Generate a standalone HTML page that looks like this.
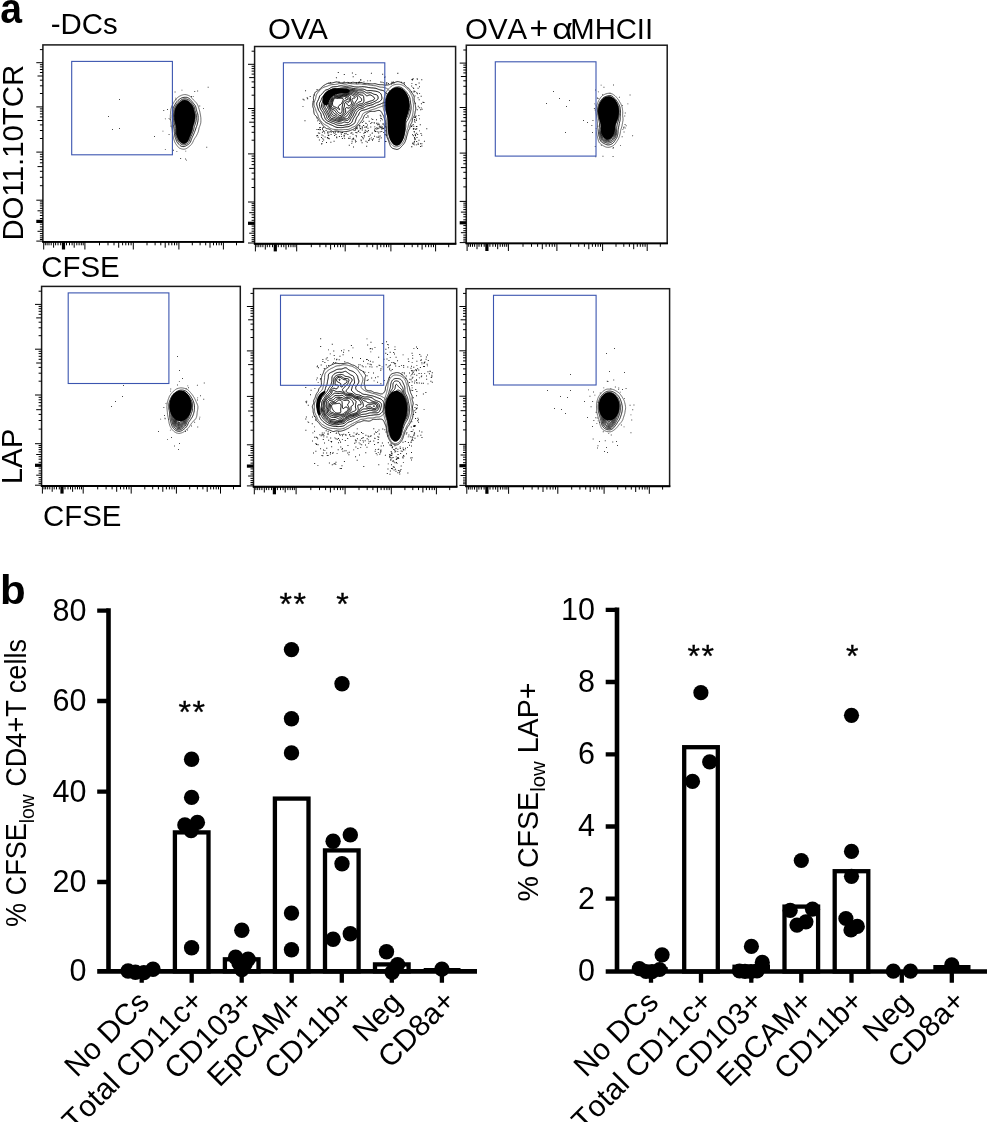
<!DOCTYPE html>
<html><head><meta charset="utf-8"><title>figure</title><style>html,body{margin:0;padding:0;background:#fff}svg{display:block}</style></head><body>
<svg width="987" height="1122" viewBox="0 0 987 1122" font-family="'Liberation Sans', sans-serif" fill="#000">
<rect width="987" height="1122" fill="#fff"/>
<rect x="42.9" y="44.9" width="200.5" height="197.0" fill="#fff" stroke="#1a1a1a" stroke-width="1.5"/>
<line x1="42.199999999999996" y1="241.9" x2="244.1" y2="241.9" stroke="#000" stroke-width="1.9"/>
<rect x="61.9" y="241.9" width="3.2" height="7.6" fill="#000"/>
<rect x="36.3" y="219.8" width="6.6" height="3.2" fill="#000"/>
<path d="M43.7,241.9v7.6M84.9,241.9v7.6M133.3,241.9v7.6M178.9,241.9v7.6M223.4,241.9v7.6M60.7,241.9v3.4000000000000004M58.0,241.9v3.4000000000000004M55.6,241.9v3.4000000000000004M53.6,241.9v5.8M51.2,241.9v3.4000000000000004M49.0,241.9v3.4000000000000004M47.1,241.9v3.4000000000000004M45.3,241.9v3.4000000000000004M66.5,241.9v3.4000000000000004M69.5,241.9v3.4000000000000004M72.1,241.9v3.4000000000000004M74.2,241.9v5.8M76.8,241.9v3.4000000000000004M79.1,241.9v3.4000000000000004M81.3,241.9v3.4000000000000004M83.2,241.9v3.4000000000000004M99.5,241.9v3.4000000000000004M108.0,241.9v3.4000000000000004M114.0,241.9v3.4000000000000004M118.7,241.9v5.8M122.6,241.9v3.4000000000000004M125.8,241.9v3.4000000000000004M128.6,241.9v3.4000000000000004M131.1,241.9v3.4000000000000004M147.0,241.9v3.4000000000000004M155.1,241.9v3.4000000000000004M160.8,241.9v3.4000000000000004M165.2,241.9v5.8M168.8,241.9v3.4000000000000004M171.8,241.9v3.4000000000000004M174.5,241.9v3.4000000000000004M176.8,241.9v3.4000000000000004M192.3,241.9v3.4000000000000004M200.1,241.9v3.4000000000000004M205.7,241.9v3.4000000000000004M210.0,241.9v5.8M213.5,241.9v3.4000000000000004M216.5,241.9v3.4000000000000004M219.1,241.9v3.4000000000000004M221.4,241.9v3.4000000000000004M236.5,241.9v3.4000000000000004M42.9,241.1h-6.6M42.9,200.2h-6.6M42.9,152.1h-6.6M42.9,106.9h-6.6M42.9,62.7h-6.6M42.9,224.2h-3.0M42.9,226.9h-3.0M42.9,229.3h-3.0M42.9,231.3h-5.4M42.9,233.6h-3.0M42.9,235.8h-3.0M42.9,237.8h-3.0M42.9,239.5h-3.0M42.9,218.5h-3.0M42.9,215.5h-3.0M42.9,212.9h-3.0M42.9,210.8h-5.4M42.9,208.3h-3.0M42.9,205.9h-3.0M42.9,203.8h-3.0M42.9,201.9h-3.0M42.9,185.7h-3.0M42.9,177.3h-3.0M42.9,171.3h-3.0M42.9,166.6h-5.4M42.9,162.8h-3.0M42.9,159.6h-3.0M42.9,156.8h-3.0M42.9,154.3h-3.0M42.9,138.5h-3.0M42.9,130.5h-3.0M42.9,124.9h-3.0M42.9,120.5h-5.4M42.9,116.9h-3.0M42.9,113.9h-3.0M42.9,111.2h-3.0M42.9,108.9h-3.0M42.9,93.5h-3.0M42.9,85.8h-3.0M42.9,80.2h-3.0M42.9,76.0h-5.4M42.9,72.5h-3.0M42.9,69.5h-3.0M42.9,66.9h-3.0M42.9,64.7h-3.0M42.9,49.6h-3.0" stroke="#000" stroke-width="1" fill="none"/>
<rect x="254.6" y="46.5" width="201.0" height="197.3" fill="#fff" stroke="#1a1a1a" stroke-width="1.5"/>
<line x1="253.9" y1="243.8" x2="456.3" y2="243.8" stroke="#000" stroke-width="1.9"/>
<rect x="273.7" y="243.8" width="3.2" height="7.6" fill="#000"/>
<rect x="248.0" y="221.7" width="6.6" height="3.2" fill="#000"/>
<path d="M255.4,243.8v7.6M296.7,243.8v7.6M345.2,243.8v7.6M390.9,243.8v7.6M435.6,243.8v7.6M272.5,243.8v3.4000000000000004M269.7,243.8v3.4000000000000004M267.3,243.8v3.4000000000000004M265.3,243.8v5.8M262.9,243.8v3.4000000000000004M260.8,243.8v3.4000000000000004M258.8,243.8v3.4000000000000004M257.0,243.8v3.4000000000000004M278.3,243.8v3.4000000000000004M281.3,243.8v3.4000000000000004M283.8,243.8v3.4000000000000004M286.0,243.8v5.8M288.6,243.8v3.4000000000000004M290.9,243.8v3.4000000000000004M293.1,243.8v3.4000000000000004M295.0,243.8v3.4000000000000004M311.3,243.8v3.4000000000000004M319.9,243.8v3.4000000000000004M325.9,243.8v3.4000000000000004M330.6,243.8v5.8M334.5,243.8v3.4000000000000004M337.7,243.8v3.4000000000000004M340.5,243.8v3.4000000000000004M343.0,243.8v3.4000000000000004M359.0,243.8v3.4000000000000004M367.0,243.8v3.4000000000000004M372.7,243.8v3.4000000000000004M377.2,243.8v5.8M380.8,243.8v3.4000000000000004M383.9,243.8v3.4000000000000004M386.5,243.8v3.4000000000000004M388.8,243.8v3.4000000000000004M404.4,243.8v3.4000000000000004M412.2,243.8v3.4000000000000004M417.8,243.8v3.4000000000000004M422.1,243.8v5.8M425.7,243.8v3.4000000000000004M428.6,243.8v3.4000000000000004M431.2,243.8v3.4000000000000004M433.5,243.8v3.4000000000000004M448.7,243.8v3.4000000000000004M254.6,243.0h-6.6M254.6,202.0h-6.6M254.6,153.9h-6.6M254.6,108.5h-6.6M254.6,64.3h-6.6M254.6,226.1h-3.0M254.6,228.8h-3.0M254.6,231.2h-3.0M254.6,233.2h-5.4M254.6,235.5h-3.0M254.6,237.7h-3.0M254.6,239.7h-3.0M254.6,241.4h-3.0M254.6,220.3h-3.0M254.6,217.4h-3.0M254.6,214.8h-3.0M254.6,212.7h-5.4M254.6,210.1h-3.0M254.6,207.8h-3.0M254.6,205.6h-3.0M254.6,203.7h-3.0M254.6,187.5h-3.0M254.6,179.1h-3.0M254.6,173.1h-3.0M254.6,168.4h-5.4M254.6,164.6h-3.0M254.6,161.4h-3.0M254.6,158.6h-3.0M254.6,156.1h-3.0M254.6,140.2h-3.0M254.6,132.3h-3.0M254.6,126.6h-3.0M254.6,122.2h-5.4M254.6,118.6h-3.0M254.6,115.6h-3.0M254.6,112.9h-3.0M254.6,110.6h-3.0M254.6,95.2h-3.0M254.6,87.4h-3.0M254.6,81.9h-3.0M254.6,77.6h-5.4M254.6,74.1h-3.0M254.6,71.1h-3.0M254.6,68.6h-3.0M254.6,66.3h-3.0M254.6,51.2h-3.0" stroke="#000" stroke-width="1" fill="none"/>
<rect x="466.3" y="45.2" width="200.9" height="198.2" fill="#fff" stroke="#1a1a1a" stroke-width="1.5"/>
<line x1="465.6" y1="243.4" x2="667.9000000000001" y2="243.4" stroke="#000" stroke-width="1.9"/>
<rect x="485.3" y="243.4" width="3.2" height="7.6" fill="#000"/>
<rect x="459.7" y="221.2" width="6.6" height="3.2" fill="#000"/>
<path d="M467.1,243.4v7.6M508.4,243.4v7.6M556.9,243.4v7.6M602.6,243.4v7.6M647.2,243.4v7.6M484.2,243.4v3.4000000000000004M481.4,243.4v3.4000000000000004M479.0,243.4v3.4000000000000004M477.0,243.4v5.8M474.6,243.4v3.4000000000000004M472.5,243.4v3.4000000000000004M470.5,243.4v3.4000000000000004M468.7,243.4v3.4000000000000004M489.9,243.4v3.4000000000000004M492.9,243.4v3.4000000000000004M495.5,243.4v3.4000000000000004M497.7,243.4v5.8M500.2,243.4v3.4000000000000004M502.6,243.4v3.4000000000000004M504.7,243.4v3.4000000000000004M506.7,243.4v3.4000000000000004M523.0,243.4v3.4000000000000004M531.5,243.4v3.4000000000000004M537.6,243.4v3.4000000000000004M542.3,243.4v5.8M546.1,243.4v3.4000000000000004M549.4,243.4v3.4000000000000004M552.2,243.4v3.4000000000000004M554.7,243.4v3.4000000000000004M570.6,243.4v3.4000000000000004M578.7,243.4v3.4000000000000004M584.4,243.4v3.4000000000000004M588.8,243.4v5.8M592.4,243.4v3.4000000000000004M595.5,243.4v3.4000000000000004M598.1,243.4v3.4000000000000004M600.5,243.4v3.4000000000000004M616.0,243.4v3.4000000000000004M623.8,243.4v3.4000000000000004M629.4,243.4v3.4000000000000004M633.7,243.4v5.8M637.3,243.4v3.4000000000000004M640.3,243.4v3.4000000000000004M642.8,243.4v3.4000000000000004M645.1,243.4v3.4000000000000004M660.3,243.4v3.4000000000000004M466.3,242.6h-6.6M466.3,201.4h-6.6M466.3,153.1h-6.6M466.3,107.5h-6.6M466.3,63.1h-6.6M466.3,225.6h-3.0M466.3,228.4h-3.0M466.3,230.7h-3.0M466.3,232.7h-5.4M466.3,235.1h-3.0M466.3,237.3h-3.0M466.3,239.2h-3.0M466.3,241.0h-3.0M466.3,219.8h-3.0M466.3,216.8h-3.0M466.3,214.3h-3.0M466.3,212.1h-5.4M466.3,209.6h-3.0M466.3,207.2h-3.0M466.3,205.1h-3.0M466.3,203.2h-3.0M466.3,186.9h-3.0M466.3,178.4h-3.0M466.3,172.3h-3.0M466.3,167.6h-5.4M466.3,163.8h-3.0M466.3,160.6h-3.0M466.3,157.8h-3.0M466.3,155.3h-3.0M466.3,139.4h-3.0M466.3,131.3h-3.0M466.3,125.7h-3.0M466.3,121.2h-5.4M466.3,117.6h-3.0M466.3,114.6h-3.0M466.3,111.9h-3.0M466.3,109.6h-3.0M466.3,94.1h-3.0M466.3,86.3h-3.0M466.3,80.8h-3.0M466.3,76.5h-5.4M466.3,72.9h-3.0M466.3,70.0h-3.0M466.3,67.4h-3.0M466.3,65.1h-3.0M466.3,50.0h-3.0" stroke="#000" stroke-width="1" fill="none"/>
<rect x="41.6" y="286.4" width="198.7" height="199.6" fill="#fff" stroke="#1a1a1a" stroke-width="1.5"/>
<line x1="40.9" y1="486.0" x2="241.0" y2="486.0" stroke="#000" stroke-width="1.9"/>
<rect x="60.4" y="486.0" width="3.2" height="7.6" fill="#000"/>
<rect x="35.0" y="463.7" width="6.6" height="3.2" fill="#000"/>
<path d="M42.4,486.0v7.6M83.2,486.0v7.6M131.2,486.0v7.6M176.4,486.0v7.6M220.5,486.0v7.6M59.3,486.0v3.4000000000000004M56.5,486.0v3.4000000000000004M54.2,486.0v3.4000000000000004M52.2,486.0v5.8M49.8,486.0v3.4000000000000004M47.7,486.0v3.4000000000000004M45.7,486.0v3.4000000000000004M44.0,486.0v3.4000000000000004M65.0,486.0v3.4000000000000004M68.0,486.0v3.4000000000000004M70.5,486.0v3.4000000000000004M72.6,486.0v5.8M75.2,486.0v3.4000000000000004M77.5,486.0v3.4000000000000004M79.6,486.0v3.4000000000000004M81.5,486.0v3.4000000000000004M97.7,486.0v3.4000000000000004M106.1,486.0v3.4000000000000004M112.1,486.0v3.4000000000000004M116.7,486.0v5.8M120.5,486.0v3.4000000000000004M123.8,486.0v3.4000000000000004M126.5,486.0v3.4000000000000004M129.0,486.0v3.4000000000000004M144.8,486.0v3.4000000000000004M152.7,486.0v3.4000000000000004M158.4,486.0v3.4000000000000004M162.8,486.0v5.8M166.4,486.0v3.4000000000000004M169.4,486.0v3.4000000000000004M172.0,486.0v3.4000000000000004M174.3,486.0v3.4000000000000004M189.7,486.0v3.4000000000000004M197.4,486.0v3.4000000000000004M202.9,486.0v3.4000000000000004M207.2,486.0v5.8M210.7,486.0v3.4000000000000004M213.6,486.0v3.4000000000000004M216.2,486.0v3.4000000000000004M218.5,486.0v3.4000000000000004M233.5,486.0v3.4000000000000004M41.6,485.2h-6.6M41.6,443.7h-6.6M41.6,395.0h-6.6M41.6,349.2h-6.6M41.6,304.4h-6.6M41.6,468.1h-3.0M41.6,470.9h-3.0M41.6,473.2h-3.0M41.6,475.2h-5.4M41.6,477.6h-3.0M41.6,479.8h-3.0M41.6,481.8h-3.0M41.6,483.6h-3.0M41.6,462.3h-3.0M41.6,459.2h-3.0M41.6,456.7h-3.0M41.6,454.5h-5.4M41.6,451.9h-3.0M41.6,449.6h-3.0M41.6,447.4h-3.0M41.6,445.5h-3.0M41.6,429.1h-3.0M41.6,420.5h-3.0M41.6,414.4h-3.0M41.6,409.7h-5.4M41.6,405.9h-3.0M41.6,402.6h-3.0M41.6,399.8h-3.0M41.6,397.3h-3.0M41.6,381.2h-3.0M41.6,373.2h-3.0M41.6,367.4h-3.0M41.6,363.0h-5.4M41.6,359.3h-3.0M41.6,356.3h-3.0M41.6,353.6h-3.0M41.6,351.3h-3.0M41.6,335.7h-3.0M41.6,327.8h-3.0M41.6,322.2h-3.0M41.6,317.9h-5.4M41.6,314.3h-3.0M41.6,311.3h-3.0M41.6,308.7h-3.0M41.6,306.4h-3.0M41.6,291.2h-3.0" stroke="#000" stroke-width="1" fill="none"/>
<rect x="253.5" y="288.6" width="203.2" height="198.1" fill="#fff" stroke="#1a1a1a" stroke-width="1.5"/>
<line x1="252.8" y1="486.7" x2="457.4" y2="486.7" stroke="#000" stroke-width="1.9"/>
<rect x="272.8" y="486.7" width="3.2" height="7.6" fill="#000"/>
<rect x="246.9" y="464.5" width="6.6" height="3.2" fill="#000"/>
<path d="M254.3,486.7v7.6M296.1,486.7v7.6M345.1,486.7v7.6M391.3,486.7v7.6M436.4,486.7v7.6M271.6,486.7v3.4000000000000004M268.8,486.7v3.4000000000000004M266.4,486.7v3.4000000000000004M264.3,486.7v5.8M261.9,486.7v3.4000000000000004M259.7,486.7v3.4000000000000004M257.7,486.7v3.4000000000000004M255.9,486.7v3.4000000000000004M277.4,486.7v3.4000000000000004M280.5,486.7v3.4000000000000004M283.1,486.7v3.4000000000000004M285.2,486.7v5.8M287.8,486.7v3.4000000000000004M290.2,486.7v3.4000000000000004M292.4,486.7v3.4000000000000004M294.3,486.7v3.4000000000000004M310.8,486.7v3.4000000000000004M319.5,486.7v3.4000000000000004M325.6,486.7v3.4000000000000004M330.4,486.7v5.8M334.2,486.7v3.4000000000000004M337.5,486.7v3.4000000000000004M340.4,486.7v3.4000000000000004M342.9,486.7v3.4000000000000004M359.0,486.7v3.4000000000000004M367.2,486.7v3.4000000000000004M372.9,486.7v3.4000000000000004M377.4,486.7v5.8M381.1,486.7v3.4000000000000004M384.2,486.7v3.4000000000000004M386.9,486.7v3.4000000000000004M389.2,486.7v3.4000000000000004M404.9,486.7v3.4000000000000004M412.8,486.7v3.4000000000000004M418.5,486.7v3.4000000000000004M422.9,486.7v5.8M426.4,486.7v3.4000000000000004M429.4,486.7v3.4000000000000004M432.1,486.7v3.4000000000000004M434.4,486.7v3.4000000000000004M449.7,486.7v3.4000000000000004M253.5,485.9h-6.6M253.5,444.8h-6.6M253.5,396.4h-6.6M253.5,350.9h-6.6M253.5,306.5h-6.6M253.5,468.9h-3.0M253.5,471.7h-3.0M253.5,474.0h-3.0M253.5,476.0h-5.4M253.5,478.4h-3.0M253.5,480.6h-3.0M253.5,482.5h-3.0M253.5,484.3h-3.0M253.5,463.1h-3.0M253.5,460.1h-3.0M253.5,457.6h-3.0M253.5,455.4h-5.4M253.5,452.9h-3.0M253.5,450.5h-3.0M253.5,448.4h-3.0M253.5,446.5h-3.0M253.5,430.2h-3.0M253.5,421.7h-3.0M253.5,415.7h-3.0M253.5,411.0h-5.4M253.5,407.2h-3.0M253.5,403.9h-3.0M253.5,401.1h-3.0M253.5,398.6h-3.0M253.5,382.7h-3.0M253.5,374.7h-3.0M253.5,369.0h-3.0M253.5,364.6h-5.4M253.5,361.0h-3.0M253.5,358.0h-3.0M253.5,355.3h-3.0M253.5,353.0h-3.0M253.5,337.5h-3.0M253.5,329.7h-3.0M253.5,324.1h-3.0M253.5,319.8h-5.4M253.5,316.3h-3.0M253.5,313.3h-3.0M253.5,310.8h-3.0M253.5,308.5h-3.0M253.5,293.4h-3.0" stroke="#000" stroke-width="1" fill="none"/>
<rect x="466.0" y="288.7" width="203.6" height="197.5" fill="#fff" stroke="#1a1a1a" stroke-width="1.5"/>
<line x1="465.3" y1="486.2" x2="670.3000000000001" y2="486.2" stroke="#000" stroke-width="1.9"/>
<rect x="485.3" y="486.2" width="3.2" height="7.6" fill="#000"/>
<rect x="459.4" y="464.1" width="6.6" height="3.2" fill="#000"/>
<path d="M466.8,486.2v7.6M508.6,486.2v7.6M557.8,486.2v7.6M604.1,486.2v7.6M649.3,486.2v7.6M484.1,486.2v3.4000000000000004M481.3,486.2v3.4000000000000004M478.9,486.2v3.4000000000000004M476.9,486.2v5.8M474.5,486.2v3.4000000000000004M472.2,486.2v3.4000000000000004M470.2,486.2v3.4000000000000004M468.4,486.2v3.4000000000000004M490.0,486.2v3.4000000000000004M493.0,486.2v3.4000000000000004M495.6,486.2v3.4000000000000004M497.8,486.2v5.8M500.4,486.2v3.4000000000000004M502.8,486.2v3.4000000000000004M505.0,486.2v3.4000000000000004M506.9,486.2v3.4000000000000004M523.4,486.2v3.4000000000000004M532.1,486.2v3.4000000000000004M538.2,486.2v3.4000000000000004M543.0,486.2v5.8M546.9,486.2v3.4000000000000004M550.2,486.2v3.4000000000000004M553.0,486.2v3.4000000000000004M555.5,486.2v3.4000000000000004M571.7,486.2v3.4000000000000004M579.9,486.2v3.4000000000000004M585.7,486.2v3.4000000000000004M590.2,486.2v5.8M593.8,486.2v3.4000000000000004M596.9,486.2v3.4000000000000004M599.6,486.2v3.4000000000000004M602.0,486.2v3.4000000000000004M617.7,486.2v3.4000000000000004M625.7,486.2v3.4000000000000004M631.3,486.2v3.4000000000000004M635.7,486.2v5.8M639.3,486.2v3.4000000000000004M642.3,486.2v3.4000000000000004M644.9,486.2v3.4000000000000004M647.2,486.2v3.4000000000000004M662.6,486.2v3.4000000000000004M466.0,485.4h-6.6M466.0,444.4h-6.6M466.0,396.2h-6.6M466.0,350.8h-6.6M466.0,306.5h-6.6M466.0,468.5h-3.0M466.0,471.2h-3.0M466.0,473.6h-3.0M466.0,475.5h-5.4M466.0,477.9h-3.0M466.0,480.1h-3.0M466.0,482.1h-3.0M466.0,483.8h-3.0M466.0,462.7h-3.0M466.0,459.7h-3.0M466.0,457.2h-3.0M466.0,455.0h-5.4M466.0,452.5h-3.0M466.0,450.1h-3.0M466.0,448.0h-3.0M466.0,446.1h-3.0M466.0,429.9h-3.0M466.0,421.4h-3.0M466.0,415.4h-3.0M466.0,410.7h-5.4M466.0,406.9h-3.0M466.0,403.7h-3.0M466.0,400.9h-3.0M466.0,398.4h-3.0M466.0,382.5h-3.0M466.0,374.5h-3.0M466.0,368.9h-3.0M466.0,364.5h-5.4M466.0,360.9h-3.0M466.0,357.8h-3.0M466.0,355.2h-3.0M466.0,352.9h-3.0M466.0,337.5h-3.0M466.0,329.7h-3.0M466.0,324.1h-3.0M466.0,319.8h-5.4M466.0,316.3h-3.0M466.0,313.4h-3.0M466.0,310.8h-3.0M466.0,308.5h-3.0M466.0,293.4h-3.0" stroke="#000" stroke-width="1" fill="none"/>
<path d="M183.0,100.4 L183.6,100.2 L184.4,100.1 L185.2,100.2 L186.0,100.3 L186.5,100.4 L187.2,100.7 L187.6,100.8 L188.2,101.2 L188.8,101.6 L189.2,101.9 L189.6,102.3 L190.0,102.7 L190.4,103.1 L190.8,103.5 L191.2,104.0 L191.5,104.4 L191.8,104.8 L192.1,105.2 L192.4,105.6 L192.8,106.3 L193.0,106.8 L193.2,107.3 L193.4,108.0 L193.6,108.8 L193.7,109.2 L193.9,110.0 L194.0,110.6 L194.2,111.2 L194.4,112.0 L194.5,112.4 L194.7,113.2 L194.9,113.6 L195.1,114.4 L195.2,115.2 L195.2,115.6 L195.2,116.4 L195.2,116.8 L195.1,117.6 L195.0,118.4 L194.9,119.2 L194.8,119.6 L194.7,120.4 L194.5,121.2 L194.4,121.8 L194.2,122.4 L194.0,123.2 L193.9,123.6 L193.6,124.4 L193.5,124.8 L193.2,125.6 L193.1,126.0 L192.9,126.8 L192.8,127.2 L192.6,128.0 L192.5,128.8 L192.4,129.3 L192.2,130.0 L192.0,130.8 L191.9,131.2 L191.6,132.0 L191.5,132.4 L191.2,133.2 L191.0,133.6 L190.8,134.2 L190.5,134.8 L190.4,135.2 L190.0,136.0 L189.8,136.4 L189.6,136.9 L189.3,137.6 L189.2,138.0 L188.9,138.8 L188.7,139.2 L188.4,139.9 L188.2,140.4 L188.0,140.8 L187.6,141.4 L187.2,141.9 L186.8,142.3 L186.4,142.6 L186.0,142.9 L185.4,143.2 L184.8,143.4 L184.0,143.5 L183.2,143.5 L182.4,143.3 L182.0,143.2 L181.3,142.8 L180.8,142.5 L180.4,142.1 L180.0,141.7 L179.6,141.3 L179.2,140.8 L178.9,140.4 L178.7,140.0 L178.4,139.5 L178.1,138.8 L177.9,138.4 L177.6,137.7 L177.4,137.2 L177.2,136.7 L176.9,136.0 L176.8,135.5 L176.6,134.8 L176.5,134.0 L176.4,133.6 L176.3,132.8 L176.3,132.0 L176.3,131.2 L176.3,130.4 L176.3,129.6 L176.3,128.8 L176.2,128.0 L176.1,127.2 L176.0,126.4 L175.9,126.0 L175.8,125.2 L175.6,124.5 L175.4,124.0 L175.2,123.2 L175.1,122.8 L174.9,122.0 L174.8,121.6 L174.7,120.8 L174.6,120.0 L174.5,119.2 L174.5,118.4 L174.5,117.6 L174.5,116.8 L174.5,116.0 L174.5,115.2 L174.5,114.4 L174.6,113.6 L174.6,112.8 L174.7,112.0 L174.7,111.2 L174.8,110.7 L174.9,110.0 L175.2,109.2 L175.3,108.8 L175.6,108.1 L175.8,107.6 L176.0,107.2 L176.4,106.4 L176.6,106.0 L176.9,105.6 L177.2,105.1 L177.6,104.6 L178.0,104.1 L178.4,103.7 L178.8,103.3 L179.2,103.0 L179.6,102.6 L180.0,102.3 L180.4,102.0 L180.8,101.6 L181.4,101.2 L182.0,100.8 L182.4,100.6 L183.0,100.4Z" fill="#000" stroke="none"/>
<path d="M181.8,114.8 L182.4,114.6 L183.0,114.8 L183.6,115.0 L184.2,115.2 L184.8,115.3 L185.6,115.5 L186.0,116.0 L186.1,116.4 L186.2,117.2 L186.2,118.0 L186.0,118.8 L185.9,119.2 L185.6,120.0 L185.3,120.4 L184.8,120.7 L184.0,120.6 L183.6,120.4 L183.1,120.0 L182.6,119.6 L182.2,119.2 L181.9,118.8 L181.6,118.4 L181.3,117.6 L181.2,117.2 L181.2,116.4 L181.2,116.0 L181.5,115.2 L181.8,114.8Z" fill="none" stroke="#000" stroke-width="0.9"/>
<path d="M182.4,110.4 L183.2,110.2 L184.0,110.3 L184.4,110.8 L184.1,111.6 L183.9,112.0 L183.6,112.5 L183.5,113.2 L183.6,113.6 L184.4,114.0 L185.2,113.9 L185.6,114.0 L186.2,114.4 L186.5,114.8 L186.7,115.6 L186.8,116.4 L186.7,117.2 L186.7,118.0 L186.5,118.8 L186.4,119.5 L186.2,120.0 L186.0,120.7 L185.8,121.2 L185.5,121.6 L184.8,121.9 L184.1,121.6 L183.6,121.2 L183.2,120.8 L182.8,120.5 L182.4,120.1 L182.0,119.6 L181.6,119.2 L181.4,118.8 L181.2,118.4 L180.9,117.6 L180.8,117.0 L180.8,116.4 L180.8,115.9 L180.9,115.2 L181.0,114.4 L181.1,113.6 L181.2,112.8 L181.2,112.3 L181.4,111.6 L181.6,111.2 L182.0,110.7 L182.4,110.4Z" fill="none" stroke="#000" stroke-width="0.9"/>
<path d="M182.6,109.6 L183.2,109.4 L184.0,109.3 L184.8,109.5 L185.2,109.7 L185.6,110.3 L185.7,110.8 L185.9,111.6 L186.0,112.1 L186.3,112.8 L186.5,113.2 L186.8,113.7 L187.1,114.4 L187.3,114.8 L187.4,115.6 L187.4,116.4 L187.3,117.2 L187.2,117.7 L187.1,118.4 L187.0,119.2 L186.8,120.0 L186.7,120.4 L186.6,121.2 L186.4,121.7 L186.1,122.4 L185.8,122.8 L185.2,123.1 L184.4,123.0 L184.0,122.7 L183.6,122.3 L183.2,121.8 L182.8,121.3 L182.4,120.8 L182.0,120.4 L181.7,120.0 L181.4,119.6 L181.1,119.2 L180.8,118.5 L180.6,118.0 L180.4,117.2 L180.4,116.8 L180.4,116.0 L180.4,115.6 L180.5,114.8 L180.5,114.0 L180.6,113.2 L180.6,112.4 L180.8,111.7 L181.0,111.2 L181.2,110.8 L181.6,110.3 L182.0,110.0 L182.6,109.6Z" fill="none" stroke="#000" stroke-width="0.9"/>
<path d="M182.8,108.8 L183.2,108.6 L184.0,108.5 L184.8,108.6 L185.4,108.8 L185.9,109.2 L186.2,109.6 L186.4,110.0 L186.6,110.8 L186.8,111.6 L186.9,112.0 L187.2,112.8 L187.4,113.2 L187.6,113.7 L187.9,114.4 L188.0,114.8 L188.1,115.6 L188.0,116.4 L188.0,116.8 L187.8,117.6 L187.7,118.4 L187.6,119.1 L187.5,119.6 L187.4,120.4 L187.3,121.2 L187.2,121.8 L187.1,122.4 L186.8,123.1 L186.4,123.6 L186.0,124.0 L185.6,124.2 L184.8,124.4 L184.0,124.2 L183.6,123.8 L183.2,123.3 L182.9,122.8 L182.7,122.4 L182.4,122.0 L182.0,121.4 L181.6,120.9 L181.2,120.4 L181.0,120.0 L180.7,119.6 L180.4,118.9 L180.2,118.4 L180.0,117.6 L180.0,117.2 L179.9,116.4 L179.9,115.6 L180.0,114.8 L180.0,114.0 L180.0,113.5 L180.1,112.8 L180.2,112.0 L180.4,111.3 L180.6,110.8 L180.9,110.4 L181.2,110.0 L181.6,109.6 L182.1,109.2 L182.8,108.8Z" fill="none" stroke="#000" stroke-width="0.9"/>
<path d="M183.1,108.0 L183.6,107.8 L184.4,107.8 L185.2,107.9 L185.6,108.1 L186.1,108.4 L186.5,108.8 L186.8,109.2 L187.1,110.0 L187.2,110.4 L187.4,111.2 L187.6,112.0 L187.7,112.4 L188.0,113.0 L188.2,113.6 L188.4,114.0 L188.6,114.8 L188.7,115.6 L188.7,116.4 L188.5,117.2 L188.4,117.9 L188.3,118.4 L188.2,119.2 L188.1,120.0 L188.0,120.8 L188.0,121.2 L187.8,122.0 L187.7,122.8 L187.5,123.2 L187.2,123.8 L186.8,124.4 L186.4,124.7 L186.0,125.0 L185.6,125.2 L184.9,125.6 L184.4,125.8 L183.7,125.6 L183.3,125.2 L183.0,124.8 L182.8,124.4 L182.4,123.6 L182.2,123.2 L182.0,122.8 L181.6,122.1 L181.3,121.6 L181.0,121.2 L180.8,120.8 L180.4,120.1 L180.2,119.6 L180.0,119.2 L179.7,118.4 L179.6,117.7 L179.5,117.2 L179.5,116.4 L179.5,115.6 L179.5,114.8 L179.5,114.0 L179.5,113.2 L179.6,112.7 L179.7,112.0 L180.0,111.2 L180.1,110.8 L180.4,110.3 L180.8,109.8 L181.2,109.3 L181.6,109.0 L182.0,108.6 L182.4,108.4 L183.1,108.0Z" fill="none" stroke="#000" stroke-width="0.9"/>
<path d="M183.7,107.2 L184.4,107.2 L184.8,107.2 L185.6,107.5 L186.0,107.7 L186.5,108.0 L187.0,108.4 L187.3,108.8 L187.6,109.6 L187.7,110.0 L187.9,110.8 L188.0,111.4 L188.2,112.0 L188.4,112.6 L188.6,113.2 L188.8,113.6 L189.1,114.4 L189.2,114.8 L189.3,115.6 L189.3,116.4 L189.2,116.8 L189.0,117.6 L188.9,118.4 L188.8,118.8 L188.7,119.6 L188.6,120.4 L188.5,121.2 L188.4,121.9 L188.3,122.4 L188.1,123.2 L188.0,123.6 L187.6,124.3 L187.2,124.8 L186.9,125.2 L186.4,125.6 L186.0,126.0 L185.6,126.3 L185.2,126.7 L184.9,127.2 L184.6,127.6 L184.4,128.0 L184.0,128.8 L183.6,129.2 L183.3,129.2 L183.1,128.8 L183.0,128.0 L182.8,127.2 L182.7,126.8 L182.5,126.0 L182.4,125.6 L182.1,124.8 L182.0,124.4 L181.6,123.6 L181.5,123.2 L181.2,122.7 L180.8,122.0 L180.6,121.6 L180.4,121.2 L180.0,120.5 L179.8,120.0 L179.6,119.5 L179.4,118.8 L179.2,118.0 L179.2,117.6 L179.1,116.8 L179.1,116.0 L179.1,115.2 L179.1,114.4 L179.1,113.6 L179.2,112.8 L179.2,112.4 L179.4,111.6 L179.6,111.1 L179.9,110.4 L180.2,110.0 L180.4,109.6 L180.8,109.2 L181.2,108.7 L181.6,108.4 L182.1,108.0 L182.7,107.6 L183.2,107.4 L183.7,107.2Z" fill="none" stroke="#000" stroke-width="0.9"/>
<path d="M183.3,106.8 L184.0,106.7 L184.8,106.7 L185.2,106.8 L186.0,107.2 L186.4,107.4 L186.8,107.6 L187.2,108.0 L187.6,108.4 L188.0,109.2 L188.1,109.6 L188.3,110.4 L188.4,111.2 L188.5,111.6 L188.8,112.4 L188.9,112.8 L189.2,113.5 L189.4,114.0 L189.6,114.6 L189.7,115.2 L189.8,116.0 L189.7,116.8 L189.6,117.2 L189.4,118.0 L189.2,118.8 L189.2,119.2 L189.1,120.0 L189.0,120.8 L188.9,121.6 L188.8,122.0 L188.6,122.8 L188.4,123.6 L188.2,124.0 L188.0,124.5 L187.6,125.1 L187.2,125.6 L186.8,126.0 L186.4,126.4 L186.1,126.8 L185.8,127.2 L185.6,127.6 L185.2,128.4 L185.1,128.8 L184.8,129.6 L184.7,130.0 L184.4,130.8 L184.2,131.2 L184.0,131.7 L183.6,132.2 L183.2,132.5 L182.6,132.4 L182.2,132.0 L182.0,131.2 L182.0,130.4 L182.1,129.6 L182.1,128.8 L182.1,128.0 L182.1,127.2 L182.0,126.7 L181.9,126.0 L181.7,125.2 L181.5,124.8 L181.2,124.0 L181.1,123.6 L180.8,123.1 L180.5,122.4 L180.3,122.0 L180.0,121.5 L179.7,120.8 L179.5,120.4 L179.2,119.6 L179.1,119.2 L179.0,118.4 L178.8,117.6 L178.8,117.2 L178.8,116.4 L178.7,115.6 L178.7,114.8 L178.8,114.0 L178.8,113.4 L178.9,112.8 L179.0,112.0 L179.2,111.3 L179.4,110.8 L179.6,110.3 L180.0,109.7 L180.3,109.2 L180.7,108.8 L181.1,108.4 L181.5,108.0 L182.0,107.6 L182.4,107.3 L182.8,107.0 L183.3,106.8Z" fill="none" stroke="#000" stroke-width="0.9"/>
<path d="M182.9,106.4 L183.6,106.1 L184.4,106.1 L185.2,106.3 L185.6,106.4 L186.4,106.8 L186.8,107.0 L187.2,107.3 L187.6,107.6 L188.0,108.1 L188.4,108.8 L188.5,109.2 L188.7,110.0 L188.8,110.6 L188.9,111.2 L189.1,112.0 L189.3,112.4 L189.6,113.2 L189.8,113.6 L190.0,114.2 L190.2,114.8 L190.3,115.6 L190.2,116.4 L190.1,117.2 L190.0,117.6 L189.8,118.4 L189.7,119.2 L189.6,119.6 L189.5,120.4 L189.4,121.2 L189.3,122.0 L189.2,122.4 L189.0,123.2 L188.8,123.8 L188.6,124.4 L188.4,124.8 L188.0,125.4 L187.6,126.0 L187.3,126.4 L186.9,126.8 L186.7,127.2 L186.4,127.6 L186.0,128.4 L185.9,128.8 L185.6,129.6 L185.5,130.0 L185.3,130.8 L185.1,131.2 L184.9,132.0 L184.7,132.4 L184.4,132.9 L184.0,133.4 L183.6,133.7 L182.8,133.9 L182.2,133.6 L181.7,133.2 L181.5,132.8 L181.3,132.0 L181.2,131.2 L181.3,130.4 L181.4,129.6 L181.5,128.8 L181.5,128.0 L181.4,127.2 L181.3,126.4 L181.2,125.8 L181.0,125.2 L180.8,124.5 L180.6,124.0 L180.4,123.6 L180.1,122.8 L179.9,122.4 L179.6,121.8 L179.3,121.2 L179.2,120.8 L178.9,120.0 L178.8,119.6 L178.6,118.8 L178.5,118.0 L178.4,117.2 L178.4,116.8 L178.4,116.0 L178.4,115.2 L178.4,114.4 L178.4,114.0 L178.5,113.2 L178.6,112.4 L178.7,111.6 L178.9,111.2 L179.2,110.4 L179.4,110.0 L179.6,109.6 L180.0,109.0 L180.4,108.5 L180.8,108.1 L181.2,107.7 L181.6,107.4 L182.0,107.0 L182.4,106.7 L182.9,106.4Z" fill="none" stroke="#000" stroke-width="0.9"/>
<path d="M183.4,105.6 L184.0,105.5 L184.7,105.6 L185.2,105.7 L185.9,106.0 L186.4,106.2 L186.8,106.4 L187.4,106.8 L188.0,107.2 L188.3,107.6 L188.6,108.0 L188.8,108.4 L189.1,109.2 L189.2,109.8 L189.3,110.4 L189.5,111.2 L189.6,111.7 L189.8,112.4 L190.0,112.8 L190.3,113.6 L190.5,114.0 L190.7,114.8 L190.8,115.5 L190.8,116.0 L190.8,116.4 L190.6,117.2 L190.4,118.0 L190.3,118.4 L190.2,119.2 L190.0,120.0 L190.0,120.4 L189.8,121.2 L189.7,122.0 L189.6,122.6 L189.5,123.2 L189.2,124.0 L189.1,124.4 L188.8,125.0 L188.5,125.6 L188.2,126.0 L188.0,126.4 L187.6,126.9 L187.2,127.6 L186.9,128.0 L186.8,128.4 L186.4,129.2 L186.3,129.6 L186.1,130.4 L186.0,130.8 L185.8,131.6 L185.6,132.2 L185.4,132.8 L185.2,133.2 L184.8,133.9 L184.4,134.4 L184.0,134.7 L183.6,134.9 L182.8,135.0 L182.3,134.8 L181.8,134.4 L181.4,134.0 L181.1,133.6 L180.8,133.0 L180.7,132.4 L180.6,131.6 L180.7,130.8 L180.8,130.0 L180.8,129.6 L180.9,128.8 L180.9,128.0 L180.9,127.2 L180.8,126.5 L180.7,126.0 L180.4,125.2 L180.3,124.8 L180.0,124.0 L179.8,123.6 L179.6,123.1 L179.3,122.4 L179.1,122.0 L178.8,121.2 L178.7,120.8 L178.5,120.0 L178.4,119.6 L178.2,118.8 L178.1,118.0 L178.0,117.2 L178.0,116.4 L178.0,116.0 L178.0,115.2 L178.0,114.8 L178.0,114.0 L178.1,113.2 L178.2,112.4 L178.4,111.6 L178.5,111.2 L178.8,110.4 L179.0,110.0 L179.2,109.5 L179.6,108.9 L180.0,108.4 L180.3,108.0 L180.7,107.6 L181.1,107.2 L181.6,106.8 L182.0,106.4 L182.4,106.1 L182.8,105.9 L183.4,105.6Z" fill="none" stroke="#000" stroke-width="0.9"/>
<path d="M182.9,105.2 L183.6,104.9 L184.4,104.9 L185.2,105.1 L185.6,105.3 L186.3,105.6 L186.8,105.9 L187.2,106.1 L187.8,106.4 L188.3,106.8 L188.8,107.2 L189.1,107.6 L189.3,108.0 L189.5,108.8 L189.6,109.2 L189.8,110.0 L189.9,110.8 L190.0,111.2 L190.3,112.0 L190.4,112.4 L190.7,113.2 L190.9,113.6 L191.1,114.4 L191.2,114.8 L191.3,115.6 L191.3,116.4 L191.2,116.9 L191.0,117.6 L190.8,118.4 L190.7,118.8 L190.6,119.6 L190.4,120.4 L190.4,120.8 L190.2,121.6 L190.1,122.4 L190.0,122.8 L189.8,123.6 L189.6,124.3 L189.4,124.8 L189.2,125.3 L188.8,126.0 L188.6,126.4 L188.4,126.8 L188.0,127.4 L187.7,128.0 L187.5,128.4 L187.2,129.0 L187.0,129.6 L186.8,130.3 L186.7,130.8 L186.5,131.6 L186.4,132.0 L186.1,132.8 L186.0,133.2 L185.7,134.0 L185.5,134.4 L185.2,134.8 L184.8,135.4 L184.4,135.8 L184.0,136.1 L183.2,136.3 L182.4,136.1 L182.0,135.8 L181.6,135.4 L181.2,134.9 L180.8,134.4 L180.6,134.0 L180.4,133.6 L180.1,132.8 L180.0,132.0 L180.1,131.2 L180.2,130.4 L180.3,129.6 L180.4,128.8 L180.4,128.0 L180.4,127.2 L180.2,126.4 L180.0,125.6 L179.9,125.2 L179.6,124.5 L179.4,124.0 L179.2,123.5 L178.9,122.8 L178.8,122.4 L178.5,121.6 L178.3,121.2 L178.1,120.4 L178.0,120.0 L177.8,119.2 L177.7,118.4 L177.7,117.6 L177.6,116.8 L177.6,116.0 L177.6,115.2 L177.6,114.4 L177.7,113.6 L177.8,112.8 L177.9,112.0 L178.0,111.6 L178.2,110.8 L178.4,110.3 L178.7,109.6 L178.9,109.2 L179.2,108.8 L179.6,108.2 L180.0,107.7 L180.4,107.3 L180.8,106.9 L181.2,106.5 L181.6,106.1 L182.0,105.8 L182.4,105.5 L182.9,105.2Z" fill="none" stroke="#000" stroke-width="0.9"/>
<path d="M183.2,104.4 L184.0,104.3 L184.8,104.4 L185.2,104.5 L185.9,104.8 L186.4,105.0 L186.8,105.2 L187.6,105.6 L188.0,105.8 L188.4,106.1 L188.8,106.4 L189.2,106.8 L189.6,107.4 L189.9,108.0 L190.0,108.4 L190.2,109.2 L190.4,110.0 L190.4,110.4 L190.6,111.2 L190.8,111.8 L191.0,112.4 L191.2,112.9 L191.5,113.6 L191.6,114.1 L191.8,114.8 L191.9,115.6 L191.8,116.4 L191.7,117.2 L191.6,117.6 L191.4,118.4 L191.2,119.1 L191.1,119.6 L190.9,120.4 L190.8,121.2 L190.7,121.6 L190.6,122.4 L190.4,123.2 L190.3,123.6 L190.1,124.4 L189.9,124.8 L189.6,125.6 L189.4,126.0 L189.2,126.5 L188.8,127.2 L188.6,127.6 L188.4,128.0 L188.0,128.8 L187.9,129.2 L187.6,130.0 L187.5,130.4 L187.3,131.2 L187.2,131.6 L187.0,132.4 L186.8,133.1 L186.7,133.6 L186.4,134.3 L186.2,134.8 L186.0,135.2 L185.6,135.9 L185.3,136.4 L185.0,136.8 L184.6,137.2 L184.1,137.6 L183.6,137.8 L182.8,137.8 L182.4,137.6 L181.9,137.2 L181.6,136.8 L181.2,136.3 L180.8,135.6 L180.5,135.2 L180.3,134.8 L180.0,134.3 L179.7,133.6 L179.6,133.2 L179.5,132.4 L179.5,131.6 L179.6,130.8 L179.6,130.4 L179.7,129.6 L179.8,128.8 L179.8,128.0 L179.8,127.2 L179.6,126.4 L179.5,126.0 L179.3,125.2 L179.1,124.8 L178.8,124.0 L178.7,123.6 L178.4,122.9 L178.2,122.4 L178.0,121.8 L177.8,121.2 L177.6,120.4 L177.5,120.0 L177.4,119.2 L177.3,118.4 L177.2,117.6 L177.2,116.8 L177.2,116.0 L177.2,115.2 L177.2,114.4 L177.3,113.6 L177.4,112.8 L177.5,112.0 L177.6,111.5 L177.8,110.8 L178.0,110.2 L178.3,109.6 L178.5,109.2 L178.8,108.6 L179.2,108.0 L179.5,107.6 L179.8,107.2 L180.2,106.8 L180.6,106.4 L181.0,106.0 L181.4,105.6 L181.9,105.2 L182.4,104.8 L182.8,104.6 L183.2,104.4Z" fill="none" stroke="#000" stroke-width="0.9"/>
<path d="M182.6,104.0 L183.2,103.8 L184.0,103.6 L184.8,103.7 L185.6,104.0 L186.0,104.2 L186.5,104.4 L187.2,104.7 L187.6,104.9 L188.1,105.2 L188.7,105.6 L189.2,106.0 L189.6,106.4 L189.9,106.8 L190.2,107.2 L190.4,107.7 L190.6,108.4 L190.8,109.2 L190.9,109.6 L191.0,110.4 L191.2,111.1 L191.4,111.6 L191.6,112.4 L191.7,112.8 L192.0,113.6 L192.1,114.0 L192.3,114.8 L192.4,115.6 L192.3,116.4 L192.2,117.2 L192.0,118.0 L191.9,118.4 L191.7,119.2 L191.6,119.7 L191.5,120.4 L191.3,121.2 L191.2,121.8 L191.1,122.4 L190.9,123.2 L190.8,123.6 L190.6,124.4 L190.4,124.9 L190.2,125.6 L190.0,126.0 L189.6,126.8 L189.5,127.2 L189.2,127.8 L188.9,128.4 L188.7,128.8 L188.4,129.6 L188.3,130.0 L188.1,130.8 L188.0,131.2 L187.8,132.0 L187.6,132.8 L187.5,133.2 L187.3,134.0 L187.1,134.4 L186.8,135.2 L186.6,135.6 L186.4,136.1 L186.1,136.8 L185.9,137.2 L185.6,137.6 L185.2,138.2 L184.8,138.6 L184.4,138.9 L183.6,139.2 L183.2,139.2 L182.8,139.1 L182.2,138.8 L181.7,138.4 L181.4,138.0 L181.1,137.6 L180.8,137.1 L180.4,136.4 L180.2,136.0 L180.0,135.6 L179.6,134.9 L179.4,134.4 L179.2,133.9 L179.0,133.2 L178.9,132.4 L179.0,131.6 L179.0,130.8 L179.1,130.0 L179.2,129.6 L179.3,128.8 L179.3,128.0 L179.2,127.2 L179.1,126.8 L179.0,126.0 L178.8,125.5 L178.6,124.8 L178.4,124.4 L178.1,123.6 L178.0,123.2 L177.7,122.4 L177.6,122.0 L177.3,121.2 L177.2,120.7 L177.0,120.0 L176.9,119.2 L176.8,118.4 L176.8,117.6 L176.8,117.2 L176.8,116.4 L176.8,115.8 L176.8,115.2 L176.8,114.4 L176.9,113.6 L177.0,112.8 L177.1,112.0 L177.2,111.4 L177.4,110.8 L177.6,110.1 L177.8,109.6 L178.0,109.1 L178.4,108.4 L178.6,108.0 L178.9,107.6 L179.2,107.2 L179.6,106.7 L180.0,106.2 L180.4,105.8 L180.8,105.4 L181.2,105.1 L181.6,104.7 L182.0,104.4 L182.6,104.0Z" fill="none" stroke="#000" stroke-width="0.9"/>
<path d="M182.8,103.2 L183.6,103.0 L184.4,102.9 L185.2,103.1 L185.6,103.2 L186.4,103.6 L186.8,103.8 L187.2,104.0 L188.0,104.4 L188.4,104.6 L188.8,104.9 L189.2,105.2 L189.7,105.6 L190.1,106.0 L190.4,106.4 L190.8,107.2 L191.0,107.6 L191.2,108.4 L191.3,108.8 L191.5,109.6 L191.6,110.2 L191.8,110.8 L192.0,111.6 L192.1,112.0 L192.4,112.8 L192.5,113.2 L192.7,114.0 L192.8,114.5 L192.9,115.2 L192.9,116.0 L192.8,116.8 L192.8,117.2 L192.6,118.0 L192.4,118.8 L192.3,119.2 L192.1,120.0 L192.0,120.7 L191.9,121.2 L191.7,122.0 L191.6,122.7 L191.5,123.2 L191.3,124.0 L191.1,124.4 L190.9,125.2 L190.7,125.6 L190.5,126.4 L190.3,126.8 L190.0,127.5 L189.8,128.0 L189.6,128.6 L189.4,129.2 L189.2,129.7 L189.0,130.4 L188.8,131.1 L188.7,131.6 L188.5,132.4 L188.4,132.8 L188.2,133.6 L188.0,134.2 L187.8,134.8 L187.6,135.3 L187.3,136.0 L187.1,136.4 L186.8,137.2 L186.6,137.6 L186.4,138.0 L186.0,138.7 L185.7,139.2 L185.3,139.6 L184.8,140.0 L184.4,140.2 L183.6,140.4 L182.8,140.3 L182.2,140.0 L181.6,139.6 L181.2,139.2 L180.9,138.8 L180.6,138.4 L180.4,138.0 L180.0,137.2 L179.8,136.8 L179.6,136.4 L179.2,135.6 L179.0,135.2 L178.8,134.6 L178.6,134.0 L178.4,133.2 L178.4,132.8 L178.4,132.0 L178.4,131.5 L178.5,130.8 L178.5,130.0 L178.6,129.2 L178.7,128.4 L178.6,127.6 L178.5,126.8 L178.4,126.3 L178.2,125.6 L178.0,124.9 L177.8,124.4 L177.6,123.7 L177.4,123.2 L177.2,122.6 L177.0,122.0 L176.8,121.2 L176.7,120.8 L176.5,120.0 L176.4,119.2 L176.4,118.8 L176.4,118.0 L176.3,117.2 L176.3,116.4 L176.4,115.6 L176.4,114.8 L176.4,114.3 L176.4,113.6 L176.5,112.8 L176.6,112.0 L176.8,111.2 L176.9,110.8 L177.1,110.0 L177.3,109.6 L177.6,108.8 L177.8,108.4 L178.0,108.0 L178.4,107.3 L178.8,106.8 L179.1,106.4 L179.4,106.0 L179.8,105.6 L180.2,105.2 L180.6,104.8 L181.1,104.4 L181.6,104.0 L182.0,103.7 L182.4,103.4 L182.8,103.2Z" fill="none" stroke="#000" stroke-width="0.9"/>
<path d="M182.8,102.4 L183.6,102.2 L184.4,102.1 L185.2,102.2 L185.7,102.4 L186.4,102.7 L186.8,102.8 L187.5,103.2 L188.0,103.5 L188.4,103.7 L188.8,104.0 L189.4,104.4 L189.8,104.8 L190.2,105.2 L190.6,105.6 L190.9,106.0 L191.2,106.5 L191.5,107.2 L191.7,107.6 L191.9,108.4 L192.0,109.0 L192.1,109.6 L192.3,110.4 L192.4,110.8 L192.7,111.6 L192.8,112.1 L193.0,112.8 L193.2,113.5 L193.3,114.0 L193.5,114.8 L193.5,115.6 L193.5,116.4 L193.4,117.2 L193.2,118.0 L193.2,118.4 L193.0,119.2 L192.8,120.0 L192.8,120.4 L192.6,121.2 L192.4,122.0 L192.3,122.4 L192.1,123.2 L192.0,123.7 L191.8,124.4 L191.6,125.1 L191.4,125.6 L191.2,126.3 L191.0,126.8 L190.8,127.5 L190.6,128.0 L190.4,128.8 L190.3,129.2 L190.0,130.0 L189.9,130.4 L189.7,131.2 L189.6,131.6 L189.4,132.4 L189.2,133.1 L189.0,133.6 L188.8,134.3 L188.6,134.8 L188.4,135.4 L188.1,136.0 L188.0,136.4 L187.7,137.2 L187.5,137.6 L187.2,138.2 L186.9,138.8 L186.7,139.2 L186.4,139.7 L186.0,140.3 L185.6,140.7 L185.2,141.0 L184.8,141.2 L184.0,141.4 L183.2,141.4 L182.4,141.2 L182.0,141.0 L181.6,140.7 L181.2,140.4 L180.8,140.0 L180.4,139.5 L180.0,138.9 L179.7,138.4 L179.5,138.0 L179.2,137.3 L179.0,136.8 L178.8,136.4 L178.5,135.6 L178.3,135.2 L178.0,134.4 L177.9,134.0 L177.8,133.2 L177.7,132.4 L177.7,131.6 L177.8,130.8 L177.9,130.0 L177.9,129.2 L177.9,128.4 L177.9,127.6 L177.8,126.8 L177.6,126.0 L177.5,125.6 L177.3,124.8 L177.2,124.4 L176.9,123.6 L176.8,123.2 L176.5,122.4 L176.4,122.0 L176.2,121.2 L176.0,120.4 L176.0,120.0 L175.9,119.2 L175.8,118.4 L175.8,117.6 L175.8,116.8 L175.8,116.0 L175.8,115.2 L175.9,114.4 L175.9,113.6 L176.0,112.8 L176.0,112.4 L176.1,111.6 L176.3,110.8 L176.4,110.4 L176.6,109.6 L176.8,109.2 L177.1,108.4 L177.3,108.0 L177.6,107.4 L178.0,106.8 L178.2,106.4 L178.5,106.0 L178.8,105.6 L179.2,105.2 L179.6,104.8 L180.1,104.4 L180.5,104.0 L181.0,103.6 L181.5,103.2 L182.0,102.8 L182.4,102.6 L182.8,102.4Z" fill="none" stroke="#000" stroke-width="0.9"/>
<path d="M184.1,101.2 L184.8,101.2 L185.2,101.2 L186.0,101.4 L186.4,101.6 L187.2,101.9 L187.6,102.1 L188.1,102.4 L188.7,102.8 L189.2,103.2 L189.6,103.5 L190.0,103.9 L190.4,104.3 L190.8,104.8 L191.1,105.2 L191.4,105.6 L191.7,106.0 L192.0,106.6 L192.3,107.2 L192.4,107.6 L192.6,108.4 L192.8,109.2 L192.9,109.6 L193.1,110.4 L193.2,110.8 L193.4,111.6 L193.6,112.3 L193.7,112.8 L194.0,113.6 L194.1,114.0 L194.2,114.8 L194.3,115.6 L194.3,116.4 L194.2,117.2 L194.0,118.0 L193.9,118.4 L193.8,119.2 L193.7,120.0 L193.6,120.4 L193.5,121.2 L193.3,122.0 L193.2,122.4 L193.0,123.2 L192.8,123.7 L192.6,124.4 L192.4,125.0 L192.2,125.6 L192.0,126.4 L191.9,126.8 L191.7,127.6 L191.6,128.0 L191.4,128.8 L191.2,129.5 L191.1,130.0 L190.9,130.8 L190.7,131.2 L190.5,132.0 L190.4,132.4 L190.1,133.2 L190.0,133.6 L189.7,134.4 L189.5,134.8 L189.2,135.5 L189.0,136.0 L188.8,136.5 L188.5,137.2 L188.4,137.6 L188.0,138.4 L187.9,138.8 L187.6,139.4 L187.3,140.0 L187.0,140.4 L186.8,140.8 L186.4,141.2 L186.0,141.6 L185.4,142.0 L184.8,142.3 L184.3,142.4 L183.6,142.5 L183.1,142.4 L182.4,142.2 L181.9,142.0 L181.3,141.6 L180.8,141.2 L180.4,140.8 L180.0,140.4 L179.7,140.0 L179.5,139.6 L179.2,139.1 L178.8,138.4 L178.7,138.0 L178.4,137.4 L178.1,136.8 L178.0,136.4 L177.7,135.6 L177.5,135.2 L177.3,134.4 L177.2,133.9 L177.1,133.2 L177.1,132.4 L177.1,131.6 L177.1,130.8 L177.1,130.0 L177.1,129.2 L177.1,128.4 L177.1,127.6 L177.0,126.8 L176.8,126.0 L176.7,125.6 L176.5,124.8 L176.4,124.3 L176.2,123.6 L176.0,123.0 L175.8,122.4 L175.6,121.6 L175.5,121.2 L175.4,120.4 L175.3,119.6 L175.2,118.8 L175.2,118.0 L175.2,117.2 L175.2,116.4 L175.2,115.6 L175.3,114.8 L175.3,114.0 L175.3,113.2 L175.4,112.4 L175.5,111.6 L175.6,110.9 L175.7,110.4 L175.9,109.6 L176.0,109.2 L176.4,108.4 L176.5,108.0 L176.8,107.4 L177.1,106.8 L177.4,106.4 L177.6,106.0 L178.0,105.4 L178.4,104.9 L178.8,104.5 L179.2,104.1 L179.6,103.8 L180.0,103.4 L180.4,103.1 L180.8,102.8 L181.3,102.4 L181.9,102.0 L182.4,101.7 L182.8,101.5 L183.6,101.3 L184.1,101.2Z" fill="none" stroke="#000" stroke-width="0.9"/>
<path d="M183.0,100.4 L183.6,100.2 L184.4,100.1 L185.2,100.2 L186.0,100.3 L186.5,100.4 L187.2,100.7 L187.6,100.8 L188.2,101.2 L188.8,101.6 L189.2,101.9 L189.6,102.3 L190.0,102.7 L190.4,103.1 L190.8,103.5 L191.2,104.0 L191.5,104.4 L191.8,104.8 L192.1,105.2 L192.4,105.6 L192.8,106.3 L193.0,106.8 L193.2,107.3 L193.4,108.0 L193.6,108.8 L193.7,109.2 L193.9,110.0 L194.0,110.6 L194.2,111.2 L194.4,112.0 L194.5,112.4 L194.7,113.2 L194.9,113.6 L195.1,114.4 L195.2,115.2 L195.2,115.6 L195.2,116.4 L195.2,116.8 L195.1,117.6 L195.0,118.4 L194.9,119.2 L194.8,119.6 L194.7,120.4 L194.5,121.2 L194.4,121.8 L194.2,122.4 L194.0,123.2 L193.9,123.6 L193.6,124.4 L193.5,124.8 L193.2,125.6 L193.1,126.0 L192.9,126.8 L192.8,127.2 L192.6,128.0 L192.5,128.8 L192.4,129.3 L192.2,130.0 L192.0,130.8 L191.9,131.2 L191.6,132.0 L191.5,132.4 L191.2,133.2 L191.0,133.6 L190.8,134.2 L190.5,134.8 L190.4,135.2 L190.0,136.0 L189.8,136.4 L189.6,136.9 L189.3,137.6 L189.2,138.0 L188.9,138.8 L188.7,139.2 L188.4,139.9 L188.2,140.4 L188.0,140.8 L187.6,141.4 L187.2,141.9 L186.8,142.3 L186.4,142.6 L186.0,142.9 L185.4,143.2 L184.8,143.4 L184.0,143.5 L183.2,143.5 L182.4,143.3 L182.0,143.2 L181.3,142.8 L180.8,142.5 L180.4,142.1 L180.0,141.7 L179.6,141.3 L179.2,140.8 L178.9,140.4 L178.7,140.0 L178.4,139.5 L178.1,138.8 L177.9,138.4 L177.6,137.7 L177.4,137.2 L177.2,136.7 L176.9,136.0 L176.8,135.5 L176.6,134.8 L176.5,134.0 L176.4,133.6 L176.3,132.8 L176.3,132.0 L176.3,131.2 L176.3,130.4 L176.3,129.6 L176.3,128.8 L176.2,128.0 L176.1,127.2 L176.0,126.4 L175.9,126.0 L175.8,125.2 L175.6,124.5 L175.4,124.0 L175.2,123.2 L175.1,122.8 L174.9,122.0 L174.8,121.6 L174.7,120.8 L174.6,120.0 L174.5,119.2 L174.5,118.4 L174.5,117.6 L174.5,116.8 L174.5,116.0 L174.5,115.2 L174.5,114.4 L174.6,113.6 L174.6,112.8 L174.7,112.0 L174.7,111.2 L174.8,110.7 L174.9,110.0 L175.2,109.2 L175.3,108.8 L175.6,108.1 L175.8,107.6 L176.0,107.2 L176.4,106.4 L176.6,106.0 L176.9,105.6 L177.2,105.1 L177.6,104.6 L178.0,104.1 L178.4,103.7 L178.8,103.3 L179.2,103.0 L179.6,102.6 L180.0,102.3 L180.4,102.0 L180.8,101.6 L181.4,101.2 L182.0,100.8 L182.4,100.6 L183.0,100.4Z" fill="none" stroke="#000" stroke-width="0.9"/>
<path d="M182.8,99.2 L183.6,99.0 L184.4,98.9 L185.2,98.9 L186.0,99.0 L186.8,99.1 L187.2,99.2 L188.0,99.6 L188.4,99.8 L188.8,100.1 L189.2,100.4 L189.6,100.8 L190.0,101.2 L190.4,101.6 L190.8,102.1 L191.2,102.5 L191.6,103.0 L192.0,103.5 L192.4,104.0 L192.7,104.4 L193.0,104.8 L193.3,105.2 L193.6,105.7 L194.0,106.4 L194.2,106.8 L194.4,107.5 L194.5,108.0 L194.7,108.8 L194.8,109.3 L194.9,110.0 L195.1,110.8 L195.2,111.2 L195.5,112.0 L195.6,112.4 L195.9,113.2 L196.0,113.6 L196.2,114.4 L196.4,115.2 L196.4,115.6 L196.5,116.4 L196.4,117.2 L196.4,117.7 L196.3,118.4 L196.3,119.2 L196.2,120.0 L196.0,120.8 L196.0,121.2 L195.8,122.0 L195.6,122.7 L195.4,123.2 L195.2,124.0 L195.1,124.4 L194.8,125.2 L194.7,125.6 L194.4,126.4 L194.3,126.8 L194.1,127.6 L194.0,128.0 L193.8,128.8 L193.7,129.6 L193.5,130.0 L193.3,130.8 L193.2,131.2 L192.9,132.0 L192.7,132.4 L192.4,133.2 L192.3,133.6 L192.0,134.3 L191.8,134.8 L191.6,135.2 L191.2,136.0 L191.0,136.4 L190.8,136.9 L190.5,137.6 L190.3,138.0 L190.0,138.8 L189.9,139.2 L189.6,140.0 L189.5,140.4 L189.2,141.0 L188.9,141.6 L188.7,142.0 L188.4,142.4 L188.0,142.8 L187.6,143.2 L187.0,143.6 L186.4,144.0 L186.0,144.2 L185.5,144.4 L184.8,144.7 L184.1,144.8 L183.6,144.8 L182.9,144.8 L182.4,144.7 L181.6,144.4 L181.2,144.2 L180.8,143.9 L180.4,143.6 L179.9,143.2 L179.5,142.8 L179.1,142.4 L178.8,142.0 L178.4,141.5 L178.0,140.9 L177.7,140.4 L177.5,140.0 L177.2,139.3 L177.0,138.8 L176.8,138.3 L176.5,137.6 L176.4,137.2 L176.1,136.4 L176.0,136.0 L175.8,135.2 L175.7,134.4 L175.6,134.0 L175.5,133.2 L175.4,132.4 L175.4,131.6 L175.3,130.8 L175.3,130.0 L175.3,129.2 L175.2,128.4 L175.2,128.0 L175.1,127.2 L175.0,126.4 L174.8,125.6 L174.7,125.2 L174.5,124.4 L174.4,124.0 L174.2,123.2 L174.0,122.4 L173.9,122.0 L173.8,121.2 L173.7,120.4 L173.6,119.6 L173.6,119.0 L173.6,118.4 L173.6,117.6 L173.6,116.8 L173.6,116.0 L173.6,115.2 L173.6,114.8 L173.6,114.0 L173.7,113.2 L173.7,112.4 L173.7,111.6 L173.8,110.8 L173.9,110.0 L174.0,109.6 L174.2,108.8 L174.4,108.4 L174.8,107.6 L174.9,107.2 L175.2,106.7 L175.5,106.0 L175.8,105.6 L176.0,105.2 L176.4,104.5 L176.7,104.0 L177.0,103.6 L177.4,103.2 L177.8,102.8 L178.2,102.4 L178.6,102.0 L179.1,101.6 L179.5,101.2 L180.0,100.8 L180.4,100.5 L180.8,100.2 L181.2,99.9 L181.8,99.6 L182.4,99.3 L182.8,99.2Z" fill="none" stroke="#000" stroke-width="0.9"/>
<path d="M182.6,97.6 L183.2,97.5 L184.0,97.3 L184.8,97.3 L185.6,97.3 L186.4,97.3 L187.2,97.5 L187.6,97.6 L188.4,98.0 L188.8,98.2 L189.2,98.5 L189.6,98.8 L190.0,99.2 L190.4,99.7 L190.8,100.1 L191.2,100.6 L191.6,101.1 L192.0,101.5 L192.4,102.0 L192.7,102.4 L193.1,102.8 L193.4,103.2 L193.7,103.6 L194.0,104.0 L194.4,104.5 L194.8,105.0 L195.2,105.6 L195.4,106.0 L195.6,106.5 L195.8,107.2 L196.0,107.8 L196.1,108.4 L196.3,109.2 L196.4,109.7 L196.6,110.4 L196.8,111.2 L196.9,111.6 L197.2,112.4 L197.4,112.8 L197.6,113.6 L197.7,114.0 L197.9,114.8 L198.0,115.6 L198.1,116.0 L198.1,116.8 L198.1,117.6 L198.1,118.4 L198.1,119.2 L198.1,120.0 L198.0,120.5 L197.9,121.2 L197.8,122.0 L197.6,122.8 L197.5,123.2 L197.3,124.0 L197.2,124.4 L197.0,125.2 L196.8,125.7 L196.6,126.4 L196.4,126.8 L196.1,127.6 L196.0,128.0 L195.7,128.8 L195.6,129.2 L195.3,130.0 L195.2,130.4 L194.9,131.2 L194.7,131.6 L194.4,132.4 L194.3,132.8 L194.0,133.5 L193.8,134.0 L193.6,134.4 L193.3,135.2 L193.1,135.6 L192.8,136.1 L192.5,136.8 L192.3,137.2 L192.0,137.8 L191.8,138.4 L191.6,138.8 L191.3,139.6 L191.2,140.0 L190.9,140.8 L190.8,141.2 L190.4,142.0 L190.2,142.4 L190.0,142.8 L189.6,143.3 L189.2,143.7 L188.8,144.0 L188.3,144.4 L187.7,144.8 L187.2,145.1 L186.8,145.4 L186.4,145.6 L185.6,146.0 L185.2,146.2 L184.5,146.4 L184.0,146.5 L183.2,146.6 L182.4,146.5 L181.9,146.4 L181.2,146.2 L180.8,146.0 L180.2,145.6 L179.7,145.2 L179.3,144.8 L179.0,144.4 L178.6,144.0 L178.2,143.6 L177.9,143.2 L177.6,142.8 L177.2,142.3 L176.8,141.6 L176.6,141.2 L176.4,140.7 L176.1,140.0 L176.0,139.6 L175.7,138.8 L175.5,138.4 L175.3,137.6 L175.1,137.2 L174.9,136.4 L174.8,135.8 L174.7,135.2 L174.5,134.4 L174.4,133.6 L174.4,133.2 L174.3,132.4 L174.2,131.6 L174.2,130.8 L174.1,130.0 L174.1,129.2 L174.0,128.7 L173.9,128.0 L173.8,127.2 L173.6,126.4 L173.5,126.0 L173.3,125.2 L173.2,124.6 L173.1,124.0 L172.9,123.2 L172.8,122.5 L172.7,122.0 L172.6,121.2 L172.5,120.4 L172.5,119.6 L172.4,118.9 L172.4,118.4 L172.3,117.6 L172.3,116.8 L172.3,116.0 L172.3,115.2 L172.4,114.4 L172.4,113.6 L172.4,113.2 L172.5,112.4 L172.5,111.6 L172.6,110.8 L172.7,110.0 L172.8,109.3 L172.9,108.8 L173.2,108.0 L173.4,107.6 L173.6,107.1 L173.9,106.4 L174.1,106.0 L174.4,105.5 L174.8,104.8 L175.0,104.4 L175.2,104.0 L175.6,103.3 L176.0,102.8 L176.3,102.4 L176.6,102.0 L176.9,101.6 L177.3,101.2 L177.7,100.8 L178.1,100.4 L178.5,100.0 L179.0,99.6 L179.5,99.2 L180.0,98.8 L180.4,98.6 L180.8,98.3 L181.5,98.0 L182.0,97.8 L182.6,97.6Z" fill="none" stroke="#000" stroke-width="0.9"/>
<path d="M183.1,94.8 L183.6,94.7 L184.4,94.6 L185.2,94.6 L186.0,94.7 L186.6,94.8 L187.2,95.0 L187.9,95.2 L188.4,95.4 L188.9,95.6 L189.6,96.0 L190.0,96.2 L190.4,96.5 L190.8,96.9 L191.2,97.3 L191.6,97.8 L192.0,98.2 L192.4,98.7 L192.8,99.2 L193.2,99.6 L193.6,100.0 L194.0,100.4 L194.4,100.8 L194.8,101.2 L195.2,101.6 L195.6,102.0 L195.9,102.4 L196.3,102.8 L196.6,103.2 L196.8,103.6 L197.2,104.2 L197.6,104.8 L197.8,105.2 L198.0,105.7 L198.3,106.4 L198.4,106.8 L198.7,107.6 L198.8,108.0 L199.0,108.8 L199.2,109.5 L199.3,110.0 L199.6,110.8 L199.7,111.2 L199.9,112.0 L200.0,112.7 L200.1,113.2 L200.3,114.0 L200.4,114.8 L200.5,115.2 L200.6,116.0 L200.7,116.8 L200.8,117.6 L200.8,118.0 L200.9,118.8 L200.9,119.6 L200.9,120.4 L200.9,121.2 L200.8,122.0 L200.8,122.4 L200.7,123.2 L200.5,124.0 L200.4,124.4 L200.1,125.2 L200.0,125.6 L199.7,126.4 L199.5,126.8 L199.2,127.6 L199.1,128.0 L198.9,128.8 L198.8,129.5 L198.7,130.0 L198.5,130.8 L198.4,131.3 L198.2,132.0 L198.0,132.4 L197.7,133.2 L197.5,133.6 L197.2,134.2 L196.9,134.8 L196.7,135.2 L196.4,135.8 L196.0,136.4 L195.8,136.8 L195.5,137.2 L195.2,137.6 L194.8,138.2 L194.4,138.8 L194.2,139.2 L194.0,139.6 L193.6,140.4 L193.4,140.8 L193.2,141.3 L192.9,142.0 L192.7,142.4 L192.4,142.9 L192.0,143.5 L191.7,144.0 L191.4,144.4 L191.1,144.8 L190.7,145.2 L190.3,145.6 L189.8,146.0 L189.3,146.4 L188.8,146.8 L188.4,147.1 L188.0,147.4 L187.6,147.7 L187.2,148.0 L186.6,148.4 L186.0,148.7 L185.6,148.9 L184.8,149.1 L184.0,149.2 L183.2,149.2 L182.4,149.1 L181.6,148.9 L181.2,148.8 L180.4,148.5 L180.0,148.4 L179.3,148.0 L178.8,147.6 L178.4,147.3 L178.0,146.8 L177.6,146.4 L177.3,146.0 L177.0,145.6 L176.8,145.2 L176.4,144.7 L176.0,144.1 L175.6,143.6 L175.4,143.2 L175.2,142.8 L174.8,142.0 L174.6,141.6 L174.4,140.9 L174.2,140.4 L174.0,139.7 L173.8,139.2 L173.6,138.5 L173.5,138.0 L173.2,137.2 L173.2,136.8 L173.0,136.0 L172.9,135.2 L172.8,134.8 L172.7,134.0 L172.5,133.2 L172.4,132.4 L172.4,132.0 L172.3,131.2 L172.2,130.4 L172.1,129.6 L172.0,129.1 L171.9,128.4 L171.7,127.6 L171.6,127.1 L171.5,126.4 L171.3,125.6 L171.2,124.8 L171.1,124.4 L171.0,123.6 L171.0,122.8 L170.9,122.0 L170.8,121.6 L170.7,120.8 L170.6,120.0 L170.5,119.2 L170.4,118.4 L170.4,118.0 L170.3,117.2 L170.3,116.4 L170.3,115.6 L170.4,114.8 L170.4,114.4 L170.5,113.6 L170.6,112.8 L170.6,112.0 L170.7,111.2 L170.8,110.4 L170.8,110.0 L170.9,109.2 L171.1,108.4 L171.2,108.0 L171.5,107.2 L171.6,106.8 L172.0,106.0 L172.1,105.6 L172.4,105.1 L172.7,104.4 L172.9,104.0 L173.2,103.5 L173.6,102.8 L173.8,102.4 L174.0,102.0 L174.4,101.4 L174.8,100.8 L175.1,100.4 L175.4,100.0 L175.7,99.6 L176.0,99.2 L176.4,98.8 L176.8,98.3 L177.2,97.9 L177.6,97.5 L178.0,97.2 L178.6,96.8 L179.2,96.4 L179.6,96.2 L180.0,96.0 L180.8,95.6 L181.2,95.4 L181.8,95.2 L182.4,95.0 L183.1,94.8Z" fill="none" stroke="#555" stroke-width="0.9"/>
<path d="M192.8,96.2h0.9v0.9h-0.9zM169.5,119.2h0.9v0.9h-0.9zM185.3,150.7h0.9v0.9h-0.9zM168.6,134.0h0.9v0.9h-0.9zM164.9,118.4h0.9v0.9h-0.9zM163.3,110.1h0.9v0.9h-0.9zM164.9,148.9h0.9v0.9h-0.9zM194.3,91.1h0.9v0.9h-0.9zM174.6,91.6h0.9v0.9h-0.9zM175.3,97.7h0.9v0.9h-0.9zM197.2,90.6h0.9v0.9h-0.9zM180.2,158.1h0.9v0.9h-0.9zM199.3,105.6h0.9v0.9h-0.9zM162.5,130.7h0.9v0.9h-0.9zM173.1,149.8h0.9v0.9h-0.9zM176.4,151.2h0.9v0.9h-0.9zM206.3,146.8h0.9v0.9h-0.9zM203.0,107.9h0.9v0.9h-0.9zM172.1,133.8h0.9v0.9h-0.9zM185.1,158.6h0.9v0.9h-0.9zM167.0,109.0h0.9v0.9h-0.9zM186.1,159.7h0.9v0.9h-0.9zM168.6,118.2h0.9v0.9h-0.9zM207.7,86.8h0.9v0.9h-0.9zM175.5,99.3h0.9v0.9h-0.9zM181.5,89.7h0.9v0.9h-0.9zM191.1,96.0h0.9v0.9h-0.9zM170.3,125.7h0.9v0.9h-0.9zM119.0,99.0h0.9v0.9h-0.9zM108.0,116.0h0.9v0.9h-0.9zM112.0,129.0h0.9v0.9h-0.9zM119.0,128.0h0.9v0.9h-0.9zM154.0,136.0h0.9v0.9h-0.9z" fill="#333"/>
<path d="M608.2,96.2 L608.7,96.2 L609.4,96.3 L610.2,96.4 L610.9,96.6 L611.4,96.8 L611.8,97.0 L612.5,97.4 L613.0,97.7 L613.4,98.0 L613.8,98.3 L614.2,98.7 L614.6,99.1 L615.0,99.5 L615.4,100.0 L615.8,100.6 L616.1,101.0 L616.3,101.4 L616.6,101.9 L617.0,102.6 L617.2,103.0 L617.4,103.6 L617.6,104.2 L617.8,104.6 L618.0,105.4 L618.2,106.0 L618.4,106.6 L618.5,107.4 L618.6,107.9 L618.7,108.6 L618.8,109.4 L618.9,110.2 L618.9,111.0 L618.9,111.8 L618.9,112.6 L618.8,113.4 L618.7,114.2 L618.6,115.0 L618.6,115.4 L618.4,116.2 L618.2,117.0 L618.1,117.4 L617.9,118.2 L617.8,118.6 L617.5,119.4 L617.3,119.8 L617.0,120.6 L616.9,121.0 L616.6,121.7 L616.4,122.2 L616.2,122.8 L616.0,123.4 L615.8,124.0 L615.6,124.6 L615.4,125.4 L615.4,125.8 L615.2,126.6 L615.1,127.4 L615.0,128.2 L615.0,128.6 L614.9,129.4 L614.8,130.2 L614.6,131.0 L614.6,131.4 L614.4,132.2 L614.2,132.9 L614.1,133.4 L613.8,134.1 L613.6,134.6 L613.4,135.1 L613.0,135.8 L612.8,136.2 L612.5,136.6 L612.2,137.1 L611.8,137.5 L611.4,137.9 L611.0,138.3 L610.5,138.6 L609.8,139.0 L609.4,139.2 L608.6,139.4 L608.2,139.4 L607.4,139.4 L607.0,139.4 L606.2,139.2 L605.8,139.0 L605.1,138.6 L604.6,138.3 L604.2,137.9 L603.8,137.5 L603.4,137.0 L603.1,136.6 L602.8,136.2 L602.6,135.8 L602.2,135.0 L602.0,134.6 L601.8,134.0 L601.6,133.4 L601.4,132.7 L601.3,132.2 L601.1,131.4 L601.0,130.6 L601.0,130.2 L600.9,129.4 L600.8,128.6 L600.8,127.8 L600.8,127.0 L600.7,126.2 L600.7,125.4 L600.6,124.6 L600.6,124.2 L600.4,123.4 L600.3,122.6 L600.2,122.2 L600.0,121.4 L599.8,120.7 L599.6,120.2 L599.4,119.4 L599.3,119.0 L599.1,118.2 L598.9,117.8 L598.7,117.0 L598.6,116.3 L598.5,115.8 L598.4,115.0 L598.3,114.2 L598.2,113.7 L598.1,113.0 L598.1,112.2 L598.1,111.4 L598.1,110.6 L598.2,109.8 L598.2,109.4 L598.3,108.6 L598.4,107.8 L598.6,107.0 L598.6,106.6 L598.8,105.8 L599.0,105.3 L599.2,104.6 L599.4,104.1 L599.7,103.4 L599.8,103.0 L600.2,102.3 L600.5,101.8 L600.7,101.4 L601.0,100.9 L601.4,100.3 L601.8,99.8 L602.1,99.4 L602.5,99.0 L602.9,98.6 L603.4,98.2 L603.8,97.8 L604.2,97.6 L604.6,97.3 L605.2,97.0 L605.8,96.7 L606.2,96.6 L607.0,96.4 L607.8,96.2 L608.2,96.2Z" fill="#000" stroke="none"/>
<path d="M607.4,108.6 L607.8,108.3 L608.6,108.3 L609.0,108.6 L609.4,109.0 L609.8,109.6 L610.1,110.2 L610.2,110.6 L610.3,111.4 L610.2,112.2 L610.1,112.6 L609.8,113.0 L609.4,113.4 L608.6,113.7 L607.8,113.6 L607.4,113.3 L607.0,112.9 L606.6,112.3 L606.4,111.8 L606.3,111.0 L606.4,110.2 L606.6,109.7 L607.0,109.1 L607.4,108.6Z" fill="none" stroke="#000" stroke-width="0.9"/>
<path d="M607.7,106.6 L608.2,106.5 L609.0,106.6 L609.4,106.9 L609.8,107.4 L610.0,107.8 L610.2,108.2 L610.6,109.0 L610.7,109.4 L611.0,110.2 L611.0,110.6 L611.1,111.4 L611.0,112.2 L610.9,112.6 L610.6,113.3 L610.3,113.8 L609.8,114.2 L609.4,114.4 L608.7,114.6 L608.2,114.6 L607.8,114.5 L607.2,114.2 L606.7,113.8 L606.3,113.4 L606.1,113.0 L605.8,112.5 L605.5,111.8 L605.4,111.2 L605.4,110.6 L605.4,110.2 L605.6,109.4 L605.8,108.9 L606.2,108.2 L606.4,107.8 L606.7,107.4 L607.1,107.0 L607.7,106.6Z" fill="none" stroke="#000" stroke-width="0.9"/>
<path d="M608.1,105.4 L608.6,105.4 L609.0,105.4 L609.8,105.7 L610.2,106.1 L610.6,106.6 L610.8,107.0 L611.0,107.6 L611.2,108.2 L611.4,108.7 L611.6,109.4 L611.8,110.2 L611.8,110.6 L611.8,111.4 L611.8,111.8 L611.6,112.6 L611.4,113.4 L611.2,113.8 L611.0,114.2 L610.6,114.7 L610.2,115.0 L609.4,115.4 L609.0,115.5 L608.2,115.5 L607.7,115.4 L607.0,115.1 L606.6,114.8 L606.2,114.4 L605.8,113.9 L605.4,113.4 L605.2,113.0 L605.0,112.5 L604.8,111.8 L604.6,111.0 L604.6,110.6 L604.6,110.2 L604.7,109.4 L605.0,108.6 L605.2,108.2 L605.4,107.8 L605.8,107.1 L606.1,106.6 L606.5,106.2 L607.0,105.8 L607.4,105.6 L608.1,105.4Z" fill="none" stroke="#000" stroke-width="0.9"/>
<path d="M608.2,104.6 L608.6,104.6 L609.3,104.6 L609.8,104.7 L610.3,105.0 L610.8,105.4 L611.1,105.8 L611.4,106.4 L611.7,107.0 L611.8,107.4 L612.1,108.2 L612.2,108.7 L612.4,109.4 L612.5,110.2 L612.5,111.0 L612.5,111.8 L612.3,112.6 L612.2,113.1 L612.0,113.8 L611.8,114.2 L611.4,115.0 L611.1,115.4 L610.7,115.8 L610.2,116.1 L609.8,116.3 L609.0,116.5 L608.2,116.5 L607.4,116.3 L607.0,116.1 L606.5,115.8 L606.0,115.4 L605.7,115.0 L605.4,114.6 L605.0,114.0 L604.7,113.4 L604.5,113.0 L604.2,112.2 L604.1,111.8 L604.0,111.0 L604.0,110.2 L604.1,109.4 L604.2,108.8 L604.4,108.2 L604.6,107.8 L605.0,107.0 L605.2,106.6 L605.5,106.2 L605.8,105.8 L606.2,105.4 L606.8,105.0 L607.4,104.8 L608.2,104.6Z" fill="none" stroke="#000" stroke-width="0.9"/>
<path d="M606.9,104.2 L607.4,104.1 L608.2,103.9 L609.0,103.8 L609.8,103.9 L610.4,104.2 L611.0,104.6 L611.4,105.0 L611.7,105.4 L611.9,105.8 L612.2,106.4 L612.4,107.0 L612.6,107.5 L612.8,108.2 L613.0,108.9 L613.1,109.4 L613.2,110.2 L613.2,111.0 L613.1,111.8 L613.0,112.5 L612.9,113.0 L612.7,113.8 L612.6,114.2 L612.3,115.0 L612.1,115.4 L611.8,116.0 L611.4,116.5 L611.0,116.9 L610.6,117.2 L610.2,117.4 L609.4,117.7 L608.6,117.8 L607.8,117.7 L607.1,117.4 L606.6,117.1 L606.2,116.8 L605.8,116.4 L605.4,115.9 L605.0,115.4 L604.8,115.0 L604.5,114.6 L604.2,114.0 L604.0,113.4 L603.8,113.0 L603.6,112.2 L603.4,111.4 L603.4,111.0 L603.4,110.2 L603.4,109.8 L603.5,109.0 L603.8,108.2 L603.9,107.8 L604.2,107.2 L604.5,106.6 L604.7,106.2 L605.0,105.7 L605.4,105.2 L605.8,104.8 L606.2,104.5 L606.9,104.2Z" fill="none" stroke="#000" stroke-width="0.9"/>
<path d="M607.5,103.4 L608.2,103.3 L609.0,103.2 L609.8,103.3 L610.2,103.4 L611.0,103.8 L611.4,104.1 L611.8,104.6 L612.1,105.0 L612.3,105.4 L612.6,105.9 L612.9,106.6 L613.1,107.0 L613.3,107.8 L613.5,108.2 L613.7,109.0 L613.8,109.8 L613.8,110.2 L613.8,111.0 L613.8,111.4 L613.7,112.2 L613.5,113.0 L613.4,113.5 L613.2,114.2 L613.0,114.9 L612.8,115.4 L612.6,116.1 L612.4,116.6 L612.1,117.0 L611.8,117.5 L611.4,117.9 L611.0,118.2 L610.4,118.6 L609.8,118.9 L609.4,119.0 L608.6,119.1 L607.8,119.1 L607.4,119.0 L606.7,118.6 L606.2,118.2 L605.8,117.8 L605.4,117.4 L605.1,117.0 L604.9,116.6 L604.6,116.2 L604.2,115.4 L604.0,115.0 L603.8,114.6 L603.5,113.8 L603.3,113.4 L603.1,112.6 L603.0,111.9 L602.9,111.4 L602.9,110.6 L602.9,109.8 L603.0,109.0 L603.1,108.6 L603.3,107.8 L603.5,107.4 L603.8,106.6 L604.0,106.2 L604.2,105.8 L604.6,105.1 L605.0,104.6 L605.4,104.3 L605.8,104.0 L606.2,103.8 L607.0,103.5 L607.5,103.4ZM608.2,132.6 L608.2,132.6 L608.2,132.6 L608.4,133.0 L608.2,133.3 L607.8,133.0 L608.2,132.6Z" fill="none" stroke="#000" stroke-width="0.9"/>
<path d="M607.5,103.0 L608.2,102.9 L609.0,102.8 L609.8,102.9 L610.2,103.0 L611.0,103.4 L611.4,103.7 L611.8,104.0 L612.2,104.5 L612.5,105.0 L612.7,105.4 L613.0,106.0 L613.3,106.6 L613.4,107.0 L613.7,107.8 L613.9,108.2 L614.1,109.0 L614.2,109.8 L614.2,110.2 L614.2,111.0 L614.2,111.4 L614.1,112.2 L614.0,113.0 L613.8,113.6 L613.7,114.2 L613.4,115.0 L613.3,115.4 L613.0,116.2 L612.9,116.6 L612.6,117.3 L612.3,117.8 L612.0,118.2 L611.6,118.6 L611.1,119.0 L610.6,119.4 L610.2,119.6 L609.8,119.8 L609.0,120.1 L608.2,120.2 L607.4,120.0 L607.0,119.8 L606.4,119.4 L606.0,119.0 L605.6,118.6 L605.2,118.2 L605.0,117.8 L604.6,117.2 L604.2,116.6 L604.0,116.2 L603.8,115.7 L603.5,115.0 L603.3,114.6 L603.1,113.8 L603.0,113.4 L602.8,112.6 L602.7,111.8 L602.6,111.2 L602.6,110.6 L602.6,109.8 L602.6,109.4 L602.7,108.6 L602.9,107.8 L603.1,107.4 L603.4,106.6 L603.6,106.2 L603.8,105.7 L604.2,105.0 L604.5,104.6 L604.8,104.2 L605.4,103.8 L605.8,103.5 L606.2,103.4 L607.0,103.1 L607.5,103.0ZM606.9,131.0 L607.0,130.9 L607.4,130.7 L607.8,130.6 L608.2,130.7 L608.6,130.9 L608.8,131.0 L609.0,131.2 L609.2,131.4 L609.4,131.6 L609.5,131.8 L609.7,132.2 L609.8,132.6 L609.8,133.0 L609.7,133.4 L609.6,133.8 L609.4,134.1 L609.4,134.2 L609.0,134.5 L608.9,134.6 L608.6,134.8 L608.2,134.9 L607.8,134.8 L607.4,134.7 L607.3,134.6 L607.0,134.3 L606.9,134.2 L606.6,133.8 L606.6,133.7 L606.4,133.4 L606.3,133.0 L606.3,132.6 L606.3,132.2 L606.4,131.8 L606.6,131.4 L606.6,131.4 L606.9,131.0Z" fill="none" stroke="#000" stroke-width="0.9"/>
<path d="M607.6,102.6 L608.2,102.5 L609.0,102.5 L609.8,102.5 L610.2,102.6 L611.0,103.0 L611.4,103.2 L611.8,103.6 L612.2,104.0 L612.6,104.6 L612.9,105.0 L613.1,105.4 L613.4,106.1 L613.6,106.6 L613.8,107.0 L614.1,107.8 L614.2,108.2 L614.5,109.0 L614.6,109.8 L614.6,110.2 L614.6,111.0 L614.6,111.4 L614.5,112.2 L614.4,113.0 L614.2,113.7 L614.1,114.2 L613.9,115.0 L613.7,115.4 L613.5,116.2 L613.4,116.6 L613.1,117.4 L612.9,117.8 L612.6,118.2 L612.2,118.8 L611.8,119.2 L611.4,119.6 L611.0,120.0 L610.6,120.3 L610.1,120.6 L609.4,121.0 L609.0,121.2 L608.2,121.2 L607.4,121.0 L607.0,120.8 L606.6,120.5 L606.2,120.2 L605.8,119.8 L605.4,119.4 L605.0,118.9 L604.6,118.3 L604.3,117.8 L604.1,117.4 L603.8,116.8 L603.5,116.2 L603.4,115.8 L603.1,115.0 L602.9,114.6 L602.7,113.8 L602.6,113.4 L602.4,112.6 L602.3,111.8 L602.3,111.0 L602.3,110.2 L602.3,109.4 L602.4,108.6 L602.6,107.8 L602.7,107.4 L603.0,106.7 L603.2,106.2 L603.4,105.7 L603.8,105.0 L604.0,104.6 L604.3,104.2 L604.7,103.8 L605.2,103.4 L605.8,103.1 L606.2,103.0 L607.0,102.7 L607.6,102.6ZM607.1,129.4 L607.8,129.2 L608.3,129.4 L608.9,129.8 L609.3,130.2 L609.6,130.6 L609.9,131.0 L610.2,131.5 L610.5,132.2 L610.5,133.0 L610.3,133.8 L610.2,134.2 L609.8,134.7 L609.4,135.1 L608.9,135.4 L608.2,135.6 L607.4,135.5 L607.0,135.3 L606.6,135.0 L606.2,134.5 L605.8,133.9 L605.6,133.4 L605.4,133.0 L605.3,132.2 L605.4,131.5 L605.6,131.0 L605.9,130.6 L606.2,130.2 L606.6,129.8 L607.1,129.4Z" fill="none" stroke="#000" stroke-width="0.9"/>
<path d="M607.7,102.2 L608.2,102.1 L609.0,102.1 L609.8,102.1 L610.2,102.2 L611.0,102.6 L611.4,102.8 L611.8,103.1 L612.2,103.5 L612.6,104.0 L613.0,104.6 L613.2,105.0 L613.4,105.4 L613.8,106.2 L614.0,106.6 L614.2,107.1 L614.5,107.8 L614.6,108.2 L614.8,109.0 L614.9,109.8 L615.0,110.6 L614.9,111.4 L614.9,112.2 L614.8,113.0 L614.6,113.8 L614.5,114.2 L614.3,115.0 L614.2,115.4 L613.9,116.2 L613.8,116.6 L613.5,117.4 L613.4,117.8 L613.0,118.5 L612.7,119.0 L612.4,119.4 L612.0,119.8 L611.7,120.2 L611.3,120.6 L610.9,121.0 L610.4,121.4 L610.0,121.8 L609.4,122.2 L609.0,122.4 L608.2,122.4 L607.8,122.2 L607.1,121.8 L606.6,121.4 L606.2,121.1 L605.8,120.7 L605.4,120.3 L605.0,119.8 L604.7,119.4 L604.4,119.0 L604.1,118.6 L603.8,117.9 L603.6,117.4 L603.4,117.0 L603.1,116.2 L602.9,115.8 L602.7,115.0 L602.6,114.6 L602.3,113.8 L602.2,113.1 L602.1,112.6 L602.0,111.8 L602.0,111.0 L602.0,110.2 L602.0,109.4 L602.1,108.6 L602.2,108.1 L602.4,107.4 L602.6,106.8 L602.8,106.2 L603.0,105.8 L603.4,105.0 L603.6,104.6 L603.8,104.2 L604.2,103.8 L604.6,103.4 L605.2,103.0 L605.8,102.7 L606.2,102.6 L607.0,102.3 L607.7,102.2ZM607.7,127.8 L607.9,127.8 L608.6,128.2 L608.9,128.6 L609.3,129.0 L609.6,129.4 L609.9,129.8 L610.2,130.2 L610.6,130.9 L610.9,131.4 L611.0,131.8 L611.1,132.6 L611.1,133.4 L610.9,133.8 L610.6,134.5 L610.3,135.0 L609.9,135.4 L609.4,135.7 L609.0,135.9 L608.2,136.2 L607.8,136.2 L607.4,136.2 L606.6,135.9 L606.2,135.5 L605.8,135.1 L605.5,134.6 L605.2,134.2 L605.0,133.8 L604.6,133.0 L604.5,132.6 L604.5,131.8 L604.6,131.4 L605.0,130.6 L605.3,130.2 L605.6,129.8 L605.8,129.4 L606.2,128.9 L606.6,128.5 L607.0,128.1 L607.7,127.8Z" fill="none" stroke="#000" stroke-width="0.9"/>
<path d="M608.0,101.8 L608.6,101.7 L609.4,101.7 L609.9,101.8 L610.6,102.0 L611.0,102.2 L611.6,102.6 L612.1,103.0 L612.5,103.4 L612.8,103.8 L613.0,104.2 L613.4,104.8 L613.7,105.4 L613.9,105.8 L614.2,106.4 L614.5,107.0 L614.6,107.4 L614.9,108.2 L615.0,108.6 L615.2,109.4 L615.3,110.2 L615.3,111.0 L615.3,111.8 L615.2,112.6 L615.1,113.4 L615.0,113.8 L614.8,114.6 L614.6,115.3 L614.5,115.8 L614.2,116.6 L614.1,117.0 L613.8,117.8 L613.7,118.2 L613.4,118.7 L613.0,119.4 L612.7,119.8 L612.4,120.2 L612.1,120.6 L611.7,121.0 L611.4,121.4 L611.0,121.8 L610.6,122.3 L610.2,122.7 L609.8,123.1 L609.4,123.5 L608.8,123.8 L608.2,123.8 L607.8,123.6 L607.4,123.2 L607.0,122.7 L606.6,122.3 L606.2,121.9 L605.8,121.5 L605.4,121.1 L605.0,120.6 L604.6,120.2 L604.3,119.8 L604.1,119.4 L603.8,118.9 L603.4,118.2 L603.3,117.8 L603.0,117.1 L602.8,116.6 L602.6,115.9 L602.4,115.4 L602.2,114.6 L602.1,114.2 L602.0,113.4 L601.8,112.6 L601.8,112.2 L601.7,111.4 L601.7,110.6 L601.7,109.8 L601.8,109.0 L601.8,108.6 L602.0,107.8 L602.2,107.0 L602.3,106.6 L602.6,105.9 L602.8,105.4 L603.0,105.0 L603.4,104.3 L603.7,103.8 L604.1,103.4 L604.5,103.0 L605.0,102.7 L605.4,102.5 L606.1,102.2 L606.6,102.1 L607.4,101.9 L608.0,101.8ZM607.2,126.6 L607.8,126.2 L608.6,126.6 L608.9,127.0 L609.1,127.4 L609.4,127.9 L609.8,128.6 L610.1,129.0 L610.3,129.4 L610.6,129.8 L611.0,130.4 L611.3,131.0 L611.5,131.4 L611.6,132.2 L611.7,133.0 L611.5,133.8 L611.3,134.2 L611.0,134.8 L610.6,135.3 L610.2,135.7 L609.8,136.0 L609.4,136.3 L608.7,136.6 L608.2,136.7 L607.4,136.8 L606.7,136.6 L606.2,136.3 L605.8,136.0 L605.4,135.6 L605.0,135.0 L604.8,134.6 L604.5,134.2 L604.2,133.6 L604.0,133.0 L603.9,132.2 L604.0,131.4 L604.2,130.9 L604.6,130.2 L604.8,129.8 L605.1,129.4 L605.4,129.0 L605.8,128.3 L606.2,127.8 L606.5,127.4 L606.8,127.0 L607.2,126.6Z" fill="none" stroke="#000" stroke-width="0.9"/>
<path d="M608.2,101.4 L608.6,101.4 L609.4,101.4 L609.8,101.4 L610.6,101.6 L611.0,101.8 L611.6,102.2 L612.1,102.6 L612.5,103.0 L612.8,103.4 L613.1,103.8 L613.4,104.2 L613.8,105.0 L614.0,105.4 L614.2,105.8 L614.6,106.6 L614.8,107.0 L615.0,107.5 L615.2,108.2 L615.4,108.8 L615.5,109.4 L615.6,110.2 L615.6,111.0 L615.6,111.8 L615.6,112.6 L615.5,113.4 L615.4,113.8 L615.2,114.6 L615.0,115.4 L614.9,115.8 L614.6,116.6 L614.5,117.0 L614.3,117.8 L614.1,118.2 L613.8,118.9 L613.6,119.4 L613.3,119.8 L613.0,120.3 L612.6,120.8 L612.2,121.3 L611.8,121.8 L611.5,122.2 L611.2,122.6 L610.9,123.0 L610.6,123.4 L610.2,123.9 L609.8,124.6 L609.6,125.0 L609.5,125.8 L609.6,126.6 L609.8,127.1 L610.1,127.8 L610.3,128.2 L610.6,128.7 L611.0,129.3 L611.3,129.8 L611.5,130.2 L611.8,130.7 L612.0,131.4 L612.2,132.2 L612.2,132.6 L612.2,133.0 L612.0,133.8 L611.8,134.4 L611.5,135.0 L611.2,135.4 L610.8,135.8 L610.4,136.2 L609.8,136.6 L609.4,136.8 L609.0,137.0 L608.2,137.2 L607.4,137.3 L606.6,137.2 L606.1,137.0 L605.5,136.6 L605.1,136.2 L604.8,135.8 L604.5,135.4 L604.2,134.8 L603.9,134.2 L603.7,133.8 L603.4,133.0 L603.3,132.6 L603.4,131.8 L603.5,131.4 L603.8,130.6 L604.0,130.2 L604.2,129.8 L604.6,129.2 L605.0,128.6 L605.2,128.2 L605.5,127.8 L605.8,127.2 L606.2,126.6 L606.4,126.2 L606.6,125.8 L606.9,125.0 L606.9,124.2 L606.6,123.5 L606.3,123.0 L606.0,122.6 L605.7,122.2 L605.4,121.8 L605.0,121.4 L604.6,120.9 L604.2,120.4 L603.8,119.8 L603.6,119.4 L603.3,119.0 L603.0,118.2 L602.8,117.8 L602.6,117.1 L602.4,116.6 L602.2,115.9 L602.1,115.4 L601.9,114.6 L601.8,114.2 L601.6,113.4 L601.5,112.6 L601.5,111.8 L601.4,111.0 L601.4,110.2 L601.5,109.4 L601.5,108.6 L601.7,107.8 L601.8,107.2 L602.0,106.6 L602.2,106.1 L602.5,105.4 L602.7,105.0 L603.0,104.3 L603.3,103.8 L603.6,103.4 L604.0,103.0 L604.5,102.6 L605.0,102.3 L605.4,102.1 L606.2,101.8 L606.6,101.7 L607.4,101.5 L608.2,101.4Z" fill="none" stroke="#000" stroke-width="0.9"/>
<path d="M607.8,101.0 L608.2,100.9 L609.0,100.9 L609.8,100.9 L610.2,101.0 L611.0,101.3 L611.4,101.6 L611.8,101.8 L612.2,102.2 L612.6,102.6 L613.0,103.0 L613.4,103.6 L613.8,104.2 L614.0,104.6 L614.2,105.0 L614.6,105.8 L614.8,106.2 L615.0,106.6 L615.4,107.4 L615.5,107.8 L615.8,108.6 L615.8,109.0 L616.0,109.8 L616.0,110.6 L616.0,111.4 L616.0,112.2 L616.0,113.0 L615.9,113.8 L615.8,114.2 L615.6,115.0 L615.4,115.7 L615.3,116.2 L615.0,117.0 L614.9,117.4 L614.7,118.2 L614.5,118.6 L614.2,119.4 L614.0,119.8 L613.8,120.2 L613.4,120.8 L613.0,121.3 L612.7,121.8 L612.4,122.2 L612.1,122.6 L611.8,123.0 L611.4,123.5 L611.0,124.1 L610.7,124.6 L610.6,125.0 L610.4,125.8 L610.5,126.6 L610.6,127.0 L610.9,127.8 L611.1,128.2 L611.4,128.7 L611.8,129.3 L612.1,129.8 L612.3,130.2 L612.6,131.0 L612.7,131.4 L612.8,132.2 L612.8,133.0 L612.7,133.8 L612.5,134.2 L612.2,134.9 L611.9,135.4 L611.6,135.8 L611.2,136.2 L610.8,136.6 L610.2,137.0 L609.8,137.3 L609.4,137.5 L608.6,137.8 L608.2,137.9 L607.4,138.0 L606.6,137.9 L606.1,137.8 L605.4,137.5 L605.0,137.2 L604.6,136.8 L604.2,136.2 L604.0,135.8 L603.7,135.4 L603.4,134.7 L603.2,134.2 L603.0,133.8 L602.8,133.0 L602.8,132.2 L602.9,131.4 L603.1,131.0 L603.4,130.2 L603.6,129.8 L603.9,129.4 L604.2,128.8 L604.5,128.2 L604.8,127.8 L605.0,127.3 L605.3,126.6 L605.5,126.2 L605.8,125.4 L605.9,125.0 L605.9,124.2 L605.8,123.8 L605.5,123.0 L605.2,122.6 L604.9,122.2 L604.6,121.8 L604.2,121.3 L603.8,120.7 L603.4,120.2 L603.2,119.8 L603.0,119.4 L602.6,118.6 L602.5,118.2 L602.2,117.4 L602.1,117.0 L601.9,116.2 L601.8,115.8 L601.6,115.0 L601.4,114.2 L601.3,113.8 L601.2,113.0 L601.1,112.2 L601.1,111.4 L601.1,110.6 L601.1,109.8 L601.2,109.0 L601.2,108.2 L601.4,107.4 L601.5,107.0 L601.8,106.2 L601.9,105.8 L602.2,105.1 L602.4,104.6 L602.6,104.2 L603.0,103.6 L603.4,103.1 L603.8,102.6 L604.2,102.3 L604.6,102.0 L605.0,101.8 L605.8,101.5 L606.2,101.3 L607.0,101.1 L607.8,101.0Z" fill="none" stroke="#000" stroke-width="0.9"/>
<path d="M607.2,100.6 L607.8,100.5 L608.6,100.4 L609.4,100.4 L610.2,100.5 L610.6,100.6 L611.4,101.0 L611.8,101.3 L612.2,101.6 L612.6,102.0 L613.0,102.4 L613.4,102.9 L613.7,103.4 L614.0,103.8 L614.2,104.2 L614.6,104.9 L614.9,105.4 L615.1,105.8 L615.4,106.5 L615.6,107.0 L615.8,107.4 L616.1,108.2 L616.2,108.6 L616.4,109.4 L616.4,110.2 L616.5,111.0 L616.5,111.8 L616.5,112.6 L616.4,113.4 L616.3,114.2 L616.2,114.9 L616.1,115.4 L615.8,116.2 L615.7,116.6 L615.5,117.4 L615.4,117.8 L615.2,118.6 L615.0,119.1 L614.7,119.8 L614.5,120.2 L614.2,120.7 L613.8,121.4 L613.5,121.8 L613.2,122.2 L613.0,122.6 L612.6,123.1 L612.2,123.7 L611.9,124.2 L611.7,124.6 L611.4,125.3 L611.3,125.8 L611.4,126.6 L611.5,127.0 L611.8,127.8 L612.0,128.2 L612.2,128.6 L612.6,129.2 L612.9,129.8 L613.0,130.2 L613.3,131.0 L613.4,131.5 L613.5,132.2 L613.5,133.0 L613.4,133.6 L613.2,134.2 L613.0,134.8 L612.7,135.4 L612.4,135.8 L612.1,136.2 L611.7,136.6 L611.3,137.0 L610.8,137.4 L610.2,137.8 L609.8,138.0 L609.4,138.2 L608.6,138.5 L608.1,138.6 L607.4,138.7 L606.6,138.7 L606.1,138.6 L605.4,138.4 L605.0,138.2 L604.4,137.8 L604.1,137.4 L603.8,137.0 L603.4,136.3 L603.2,135.8 L603.0,135.4 L602.6,134.6 L602.5,134.2 L602.3,133.4 L602.2,132.6 L602.3,131.8 L602.5,131.0 L602.7,130.6 L603.0,129.9 L603.2,129.4 L603.5,129.0 L603.8,128.3 L604.1,127.8 L604.3,127.4 L604.6,126.6 L604.7,126.2 L605.0,125.4 L605.0,125.0 L605.0,124.2 L604.9,123.8 L604.6,123.0 L604.4,122.6 L604.1,122.2 L603.8,121.7 L603.4,121.1 L603.1,120.6 L602.8,120.2 L602.6,119.7 L602.3,119.0 L602.1,118.6 L601.9,117.8 L601.7,117.4 L601.5,116.6 L601.4,116.2 L601.2,115.4 L601.1,114.6 L601.0,114.2 L600.9,113.4 L600.8,112.6 L600.7,111.8 L600.7,111.0 L600.7,110.2 L600.8,109.4 L600.8,108.6 L600.9,107.8 L601.0,107.4 L601.2,106.6 L601.4,106.0 L601.6,105.4 L601.8,105.0 L602.2,104.2 L602.4,103.8 L602.7,103.4 L603.0,102.9 L603.4,102.5 L603.8,102.1 L604.2,101.8 L604.8,101.4 L605.4,101.1 L605.8,101.0 L606.6,100.7 L607.2,100.6Z" fill="none" stroke="#000" stroke-width="0.9"/>
<path d="M608.5,99.8 L609.0,99.8 L609.8,99.8 L610.2,99.9 L611.0,100.2 L611.4,100.4 L611.8,100.6 L612.3,101.0 L612.7,101.4 L613.1,101.8 L613.5,102.2 L613.8,102.6 L614.2,103.3 L614.5,103.8 L614.7,104.2 L615.0,104.7 L615.4,105.4 L615.6,105.8 L615.8,106.2 L616.2,107.0 L616.3,107.4 L616.6,108.2 L616.7,108.6 L616.9,109.4 L616.9,110.2 L617.0,111.0 L617.0,111.5 L617.0,112.2 L617.0,113.0 L617.0,113.4 L616.9,114.2 L616.8,115.0 L616.6,115.8 L616.5,116.2 L616.3,117.0 L616.2,117.4 L616.0,118.2 L615.8,118.9 L615.6,119.4 L615.4,120.0 L615.1,120.6 L614.9,121.0 L614.6,121.6 L614.2,122.2 L613.9,122.6 L613.7,123.0 L613.4,123.4 L613.0,124.0 L612.7,124.6 L612.5,125.0 L612.3,125.8 L612.4,126.6 L612.6,127.3 L612.8,127.8 L613.0,128.2 L613.4,129.0 L613.6,129.4 L613.8,130.0 L614.0,130.6 L614.1,131.4 L614.2,132.2 L614.2,132.6 L614.2,133.0 L614.1,133.8 L613.9,134.6 L613.7,135.0 L613.4,135.6 L613.0,136.2 L612.7,136.6 L612.4,137.0 L612.0,137.4 L611.5,137.8 L611.0,138.2 L610.6,138.5 L610.2,138.7 L609.7,139.0 L609.0,139.2 L608.4,139.4 L607.8,139.5 L607.0,139.5 L606.2,139.5 L605.7,139.4 L605.0,139.2 L604.6,139.0 L604.0,138.6 L603.6,138.2 L603.3,137.8 L603.0,137.2 L602.7,136.6 L602.6,136.2 L602.2,135.4 L602.1,135.0 L601.9,134.2 L601.8,133.8 L601.7,133.0 L601.7,132.2 L601.8,131.7 L602.0,131.0 L602.2,130.3 L602.4,129.8 L602.6,129.4 L603.0,128.6 L603.2,128.2 L603.4,127.7 L603.7,127.0 L603.8,126.6 L604.1,125.8 L604.2,125.0 L604.2,124.2 L603.9,123.4 L603.8,123.0 L603.4,122.3 L603.1,121.8 L602.9,121.4 L602.6,120.9 L602.2,120.2 L602.0,119.8 L601.8,119.2 L601.6,118.6 L601.4,118.0 L601.2,117.4 L601.0,116.6 L600.9,116.2 L600.7,115.4 L600.6,114.6 L600.5,114.2 L600.4,113.4 L600.3,112.6 L600.3,111.8 L600.3,111.0 L600.3,110.2 L600.3,109.4 L600.4,108.6 L600.5,107.8 L600.6,107.2 L600.7,106.6 L601.0,105.8 L601.2,105.4 L601.4,104.9 L601.7,104.2 L601.9,103.8 L602.2,103.3 L602.6,102.7 L603.0,102.2 L603.4,101.8 L603.8,101.5 L604.2,101.2 L604.6,100.9 L605.3,100.6 L605.8,100.4 L606.4,100.2 L607.0,100.1 L607.8,99.9 L608.5,99.8Z" fill="none" stroke="#000" stroke-width="0.9"/>
<path d="M606.9,99.4 L607.4,99.3 L608.2,99.1 L609.0,99.0 L609.8,99.1 L610.6,99.2 L611.0,99.4 L611.7,99.8 L612.2,100.1 L612.6,100.4 L613.0,100.8 L613.4,101.2 L613.8,101.7 L614.2,102.2 L614.5,102.6 L614.7,103.0 L615.0,103.5 L615.4,104.2 L615.6,104.6 L615.8,105.0 L616.2,105.7 L616.4,106.2 L616.6,106.6 L617.0,107.4 L617.1,107.8 L617.3,108.6 L617.4,109.1 L617.5,109.8 L617.6,110.6 L617.6,111.4 L617.6,112.2 L617.6,113.0 L617.6,113.8 L617.5,114.6 L617.4,115.4 L617.3,115.8 L617.1,116.6 L617.0,117.1 L616.8,117.8 L616.7,118.6 L616.6,119.0 L616.4,119.8 L616.2,120.4 L615.9,121.0 L615.7,121.4 L615.4,122.0 L615.0,122.6 L614.8,123.0 L614.6,123.4 L614.2,124.1 L614.0,124.6 L613.8,125.0 L613.6,125.8 L613.7,126.6 L613.8,127.0 L614.1,127.8 L614.2,128.2 L614.4,129.0 L614.6,129.7 L614.7,130.2 L614.8,131.0 L614.9,131.8 L615.0,132.6 L614.9,133.4 L614.8,134.2 L614.6,134.9 L614.4,135.4 L614.2,135.8 L613.8,136.5 L613.4,137.0 L613.1,137.4 L612.8,137.8 L612.4,138.2 L612.0,138.6 L611.6,139.0 L611.1,139.4 L610.6,139.7 L610.2,139.9 L609.4,140.2 L609.0,140.3 L608.2,140.5 L607.4,140.5 L606.6,140.5 L605.8,140.4 L605.0,140.2 L604.6,140.1 L604.1,139.8 L603.5,139.4 L603.2,139.0 L602.9,138.6 L602.6,138.1 L602.3,137.4 L602.1,137.0 L601.8,136.2 L601.7,135.8 L601.4,135.0 L601.3,134.6 L601.2,133.8 L601.1,133.0 L601.1,132.2 L601.3,131.4 L601.4,130.8 L601.6,130.2 L601.8,129.7 L602.1,129.0 L602.3,128.6 L602.6,127.8 L602.7,127.4 L603.0,126.6 L603.1,126.2 L603.2,125.4 L603.2,124.6 L603.1,123.8 L603.0,123.4 L602.7,122.6 L602.5,122.2 L602.2,121.6 L601.9,121.0 L601.7,120.6 L601.4,119.8 L601.3,119.4 L601.0,118.6 L600.9,118.2 L600.6,117.4 L600.5,117.0 L600.4,116.2 L600.2,115.4 L600.1,115.0 L600.0,114.2 L599.9,113.4 L599.8,112.6 L599.8,112.2 L599.8,111.4 L599.8,110.6 L599.8,110.2 L599.8,109.4 L599.9,108.6 L600.0,107.8 L600.1,107.0 L600.2,106.6 L600.5,105.8 L600.6,105.4 L601.0,104.6 L601.2,104.2 L601.4,103.8 L601.8,103.0 L602.1,102.6 L602.4,102.2 L602.7,101.8 L603.1,101.4 L603.5,101.0 L604.1,100.6 L604.6,100.3 L605.0,100.1 L605.6,99.8 L606.2,99.6 L606.9,99.4Z" fill="none" stroke="#000" stroke-width="0.9"/>
<path d="M609.2,98.2 L609.8,98.2 L610.2,98.2 L611.0,98.5 L611.4,98.7 L611.9,99.0 L612.5,99.4 L613.0,99.8 L613.4,100.2 L613.8,100.6 L614.1,101.0 L614.4,101.4 L614.7,101.8 L615.0,102.2 L615.4,102.9 L615.7,103.4 L615.9,103.8 L616.2,104.3 L616.6,105.0 L616.8,105.4 L617.0,105.8 L617.4,106.6 L617.6,107.0 L617.8,107.7 L617.9,108.2 L618.1,109.0 L618.2,109.8 L618.2,110.2 L618.3,111.0 L618.3,111.8 L618.3,112.6 L618.3,113.4 L618.3,114.2 L618.2,115.0 L618.1,115.4 L618.0,116.2 L617.8,117.0 L617.8,117.4 L617.6,118.2 L617.5,119.0 L617.4,119.6 L617.3,120.2 L617.0,121.0 L616.8,121.4 L616.6,121.9 L616.3,122.6 L616.1,123.0 L615.8,123.7 L615.6,124.2 L615.4,124.8 L615.3,125.4 L615.2,126.2 L615.2,127.0 L615.3,127.8 L615.4,128.3 L615.5,129.0 L615.6,129.8 L615.6,130.6 L615.7,131.4 L615.7,132.2 L615.7,133.0 L615.7,133.8 L615.5,134.6 L615.4,135.0 L615.1,135.8 L614.9,136.2 L614.6,136.8 L614.2,137.4 L613.9,137.8 L613.6,138.2 L613.3,138.6 L613.0,139.0 L612.6,139.4 L612.2,139.8 L611.8,140.2 L611.3,140.6 L610.6,141.0 L610.2,141.2 L609.5,141.4 L609.0,141.5 L608.2,141.7 L607.4,141.7 L606.6,141.6 L605.8,141.4 L605.4,141.3 L604.6,141.1 L604.2,140.9 L603.6,140.6 L603.1,140.2 L602.7,139.8 L602.4,139.4 L602.1,139.0 L601.8,138.3 L601.6,137.8 L601.4,137.2 L601.2,136.6 L601.0,136.0 L600.8,135.4 L600.6,134.6 L600.5,134.2 L600.5,133.4 L600.4,132.6 L600.5,131.8 L600.6,131.4 L600.8,130.6 L601.0,129.9 L601.2,129.4 L601.4,128.8 L601.6,128.2 L601.8,127.6 L602.0,127.0 L602.1,126.2 L602.2,125.8 L602.2,125.0 L602.2,124.3 L602.1,123.8 L601.9,123.0 L601.8,122.6 L601.5,121.8 L601.3,121.4 L601.0,120.6 L600.9,120.2 L600.6,119.4 L600.5,119.0 L600.2,118.2 L600.1,117.8 L599.9,117.0 L599.8,116.3 L599.7,115.8 L599.6,115.0 L599.4,114.2 L599.4,113.8 L599.3,113.0 L599.2,112.2 L599.2,111.4 L599.2,110.6 L599.2,109.8 L599.3,109.0 L599.4,108.2 L599.4,107.8 L599.6,107.0 L599.8,106.2 L599.9,105.8 L600.2,105.1 L600.4,104.6 L600.6,104.2 L601.0,103.4 L601.2,103.0 L601.4,102.6 L601.8,102.0 L602.2,101.5 L602.6,101.1 L603.0,100.7 L603.4,100.3 L603.8,100.0 L604.2,99.7 L604.8,99.4 L605.4,99.1 L605.8,98.9 L606.6,98.7 L607.0,98.6 L607.8,98.4 L608.6,98.3 L609.2,98.2Z" fill="none" stroke="#000" stroke-width="0.9"/>
<path d="M607.6,97.4 L608.2,97.3 L609.0,97.1 L609.8,97.1 L610.6,97.2 L611.2,97.4 L611.8,97.7 L612.2,98.0 L612.6,98.3 L613.0,98.6 L613.4,99.0 L613.9,99.4 L614.3,99.8 L614.6,100.2 L615.0,100.7 L615.4,101.2 L615.8,101.8 L616.1,102.2 L616.3,102.6 L616.6,103.1 L617.0,103.8 L617.2,104.2 L617.4,104.6 L617.8,105.3 L618.1,105.8 L618.2,106.2 L618.5,107.0 L618.7,107.4 L618.8,108.2 L619.0,109.0 L619.0,109.4 L619.1,110.2 L619.1,111.0 L619.2,111.8 L619.2,112.6 L619.2,113.4 L619.2,114.2 L619.1,115.0 L619.0,115.6 L618.9,116.2 L618.8,117.0 L618.7,117.8 L618.6,118.6 L618.6,119.1 L618.5,119.8 L618.4,120.6 L618.2,121.2 L618.0,121.8 L617.8,122.4 L617.6,123.0 L617.4,123.6 L617.2,124.2 L617.1,125.0 L617.0,125.5 L616.9,126.2 L616.8,127.0 L616.7,127.8 L616.7,128.6 L616.6,129.4 L616.6,130.2 L616.6,131.0 L616.7,131.8 L616.7,132.6 L616.6,133.4 L616.6,133.8 L616.4,134.6 L616.2,135.4 L616.1,135.8 L615.8,136.6 L615.6,137.0 L615.4,137.4 L615.0,138.0 L614.6,138.6 L614.3,139.0 L614.0,139.4 L613.7,139.8 L613.4,140.3 L613.0,140.8 L612.6,141.2 L612.2,141.6 L611.8,141.9 L611.3,142.2 L610.6,142.5 L610.2,142.7 L609.4,142.9 L609.0,143.0 L608.2,143.1 L607.4,143.1 L607.0,143.0 L606.2,142.8 L605.6,142.6 L605.0,142.4 L604.5,142.2 L603.8,141.9 L603.4,141.7 L603.0,141.4 L602.4,141.0 L602.0,140.6 L601.7,140.2 L601.4,139.6 L601.1,139.0 L601.0,138.6 L600.7,137.8 L600.6,137.4 L600.3,136.6 L600.2,136.1 L600.0,135.4 L599.8,134.6 L599.7,134.2 L599.6,133.4 L599.6,132.6 L599.7,131.8 L599.8,131.3 L599.9,130.6 L600.1,129.8 L600.2,129.4 L600.5,128.6 L600.6,128.2 L600.8,127.4 L601.0,126.6 L601.0,126.2 L601.0,125.4 L601.0,124.6 L601.0,124.2 L600.9,123.4 L600.7,122.6 L600.6,122.1 L600.4,121.4 L600.2,120.7 L600.0,120.2 L599.8,119.4 L599.7,119.0 L599.5,118.2 L599.4,117.8 L599.2,117.0 L599.1,116.2 L599.0,115.8 L598.9,115.0 L598.7,114.2 L598.6,113.4 L598.6,113.0 L598.5,112.2 L598.5,111.4 L598.5,110.6 L598.5,109.8 L598.6,109.0 L598.6,108.6 L598.7,107.8 L598.9,107.0 L599.0,106.5 L599.2,105.8 L599.4,105.3 L599.7,104.6 L599.9,104.2 L600.2,103.5 L600.4,103.0 L600.7,102.6 L601.0,102.0 L601.4,101.4 L601.7,101.0 L602.0,100.6 L602.4,100.2 L602.8,99.8 L603.2,99.4 L603.7,99.0 L604.2,98.7 L604.6,98.5 L605.2,98.2 L605.8,97.9 L606.2,97.8 L607.0,97.6 L607.6,97.4Z" fill="none" stroke="#000" stroke-width="0.9"/>
<path d="M607.8,95.8 L608.6,95.6 L609.4,95.5 L610.2,95.5 L611.0,95.7 L611.4,95.9 L612.1,96.2 L612.6,96.5 L613.0,96.8 L613.4,97.2 L613.8,97.5 L614.2,97.9 L614.6,98.3 L615.0,98.7 L615.4,99.2 L615.8,99.6 L616.2,100.1 L616.5,100.6 L616.8,101.0 L617.1,101.4 L617.4,101.9 L617.8,102.6 L618.0,103.0 L618.2,103.4 L618.6,104.0 L618.9,104.6 L619.1,105.0 L619.4,105.6 L619.6,106.2 L619.8,106.7 L620.0,107.4 L620.1,108.2 L620.2,108.6 L620.3,109.4 L620.4,110.2 L620.4,111.0 L620.5,111.8 L620.5,112.6 L620.4,113.4 L620.4,114.2 L620.3,115.0 L620.3,115.8 L620.2,116.6 L620.2,117.4 L620.2,118.2 L620.2,119.0 L620.2,119.4 L620.1,120.2 L619.9,121.0 L619.8,121.6 L619.6,122.2 L619.4,123.0 L619.3,123.4 L619.2,124.2 L619.1,125.0 L619.0,125.4 L618.8,126.2 L618.7,127.0 L618.6,127.4 L618.4,128.2 L618.3,129.0 L618.2,129.4 L618.1,130.2 L618.0,131.0 L618.0,131.8 L618.0,132.6 L617.9,133.4 L617.8,134.0 L617.7,134.6 L617.5,135.4 L617.4,135.9 L617.2,136.6 L617.0,137.1 L616.7,137.8 L616.5,138.2 L616.2,138.6 L615.8,139.2 L615.4,139.8 L615.1,140.2 L614.9,140.6 L614.6,141.1 L614.2,141.7 L613.8,142.2 L613.5,142.6 L613.1,143.0 L612.6,143.4 L612.2,143.7 L611.8,143.9 L611.2,144.2 L610.6,144.4 L610.1,144.6 L609.4,144.8 L608.6,144.9 L607.8,144.9 L607.0,144.8 L606.4,144.6 L605.8,144.4 L605.4,144.2 L604.6,143.8 L604.2,143.6 L603.8,143.4 L603.1,143.0 L602.6,142.7 L602.2,142.5 L601.8,142.2 L601.3,141.8 L600.9,141.4 L600.6,140.9 L600.3,140.2 L600.1,139.8 L599.9,139.0 L599.8,138.6 L599.6,137.8 L599.4,137.3 L599.2,136.6 L599.0,135.9 L598.8,135.4 L598.7,134.6 L598.6,134.2 L598.5,133.4 L598.5,132.6 L598.6,131.8 L598.7,131.4 L598.8,130.6 L598.9,129.8 L599.0,129.4 L599.2,128.6 L599.3,127.8 L599.4,127.4 L599.5,126.6 L599.5,125.8 L599.5,125.0 L599.5,124.2 L599.5,123.4 L599.4,122.7 L599.3,122.2 L599.2,121.4 L599.0,120.6 L598.9,120.2 L598.7,119.4 L598.6,118.8 L598.5,118.2 L598.3,117.4 L598.2,116.8 L598.1,116.2 L598.0,115.4 L597.8,114.6 L597.8,114.2 L597.7,113.4 L597.6,112.6 L597.5,111.8 L597.5,111.0 L597.5,110.2 L597.5,109.4 L597.6,108.6 L597.8,107.8 L597.8,107.4 L598.0,106.6 L598.2,105.9 L598.4,105.4 L598.6,104.8 L598.8,104.2 L599.0,103.8 L599.4,103.0 L599.6,102.6 L599.8,102.1 L600.2,101.4 L600.4,101.0 L600.7,100.6 L601.0,100.2 L601.4,99.7 L601.8,99.2 L602.2,98.7 L602.6,98.3 L603.0,97.9 L603.4,97.6 L603.8,97.4 L604.5,97.0 L605.0,96.8 L605.5,96.6 L606.2,96.3 L606.6,96.2 L607.4,95.9 L607.8,95.8Z" fill="none" stroke="#000" stroke-width="0.9"/>
<path d="M607.6,93.4 L608.2,93.3 L609.0,93.3 L609.8,93.3 L610.5,93.4 L611.0,93.5 L611.8,93.8 L612.2,93.9 L612.7,94.2 L613.4,94.6 L613.8,94.9 L614.2,95.2 L614.6,95.5 L615.0,95.8 L615.4,96.2 L615.8,96.6 L616.2,97.0 L616.6,97.4 L617.0,97.9 L617.4,98.4 L617.8,98.9 L618.2,99.4 L618.4,99.8 L618.7,100.2 L619.0,100.7 L619.4,101.4 L619.6,101.8 L619.9,102.2 L620.2,102.8 L620.6,103.4 L620.8,103.8 L621.0,104.3 L621.3,105.0 L621.5,105.4 L621.8,106.2 L621.9,106.6 L622.2,107.4 L622.2,107.8 L622.4,108.6 L622.5,109.4 L622.6,110.2 L622.6,110.6 L622.7,111.4 L622.7,112.2 L622.7,113.0 L622.7,113.8 L622.6,114.6 L622.6,115.4 L622.7,116.2 L622.8,117.0 L622.9,117.8 L623.0,118.6 L623.0,119.0 L623.0,119.8 L623.0,120.3 L622.9,121.0 L622.7,121.8 L622.6,122.5 L622.5,123.0 L622.4,123.8 L622.2,124.6 L622.2,125.0 L622.0,125.8 L621.8,126.6 L621.7,127.0 L621.4,127.8 L621.3,128.2 L621.1,129.0 L620.9,129.4 L620.7,130.2 L620.6,130.7 L620.5,131.4 L620.4,132.2 L620.2,133.0 L620.2,133.4 L620.0,134.2 L619.8,134.9 L619.7,135.4 L619.4,136.2 L619.3,136.6 L619.0,137.4 L618.9,137.8 L618.6,138.4 L618.3,139.0 L618.1,139.4 L617.8,139.8 L617.4,140.5 L617.0,141.0 L616.8,141.4 L616.5,141.8 L616.2,142.3 L615.8,142.9 L615.5,143.4 L615.2,143.8 L614.8,144.2 L614.5,144.6 L614.1,145.0 L613.6,145.4 L613.0,145.8 L612.6,146.0 L612.2,146.2 L611.4,146.6 L611.0,146.7 L610.2,147.0 L609.8,147.1 L609.0,147.3 L608.2,147.3 L607.4,147.3 L606.6,147.2 L605.9,147.0 L605.4,146.8 L604.9,146.6 L604.2,146.2 L603.8,146.0 L603.4,145.8 L602.8,145.4 L602.2,145.0 L601.8,144.7 L601.4,144.5 L601.0,144.2 L600.5,143.8 L600.0,143.4 L599.6,143.0 L599.3,142.6 L599.0,142.1 L598.7,141.4 L598.5,141.0 L598.3,140.2 L598.2,139.8 L598.0,139.0 L597.8,138.2 L597.7,137.8 L597.5,137.0 L597.4,136.6 L597.1,135.8 L597.0,135.2 L596.9,134.6 L596.8,133.8 L596.8,133.0 L596.8,132.2 L596.9,131.4 L597.0,130.9 L597.1,130.2 L597.2,129.4 L597.3,128.6 L597.4,128.2 L597.5,127.4 L597.6,126.6 L597.6,125.8 L597.6,125.0 L597.5,124.2 L597.5,123.4 L597.5,122.6 L597.4,121.8 L597.3,121.4 L597.2,120.6 L597.1,119.8 L597.0,119.2 L596.9,118.6 L596.8,117.8 L596.7,117.0 L596.6,116.5 L596.5,115.8 L596.4,115.0 L596.3,114.2 L596.2,113.8 L596.1,113.0 L596.0,112.2 L595.9,111.4 L595.9,110.6 L596.0,109.8 L596.0,109.0 L596.2,108.2 L596.2,107.8 L596.4,107.0 L596.6,106.2 L596.7,105.8 L596.9,105.0 L597.1,104.6 L597.3,103.8 L597.5,103.4 L597.8,102.6 L598.0,102.2 L598.2,101.7 L598.5,101.0 L598.7,100.6 L599.0,100.1 L599.4,99.4 L599.7,99.0 L599.9,98.6 L600.2,98.2 L600.6,97.6 L601.0,97.1 L601.4,96.6 L601.8,96.2 L602.2,95.8 L602.6,95.5 L603.0,95.3 L603.5,95.0 L604.2,94.6 L604.6,94.4 L605.1,94.2 L605.8,93.9 L606.2,93.8 L607.0,93.5 L607.6,93.4Z" fill="none" stroke="#555" stroke-width="0.9"/>
<path d="M623.0,127.6h0.9v0.9h-0.9zM621.7,136.3h0.9v0.9h-0.9zM602.5,155.8h0.9v0.9h-0.9zM618.9,96.8h0.9v0.9h-0.9zM603.5,86.8h0.9v0.9h-0.9zM627.4,103.4h0.9v0.9h-0.9zM593.9,108.1h0.9v0.9h-0.9zM632.2,135.3h0.9v0.9h-0.9zM620.0,145.2h0.9v0.9h-0.9zM597.5,125.8h0.9v0.9h-0.9zM622.1,104.9h0.9v0.9h-0.9zM623.6,126.6h0.9v0.9h-0.9zM613.1,84.5h0.9v0.9h-0.9zM622.4,129.2h0.9v0.9h-0.9zM612.6,156.0h0.9v0.9h-0.9zM591.4,125.1h0.9v0.9h-0.9zM595.7,128.2h0.9v0.9h-0.9zM595.5,104.7h0.9v0.9h-0.9zM596.9,97.6h0.9v0.9h-0.9zM594.3,103.4h0.9v0.9h-0.9zM595.1,89.5h0.9v0.9h-0.9zM623.6,131.6h0.9v0.9h-0.9zM624.6,124.0h0.9v0.9h-0.9zM612.9,147.1h0.9v0.9h-0.9zM624.8,112.5h0.9v0.9h-0.9zM597.9,91.4h0.9v0.9h-0.9zM629.6,94.5h0.9v0.9h-0.9zM595.3,156.3h0.9v0.9h-0.9zM600.9,145.2h0.9v0.9h-0.9zM594.7,109.6h0.9v0.9h-0.9zM594.8,146.0h0.9v0.9h-0.9zM592.5,120.1h0.9v0.9h-0.9zM597.6,98.1h0.9v0.9h-0.9zM600.7,84.7h0.9v0.9h-0.9zM625.7,125.3h0.9v0.9h-0.9zM612.6,147.8h0.9v0.9h-0.9zM602.2,94.3h0.9v0.9h-0.9zM609.6,92.7h0.9v0.9h-0.9zM624.3,115.6h0.9v0.9h-0.9zM624.7,127.6h0.9v0.9h-0.9zM553.0,91.0h0.9v0.9h-0.9zM546.0,103.0h0.9v0.9h-0.9zM559.0,98.0h0.9v0.9h-0.9zM566.0,106.0h0.9v0.9h-0.9zM569.0,100.0h0.9v0.9h-0.9zM565.0,132.0h0.9v0.9h-0.9zM583.0,120.0h0.9v0.9h-0.9zM587.0,122.0h0.9v0.9h-0.9zM592.0,132.0h0.9v0.9h-0.9z" fill="#333"/>
<path d="M178.4,390.8 L179.2,390.6 L180.0,390.5 L180.8,390.5 L181.6,390.6 L182.4,390.7 L182.8,390.9 L183.6,391.1 L184.0,391.3 L184.6,391.6 L185.2,392.0 L185.6,392.2 L186.0,392.5 L186.4,392.9 L186.8,393.2 L187.2,393.6 L187.6,394.1 L188.0,394.5 L188.4,395.1 L188.8,395.6 L189.0,396.0 L189.3,396.4 L189.6,397.0 L189.9,397.6 L190.1,398.0 L190.4,398.8 L190.5,399.2 L190.8,400.0 L190.9,400.4 L191.1,401.2 L191.2,401.7 L191.3,402.4 L191.5,403.2 L191.5,404.0 L191.6,404.8 L191.6,405.2 L191.6,406.0 L191.6,406.4 L191.6,407.2 L191.5,408.0 L191.4,408.8 L191.3,409.6 L191.2,410.0 L191.0,410.8 L190.8,411.5 L190.7,412.0 L190.4,412.7 L190.2,413.2 L190.0,413.7 L189.7,414.4 L189.5,414.8 L189.2,415.3 L188.8,416.0 L188.5,416.4 L188.2,416.8 L187.9,417.2 L187.6,417.6 L187.2,418.0 L186.8,418.4 L186.3,418.8 L185.8,419.2 L185.3,419.6 L184.8,419.9 L184.4,420.1 L183.8,420.4 L183.2,420.6 L182.6,420.8 L182.0,420.9 L181.2,421.0 L180.4,421.1 L179.6,421.0 L178.8,420.9 L178.4,420.8 L177.6,420.5 L177.2,420.4 L176.4,420.0 L176.0,419.8 L175.6,419.5 L175.2,419.2 L174.7,418.8 L174.2,418.4 L173.8,418.0 L173.4,417.6 L173.1,417.2 L172.8,416.8 L172.4,416.3 L172.0,415.6 L171.7,415.2 L171.5,414.8 L171.2,414.2 L170.9,413.6 L170.8,413.2 L170.5,412.4 L170.3,412.0 L170.1,411.2 L170.0,410.8 L169.8,410.0 L169.7,409.2 L169.6,408.7 L169.5,408.0 L169.4,407.2 L169.4,406.4 L169.4,405.6 L169.4,404.8 L169.5,404.0 L169.6,403.2 L169.6,402.8 L169.7,402.0 L169.9,401.2 L170.0,400.8 L170.2,400.0 L170.4,399.4 L170.6,398.8 L170.8,398.4 L171.1,397.6 L171.3,397.2 L171.6,396.7 L172.0,396.0 L172.2,395.6 L172.5,395.2 L172.8,394.8 L173.2,394.3 L173.6,393.8 L174.0,393.4 L174.4,393.0 L174.8,392.7 L175.2,392.4 L175.7,392.0 L176.4,391.6 L176.8,391.4 L177.2,391.2 L178.0,390.9 L178.4,390.8Z" fill="#000" stroke="none"/>
<path d="M180.3,404.0 L180.8,403.7 L181.6,403.8 L182.0,404.0 L182.4,404.4 L182.8,405.1 L182.9,405.6 L182.9,406.4 L182.8,406.8 L182.4,407.4 L182.0,407.9 L181.6,408.3 L181.2,408.7 L180.8,408.9 L180.0,409.1 L179.4,408.8 L179.2,408.4 L179.0,407.6 L179.0,406.8 L179.1,406.0 L179.2,405.6 L179.6,404.8 L179.9,404.4 L180.3,404.0Z" fill="none" stroke="#000" stroke-width="0.9"/>
<path d="M180.3,402.8 L180.8,402.6 L181.6,402.7 L182.0,402.9 L182.4,403.3 L182.8,403.7 L183.2,404.3 L183.5,404.8 L183.6,405.2 L183.7,406.0 L183.6,406.7 L183.4,407.2 L183.2,407.7 L182.8,408.2 L182.4,408.8 L182.0,409.2 L181.6,409.6 L181.2,410.0 L180.8,410.2 L180.4,410.5 L179.6,410.6 L179.0,410.4 L178.7,410.0 L178.4,409.4 L178.2,408.8 L178.1,408.0 L178.1,407.2 L178.2,406.4 L178.4,405.6 L178.5,405.2 L178.8,404.5 L179.1,404.0 L179.4,403.6 L179.8,403.2 L180.3,402.8Z" fill="none" stroke="#000" stroke-width="0.9"/>
<path d="M179.9,402.0 L180.4,401.8 L181.2,401.7 L182.0,402.0 L182.4,402.3 L182.8,402.7 L183.2,403.2 L183.5,403.6 L183.7,404.0 L184.0,404.5 L184.2,405.2 L184.3,406.0 L184.3,406.8 L184.0,407.6 L183.8,408.0 L183.6,408.4 L183.2,408.9 L182.8,409.5 L182.4,409.9 L182.0,410.4 L181.6,410.8 L181.2,411.1 L180.8,411.4 L180.4,411.7 L179.6,412.0 L178.8,411.7 L178.4,411.3 L178.1,410.8 L177.9,410.4 L177.6,409.6 L177.5,409.2 L177.4,408.4 L177.4,407.6 L177.4,406.8 L177.6,406.0 L177.6,405.6 L177.9,404.8 L178.1,404.4 L178.4,403.8 L178.8,403.2 L179.1,402.8 L179.4,402.4 L179.9,402.0Z" fill="none" stroke="#000" stroke-width="0.9"/>
<path d="M179.8,401.2 L180.4,400.9 L181.2,400.9 L182.0,401.2 L182.4,401.4 L182.8,401.8 L183.2,402.2 L183.6,402.8 L183.9,403.2 L184.1,403.6 L184.4,404.2 L184.7,404.8 L184.8,405.3 L184.9,406.0 L184.8,406.8 L184.8,407.2 L184.5,408.0 L184.3,408.4 L184.0,408.9 L183.6,409.5 L183.2,410.0 L182.9,410.4 L182.6,410.8 L182.2,411.2 L181.8,411.6 L181.4,412.0 L180.9,412.4 L180.4,412.8 L180.0,413.0 L179.2,413.1 L178.6,412.8 L178.2,412.4 L177.9,412.0 L177.6,411.4 L177.4,410.8 L177.2,410.4 L177.0,409.6 L176.9,408.8 L176.8,408.0 L176.8,407.6 L176.8,407.2 L176.9,406.4 L177.0,405.6 L177.2,405.0 L177.4,404.4 L177.6,404.0 L178.0,403.2 L178.3,402.8 L178.5,402.4 L178.8,402.0 L179.2,401.6 L179.8,401.2Z" fill="none" stroke="#000" stroke-width="0.9"/>
<path d="M179.8,400.4 L180.4,400.2 L181.2,400.2 L181.9,400.4 L182.4,400.6 L182.8,401.0 L183.2,401.4 L183.6,401.9 L184.0,402.4 L184.2,402.8 L184.5,403.2 L184.8,403.8 L185.0,404.4 L185.2,404.9 L185.4,405.6 L185.4,406.4 L185.3,407.2 L185.2,407.6 L184.9,408.4 L184.7,408.8 L184.4,409.4 L184.0,410.0 L183.7,410.4 L183.4,410.8 L183.1,411.2 L182.8,411.6 L182.4,412.0 L182.0,412.5 L181.6,412.9 L181.2,413.2 L180.7,413.6 L180.0,414.0 L179.6,414.1 L178.8,414.0 L178.4,413.8 L178.0,413.4 L177.6,412.8 L177.4,412.4 L177.2,411.9 L176.9,411.2 L176.8,410.8 L176.6,410.0 L176.4,409.3 L176.3,408.8 L176.3,408.0 L176.3,407.2 L176.3,406.4 L176.4,406.0 L176.6,405.2 L176.8,404.4 L177.0,404.0 L177.2,403.5 L177.6,402.8 L177.8,402.4 L178.0,402.0 L178.4,401.5 L178.8,401.1 L179.2,400.7 L179.8,400.4Z" fill="none" stroke="#000" stroke-width="0.9"/>
<path d="M179.8,399.6 L180.4,399.5 L181.2,399.5 L181.8,399.6 L182.4,399.9 L182.8,400.1 L183.2,400.4 L183.6,400.9 L184.0,401.4 L184.4,402.0 L184.6,402.4 L184.9,402.8 L185.2,403.4 L185.5,404.0 L185.6,404.4 L185.8,405.2 L185.9,406.0 L185.9,406.8 L185.8,407.6 L185.6,408.1 L185.4,408.8 L185.2,409.2 L184.8,409.9 L184.5,410.4 L184.2,410.8 L183.9,411.2 L183.6,411.7 L183.2,412.2 L182.8,412.7 L182.4,413.2 L182.0,413.6 L181.6,414.0 L181.2,414.3 L180.8,414.6 L180.4,414.8 L179.6,415.1 L178.8,415.0 L178.4,414.8 L177.9,414.4 L177.6,414.0 L177.2,413.3 L177.0,412.8 L176.8,412.4 L176.5,411.6 L176.4,411.2 L176.1,410.4 L176.0,409.9 L175.8,409.2 L175.7,408.4 L175.7,407.6 L175.7,406.8 L175.8,406.0 L176.0,405.2 L176.1,404.8 L176.3,404.0 L176.5,403.6 L176.8,402.9 L177.0,402.4 L177.3,402.0 L177.6,401.5 L178.0,400.9 L178.4,400.4 L178.8,400.1 L179.2,399.8 L179.8,399.6Z" fill="none" stroke="#000" stroke-width="0.9"/>
<path d="M180.3,398.8 L180.8,398.8 L181.2,398.8 L182.0,399.0 L182.5,399.2 L183.2,399.6 L183.6,400.0 L184.0,400.4 L184.3,400.8 L184.6,401.2 L184.8,401.6 L185.2,402.3 L185.5,402.8 L185.7,403.2 L186.0,404.0 L186.1,404.4 L186.3,405.2 L186.4,405.9 L186.4,406.4 L186.4,406.8 L186.3,407.6 L186.1,408.4 L185.9,408.8 L185.6,409.6 L185.4,410.0 L185.2,410.4 L184.8,411.0 L184.4,411.6 L184.1,412.0 L183.9,412.4 L183.6,412.8 L183.2,413.3 L182.8,413.8 L182.4,414.3 L182.0,414.7 L181.6,415.0 L181.2,415.3 L180.8,415.6 L180.0,416.0 L179.6,416.0 L178.9,416.0 L178.4,415.8 L178.0,415.5 L177.6,415.1 L177.2,414.6 L176.9,414.0 L176.7,413.6 L176.4,412.8 L176.3,412.4 L176.0,411.6 L175.9,411.2 L175.7,410.4 L175.5,410.0 L175.3,409.2 L175.2,408.4 L175.2,408.0 L175.2,407.2 L175.2,406.6 L175.3,406.0 L175.4,405.2 L175.6,404.5 L175.8,404.0 L176.0,403.3 L176.2,402.8 L176.4,402.4 L176.8,401.6 L177.0,401.2 L177.3,400.8 L177.6,400.3 L178.0,399.9 L178.4,399.5 L178.9,399.2 L179.6,398.9 L180.3,398.8Z" fill="none" stroke="#000" stroke-width="0.9"/>
<path d="M179.1,398.4 L179.6,398.3 L180.4,398.2 L181.2,398.2 L182.0,398.3 L182.4,398.5 L183.0,398.8 L183.6,399.2 L184.0,399.6 L184.4,400.0 L184.7,400.4 L184.9,400.8 L185.2,401.2 L185.6,401.9 L185.8,402.4 L186.0,402.8 L186.4,403.6 L186.5,404.0 L186.7,404.8 L186.8,405.2 L186.9,406.0 L186.9,406.8 L186.8,407.3 L186.7,408.0 L186.4,408.8 L186.3,409.2 L186.0,409.9 L185.8,410.4 L185.5,410.8 L185.2,411.4 L184.8,412.0 L184.6,412.4 L184.3,412.8 L184.0,413.3 L183.6,413.9 L183.2,414.4 L182.9,414.8 L182.6,415.2 L182.2,415.6 L181.7,416.0 L181.2,416.4 L180.8,416.7 L180.4,416.9 L179.6,417.2 L179.2,417.3 L178.8,417.2 L178.2,416.8 L177.8,416.4 L177.4,416.0 L177.1,415.6 L176.8,415.1 L176.5,414.4 L176.3,414.0 L176.1,413.2 L175.9,412.8 L175.7,412.0 L175.6,411.6 L175.3,410.8 L175.2,410.4 L175.0,409.6 L174.8,408.8 L174.7,408.4 L174.7,407.6 L174.7,406.8 L174.8,406.0 L174.8,405.6 L175.0,404.8 L175.2,404.1 L175.4,403.6 L175.6,402.9 L175.8,402.4 L176.0,402.0 L176.4,401.2 L176.6,400.8 L176.9,400.4 L177.2,399.9 L177.6,399.4 L178.0,399.0 L178.4,398.7 L179.1,398.4Z" fill="none" stroke="#000" stroke-width="0.9"/>
<path d="M178.8,398.0 L179.2,397.9 L180.0,397.7 L180.8,397.6 L181.6,397.7 L182.4,397.9 L182.8,398.1 L183.3,398.4 L183.8,398.8 L184.2,399.2 L184.6,399.6 L184.9,400.0 L185.2,400.4 L185.6,401.1 L185.9,401.6 L186.1,402.0 L186.4,402.6 L186.7,403.2 L186.8,403.6 L187.0,404.4 L187.2,405.2 L187.2,405.6 L187.3,406.4 L187.2,407.2 L187.2,407.6 L187.0,408.4 L186.8,409.0 L186.6,409.6 L186.4,410.0 L186.0,410.8 L185.8,411.2 L185.6,411.6 L185.2,412.2 L184.8,412.8 L184.6,413.2 L184.4,413.6 L184.0,414.2 L183.6,414.8 L183.4,415.2 L183.1,415.6 L182.8,416.0 L182.4,416.4 L182.0,416.8 L181.6,417.2 L181.2,417.6 L180.8,418.0 L180.4,418.5 L180.0,419.2 L179.9,419.6 L179.7,420.4 L179.5,420.8 L179.1,421.2 L178.5,421.2 L178.1,420.8 L178.0,420.4 L178.0,419.6 L178.0,418.8 L177.8,418.0 L177.6,417.6 L177.2,416.8 L177.0,416.4 L176.7,416.0 L176.4,415.3 L176.2,414.8 L176.0,414.4 L175.8,413.6 L175.6,413.0 L175.4,412.4 L175.2,411.6 L175.1,411.2 L174.8,410.4 L174.7,410.0 L174.5,409.2 L174.4,408.7 L174.3,408.0 L174.3,407.2 L174.3,406.4 L174.4,405.6 L174.5,405.2 L174.7,404.4 L174.8,404.0 L175.1,403.2 L175.2,402.8 L175.5,402.0 L175.7,401.6 L176.0,401.0 L176.3,400.4 L176.6,400.0 L176.8,399.6 L177.2,399.1 L177.6,398.7 L178.0,398.4 L178.8,398.0Z" fill="none" stroke="#000" stroke-width="0.9"/>
<path d="M180.3,397.2 L180.8,397.2 L181.4,397.2 L182.0,397.3 L182.8,397.6 L183.2,397.8 L183.6,398.1 L184.0,398.4 L184.4,398.8 L184.8,399.2 L185.2,399.7 L185.6,400.3 L185.9,400.8 L186.2,401.2 L186.4,401.6 L186.8,402.4 L187.0,402.8 L187.2,403.5 L187.4,404.0 L187.5,404.8 L187.6,405.6 L187.6,406.0 L187.6,406.8 L187.6,407.2 L187.5,408.0 L187.3,408.8 L187.1,409.2 L186.8,410.0 L186.6,410.4 L186.4,410.9 L186.0,411.6 L185.8,412.0 L185.6,412.4 L185.2,413.1 L184.9,413.6 L184.7,414.0 L184.4,414.5 L184.0,415.2 L183.8,415.6 L183.6,416.0 L183.2,416.6 L182.8,417.2 L182.5,417.6 L182.2,418.0 L181.9,418.4 L181.6,419.1 L181.4,419.6 L181.2,420.2 L181.0,420.8 L180.8,421.2 L180.4,421.8 L180.0,422.2 L179.6,422.4 L178.8,422.6 L178.0,422.5 L177.6,422.1 L177.3,421.6 L177.1,421.2 L177.0,420.4 L177.0,419.6 L177.0,418.8 L176.9,418.0 L176.8,417.5 L176.5,416.8 L176.4,416.4 L176.0,415.6 L175.8,415.2 L175.6,414.5 L175.5,414.0 L175.3,413.2 L175.2,412.8 L175.0,412.0 L174.8,411.4 L174.6,410.8 L174.4,410.1 L174.3,409.6 L174.1,408.8 L174.0,408.4 L173.9,407.6 L173.9,406.8 L174.0,406.0 L174.0,405.6 L174.2,404.8 L174.4,404.0 L174.5,403.6 L174.8,402.8 L174.9,402.4 L175.2,401.7 L175.5,401.2 L175.7,400.8 L176.0,400.2 L176.3,399.6 L176.6,399.2 L176.9,398.8 L177.3,398.4 L177.8,398.0 L178.4,397.7 L178.8,397.5 L179.6,397.3 L180.3,397.2Z" fill="none" stroke="#000" stroke-width="0.9"/>
<path d="M179.6,396.8 L180.4,396.7 L181.2,396.6 L182.0,396.7 L182.4,396.8 L183.2,397.2 L183.6,397.4 L184.0,397.7 L184.4,398.1 L184.8,398.5 L185.2,399.0 L185.6,399.5 L186.0,400.0 L186.2,400.4 L186.5,400.8 L186.8,401.4 L187.1,402.0 L187.3,402.4 L187.6,403.2 L187.7,403.6 L187.9,404.4 L188.0,405.2 L188.0,405.6 L188.0,406.4 L188.0,407.2 L188.0,407.6 L187.8,408.4 L187.6,409.2 L187.5,409.6 L187.2,410.2 L186.9,410.8 L186.7,411.2 L186.4,411.9 L186.1,412.4 L185.9,412.8 L185.6,413.3 L185.3,414.0 L185.1,414.4 L184.8,415.0 L184.5,415.6 L184.3,416.0 L184.0,416.7 L183.8,417.2 L183.6,417.6 L183.2,418.3 L182.9,418.8 L182.8,419.2 L182.4,420.0 L182.3,420.4 L182.0,421.1 L181.7,421.6 L181.5,422.0 L181.1,422.4 L180.7,422.8 L180.1,423.2 L179.6,423.4 L178.8,423.6 L178.7,423.6 L178.0,423.5 L177.5,423.2 L177.1,422.8 L176.8,422.4 L176.5,421.6 L176.4,421.2 L176.3,420.4 L176.3,419.6 L176.3,418.8 L176.2,418.0 L176.0,417.2 L175.9,416.8 L175.6,416.0 L175.4,415.6 L175.2,414.8 L175.1,414.4 L174.9,413.6 L174.8,413.1 L174.7,412.4 L174.4,411.6 L174.3,411.2 L174.1,410.4 L174.0,410.0 L173.8,409.2 L173.6,408.4 L173.5,408.0 L173.5,407.2 L173.5,406.4 L173.6,405.6 L173.7,405.2 L173.8,404.4 L174.0,403.8 L174.2,403.2 L174.4,402.6 L174.6,402.0 L174.8,401.6 L175.2,400.8 L175.4,400.4 L175.6,400.0 L176.0,399.3 L176.3,398.8 L176.6,398.4 L177.0,398.0 L177.5,397.6 L178.0,397.3 L178.4,397.2 L179.2,396.9 L179.6,396.8Z" fill="none" stroke="#000" stroke-width="0.9"/>
<path d="M179.0,396.4 L179.6,396.2 L180.4,396.1 L181.2,396.0 L182.0,396.1 L182.8,396.3 L183.2,396.5 L183.7,396.8 L184.2,397.2 L184.7,397.6 L185.1,398.0 L185.4,398.4 L185.7,398.8 L186.0,399.2 L186.4,399.7 L186.8,400.3 L187.1,400.8 L187.3,401.2 L187.6,401.7 L187.9,402.4 L188.1,402.8 L188.3,403.6 L188.4,404.3 L188.5,404.8 L188.5,405.6 L188.5,406.4 L188.5,407.2 L188.4,408.0 L188.4,408.4 L188.2,409.2 L188.0,409.7 L187.7,410.4 L187.5,410.8 L187.2,411.5 L186.9,412.0 L186.7,412.4 L186.4,413.0 L186.1,413.6 L185.9,414.0 L185.6,414.8 L185.4,415.2 L185.2,415.8 L185.0,416.4 L184.8,416.9 L184.5,417.6 L184.3,418.0 L184.0,418.7 L183.8,419.2 L183.6,419.6 L183.3,420.4 L183.1,420.8 L182.8,421.5 L182.5,422.0 L182.3,422.4 L182.0,422.8 L181.6,423.2 L181.1,423.6 L180.5,424.0 L180.0,424.2 L179.6,424.4 L178.8,424.5 L178.0,424.4 L177.6,424.2 L177.2,424.0 L176.8,423.6 L176.4,423.1 L176.1,422.4 L175.9,422.0 L175.7,421.2 L175.6,420.4 L175.6,419.9 L175.6,419.2 L175.5,418.4 L175.4,417.6 L175.2,416.9 L175.0,416.4 L174.8,415.6 L174.7,415.2 L174.5,414.4 L174.4,413.7 L174.3,413.2 L174.2,412.4 L174.0,411.7 L173.9,411.2 L173.6,410.4 L173.5,410.0 L173.3,409.2 L173.2,408.6 L173.1,408.0 L173.0,407.2 L173.0,406.4 L173.1,405.6 L173.2,405.0 L173.3,404.4 L173.6,403.6 L173.7,403.2 L174.0,402.4 L174.1,402.0 L174.4,401.3 L174.6,400.8 L174.8,400.4 L175.2,399.7 L175.5,399.2 L175.7,398.8 L176.0,398.4 L176.4,397.9 L176.8,397.5 L177.2,397.2 L177.9,396.8 L178.4,396.6 L179.0,396.4Z" fill="none" stroke="#000" stroke-width="0.9"/>
<path d="M179.7,395.6 L180.4,395.4 L181.2,395.3 L182.0,395.4 L182.8,395.6 L183.2,395.7 L183.7,396.0 L184.3,396.4 L184.7,396.8 L185.1,397.2 L185.5,397.6 L185.8,398.0 L186.2,398.4 L186.5,398.8 L186.8,399.3 L187.2,399.8 L187.6,400.4 L187.8,400.8 L188.0,401.2 L188.4,402.0 L188.6,402.4 L188.8,403.2 L188.9,403.6 L189.0,404.4 L189.1,405.2 L189.1,406.0 L189.1,406.8 L189.1,407.6 L189.0,408.4 L188.8,409.1 L188.7,409.6 L188.4,410.3 L188.2,410.8 L188.0,411.2 L187.6,412.0 L187.4,412.4 L187.2,412.8 L186.8,413.6 L186.7,414.0 L186.4,414.7 L186.2,415.2 L186.0,415.8 L185.8,416.4 L185.6,417.0 L185.4,417.6 L185.2,418.0 L184.8,418.8 L184.6,419.2 L184.4,419.7 L184.1,420.4 L183.9,420.8 L183.6,421.6 L183.4,422.0 L183.2,422.5 L182.8,423.1 L182.4,423.6 L182.0,424.0 L181.6,424.3 L181.2,424.6 L180.8,424.8 L180.0,425.2 L179.6,425.3 L178.8,425.5 L178.0,425.3 L177.6,425.1 L177.0,424.8 L176.6,424.4 L176.2,424.0 L175.9,423.6 L175.6,423.0 L175.4,422.4 L175.2,421.7 L175.1,421.2 L175.0,420.4 L174.9,419.6 L174.8,418.8 L174.8,418.4 L174.6,417.6 L174.4,416.8 L174.3,416.4 L174.1,415.6 L174.0,415.0 L173.9,414.4 L173.8,413.6 L173.7,412.8 L173.6,412.2 L173.5,411.6 L173.3,410.8 L173.2,410.4 L172.9,409.6 L172.8,409.0 L172.7,408.4 L172.5,407.6 L172.5,406.8 L172.5,406.0 L172.6,405.2 L172.8,404.4 L172.9,404.0 L173.1,403.2 L173.3,402.8 L173.6,402.0 L173.7,401.6 L174.0,400.9 L174.2,400.4 L174.4,400.0 L174.8,399.3 L175.1,398.8 L175.4,398.4 L175.6,398.0 L176.0,397.5 L176.4,397.1 L176.8,396.8 L177.5,396.4 L178.0,396.2 L178.4,396.0 L179.2,395.7 L179.7,395.6Z" fill="none" stroke="#000" stroke-width="0.9"/>
<path d="M180.0,394.8 L180.4,394.7 L181.2,394.6 L182.0,394.6 L182.8,394.7 L183.2,394.9 L183.8,395.2 L184.4,395.6 L184.8,395.9 L185.2,396.3 L185.6,396.7 L186.0,397.2 L186.3,397.6 L186.7,398.0 L187.0,398.4 L187.3,398.8 L187.6,399.3 L188.0,399.8 L188.4,400.4 L188.6,400.8 L188.8,401.2 L189.2,402.0 L189.3,402.4 L189.5,403.2 L189.6,403.8 L189.7,404.4 L189.7,405.2 L189.7,406.0 L189.7,406.8 L189.7,407.6 L189.6,408.4 L189.6,408.8 L189.4,409.6 L189.2,410.1 L188.9,410.8 L188.7,411.2 L188.4,411.9 L188.2,412.4 L188.0,412.8 L187.7,413.6 L187.5,414.0 L187.2,414.8 L187.1,415.2 L186.8,416.0 L186.7,416.4 L186.4,417.2 L186.3,417.6 L186.0,418.2 L185.7,418.8 L185.5,419.2 L185.2,419.7 L184.9,420.4 L184.7,420.8 L184.4,421.6 L184.2,422.0 L184.0,422.6 L183.7,423.2 L183.4,423.6 L183.1,424.0 L182.8,424.4 L182.3,424.8 L181.8,425.2 L181.2,425.6 L180.8,425.8 L180.4,426.0 L179.6,426.3 L179.2,426.4 L178.4,426.4 L178.0,426.3 L177.4,426.0 L176.8,425.6 L176.4,425.3 L176.0,424.9 L175.6,424.4 L175.4,424.0 L175.2,423.6 L174.8,422.8 L174.7,422.4 L174.5,421.6 L174.4,421.0 L174.3,420.4 L174.2,419.6 L174.1,418.8 L174.0,418.4 L173.8,417.6 L173.6,416.8 L173.5,416.4 L173.4,415.6 L173.3,414.8 L173.2,414.0 L173.2,413.6 L173.1,412.8 L173.0,412.0 L172.8,411.2 L172.7,410.8 L172.5,410.0 L172.4,409.5 L172.2,408.8 L172.1,408.0 L172.0,407.5 L172.0,406.8 L172.0,406.0 L172.0,405.6 L172.2,404.8 L172.3,404.0 L172.4,403.6 L172.7,402.8 L172.8,402.4 L173.1,401.6 L173.3,401.2 L173.6,400.5 L173.8,400.0 L174.0,399.6 L174.4,398.9 L174.7,398.4 L174.9,398.0 L175.2,397.6 L175.6,397.1 L176.0,396.7 L176.4,396.4 L177.0,396.0 L177.6,395.7 L178.0,395.5 L178.8,395.2 L179.2,395.0 L180.0,394.8Z" fill="none" stroke="#000" stroke-width="0.9"/>
<path d="M179.8,394.0 L180.4,393.8 L181.2,393.7 L182.0,393.7 L182.8,393.8 L183.4,394.0 L184.0,394.3 L184.4,394.5 L184.8,394.8 L185.2,395.2 L185.6,395.6 L186.0,396.0 L186.4,396.5 L186.8,397.0 L187.2,397.4 L187.6,397.9 L187.9,398.4 L188.2,398.8 L188.5,399.2 L188.8,399.6 L189.2,400.3 L189.5,400.8 L189.7,401.2 L190.0,402.0 L190.1,402.4 L190.3,403.2 L190.4,403.9 L190.5,404.4 L190.5,405.2 L190.5,406.0 L190.5,406.8 L190.5,407.6 L190.4,408.4 L190.4,408.8 L190.2,409.6 L190.0,410.3 L189.8,410.8 L189.6,411.3 L189.3,412.0 L189.1,412.4 L188.8,413.1 L188.6,413.6 L188.4,414.2 L188.2,414.8 L188.0,415.4 L187.8,416.0 L187.6,416.7 L187.4,417.2 L187.2,417.7 L186.8,418.4 L186.6,418.8 L186.4,419.2 L186.0,419.9 L185.7,420.4 L185.5,420.8 L185.2,421.6 L185.0,422.0 L184.8,422.6 L184.6,423.2 L184.4,423.6 L184.0,424.3 L183.6,424.8 L183.2,425.2 L182.8,425.6 L182.4,425.9 L182.0,426.2 L181.6,426.4 L181.0,426.8 L180.4,427.1 L180.0,427.3 L179.2,427.5 L178.4,427.5 L177.6,427.3 L177.2,427.1 L176.8,426.8 L176.3,426.4 L175.9,426.0 L175.6,425.6 L175.2,425.1 L174.8,424.5 L174.5,424.0 L174.4,423.6 L174.1,422.8 L174.0,422.4 L173.8,421.6 L173.6,420.8 L173.5,420.4 L173.4,419.6 L173.2,418.8 L173.1,418.4 L172.9,417.6 L172.8,416.9 L172.7,416.4 L172.6,415.6 L172.6,414.8 L172.5,414.0 L172.5,413.2 L172.4,412.4 L172.4,412.0 L172.2,411.2 L172.0,410.4 L171.9,410.0 L171.7,409.2 L171.6,408.7 L171.5,408.0 L171.4,407.2 L171.4,406.4 L171.4,405.6 L171.5,404.8 L171.6,404.4 L171.8,403.6 L172.0,402.9 L172.1,402.4 L172.4,401.7 L172.6,401.2 L172.8,400.7 L173.1,400.0 L173.3,399.6 L173.6,399.1 L174.0,398.4 L174.2,398.0 L174.5,397.6 L174.8,397.1 L175.2,396.6 L175.6,396.2 L176.0,395.9 L176.4,395.6 L177.1,395.2 L177.6,395.0 L178.0,394.8 L178.8,394.4 L179.2,394.2 L179.8,394.0Z" fill="none" stroke="#000" stroke-width="0.9"/>
<path d="M180.4,392.8 L180.8,392.7 L181.6,392.6 L182.4,392.7 L182.9,392.8 L183.6,393.0 L184.1,393.2 L184.8,393.6 L185.2,393.9 L185.6,394.2 L186.0,394.6 L186.4,395.0 L186.8,395.5 L187.2,396.0 L187.5,396.4 L187.9,396.8 L188.2,397.2 L188.5,397.6 L188.8,398.0 L189.2,398.6 L189.6,399.2 L189.8,399.6 L190.1,400.0 L190.4,400.6 L190.7,401.2 L190.8,401.6 L191.0,402.4 L191.2,403.1 L191.3,403.6 L191.4,404.4 L191.4,405.2 L191.4,406.0 L191.4,406.8 L191.4,407.6 L191.4,408.4 L191.3,409.2 L191.2,409.7 L191.0,410.4 L190.8,411.0 L190.6,411.6 L190.4,412.0 L190.1,412.8 L189.9,413.2 L189.6,414.0 L189.5,414.4 L189.3,415.2 L189.1,415.6 L188.8,416.4 L188.7,416.8 L188.4,417.5 L188.2,418.0 L187.9,418.4 L187.6,419.0 L187.2,419.6 L186.9,420.0 L186.7,420.4 L186.4,420.9 L186.1,421.6 L185.9,422.0 L185.6,422.8 L185.5,423.2 L185.2,423.9 L185.0,424.4 L184.7,424.8 L184.4,425.3 L184.0,425.7 L183.6,426.1 L183.2,426.5 L182.8,426.8 L182.2,427.2 L181.6,427.6 L181.2,427.9 L180.8,428.1 L180.1,428.4 L179.6,428.5 L178.8,428.6 L178.0,428.6 L177.5,428.4 L176.8,428.1 L176.4,427.8 L176.0,427.4 L175.6,427.0 L175.2,426.6 L174.8,426.1 L174.5,425.6 L174.2,425.2 L174.0,424.8 L173.7,424.0 L173.5,423.6 L173.3,422.8 L173.2,422.4 L173.0,421.6 L172.8,420.8 L172.7,420.4 L172.5,419.6 L172.4,419.1 L172.2,418.4 L172.1,417.6 L172.0,417.2 L171.9,416.4 L171.8,415.6 L171.8,414.8 L171.8,414.0 L171.7,413.2 L171.7,412.4 L171.6,411.8 L171.5,411.2 L171.3,410.4 L171.2,409.9 L171.0,409.2 L170.9,408.4 L170.8,408.0 L170.7,407.2 L170.7,406.4 L170.7,405.6 L170.8,405.1 L170.9,404.4 L171.0,403.6 L171.2,403.0 L171.4,402.4 L171.6,401.8 L171.8,401.2 L172.0,400.7 L172.3,400.0 L172.5,399.6 L172.8,399.1 L173.1,398.4 L173.4,398.0 L173.6,397.6 L174.0,397.0 L174.4,396.4 L174.8,396.0 L175.2,395.6 L175.6,395.3 L176.0,395.0 L176.4,394.7 L177.0,394.4 L177.6,394.1 L178.0,393.8 L178.5,393.6 L179.2,393.2 L179.6,393.1 L180.4,392.8Z" fill="none" stroke="#000" stroke-width="0.9"/>
<path d="M180.4,391.6 L180.8,391.5 L181.6,391.5 L182.4,391.5 L182.9,391.6 L183.6,391.8 L184.3,392.0 L184.8,392.2 L185.2,392.5 L185.7,392.8 L186.2,393.2 L186.7,393.6 L187.1,394.0 L187.4,394.4 L187.8,394.8 L188.1,395.2 L188.4,395.6 L188.8,396.1 L189.2,396.6 L189.6,397.2 L189.9,397.6 L190.1,398.0 L190.4,398.5 L190.8,399.2 L191.1,399.6 L191.3,400.0 L191.6,400.7 L191.8,401.2 L192.0,401.8 L192.2,402.4 L192.4,403.2 L192.4,403.6 L192.5,404.4 L192.6,405.2 L192.6,406.0 L192.6,406.8 L192.6,407.6 L192.6,408.4 L192.6,409.2 L192.5,410.0 L192.4,410.4 L192.2,411.2 L192.0,411.7 L191.7,412.4 L191.6,412.8 L191.3,413.6 L191.2,414.0 L190.9,414.8 L190.8,415.2 L190.5,416.0 L190.3,416.4 L190.0,417.1 L189.8,417.6 L189.6,418.0 L189.2,418.6 L188.8,419.2 L188.6,419.6 L188.3,420.0 L188.0,420.4 L187.6,421.0 L187.2,421.6 L187.0,422.0 L186.8,422.6 L186.6,423.2 L186.4,423.7 L186.1,424.4 L186.0,424.8 L185.6,425.5 L185.3,426.0 L184.9,426.4 L184.6,426.8 L184.1,427.2 L183.6,427.6 L183.2,427.9 L182.8,428.2 L182.4,428.5 L182.0,428.8 L181.3,429.2 L180.8,429.4 L180.4,429.6 L179.6,429.8 L178.8,429.9 L178.0,429.8 L177.3,429.6 L176.8,429.4 L176.4,429.2 L175.9,428.8 L175.4,428.4 L175.0,428.0 L174.6,427.6 L174.3,427.2 L174.0,426.8 L173.6,426.2 L173.3,425.6 L173.1,425.2 L172.8,424.5 L172.6,424.0 L172.4,423.3 L172.3,422.8 L172.1,422.0 L172.0,421.6 L171.8,420.8 L171.6,420.0 L171.5,419.6 L171.3,418.8 L171.2,418.1 L171.1,417.6 L171.0,416.8 L170.9,416.0 L170.9,415.2 L170.9,414.4 L170.8,413.6 L170.8,412.9 L170.8,412.4 L170.6,411.6 L170.5,410.8 L170.4,410.3 L170.2,409.6 L170.1,408.8 L170.0,408.3 L169.9,407.6 L169.9,406.8 L169.9,406.0 L169.9,405.2 L170.0,404.5 L170.1,404.0 L170.2,403.2 L170.4,402.5 L170.5,402.0 L170.8,401.3 L171.0,400.8 L171.2,400.3 L171.5,399.6 L171.7,399.2 L172.0,398.6 L172.3,398.0 L172.5,397.6 L172.8,397.1 L173.2,396.5 L173.5,396.0 L173.9,395.6 L174.3,395.2 L174.7,394.8 L175.2,394.4 L175.6,394.1 L176.0,393.9 L176.4,393.6 L177.0,393.2 L177.6,392.8 L178.0,392.6 L178.4,392.4 L179.1,392.0 L179.6,391.8 L180.4,391.6Z" fill="none" stroke="#000" stroke-width="0.9"/>
<path d="M179.3,390.4 L180.0,390.2 L180.8,390.1 L181.6,390.1 L182.4,390.1 L183.2,390.2 L184.0,390.4 L184.4,390.5 L185.2,390.8 L185.6,391.0 L186.0,391.2 L186.7,391.6 L187.2,392.0 L187.6,392.4 L188.0,392.8 L188.4,393.2 L188.7,393.6 L189.1,394.0 L189.4,394.4 L189.7,394.8 L190.0,395.2 L190.4,395.8 L190.8,396.4 L191.0,396.8 L191.3,397.2 L191.6,397.8 L192.0,398.4 L192.2,398.8 L192.4,399.2 L192.8,400.0 L193.0,400.4 L193.2,400.8 L193.5,401.6 L193.6,402.0 L193.9,402.8 L194.0,403.4 L194.1,404.0 L194.3,404.8 L194.4,405.6 L194.4,406.0 L194.5,406.8 L194.5,407.6 L194.5,408.4 L194.4,409.2 L194.4,409.6 L194.3,410.4 L194.2,411.2 L194.0,412.0 L193.9,412.4 L193.7,413.2 L193.6,413.6 L193.3,414.4 L193.2,414.8 L192.9,415.6 L192.7,416.0 L192.4,416.7 L192.1,417.2 L191.9,417.6 L191.6,418.0 L191.2,418.6 L190.8,419.2 L190.6,419.6 L190.3,420.0 L190.0,420.4 L189.6,420.9 L189.2,421.5 L188.9,422.0 L188.6,422.4 L188.4,422.8 L188.1,423.6 L187.9,424.0 L187.6,424.8 L187.4,425.2 L187.2,425.6 L186.8,426.3 L186.4,426.8 L186.1,427.2 L185.7,427.6 L185.3,428.0 L184.9,428.4 L184.4,428.8 L184.0,429.1 L183.6,429.4 L183.2,429.7 L182.8,430.0 L182.2,430.4 L181.6,430.7 L181.2,430.9 L180.4,431.1 L180.0,431.2 L179.2,431.3 L178.4,431.3 L177.9,431.2 L177.2,431.0 L176.6,430.8 L176.0,430.5 L175.6,430.3 L175.2,430.0 L174.7,429.6 L174.3,429.2 L173.9,428.8 L173.5,428.4 L173.2,428.0 L172.8,427.4 L172.4,426.8 L172.2,426.4 L172.0,426.0 L171.7,425.2 L171.5,424.8 L171.3,424.0 L171.2,423.6 L171.0,422.8 L170.8,422.1 L170.7,421.6 L170.5,420.8 L170.4,420.2 L170.3,419.6 L170.1,418.8 L170.0,418.0 L169.9,417.6 L169.8,416.8 L169.7,416.0 L169.7,415.2 L169.6,414.4 L169.6,413.9 L169.6,413.2 L169.5,412.4 L169.4,411.6 L169.3,410.8 L169.2,410.4 L169.0,409.6 L168.9,408.8 L168.8,408.0 L168.8,407.6 L168.8,406.8 L168.8,406.0 L168.8,405.2 L168.8,404.8 L168.9,404.0 L169.0,403.2 L169.2,402.4 L169.3,402.0 L169.5,401.2 L169.7,400.8 L170.0,400.0 L170.2,399.6 L170.4,399.1 L170.7,398.4 L170.9,398.0 L171.2,397.4 L171.5,396.8 L171.7,396.4 L172.0,395.9 L172.4,395.3 L172.8,394.8 L173.2,394.4 L173.6,394.0 L174.0,393.7 L174.4,393.3 L174.8,393.0 L175.2,392.7 L175.6,392.4 L176.2,392.0 L176.8,391.6 L177.2,391.3 L177.6,391.1 L178.2,390.8 L178.8,390.5 L179.3,390.4Z" fill="none" stroke="#000" stroke-width="0.9"/>
<path d="M179.8,388.0 L180.4,387.9 L181.2,387.9 L182.0,387.9 L182.7,388.0 L183.2,388.1 L184.0,388.2 L184.6,388.4 L185.2,388.6 L185.9,388.8 L186.4,389.0 L186.8,389.2 L187.5,389.6 L188.0,390.0 L188.4,390.3 L188.8,390.7 L189.2,391.1 L189.6,391.5 L190.0,392.0 L190.4,392.4 L190.7,392.8 L191.0,393.2 L191.4,393.6 L191.7,394.0 L192.0,394.4 L192.4,394.9 L192.8,395.5 L193.1,396.0 L193.4,396.4 L193.7,396.8 L194.0,397.3 L194.4,398.0 L194.6,398.4 L194.8,398.8 L195.2,399.5 L195.4,400.0 L195.6,400.4 L195.9,401.2 L196.1,401.6 L196.4,402.3 L196.6,402.8 L196.8,403.2 L197.2,404.0 L197.3,404.4 L197.6,405.2 L197.7,405.6 L197.9,406.4 L197.9,407.2 L197.9,408.0 L197.8,408.8 L197.7,409.6 L197.6,410.2 L197.5,410.8 L197.3,411.6 L197.2,412.4 L197.2,412.8 L197.1,413.6 L197.0,414.4 L196.9,415.2 L196.8,415.8 L196.7,416.4 L196.4,417.2 L196.3,417.6 L196.0,418.2 L195.7,418.8 L195.4,419.2 L195.0,419.6 L194.7,420.0 L194.2,420.4 L193.8,420.8 L193.4,421.2 L192.9,421.6 L192.6,422.0 L192.2,422.4 L191.9,422.8 L191.6,423.2 L191.2,423.8 L190.8,424.4 L190.6,424.8 L190.3,425.2 L190.0,425.7 L189.6,426.3 L189.2,426.8 L188.9,427.2 L188.6,427.6 L188.2,428.0 L187.8,428.4 L187.4,428.8 L187.0,429.2 L186.5,429.6 L186.1,430.0 L185.6,430.4 L185.2,430.7 L184.8,431.0 L184.4,431.4 L184.0,431.7 L183.5,432.0 L182.8,432.4 L182.4,432.6 L181.8,432.8 L181.2,433.0 L180.4,433.2 L180.0,433.3 L179.2,433.4 L178.4,433.4 L177.6,433.2 L177.2,433.1 L176.4,432.9 L176.0,432.7 L175.5,432.4 L174.8,432.0 L174.4,431.7 L174.0,431.4 L173.6,431.1 L173.2,430.7 L172.8,430.3 L172.4,429.9 L172.0,429.4 L171.6,428.9 L171.3,428.4 L171.0,428.0 L170.8,427.6 L170.4,426.8 L170.2,426.4 L170.0,425.9 L169.7,425.2 L169.6,424.8 L169.3,424.0 L169.2,423.4 L169.1,422.8 L168.9,422.0 L168.8,421.3 L168.7,420.8 L168.6,420.0 L168.5,419.2 L168.4,418.8 L168.2,418.0 L168.1,417.2 L168.0,416.8 L167.8,416.0 L167.7,415.2 L167.6,414.7 L167.5,414.0 L167.4,413.2 L167.4,412.4 L167.3,411.6 L167.2,410.8 L167.2,410.4 L167.1,409.6 L167.0,408.8 L167.0,408.0 L166.9,407.2 L166.9,406.4 L167.0,405.6 L167.0,404.8 L167.1,404.0 L167.2,403.2 L167.2,402.8 L167.4,402.0 L167.6,401.5 L167.8,400.8 L168.0,400.3 L168.2,399.6 L168.4,399.1 L168.6,398.4 L168.8,398.0 L169.1,397.2 L169.2,396.8 L169.6,396.0 L169.8,395.6 L170.0,395.2 L170.4,394.7 L170.8,394.1 L171.2,393.6 L171.6,393.2 L171.9,392.8 L172.3,392.4 L172.7,392.0 L173.1,391.6 L173.5,391.2 L174.0,390.8 L174.4,390.4 L174.8,390.1 L175.2,389.8 L175.6,389.5 L176.1,389.2 L176.8,388.8 L177.2,388.7 L178.0,388.4 L178.4,388.3 L179.2,388.1 L179.8,388.0Z" fill="none" stroke="#555" stroke-width="0.9"/>
<path d="M203.8,382.5h0.9v0.9h-0.9zM174.1,445.5h0.9v0.9h-0.9zM194.2,421.8h0.9v0.9h-0.9zM167.1,439.2h0.9v0.9h-0.9zM164.5,417.7h0.9v0.9h-0.9zM185.0,431.0h0.9v0.9h-0.9zM164.7,418.3h0.9v0.9h-0.9zM199.0,418.5h0.9v0.9h-0.9zM169.9,429.7h0.9v0.9h-0.9zM170.3,388.6h0.9v0.9h-0.9zM199.4,416.7h0.9v0.9h-0.9zM164.0,415.0h0.9v0.9h-0.9zM163.4,407.1h0.9v0.9h-0.9zM197.3,426.5h0.9v0.9h-0.9zM168.3,418.8h0.9v0.9h-0.9zM178.9,381.2h0.9v0.9h-0.9zM197.0,399.5h0.9v0.9h-0.9zM170.0,390.7h0.9v0.9h-0.9zM188.0,387.3h0.9v0.9h-0.9zM187.0,429.5h0.9v0.9h-0.9zM185.7,388.3h0.9v0.9h-0.9zM203.3,398.8h0.9v0.9h-0.9zM187.3,385.4h0.9v0.9h-0.9zM165.5,403.2h0.9v0.9h-0.9zM177.1,384.5h0.9v0.9h-0.9zM191.1,425.6h0.9v0.9h-0.9zM196.9,384.8h0.9v0.9h-0.9zM160.2,418.7h0.9v0.9h-0.9zM197.2,397.4h0.9v0.9h-0.9zM200.0,395.3h0.9v0.9h-0.9zM177.0,356.0h0.9v0.9h-0.9zM179.0,370.0h0.9v0.9h-0.9zM182.0,378.0h0.9v0.9h-0.9zM123.0,385.0h0.9v0.9h-0.9zM122.0,396.0h0.9v0.9h-0.9zM115.0,401.0h0.9v0.9h-0.9zM111.0,406.0h0.9v0.9h-0.9zM158.0,431.0h0.9v0.9h-0.9zM171.0,437.0h0.9v0.9h-0.9zM179.0,443.0h0.9v0.9h-0.9zM178.0,449.0h0.9v0.9h-0.9z" fill="#333"/>
<path d="M607.1,392.6 L607.6,392.5 L608.4,392.4 L609.2,392.3 L610.0,392.4 L610.8,392.5 L611.2,392.6 L612.0,392.9 L612.4,393.1 L613.0,393.4 L613.6,393.7 L614.0,394.0 L614.4,394.3 L614.8,394.7 L615.2,395.1 L615.6,395.5 L616.0,395.9 L616.4,396.5 L616.8,397.0 L617.0,397.4 L617.3,397.8 L617.6,398.4 L617.9,399.0 L618.0,399.4 L618.4,400.2 L618.5,400.6 L618.7,401.4 L618.8,401.8 L619.0,402.6 L619.2,403.4 L619.2,403.8 L619.3,404.6 L619.4,405.4 L619.4,406.2 L619.4,407.0 L619.4,407.8 L619.3,408.6 L619.2,409.2 L619.1,409.8 L618.9,410.6 L618.8,411.2 L618.6,411.8 L618.4,412.5 L618.2,413.0 L618.0,413.5 L617.7,414.2 L617.5,414.6 L617.2,415.1 L616.8,415.8 L616.5,416.2 L616.2,416.6 L615.9,417.0 L615.5,417.4 L615.1,417.8 L614.7,418.2 L614.2,418.6 L613.7,419.0 L613.2,419.3 L612.8,419.5 L612.2,419.8 L611.6,420.1 L611.1,420.2 L610.4,420.4 L609.6,420.5 L608.8,420.5 L608.0,420.4 L607.2,420.2 L606.8,420.1 L606.0,419.8 L605.6,419.6 L605.2,419.4 L604.5,419.0 L604.0,418.6 L603.6,418.3 L603.2,417.9 L602.8,417.5 L602.4,417.1 L602.0,416.6 L601.7,416.2 L601.4,415.8 L601.2,415.4 L600.8,414.7 L600.5,414.2 L600.3,413.8 L600.0,413.0 L599.8,412.6 L599.6,411.9 L599.5,411.4 L599.3,410.6 L599.2,410.2 L599.0,409.4 L598.9,408.6 L598.8,407.8 L598.8,407.0 L598.8,406.6 L598.8,406.0 L598.8,405.4 L598.9,404.6 L599.0,403.8 L599.1,403.0 L599.2,402.5 L599.4,401.8 L599.6,401.0 L599.7,400.6 L600.0,399.8 L600.2,399.4 L600.4,398.9 L600.7,398.2 L600.9,397.8 L601.2,397.4 L601.6,396.7 L602.0,396.2 L602.3,395.8 L602.7,395.4 L603.1,395.0 L603.5,394.6 L604.0,394.2 L604.4,393.9 L604.8,393.6 L605.2,393.4 L606.0,393.0 L606.4,392.8 L607.1,392.6Z" fill="#000" stroke="none"/>
<path d="M608.6,403.4 L609.1,403.4 L609.6,403.7 L610.0,404.2 L610.3,404.6 L610.5,405.0 L610.7,405.8 L610.8,406.2 L610.8,407.0 L610.7,407.4 L610.4,408.0 L610.0,408.3 L609.2,408.5 L608.4,408.2 L608.0,407.8 L607.8,407.4 L607.6,407.0 L607.5,406.2 L607.5,405.4 L607.6,404.8 L607.8,404.2 L608.1,403.8 L608.6,403.4Z" fill="none" stroke="#000" stroke-width="0.9"/>
<path d="M608.0,402.6 L608.4,402.3 L609.2,402.3 L609.7,402.6 L610.1,403.0 L610.4,403.4 L610.8,404.2 L611.0,404.6 L611.2,405.1 L611.4,405.8 L611.6,406.6 L611.6,407.0 L611.6,407.4 L611.4,408.2 L611.2,408.6 L610.8,409.0 L610.3,409.4 L609.6,409.6 L608.8,409.6 L608.3,409.4 L607.7,409.0 L607.3,408.6 L607.1,408.2 L606.8,407.5 L606.7,407.0 L606.6,406.2 L606.7,405.4 L606.8,404.9 L607.0,404.2 L607.2,403.7 L607.6,403.0 L608.0,402.6Z" fill="none" stroke="#000" stroke-width="0.9"/>
<path d="M607.9,401.8 L608.4,401.5 L609.2,401.4 L610.0,401.8 L610.4,402.2 L610.6,402.6 L610.9,403.0 L611.2,403.7 L611.4,404.2 L611.6,404.7 L611.9,405.4 L612.0,405.8 L612.2,406.6 L612.2,407.4 L612.2,408.2 L612.0,408.7 L611.6,409.4 L611.2,409.8 L610.8,410.1 L610.4,410.3 L609.6,410.5 L608.8,410.5 L608.0,410.2 L607.6,410.0 L607.2,409.6 L606.8,409.2 L606.4,408.6 L606.2,408.2 L606.0,407.4 L606.0,407.0 L606.0,406.2 L606.0,405.7 L606.1,405.0 L606.3,404.2 L606.5,403.8 L606.8,403.0 L607.1,402.6 L607.4,402.2 L607.9,401.8Z" fill="none" stroke="#000" stroke-width="0.9"/>
<path d="M608.1,401.0 L608.8,400.8 L609.6,400.8 L610.1,401.0 L610.6,401.4 L610.9,401.8 L611.2,402.4 L611.5,403.0 L611.7,403.4 L612.0,404.2 L612.1,404.6 L612.4,405.3 L612.6,405.8 L612.8,406.6 L612.8,407.0 L612.8,407.8 L612.8,408.3 L612.6,409.0 L612.4,409.5 L612.0,410.0 L611.6,410.4 L611.2,410.7 L610.6,411.0 L610.0,411.2 L609.2,411.3 L608.4,411.1 L608.0,411.0 L607.3,410.6 L606.8,410.2 L606.4,409.8 L606.1,409.4 L605.9,409.0 L605.6,408.4 L605.4,407.8 L605.3,407.0 L605.3,406.2 L605.4,405.4 L605.6,404.7 L605.7,404.2 L606.0,403.5 L606.2,403.0 L606.4,402.6 L606.8,402.0 L607.2,401.6 L607.6,401.3 L608.1,401.0Z" fill="none" stroke="#000" stroke-width="0.9"/>
<path d="M609.0,400.2 L609.5,400.2 L610.0,400.3 L610.6,400.6 L611.1,401.0 L611.4,401.4 L611.6,401.8 L611.9,402.6 L612.1,403.0 L612.4,403.8 L612.6,404.2 L612.8,404.8 L613.0,405.4 L613.2,406.1 L613.3,406.6 L613.4,407.4 L613.4,408.2 L613.3,409.0 L613.2,409.4 L612.8,410.1 L612.4,410.6 L612.0,410.9 L611.6,411.2 L611.2,411.5 L610.6,411.8 L610.0,412.0 L609.2,412.1 L608.4,411.9 L608.0,411.8 L607.3,411.4 L606.8,411.1 L606.4,410.8 L606.0,410.3 L605.6,409.8 L605.4,409.4 L605.2,409.0 L604.9,408.2 L604.8,407.5 L604.8,407.0 L604.8,406.2 L604.8,405.8 L604.9,405.0 L605.2,404.2 L605.3,403.8 L605.6,403.1 L605.8,402.6 L606.0,402.2 L606.4,401.7 L606.8,401.2 L607.2,400.9 L607.7,400.6 L608.4,400.3 L609.0,400.2Z" fill="none" stroke="#000" stroke-width="0.9"/>
<path d="M608.3,399.8 L608.8,399.7 L609.6,399.6 L610.4,399.8 L610.8,400.0 L611.2,400.3 L611.6,400.7 L612.0,401.3 L612.2,401.8 L612.4,402.2 L612.7,403.0 L612.9,403.4 L613.2,404.2 L613.3,404.6 L613.6,405.4 L613.7,405.8 L613.9,406.6 L613.9,407.4 L614.0,408.2 L613.9,409.0 L613.7,409.8 L613.5,410.2 L613.2,410.6 L612.8,411.1 L612.4,411.5 L612.0,411.8 L611.4,412.2 L610.8,412.6 L610.4,412.7 L609.6,412.9 L608.8,412.9 L608.0,412.6 L607.6,412.4 L607.2,412.2 L606.7,411.8 L606.2,411.4 L605.8,411.0 L605.4,410.6 L605.2,410.2 L604.8,409.5 L604.6,409.0 L604.4,408.3 L604.3,407.8 L604.2,407.0 L604.2,406.2 L604.3,405.4 L604.4,405.0 L604.6,404.2 L604.8,403.7 L605.1,403.0 L605.3,402.6 L605.6,402.0 L606.0,401.4 L606.3,401.0 L606.8,400.6 L607.2,400.3 L607.6,400.1 L608.3,399.8Z" fill="none" stroke="#000" stroke-width="0.9"/>
<path d="M608.0,399.4 L608.8,399.2 L609.6,399.1 L610.4,399.3 L610.8,399.4 L611.5,399.8 L611.9,400.2 L612.2,400.6 L612.5,401.0 L612.8,401.7 L613.0,402.2 L613.2,402.7 L613.5,403.4 L613.6,403.8 L613.9,404.6 L614.1,405.0 L614.2,405.8 L614.4,406.6 L614.4,407.0 L614.4,407.8 L614.4,408.6 L614.4,409.0 L614.3,409.8 L614.0,410.4 L613.7,411.0 L613.3,411.4 L612.9,411.8 L612.5,412.2 L612.0,412.6 L611.6,412.9 L611.2,413.2 L610.8,413.5 L610.3,413.8 L609.6,414.0 L608.8,414.0 L608.4,413.8 L607.8,413.4 L607.2,413.0 L606.8,412.7 L606.4,412.4 L606.0,412.1 L605.6,411.7 L605.2,411.2 L604.8,410.7 L604.6,410.2 L604.4,409.8 L604.1,409.0 L604.0,408.6 L603.8,407.8 L603.7,407.0 L603.7,406.2 L603.8,405.4 L604.0,404.6 L604.1,404.2 L604.4,403.4 L604.6,403.0 L604.8,402.5 L605.2,401.8 L605.4,401.4 L605.7,401.0 L606.1,400.6 L606.6,400.2 L607.2,399.8 L607.6,399.6 L608.0,399.4Z" fill="none" stroke="#000" stroke-width="0.9"/>
<path d="M607.8,399.0 L608.4,398.8 L609.2,398.7 L610.0,398.7 L610.8,398.9 L611.2,399.0 L611.8,399.4 L612.2,399.8 L612.5,400.2 L612.8,400.6 L613.2,401.3 L613.4,401.8 L613.6,402.2 L613.9,403.0 L614.1,403.4 L614.4,404.2 L614.5,404.6 L614.7,405.4 L614.8,406.2 L614.8,406.6 L614.9,407.4 L614.9,408.2 L614.9,409.0 L614.8,409.6 L614.7,410.2 L614.4,410.8 L614.0,411.4 L613.7,411.8 L613.3,412.2 L612.9,412.6 L612.5,413.0 L612.1,413.4 L611.7,413.8 L611.3,414.2 L611.0,414.6 L610.7,415.0 L610.3,415.4 L609.7,415.8 L609.2,415.9 L608.8,415.7 L608.4,415.4 L608.0,415.0 L607.6,414.5 L607.2,414.1 L606.8,413.7 L606.4,413.3 L606.0,412.9 L605.6,412.5 L605.2,412.1 L604.8,411.6 L604.4,411.0 L604.2,410.6 L604.0,410.1 L603.7,409.4 L603.6,408.9 L603.4,408.2 L603.3,407.4 L603.3,406.6 L603.3,405.8 L603.5,405.0 L603.6,404.4 L603.8,403.8 L604.0,403.3 L604.3,402.6 L604.5,402.2 L604.8,401.6 L605.2,401.0 L605.5,400.6 L605.9,400.2 L606.4,399.8 L606.8,399.5 L607.2,399.3 L607.8,399.0Z" fill="none" stroke="#000" stroke-width="0.9"/>
<path d="M607.8,398.6 L608.4,398.4 L609.2,398.3 L610.0,398.3 L610.8,398.4 L611.3,398.6 L611.9,399.0 L612.4,399.4 L612.8,399.8 L613.0,400.2 L613.3,400.6 L613.6,401.2 L613.9,401.8 L614.1,402.2 L614.4,403.0 L614.6,403.4 L614.8,404.0 L615.0,404.6 L615.1,405.4 L615.2,406.0 L615.2,406.6 L615.3,407.4 L615.3,408.2 L615.3,409.0 L615.2,409.5 L615.1,410.2 L614.8,411.0 L614.6,411.4 L614.3,411.8 L614.0,412.2 L613.6,412.6 L613.2,413.1 L612.8,413.5 L612.4,414.0 L612.0,414.6 L611.8,415.0 L611.6,415.4 L611.2,416.2 L611.0,416.6 L610.8,417.0 L610.4,417.5 L609.9,417.8 L609.2,417.9 L608.7,417.8 L608.2,417.4 L607.9,417.0 L607.6,416.4 L607.3,415.8 L607.1,415.4 L606.8,414.9 L606.4,414.3 L606.0,413.8 L605.7,413.4 L605.3,413.0 L605.0,412.6 L604.7,412.2 L604.4,411.8 L604.0,411.1 L603.8,410.6 L603.6,410.2 L603.4,409.4 L603.2,408.8 L603.1,408.2 L603.0,407.4 L602.9,406.6 L603.0,405.8 L603.1,405.0 L603.2,404.5 L603.4,403.8 L603.6,403.3 L603.9,402.6 L604.1,402.2 L604.4,401.6 L604.8,401.0 L605.1,400.6 L605.4,400.2 L605.8,399.8 L606.3,399.4 L606.8,399.1 L607.2,398.8 L607.8,398.6Z" fill="none" stroke="#000" stroke-width="0.9"/>
<path d="M607.7,398.2 L608.4,398.0 L609.2,397.8 L610.0,397.8 L610.8,398.0 L611.4,398.2 L612.0,398.5 L612.4,398.8 L612.8,399.2 L613.2,399.7 L613.5,400.2 L613.8,400.6 L614.0,401.0 L614.4,401.8 L614.6,402.2 L614.8,402.7 L615.1,403.4 L615.2,403.8 L615.4,404.6 L615.6,405.4 L615.6,405.8 L615.6,406.6 L615.6,407.4 L615.6,408.2 L615.6,409.0 L615.6,409.4 L615.5,410.2 L615.3,411.0 L615.1,411.4 L614.8,411.9 L614.4,412.5 L614.0,413.0 L613.6,413.4 L613.3,413.8 L613.0,414.2 L612.8,414.6 L612.4,415.4 L612.3,415.8 L612.0,416.6 L611.9,417.0 L611.6,417.7 L611.3,418.2 L611.0,418.6 L610.6,419.0 L610.1,419.4 L609.6,419.7 L609.2,419.8 L608.8,419.8 L608.1,419.4 L607.7,419.0 L607.4,418.6 L607.2,418.2 L606.9,417.4 L606.8,417.0 L606.5,416.2 L606.4,415.8 L606.0,415.0 L605.8,414.6 L605.5,414.2 L605.2,413.7 L604.8,413.2 L604.4,412.7 L604.1,412.2 L603.9,411.8 L603.6,411.2 L603.3,410.6 L603.2,410.2 L603.0,409.4 L602.8,408.7 L602.7,408.2 L602.6,407.4 L602.6,406.6 L602.6,405.8 L602.7,405.0 L602.8,404.6 L603.0,403.8 L603.2,403.3 L603.5,402.6 L603.7,402.2 L604.0,401.6 L604.4,401.0 L604.6,400.6 L604.9,400.2 L605.3,399.8 L605.7,399.4 L606.2,399.0 L606.8,398.6 L607.2,398.4 L607.7,398.2Z" fill="none" stroke="#000" stroke-width="0.9"/>
<path d="M609.1,397.4 L609.6,397.4 L610.1,397.4 L610.8,397.5 L611.6,397.8 L612.0,398.0 L612.4,398.3 L612.8,398.6 L613.2,399.0 L613.6,399.6 L614.0,400.2 L614.2,400.6 L614.5,401.0 L614.8,401.7 L615.0,402.2 L615.2,402.6 L615.5,403.4 L615.7,403.8 L615.9,404.6 L616.0,405.4 L616.0,405.8 L616.0,406.6 L616.0,407.4 L616.0,408.2 L616.0,408.6 L616.0,409.4 L615.9,410.2 L615.7,411.0 L615.6,411.4 L615.2,412.1 L614.9,412.6 L614.6,413.0 L614.3,413.4 L614.0,413.8 L613.6,414.5 L613.3,415.0 L613.2,415.4 L612.9,416.2 L612.8,416.6 L612.5,417.4 L612.4,417.8 L612.0,418.6 L611.8,419.0 L611.5,419.4 L611.2,419.9 L610.8,420.5 L610.4,421.0 L610.0,421.4 L609.6,421.7 L608.8,421.6 L608.4,421.4 L607.9,421.0 L607.5,420.6 L607.1,420.2 L606.8,419.7 L606.5,419.0 L606.3,418.6 L606.1,417.8 L606.0,417.4 L605.8,416.6 L605.6,415.9 L605.4,415.4 L605.2,414.9 L604.8,414.2 L604.6,413.8 L604.3,413.4 L604.0,412.9 L603.6,412.2 L603.4,411.8 L603.2,411.3 L603.0,410.6 L602.8,410.1 L602.6,409.4 L602.4,408.6 L602.4,408.2 L602.3,407.4 L602.2,406.6 L602.3,405.8 L602.4,405.0 L602.4,404.6 L602.7,403.8 L602.8,403.4 L603.1,402.6 L603.3,402.2 L603.6,401.6 L603.9,401.0 L604.2,400.6 L604.5,400.2 L604.8,399.8 L605.2,399.4 L605.6,399.0 L606.1,398.6 L606.7,398.2 L607.2,397.9 L607.6,397.8 L608.4,397.5 L609.1,397.4Z" fill="none" stroke="#000" stroke-width="0.9"/>
<path d="M608.4,397.0 L609.2,396.9 L610.0,396.9 L610.7,397.0 L611.2,397.1 L611.8,397.4 L612.4,397.7 L612.8,398.0 L613.2,398.4 L613.6,398.8 L614.0,399.3 L614.3,399.8 L614.5,400.2 L614.8,400.7 L615.2,401.4 L615.4,401.8 L615.6,402.3 L615.9,403.0 L616.1,403.4 L616.3,404.2 L616.4,404.9 L616.4,405.4 L616.5,406.2 L616.4,407.0 L616.4,407.8 L616.4,408.3 L616.4,409.0 L616.3,409.8 L616.3,410.6 L616.1,411.4 L615.9,411.8 L615.6,412.4 L615.3,413.0 L615.0,413.4 L614.7,413.8 L614.4,414.4 L614.1,415.0 L613.9,415.4 L613.7,416.2 L613.5,416.6 L613.3,417.4 L613.2,417.8 L612.8,418.6 L612.6,419.0 L612.4,419.4 L612.0,420.2 L611.8,420.6 L611.6,421.0 L611.2,421.7 L610.9,422.2 L610.6,422.6 L610.1,423.0 L609.6,423.2 L608.8,423.1 L608.4,422.9 L608.0,422.6 L607.6,422.2 L607.2,421.8 L606.8,421.3 L606.4,420.8 L606.1,420.2 L605.9,419.8 L605.6,419.1 L605.5,418.6 L605.3,417.8 L605.2,417.3 L605.1,416.6 L604.8,415.8 L604.7,415.4 L604.4,414.7 L604.1,414.2 L603.9,413.8 L603.6,413.2 L603.3,412.6 L603.1,412.2 L602.8,411.4 L602.7,411.0 L602.4,410.2 L602.3,409.8 L602.1,409.0 L602.0,408.3 L601.9,407.8 L601.9,407.0 L601.9,406.2 L601.9,405.4 L602.0,404.9 L602.2,404.2 L602.4,403.4 L602.6,403.0 L602.8,402.4 L603.1,401.8 L603.3,401.4 L603.6,400.8 L604.0,400.2 L604.3,399.8 L604.6,399.4 L605.0,399.0 L605.4,398.6 L605.9,398.2 L606.4,397.9 L606.8,397.6 L607.3,397.4 L608.0,397.1 L608.4,397.0Z" fill="none" stroke="#000" stroke-width="0.9"/>
<path d="M607.7,396.6 L608.4,396.4 L609.2,396.3 L610.0,396.3 L610.8,396.4 L611.4,396.6 L612.0,396.9 L612.4,397.1 L612.9,397.4 L613.4,397.8 L613.8,398.2 L614.1,398.6 L614.4,399.0 L614.8,399.6 L615.1,400.2 L615.3,400.6 L615.6,401.1 L615.9,401.8 L616.1,402.2 L616.4,402.8 L616.6,403.4 L616.8,404.1 L616.9,404.6 L617.0,405.4 L617.0,406.2 L616.9,407.0 L616.9,407.8 L616.9,408.6 L616.8,409.4 L616.8,410.1 L616.7,410.6 L616.6,411.4 L616.4,412.0 L616.1,412.6 L615.9,413.0 L615.6,413.6 L615.3,414.2 L615.1,414.6 L614.8,415.2 L614.6,415.8 L614.4,416.4 L614.2,417.0 L614.0,417.6 L613.8,418.2 L613.6,418.6 L613.2,419.4 L613.1,419.8 L612.8,420.3 L612.5,421.0 L612.3,421.4 L612.0,422.0 L611.7,422.6 L611.4,423.0 L611.1,423.4 L610.7,423.8 L610.1,424.2 L609.6,424.3 L608.8,424.3 L608.4,424.2 L607.8,423.8 L607.4,423.4 L607.0,423.0 L606.7,422.6 L606.4,422.2 L606.0,421.7 L605.6,421.0 L605.4,420.6 L605.2,420.2 L604.9,419.4 L604.8,419.0 L604.6,418.2 L604.5,417.4 L604.4,417.0 L604.2,416.2 L604.0,415.5 L603.8,415.0 L603.6,414.5 L603.3,413.8 L603.1,413.4 L602.8,412.7 L602.6,412.2 L602.4,411.6 L602.2,411.0 L602.0,410.3 L601.9,409.8 L601.7,409.0 L601.6,408.5 L601.5,407.8 L601.4,407.0 L601.4,406.2 L601.5,405.4 L601.6,404.8 L601.7,404.2 L602.0,403.4 L602.1,403.0 L602.4,402.3 L602.6,401.8 L602.8,401.4 L603.2,400.6 L603.4,400.2 L603.7,399.8 L604.0,399.4 L604.4,398.9 L604.8,398.5 L605.2,398.1 L605.6,397.8 L606.1,397.4 L606.8,397.0 L607.2,396.8 L607.7,396.6Z" fill="none" stroke="#000" stroke-width="0.9"/>
<path d="M607.8,395.8 L608.4,395.6 L609.2,395.5 L610.0,395.5 L610.8,395.7 L611.3,395.8 L612.0,396.1 L612.4,396.3 L612.9,396.6 L613.4,397.0 L613.9,397.4 L614.3,397.8 L614.6,398.2 L614.9,398.6 L615.2,399.1 L615.6,399.8 L615.8,400.2 L616.0,400.6 L616.4,401.4 L616.6,401.8 L616.8,402.2 L617.1,403.0 L617.3,403.4 L617.4,404.2 L617.5,405.0 L617.6,405.8 L617.5,406.6 L617.5,407.4 L617.4,408.2 L617.4,409.0 L617.4,409.8 L617.3,410.6 L617.2,411.4 L617.1,411.8 L616.8,412.6 L616.7,413.0 L616.4,413.6 L616.1,414.2 L615.9,414.6 L615.6,415.4 L615.5,415.8 L615.2,416.6 L615.1,417.0 L614.8,417.7 L614.6,418.2 L614.4,418.7 L614.1,419.4 L613.9,419.8 L613.6,420.5 L613.4,421.0 L613.2,421.4 L612.8,422.2 L612.6,422.6 L612.4,423.0 L612.0,423.6 L611.6,424.1 L611.2,424.5 L610.8,424.9 L610.4,425.1 L609.6,425.4 L609.2,425.5 L608.7,425.4 L608.0,425.2 L607.6,425.0 L607.1,424.6 L606.7,424.2 L606.3,423.8 L606.0,423.4 L605.6,422.7 L605.3,422.2 L605.1,421.8 L604.8,421.2 L604.5,420.6 L604.4,420.2 L604.1,419.4 L604.0,418.9 L603.8,418.2 L603.7,417.4 L603.6,416.9 L603.4,416.2 L603.2,415.4 L603.1,415.0 L602.8,414.3 L602.6,413.8 L602.4,413.2 L602.2,412.6 L602.0,412.1 L601.8,411.4 L601.6,410.8 L601.4,410.2 L601.3,409.4 L601.2,409.0 L601.1,408.2 L601.0,407.4 L601.0,406.6 L601.0,405.8 L601.1,405.0 L601.2,404.4 L601.3,403.8 L601.6,403.0 L601.7,402.6 L602.0,401.9 L602.2,401.4 L602.4,401.0 L602.8,400.2 L603.0,399.8 L603.3,399.4 L603.6,399.0 L604.0,398.5 L604.4,398.0 L604.8,397.6 L605.2,397.3 L605.6,397.0 L606.1,396.6 L606.8,396.2 L607.2,396.0 L607.8,395.8Z" fill="none" stroke="#000" stroke-width="0.9"/>
<path d="M607.5,395.0 L608.0,394.8 L608.8,394.7 L609.6,394.6 L610.4,394.7 L611.2,394.9 L611.6,395.0 L612.4,395.4 L612.8,395.6 L613.2,395.9 L613.6,396.2 L614.1,396.6 L614.5,397.0 L614.9,397.4 L615.2,397.8 L615.6,398.4 L616.0,399.0 L616.2,399.4 L616.4,399.8 L616.8,400.6 L617.0,401.0 L617.2,401.4 L617.6,402.2 L617.7,402.6 L618.0,403.4 L618.1,403.8 L618.2,404.6 L618.2,405.4 L618.2,406.2 L618.2,407.0 L618.1,407.8 L618.1,408.6 L618.1,409.4 L618.1,410.2 L618.0,410.9 L617.9,411.4 L617.8,412.2 L617.6,412.7 L617.3,413.4 L617.2,413.8 L616.9,414.6 L616.7,415.0 L616.4,415.8 L616.3,416.2 L616.0,417.0 L615.8,417.4 L615.6,417.9 L615.3,418.6 L615.1,419.0 L614.8,419.8 L614.6,420.2 L614.4,420.7 L614.1,421.4 L613.9,421.8 L613.6,422.4 L613.3,423.0 L613.0,423.4 L612.8,423.8 L612.4,424.3 L612.0,424.8 L611.6,425.3 L611.2,425.6 L610.8,425.9 L610.3,426.2 L609.6,426.4 L608.8,426.5 L608.0,426.3 L607.6,426.2 L606.9,425.8 L606.4,425.4 L606.0,425.0 L605.6,424.6 L605.3,424.2 L605.1,423.8 L604.8,423.3 L604.5,422.6 L604.3,422.2 L604.0,421.4 L603.9,421.0 L603.6,420.2 L603.5,419.8 L603.3,419.0 L603.2,418.6 L603.0,417.8 L602.9,417.0 L602.8,416.6 L602.6,415.8 L602.4,415.2 L602.2,414.6 L602.0,414.0 L601.8,413.4 L601.6,412.7 L601.4,412.2 L601.2,411.4 L601.1,411.0 L600.9,410.2 L600.8,409.8 L600.6,409.0 L600.5,408.2 L600.4,407.4 L600.4,406.6 L600.5,405.8 L600.6,405.0 L600.7,404.2 L600.8,403.7 L601.0,403.0 L601.2,402.4 L601.4,401.8 L601.6,401.4 L601.9,400.6 L602.1,400.2 L602.4,399.6 L602.8,399.0 L603.0,398.6 L603.3,398.2 L603.6,397.8 L604.0,397.4 L604.4,397.0 L604.8,396.6 L605.4,396.2 L606.0,395.8 L606.4,395.5 L606.8,395.3 L607.5,395.0Z" fill="none" stroke="#000" stroke-width="0.9"/>
<path d="M608.2,393.8 L608.8,393.7 L609.6,393.6 L610.4,393.7 L610.8,393.8 L611.6,394.0 L612.0,394.2 L612.8,394.6 L613.2,394.8 L613.6,395.0 L614.1,395.4 L614.6,395.8 L615.0,396.2 L615.4,396.6 L615.8,397.0 L616.1,397.4 L616.4,397.9 L616.8,398.6 L617.0,399.0 L617.2,399.4 L617.6,400.2 L617.8,400.6 L618.0,401.1 L618.3,401.8 L618.4,402.2 L618.7,403.0 L618.8,403.5 L619.0,404.2 L619.0,405.0 L619.1,405.8 L619.1,406.6 L619.0,407.4 L619.0,408.2 L619.0,409.0 L619.0,409.8 L618.9,410.6 L618.8,411.4 L618.8,411.8 L618.6,412.6 L618.4,413.2 L618.2,413.8 L618.0,414.4 L617.8,415.0 L617.6,415.6 L617.4,416.2 L617.2,416.7 L616.9,417.4 L616.8,417.8 L616.4,418.5 L616.2,419.0 L616.0,419.4 L615.6,420.2 L615.4,420.6 L615.2,421.1 L614.9,421.8 L614.7,422.2 L614.4,422.8 L614.0,423.4 L613.8,423.8 L613.5,424.2 L613.2,424.6 L612.8,425.2 L612.4,425.7 L612.0,426.1 L611.6,426.5 L611.2,426.8 L610.8,427.0 L610.0,427.4 L609.6,427.5 L608.8,427.5 L608.2,427.4 L607.6,427.2 L607.0,427.0 L606.4,426.7 L606.0,426.4 L605.6,426.1 L605.2,425.7 L604.8,425.3 L604.4,424.7 L604.1,424.2 L603.9,423.8 L603.7,423.0 L603.5,422.6 L603.3,421.8 L603.2,421.4 L602.9,420.6 L602.8,420.1 L602.6,419.4 L602.4,418.6 L602.3,418.2 L602.2,417.4 L602.0,416.6 L601.9,416.2 L601.7,415.4 L601.6,415.0 L601.3,414.2 L601.2,413.8 L600.9,413.0 L600.8,412.5 L600.6,411.8 L600.4,411.1 L600.3,410.6 L600.1,409.8 L600.0,409.3 L599.9,408.6 L599.8,407.8 L599.8,407.0 L599.8,406.2 L599.9,405.4 L600.0,404.6 L600.1,404.2 L600.2,403.4 L600.4,402.8 L600.6,402.2 L600.8,401.5 L601.0,401.0 L601.2,400.5 L601.5,399.8 L601.7,399.4 L602.0,398.7 L602.3,398.2 L602.6,397.8 L602.8,397.4 L603.2,397.0 L603.6,396.5 L604.0,396.1 L604.4,395.8 L604.9,395.4 L605.5,395.0 L606.0,394.7 L606.4,394.5 L607.1,394.2 L607.6,394.0 L608.2,393.8Z" fill="none" stroke="#000" stroke-width="0.9"/>
<path d="M608.3,392.6 L608.8,392.5 L609.6,392.5 L610.4,392.6 L610.8,392.6 L611.6,392.8 L612.1,393.0 L612.8,393.3 L613.2,393.5 L613.8,393.8 L614.4,394.2 L614.8,394.5 L615.2,394.8 L615.6,395.2 L616.0,395.5 L616.4,396.0 L616.8,396.4 L617.2,396.9 L617.5,397.4 L617.8,397.8 L618.0,398.2 L618.4,399.0 L618.6,399.4 L618.8,399.9 L619.0,400.6 L619.2,401.1 L619.4,401.8 L619.6,402.3 L619.8,403.0 L620.0,403.8 L620.1,404.2 L620.2,405.0 L620.3,405.8 L620.3,406.6 L620.3,407.4 L620.3,408.2 L620.3,409.0 L620.3,409.8 L620.2,410.6 L620.1,411.4 L620.0,412.2 L619.9,412.6 L619.7,413.4 L619.6,413.8 L619.3,414.6 L619.2,415.0 L618.9,415.8 L618.8,416.2 L618.5,417.0 L618.4,417.4 L618.0,418.2 L617.8,418.6 L617.6,419.0 L617.2,419.7 L617.0,420.2 L616.7,420.6 L616.4,421.3 L616.1,421.8 L615.9,422.2 L615.6,422.8 L615.3,423.4 L615.0,423.8 L614.8,424.2 L614.4,424.7 L614.0,425.2 L613.6,425.8 L613.3,426.2 L612.9,426.6 L612.6,427.0 L612.2,427.4 L611.7,427.8 L611.2,428.1 L610.8,428.3 L610.0,428.5 L609.3,428.6 L609.0,428.6 L608.4,428.6 L607.6,428.4 L607.0,428.2 L606.4,428.0 L606.0,427.8 L605.4,427.4 L604.9,427.0 L604.5,426.6 L604.1,426.2 L603.8,425.8 L603.5,425.4 L603.2,424.8 L602.9,424.2 L602.8,423.8 L602.6,423.0 L602.4,422.2 L602.3,421.8 L602.1,421.0 L602.0,420.5 L601.8,419.8 L601.6,419.0 L601.6,418.6 L601.4,417.8 L601.2,417.1 L601.1,416.6 L600.8,415.8 L600.7,415.4 L600.5,414.6 L600.4,414.2 L600.2,413.4 L600.0,412.8 L599.8,412.2 L599.6,411.4 L599.5,411.0 L599.3,410.2 L599.2,409.6 L599.1,409.0 L599.1,408.2 L599.1,407.4 L599.1,406.6 L599.1,405.8 L599.2,405.0 L599.2,404.6 L599.3,403.8 L599.5,403.0 L599.6,402.6 L599.8,401.8 L600.0,401.2 L600.2,400.6 L600.4,400.0 L600.6,399.4 L600.8,399.0 L601.2,398.2 L601.4,397.8 L601.6,397.4 L602.0,396.8 L602.4,396.3 L602.8,395.8 L603.2,395.4 L603.6,395.1 L604.0,394.8 L604.4,394.5 L604.8,394.2 L605.4,393.8 L606.0,393.5 L606.4,393.3 L607.0,393.0 L607.6,392.8 L608.3,392.6Z" fill="none" stroke="#000" stroke-width="0.9"/>
<path d="M607.1,391.4 L607.6,391.3 L608.4,391.2 L609.2,391.1 L610.0,391.2 L610.8,391.2 L611.6,391.4 L612.0,391.5 L612.8,391.7 L613.2,391.9 L613.8,392.2 L614.4,392.5 L614.8,392.7 L615.2,393.0 L615.8,393.4 L616.3,393.8 L616.7,394.2 L617.2,394.6 L617.6,395.0 L617.9,395.4 L618.3,395.8 L618.6,396.2 L618.9,396.6 L619.2,397.1 L619.6,397.8 L619.8,398.2 L620.0,398.6 L620.4,399.4 L620.5,399.8 L620.8,400.6 L620.9,401.0 L621.2,401.8 L621.3,402.2 L621.5,403.0 L621.7,403.4 L621.8,404.2 L622.0,405.0 L622.1,405.4 L622.2,406.2 L622.3,407.0 L622.3,407.8 L622.3,408.6 L622.3,409.4 L622.2,410.2 L622.1,411.0 L622.0,411.7 L621.9,412.2 L621.7,413.0 L621.6,413.5 L621.4,414.2 L621.2,414.8 L621.0,415.4 L620.8,416.0 L620.6,416.6 L620.4,417.2 L620.2,417.8 L620.0,418.3 L619.7,419.0 L619.5,419.4 L619.2,419.9 L618.8,420.5 L618.5,421.0 L618.2,421.4 L617.9,421.8 L617.6,422.3 L617.2,422.9 L616.9,423.4 L616.7,423.8 L616.4,424.2 L616.0,424.8 L615.6,425.3 L615.3,425.8 L615.0,426.2 L614.6,426.6 L614.3,427.0 L614.0,427.4 L613.6,427.8 L613.2,428.2 L612.8,428.6 L612.2,429.0 L611.6,429.4 L611.2,429.5 L610.4,429.8 L610.0,429.9 L609.2,429.9 L608.4,429.8 L608.0,429.8 L607.2,429.6 L606.6,429.4 L606.0,429.2 L605.6,429.0 L604.9,428.6 L604.4,428.3 L604.0,428.0 L603.6,427.6 L603.2,427.1 L602.8,426.6 L602.5,426.2 L602.3,425.8 L602.0,425.1 L601.8,424.6 L601.6,423.9 L601.5,423.4 L601.3,422.6 L601.2,422.0 L601.1,421.4 L600.9,420.6 L600.8,420.1 L600.6,419.4 L600.4,418.6 L600.3,418.2 L600.1,417.4 L600.0,417.0 L599.8,416.2 L599.6,415.6 L599.4,415.0 L599.2,414.2 L599.1,413.8 L598.9,413.0 L598.7,412.6 L598.5,411.8 L598.4,411.2 L598.3,410.6 L598.2,409.8 L598.1,409.0 L598.1,408.2 L598.1,407.4 L598.1,406.6 L598.1,405.8 L598.2,405.0 L598.2,404.2 L598.4,403.4 L598.4,403.0 L598.6,402.2 L598.8,401.4 L598.9,401.0 L599.1,400.2 L599.2,399.8 L599.5,399.0 L599.7,398.6 L600.0,397.9 L600.2,397.4 L600.5,397.0 L600.8,396.5 L601.2,395.9 L601.6,395.4 L601.9,395.0 L602.3,394.6 L602.7,394.2 L603.1,393.8 L603.6,393.4 L604.0,393.1 L604.4,392.8 L604.8,392.6 L605.4,392.2 L606.0,391.9 L606.4,391.7 L607.1,391.4Z" fill="none" stroke="#000" stroke-width="0.9"/>
<path d="M606.2,389.4 L606.8,389.2 L607.6,389.1 L608.4,389.1 L609.2,389.1 L610.0,389.2 L610.8,389.2 L611.6,389.3 L612.4,389.4 L612.8,389.4 L613.6,389.7 L614.0,389.8 L614.8,390.2 L615.2,390.4 L615.6,390.7 L616.2,391.0 L616.8,391.4 L617.2,391.7 L617.6,391.9 L618.0,392.2 L618.6,392.6 L619.1,393.0 L619.5,393.4 L619.9,393.8 L620.2,394.2 L620.5,394.6 L620.8,395.0 L621.2,395.6 L621.6,396.2 L621.9,396.6 L622.1,397.0 L622.4,397.4 L622.8,398.1 L623.1,398.6 L623.4,399.0 L623.6,399.5 L623.9,400.2 L624.1,400.6 L624.4,401.4 L624.5,401.8 L624.7,402.6 L624.8,403.0 L625.0,403.8 L625.2,404.6 L625.3,405.0 L625.4,405.8 L625.5,406.6 L625.6,407.3 L625.6,407.8 L625.6,408.2 L625.5,409.0 L625.4,409.8 L625.2,410.6 L625.2,411.0 L625.0,411.8 L624.9,412.6 L624.8,413.1 L624.7,413.8 L624.4,414.6 L624.3,415.0 L624.0,415.8 L623.9,416.2 L623.6,417.0 L623.5,417.4 L623.3,418.2 L623.1,418.6 L622.9,419.4 L622.7,419.8 L622.4,420.4 L622.1,421.0 L621.8,421.4 L621.5,421.8 L621.2,422.2 L620.8,422.7 L620.4,423.1 L620.0,423.5 L619.6,424.0 L619.2,424.5 L618.8,425.0 L618.5,425.4 L618.2,425.8 L617.9,426.2 L617.6,426.6 L617.2,427.1 L616.8,427.5 L616.4,428.0 L616.0,428.4 L615.6,428.8 L615.2,429.1 L614.8,429.5 L614.4,429.8 L613.8,430.2 L613.2,430.6 L612.8,430.9 L612.4,431.1 L611.7,431.4 L611.2,431.6 L610.4,431.8 L610.0,431.8 L609.2,431.8 L608.8,431.8 L608.0,431.7 L607.2,431.6 L606.6,431.4 L606.0,431.2 L605.4,431.0 L604.8,430.8 L604.4,430.6 L603.8,430.2 L603.2,429.8 L602.8,429.5 L602.4,429.1 L602.0,428.6 L601.7,428.2 L601.4,427.8 L601.2,427.4 L600.8,426.6 L600.6,426.2 L600.4,425.6 L600.2,425.0 L600.0,424.3 L599.9,423.8 L599.7,423.0 L599.6,422.6 L599.4,421.8 L599.3,421.0 L599.2,420.6 L599.0,419.8 L598.8,419.2 L598.6,418.6 L598.4,417.9 L598.2,417.4 L598.0,416.6 L597.9,416.2 L597.7,415.4 L597.5,415.0 L597.3,414.2 L597.2,413.7 L597.0,413.0 L596.9,412.2 L596.8,411.8 L596.7,411.0 L596.6,410.2 L596.5,409.4 L596.5,408.6 L596.5,407.8 L596.5,407.0 L596.5,406.2 L596.5,405.4 L596.5,404.6 L596.6,403.8 L596.7,403.0 L596.8,402.3 L596.9,401.8 L597.1,401.0 L597.2,400.6 L597.4,399.8 L597.6,399.2 L597.8,398.6 L598.0,398.1 L598.3,397.4 L598.5,397.0 L598.8,396.4 L599.2,395.8 L599.4,395.4 L599.7,395.0 L600.0,394.6 L600.4,394.1 L600.8,393.6 L601.2,393.1 L601.6,392.7 L602.0,392.3 L602.4,391.9 L602.8,391.5 L603.2,391.2 L603.6,390.9 L604.0,390.6 L604.6,390.2 L605.2,389.8 L605.6,389.6 L606.2,389.4Z" fill="none" stroke="#555" stroke-width="0.9"/>
<path d="M593.0,391.5h0.9v0.9h-0.9zM593.4,420.1h0.9v0.9h-0.9zM596.8,417.6h0.9v0.9h-0.9zM613.3,379.6h0.9v0.9h-0.9zM630.5,414.4h0.9v0.9h-0.9zM597.1,447.5h0.9v0.9h-0.9zM616.0,441.1h0.9v0.9h-0.9zM622.0,389.0h0.9v0.9h-0.9zM624.0,397.9h0.9v0.9h-0.9zM599.3,422.1h0.9v0.9h-0.9zM606.8,380.8h0.9v0.9h-0.9zM595.7,412.1h0.9v0.9h-0.9zM619.8,391.7h0.9v0.9h-0.9zM612.3,441.5h0.9v0.9h-0.9zM588.1,389.4h0.9v0.9h-0.9zM592.2,401.1h0.9v0.9h-0.9zM610.8,434.6h0.9v0.9h-0.9zM597.5,445.3h0.9v0.9h-0.9zM592.7,438.6h0.9v0.9h-0.9zM603.3,387.4h0.9v0.9h-0.9zM604.8,440.3h0.9v0.9h-0.9zM618.3,387.5h0.9v0.9h-0.9zM594.4,394.7h0.9v0.9h-0.9zM623.6,426.4h0.9v0.9h-0.9zM614.9,386.6h0.9v0.9h-0.9zM596.4,423.2h0.9v0.9h-0.9zM595.3,417.3h0.9v0.9h-0.9zM608.3,433.2h0.9v0.9h-0.9zM596.9,401.7h0.9v0.9h-0.9zM631.3,419.5h0.9v0.9h-0.9zM618.2,389.2h0.9v0.9h-0.9zM630.5,432.3h0.9v0.9h-0.9zM620.9,424.5h0.9v0.9h-0.9zM607.5,381.1h0.9v0.9h-0.9zM625.6,388.1h0.9v0.9h-0.9zM629.6,404.8h0.9v0.9h-0.9zM597.7,420.4h0.9v0.9h-0.9zM633.5,404.6h0.9v0.9h-0.9zM632.3,409.3h0.9v0.9h-0.9zM602.8,431.3h0.9v0.9h-0.9zM599.8,392.5h0.9v0.9h-0.9zM590.6,406.3h0.9v0.9h-0.9zM610.4,388.2h0.9v0.9h-0.9zM589.5,395.8h0.9v0.9h-0.9zM595.7,411.7h0.9v0.9h-0.9zM614.0,348.0h0.9v0.9h-0.9zM606.0,353.0h0.9v0.9h-0.9zM609.0,371.0h0.9v0.9h-0.9zM624.0,372.0h0.9v0.9h-0.9zM570.0,374.0h0.9v0.9h-0.9zM547.0,390.0h0.9v0.9h-0.9zM560.0,396.0h0.9v0.9h-0.9zM567.0,397.0h0.9v0.9h-0.9zM570.0,390.0h0.9v0.9h-0.9zM554.0,408.0h0.9v0.9h-0.9zM561.0,409.0h0.9v0.9h-0.9zM565.0,413.0h0.9v0.9h-0.9zM584.0,401.0h0.9v0.9h-0.9zM587.0,417.0h0.9v0.9h-0.9zM592.0,426.0h0.9v0.9h-0.9zM599.0,441.0h0.9v0.9h-0.9zM606.0,447.0h0.9v0.9h-0.9zM617.0,445.0h0.9v0.9h-0.9zM604.0,451.0h0.9v0.9h-0.9zM607.0,452.0h0.9v0.9h-0.9z" fill="#333"/>
<path d="M345.8,97.6 L345.8,97.6 L346.2,97.5 L346.6,97.4 L347.0,97.5 L347.3,97.6 L347.4,97.7 L347.6,98.0 L347.8,98.4 L347.8,98.8 L347.7,99.2 L347.4,99.6 L347.2,99.6 L347.0,99.6 L346.9,99.6 L346.6,99.5 L346.2,99.3 L346.0,99.2 L345.8,99.1 L345.4,98.8 L345.4,98.7 L345.1,98.4 L345.2,98.0 L345.4,97.8 L345.8,97.6ZM334.7,98.4 L335.4,98.2 L336.2,98.3 L336.8,98.4 L337.4,98.5 L338.2,98.4 L338.6,98.4 L339.4,98.3 L340.2,98.2 L341.0,98.2 L341.8,98.2 L342.6,98.4 L343.0,98.6 L343.3,99.2 L343.1,100.0 L343.0,100.4 L342.7,101.2 L342.5,101.6 L342.2,102.3 L341.9,102.8 L341.7,103.2 L341.4,103.7 L341.0,104.2 L340.6,104.5 L340.0,104.8 L339.4,105.2 L339.0,105.5 L338.6,106.0 L338.4,106.4 L338.3,107.2 L338.6,107.9 L339.0,108.3 L339.4,108.7 L339.6,109.2 L339.4,109.7 L339.0,109.6 L338.6,109.2 L338.2,108.7 L337.8,108.3 L337.3,108.0 L336.6,107.7 L336.2,107.5 L335.5,107.2 L335.0,107.0 L334.5,106.8 L333.8,106.5 L333.4,106.3 L333.0,105.9 L332.7,105.2 L332.6,104.6 L332.5,104.0 L332.5,103.2 L332.6,102.6 L332.7,102.0 L333.0,101.3 L333.2,100.8 L333.4,100.3 L333.7,99.6 L333.9,99.2 L334.2,98.8 L334.7,98.4Z" fill="none" stroke="#000" stroke-width="1.0"/>
<path d="M345.1,96.4 L345.8,96.3 L346.6,96.2 L347.4,96.2 L348.2,96.3 L348.6,96.6 L349.0,97.1 L349.1,97.6 L349.2,98.4 L349.2,99.2 L349.2,100.0 L349.2,100.8 L349.2,101.6 L349.0,102.1 L348.2,102.1 L347.8,101.9 L347.3,101.6 L346.6,101.2 L346.2,101.0 L345.6,100.8 L345.0,100.7 L344.6,100.8 L344.0,101.2 L343.7,101.6 L343.4,102.1 L343.1,102.8 L342.9,103.2 L342.7,104.0 L342.6,104.5 L342.5,105.2 L342.3,106.0 L342.2,106.8 L342.2,107.2 L342.1,108.0 L342.1,108.8 L342.1,109.6 L342.1,110.4 L342.0,111.2 L341.9,112.0 L341.8,112.4 L341.4,113.0 L341.0,113.2 L340.2,113.4 L339.6,113.2 L339.0,112.9 L338.6,112.6 L338.2,112.2 L337.8,111.8 L337.4,111.2 L337.1,110.8 L336.9,110.4 L336.6,109.9 L336.2,109.4 L335.8,109.0 L335.4,108.7 L334.6,108.4 L334.2,108.3 L333.4,108.2 L332.6,108.0 L332.2,107.8 L331.8,107.4 L331.5,106.8 L331.4,106.0 L331.4,105.6 L331.4,105.2 L331.5,104.4 L331.6,103.6 L331.8,102.8 L331.9,102.4 L332.2,101.6 L332.4,101.2 L332.6,100.7 L332.9,100.0 L333.0,99.6 L333.3,98.8 L333.5,98.4 L333.8,98.0 L334.3,97.6 L335.0,97.4 L335.8,97.3 L336.6,97.4 L337.4,97.5 L338.2,97.5 L339.0,97.5 L339.8,97.5 L340.6,97.4 L341.4,97.3 L341.8,97.2 L342.6,97.0 L343.4,96.8 L343.8,96.7 L344.6,96.5 L345.1,96.4Z" fill="none" stroke="#000" stroke-width="1.0"/>
<path d="M347.4,95.2 L348.2,95.1 L349.0,95.1 L349.4,95.2 L350.1,95.6 L350.5,96.0 L350.6,96.4 L350.7,97.2 L350.6,97.6 L350.5,98.4 L350.4,99.2 L350.5,100.0 L350.6,100.5 L350.9,101.2 L351.1,101.6 L351.4,102.4 L351.5,102.8 L351.5,103.6 L351.4,104.0 L351.0,104.6 L350.6,105.0 L350.2,105.3 L349.6,105.6 L349.0,105.8 L348.2,105.6 L347.8,105.3 L347.4,104.8 L347.3,104.4 L347.0,103.8 L346.6,103.2 L346.2,102.9 L345.8,102.7 L345.0,102.7 L344.6,103.1 L344.4,103.6 L344.4,104.4 L344.4,105.2 L344.4,106.0 L344.2,106.8 L344.1,107.2 L343.8,108.0 L343.7,108.4 L343.7,109.2 L343.7,110.0 L343.8,110.8 L343.8,111.2 L343.8,112.0 L343.7,112.4 L343.4,113.0 L343.0,113.6 L342.7,114.0 L342.2,114.4 L341.8,114.8 L341.4,115.1 L341.0,115.3 L340.2,115.6 L339.4,115.4 L339.0,115.2 L338.6,114.8 L338.1,114.4 L337.7,114.0 L337.3,113.6 L336.8,113.2 L336.4,112.8 L336.1,112.4 L335.8,112.0 L335.4,111.4 L335.0,110.8 L334.7,110.4 L334.2,110.1 L333.8,109.9 L333.0,109.6 L332.6,109.5 L332.1,109.2 L331.5,108.8 L331.2,108.4 L330.9,108.0 L330.6,107.4 L330.4,106.8 L330.3,106.0 L330.3,105.2 L330.4,104.4 L330.6,103.6 L330.7,103.2 L331.0,102.5 L331.2,102.0 L331.4,101.6 L331.8,100.8 L332.0,100.4 L332.2,99.8 L332.4,99.2 L332.6,98.5 L332.8,98.0 L333.0,97.6 L333.4,97.1 L333.8,96.8 L334.6,96.5 L335.0,96.4 L335.7,96.4 L336.2,96.4 L337.0,96.5 L337.8,96.6 L338.6,96.7 L339.4,96.7 L340.2,96.6 L341.0,96.5 L341.5,96.4 L342.2,96.2 L342.9,96.0 L343.4,95.9 L344.2,95.7 L344.6,95.6 L345.4,95.5 L346.2,95.4 L347.0,95.3 L347.4,95.2Z" fill="none" stroke="#000" stroke-width="1.0"/>
<path d="M347.6,94.4 L348.2,94.3 L349.0,94.2 L349.8,94.1 L350.6,94.3 L351.0,94.4 L351.6,94.8 L352.2,95.2 L352.6,95.5 L353.0,95.7 L353.7,96.0 L354.2,96.2 L354.7,96.4 L355.1,96.8 L355.2,97.6 L354.7,98.0 L354.2,98.1 L353.4,98.1 L352.6,98.4 L352.2,98.8 L352.0,99.2 L352.0,100.0 L352.2,100.5 L352.6,101.2 L352.8,101.6 L353.0,102.0 L353.2,102.8 L353.1,103.6 L353.0,104.0 L352.6,104.6 L352.2,105.1 L351.8,105.6 L351.4,106.0 L351.0,106.4 L350.6,106.8 L350.2,107.2 L349.8,107.6 L349.4,107.9 L349.0,108.1 L348.2,108.1 L347.8,108.0 L347.0,107.7 L346.6,107.6 L346.2,107.6 L345.7,108.0 L345.4,108.5 L345.3,109.2 L345.4,109.9 L345.6,110.4 L345.7,111.2 L345.6,112.0 L345.4,112.5 L345.0,113.1 L344.6,113.6 L344.2,114.0 L343.8,114.4 L343.4,114.8 L343.0,115.2 L342.6,115.5 L342.2,115.9 L341.8,116.3 L341.4,116.6 L341.0,116.8 L340.2,117.1 L339.4,117.2 L338.6,116.9 L338.2,116.6 L337.8,116.3 L337.4,115.9 L337.0,115.4 L336.6,115.0 L336.2,114.7 L335.8,114.4 L335.0,114.0 L334.6,113.7 L334.2,113.5 L333.8,113.1 L333.4,112.6 L333.1,112.0 L332.8,111.6 L332.5,111.2 L332.1,110.8 L331.7,110.4 L331.3,110.0 L331.0,109.6 L330.6,109.1 L330.2,108.4 L330.0,108.0 L329.8,107.5 L329.6,106.8 L329.5,106.0 L329.4,105.2 L329.4,104.4 L329.6,103.6 L329.8,103.0 L330.1,102.4 L330.4,102.0 L330.6,101.6 L331.0,101.0 L331.3,100.4 L331.5,100.0 L331.7,99.2 L331.8,98.7 L331.9,98.0 L332.2,97.2 L332.4,96.8 L332.7,96.4 L333.2,96.0 L333.8,95.6 L334.2,95.5 L335.0,95.4 L335.8,95.4 L336.6,95.6 L337.0,95.7 L337.8,95.8 L338.6,95.9 L339.4,95.9 L340.2,95.9 L341.0,95.8 L341.8,95.6 L342.2,95.5 L343.0,95.3 L343.4,95.2 L344.2,95.0 L345.0,94.8 L345.4,94.8 L346.2,94.7 L347.0,94.5 L347.6,94.4Z" fill="none" stroke="#000" stroke-width="1.0"/>
<path d="M349.5,93.2 L350.2,93.2 L350.6,93.2 L351.4,93.4 L352.0,93.6 L352.6,93.9 L353.0,94.1 L353.6,94.4 L354.2,94.6 L354.6,94.8 L355.4,95.1 L355.8,95.4 L356.2,95.6 L356.7,96.0 L357.0,96.4 L357.4,97.2 L357.5,97.6 L357.6,98.4 L357.4,99.2 L357.2,99.6 L357.0,100.0 L356.6,100.4 L356.2,100.9 L355.8,101.4 L355.5,102.0 L355.3,102.4 L355.0,103.0 L354.7,103.6 L354.4,104.0 L354.2,104.4 L353.8,104.9 L353.4,105.4 L353.0,105.8 L352.6,106.3 L352.2,106.7 L351.8,107.2 L351.6,107.6 L351.3,108.0 L351.0,108.5 L350.6,109.0 L350.2,109.5 L349.8,109.9 L349.4,110.3 L349.0,110.7 L348.6,111.1 L348.2,111.5 L347.8,111.9 L347.4,112.4 L347.1,112.8 L346.8,113.2 L346.4,113.6 L346.0,114.0 L345.6,114.4 L345.2,114.8 L344.6,115.2 L344.2,115.5 L343.8,115.9 L343.4,116.2 L343.0,116.5 L342.6,116.8 L342.1,117.2 L341.5,117.6 L341.0,117.9 L340.6,118.0 L339.8,118.2 L339.0,118.2 L338.3,118.0 L337.8,117.8 L337.4,117.6 L336.9,117.2 L336.3,116.8 L335.8,116.4 L335.4,116.1 L335.0,115.9 L334.2,115.6 L333.8,115.4 L333.3,115.2 L332.7,114.8 L332.4,114.4 L332.1,114.0 L331.8,113.4 L331.5,112.8 L331.4,112.4 L331.0,111.6 L330.8,111.2 L330.6,110.8 L330.2,110.2 L329.9,109.6 L329.7,109.2 L329.4,108.6 L329.1,108.0 L329.0,107.6 L328.7,106.8 L328.6,106.4 L328.4,105.6 L328.3,104.8 L328.4,104.0 L328.6,103.2 L328.8,102.8 L329.0,102.4 L329.4,101.9 L329.8,101.4 L330.2,100.8 L330.4,100.4 L330.6,100.0 L330.9,99.2 L330.9,98.4 L330.9,97.6 L331.0,96.8 L331.1,96.4 L331.4,95.9 L331.8,95.5 L332.2,95.2 L332.8,94.8 L333.4,94.4 L333.8,94.2 L334.2,94.0 L335.0,93.9 L335.5,94.0 L336.2,94.3 L336.6,94.5 L337.4,94.8 L337.8,94.9 L338.6,95.0 L339.4,95.1 L340.2,95.1 L341.0,95.1 L341.8,94.9 L342.2,94.8 L343.0,94.6 L343.7,94.4 L344.2,94.3 L345.0,94.2 L345.8,94.0 L346.2,94.0 L347.0,93.8 L347.8,93.6 L348.2,93.5 L349.0,93.3 L349.5,93.2Z" fill="none" stroke="#000" stroke-width="1.0"/>
<path d="M334.2,92.4 L334.6,92.3 L335.4,92.4 L335.8,92.5 L336.5,92.8 L337.0,93.1 L337.4,93.3 L337.9,93.6 L338.6,93.9 L339.1,94.0 L339.8,94.1 L340.6,94.1 L341.4,94.0 L341.8,94.0 L342.6,93.8 L343.3,93.6 L343.8,93.5 L344.6,93.4 L345.4,93.2 L345.8,93.1 L346.6,93.0 L347.2,92.8 L347.8,92.6 L348.5,92.4 L349.0,92.3 L349.8,92.1 L350.6,92.1 L351.4,92.2 L352.2,92.4 L352.6,92.5 L353.4,92.8 L353.8,93.0 L354.3,93.2 L355.0,93.6 L355.4,93.8 L355.9,94.0 L356.6,94.4 L357.0,94.6 L357.4,94.9 L357.8,95.2 L358.3,95.6 L358.7,96.0 L359.1,96.4 L359.5,96.8 L360.0,97.2 L360.5,97.6 L360.9,98.0 L361.2,98.4 L361.4,98.8 L361.6,99.6 L361.6,100.4 L361.4,100.9 L361.0,101.4 L360.5,101.6 L359.8,101.8 L359.1,102.0 L358.6,102.2 L358.2,102.5 L357.7,102.8 L357.3,103.2 L356.9,103.6 L356.5,104.0 L356.1,104.4 L355.7,104.8 L355.3,105.2 L354.9,105.6 L354.5,106.0 L354.1,106.4 L353.8,106.8 L353.4,107.2 L353.0,107.8 L352.6,108.4 L352.3,108.8 L352.1,109.2 L351.8,109.6 L351.4,110.0 L351.0,110.5 L350.6,111.0 L350.2,111.4 L349.8,111.9 L349.4,112.4 L349.1,112.8 L348.8,113.2 L348.6,113.6 L348.2,114.1 L347.8,114.7 L347.4,115.2 L347.1,115.6 L346.8,116.0 L346.4,116.4 L345.8,116.8 L345.4,116.9 L344.6,117.2 L344.2,117.3 L343.6,117.6 L343.0,117.9 L342.6,118.1 L342.1,118.4 L341.4,118.8 L341.0,118.9 L340.2,119.2 L339.8,119.2 L339.0,119.3 L338.5,119.2 L337.8,119.0 L337.2,118.8 L336.6,118.5 L336.2,118.3 L335.5,118.0 L335.0,117.7 L334.6,117.6 L333.8,117.3 L333.4,117.2 L332.6,116.9 L332.2,116.7 L331.8,116.4 L331.4,116.0 L331.0,115.3 L330.8,114.8 L330.6,114.4 L330.2,113.6 L330.1,113.2 L329.8,112.6 L329.6,112.0 L329.4,111.6 L329.1,110.8 L328.9,110.4 L328.6,109.7 L328.4,109.2 L328.2,108.8 L327.8,108.1 L327.6,107.6 L327.4,107.2 L327.0,106.4 L326.9,106.0 L326.6,105.3 L326.5,104.8 L326.4,104.0 L326.6,103.4 L326.9,102.8 L327.2,102.4 L327.6,102.0 L328.0,101.6 L328.4,101.2 L328.7,100.8 L329.0,100.4 L329.4,99.6 L329.5,99.2 L329.4,98.4 L329.3,98.0 L329.1,97.2 L329.1,96.4 L329.4,95.8 L329.8,95.3 L330.2,94.9 L330.6,94.6 L331.0,94.4 L331.5,94.0 L332.1,93.6 L332.6,93.2 L333.0,92.9 L333.4,92.7 L334.2,92.4Z" fill="none" stroke="#000" stroke-width="1.0"/>
<path d="M349.1,91.2 L349.8,91.1 L350.6,91.1 L351.4,91.1 L351.9,91.2 L352.6,91.3 L353.4,91.5 L353.9,91.6 L354.6,91.9 L355.0,92.1 L355.7,92.4 L356.2,92.7 L356.6,92.9 L357.2,93.2 L357.8,93.5 L358.2,93.8 L358.6,94.0 L359.3,94.4 L359.8,94.7 L360.2,94.8 L361.0,95.0 L361.8,95.1 L362.6,95.2 L363.0,95.4 L363.4,95.9 L363.6,96.4 L363.7,97.2 L363.8,98.0 L363.8,98.4 L363.9,99.2 L363.9,100.0 L364.0,100.8 L363.8,101.6 L363.7,102.0 L363.4,102.4 L363.0,102.9 L362.6,103.3 L362.1,103.6 L361.4,103.8 L360.6,103.9 L359.9,104.0 L359.4,104.1 L358.7,104.4 L358.2,104.7 L357.8,104.9 L357.4,105.2 L356.9,105.6 L356.5,106.0 L356.0,106.4 L355.6,106.8 L355.2,107.2 L354.8,107.6 L354.5,108.0 L354.2,108.4 L353.8,108.9 L353.4,109.4 L353.0,109.9 L352.6,110.4 L352.3,110.8 L351.9,111.2 L351.6,111.6 L351.3,112.0 L351.0,112.5 L350.6,113.2 L350.5,113.6 L350.2,114.2 L349.9,114.8 L349.7,115.2 L349.4,115.8 L349.0,116.4 L348.8,116.8 L348.6,117.2 L348.2,117.8 L347.8,118.3 L347.4,118.6 L346.8,118.8 L346.2,118.9 L345.4,118.8 L345.0,118.8 L344.2,118.8 L343.8,118.9 L343.0,119.1 L342.6,119.3 L342.0,119.6 L341.4,119.8 L341.0,120.0 L340.2,120.2 L339.4,120.3 L338.6,120.3 L337.8,120.2 L337.1,120.0 L336.6,119.8 L336.0,119.6 L335.4,119.4 L334.8,119.2 L334.2,119.0 L333.4,118.9 L333.0,118.8 L332.2,118.6 L331.5,118.4 L331.0,118.1 L330.6,117.8 L330.2,117.2 L330.0,116.8 L329.8,116.3 L329.5,115.6 L329.4,115.2 L329.0,114.4 L328.8,114.0 L328.6,113.6 L328.2,112.8 L328.0,112.4 L327.8,111.9 L327.5,111.2 L327.3,110.8 L327.0,110.2 L326.6,109.6 L326.4,109.2 L326.2,108.8 L325.8,108.2 L325.4,107.6 L325.2,107.2 L325.0,106.8 L324.6,106.1 L324.4,105.6 L324.4,104.8 L324.5,104.0 L324.6,103.5 L324.9,102.8 L325.1,102.4 L325.4,102.0 L325.8,101.5 L326.2,101.1 L326.6,100.6 L327.0,100.1 L327.2,99.6 L327.4,98.8 L327.4,98.0 L327.4,97.4 L327.5,96.8 L327.8,96.0 L328.0,95.6 L328.3,95.2 L328.6,94.8 L329.0,94.4 L329.6,94.0 L330.2,93.6 L330.6,93.3 L331.0,93.0 L331.4,92.7 L331.9,92.4 L332.4,92.0 L333.0,91.7 L333.4,91.5 L334.2,91.3 L335.0,91.3 L335.8,91.3 L336.6,91.6 L337.0,91.7 L337.6,92.0 L338.2,92.3 L338.6,92.5 L339.4,92.7 L339.8,92.8 L340.6,92.9 L341.4,92.8 L341.8,92.8 L342.6,92.6 L343.4,92.5 L344.0,92.4 L344.6,92.3 L345.4,92.1 L346.0,92.0 L346.6,91.8 L347.4,91.6 L347.8,91.5 L348.6,91.3 L349.1,91.2Z" fill="none" stroke="#000" stroke-width="1.0"/>
<path d="M347.8,90.4 L348.2,90.3 L349.0,90.3 L349.8,90.3 L350.6,90.3 L351.4,90.3 L352.1,90.4 L352.6,90.4 L353.4,90.6 L354.2,90.7 L354.6,90.8 L355.4,91.1 L355.8,91.3 L356.4,91.6 L357.0,91.9 L357.4,92.0 L358.2,92.4 L358.6,92.5 L359.4,92.8 L359.8,92.8 L360.6,92.9 L361.4,92.8 L361.8,92.8 L362.5,92.8 L363.0,92.9 L363.7,93.2 L364.2,93.5 L364.6,93.9 L365.0,94.3 L365.4,94.8 L365.8,95.2 L366.2,95.6 L366.6,95.8 L367.4,95.7 L367.8,95.6 L368.6,95.2 L369.0,95.1 L369.8,94.9 L370.6,95.0 L371.0,95.2 L371.7,95.6 L372.2,96.0 L372.6,96.2 L373.0,96.5 L373.4,96.8 L373.9,97.2 L374.2,97.6 L374.6,98.4 L374.3,99.2 L373.9,99.6 L373.4,100.0 L373.0,100.2 L372.6,100.4 L371.8,100.7 L371.4,100.8 L370.6,101.0 L370.0,101.2 L369.4,101.4 L369.0,101.6 L368.2,101.9 L367.8,102.0 L367.0,102.3 L366.5,102.4 L365.8,102.6 L365.4,102.8 L364.8,103.2 L364.3,103.6 L363.8,104.0 L363.4,104.4 L363.0,104.7 L362.6,104.9 L362.0,105.2 L361.4,105.4 L360.6,105.5 L359.9,105.6 L359.4,105.7 L358.6,106.0 L358.2,106.2 L357.8,106.5 L357.3,106.8 L356.9,107.2 L356.4,107.6 L356.0,108.0 L355.6,108.4 L355.3,108.8 L354.9,109.2 L354.6,109.6 L354.2,110.1 L353.8,110.6 L353.4,111.1 L353.0,111.6 L352.7,112.0 L352.5,112.4 L352.2,112.9 L351.9,113.6 L351.8,114.1 L351.6,114.8 L351.4,115.2 L351.0,115.9 L350.7,116.4 L350.4,116.8 L350.1,117.2 L349.8,117.7 L349.4,118.4 L349.1,118.8 L348.9,119.2 L348.6,119.6 L348.2,120.0 L347.4,120.4 L346.6,120.4 L345.8,120.2 L345.0,120.0 L344.6,120.0 L344.0,120.0 L343.4,120.1 L342.6,120.4 L342.2,120.6 L341.7,120.8 L341.0,121.1 L340.5,121.2 L339.8,121.3 L339.0,121.4 L338.2,121.4 L337.4,121.2 L337.0,121.1 L336.2,120.9 L335.8,120.7 L335.0,120.5 L334.6,120.4 L333.8,120.2 L333.0,120.0 L332.6,119.9 L331.8,119.7 L331.4,119.6 L330.6,119.3 L330.2,119.0 L329.8,118.8 L329.4,118.4 L329.0,117.9 L328.7,117.2 L328.6,116.8 L328.3,116.0 L328.2,115.6 L327.8,114.8 L327.6,114.4 L327.4,114.0 L327.0,113.3 L326.7,112.8 L326.5,112.4 L326.2,111.9 L325.9,111.2 L325.7,110.8 L325.4,110.3 L325.0,109.6 L324.7,109.2 L324.5,108.8 L324.2,108.4 L323.8,107.7 L323.5,107.2 L323.3,106.8 L323.1,106.0 L323.0,105.2 L323.1,104.4 L323.3,103.6 L323.5,103.2 L323.8,102.5 L324.0,102.0 L324.3,101.6 L324.6,101.1 L325.0,100.5 L325.3,100.0 L325.5,99.6 L325.7,98.8 L325.8,98.4 L326.0,97.6 L326.2,97.1 L326.5,96.4 L326.7,96.0 L327.0,95.5 L327.4,94.9 L327.8,94.5 L328.2,94.1 L328.6,93.7 L329.0,93.5 L329.4,93.2 L330.0,92.8 L330.6,92.4 L331.0,92.1 L331.4,91.8 L331.8,91.5 L332.3,91.2 L333.0,90.9 L333.4,90.7 L334.2,90.6 L335.0,90.5 L335.8,90.6 L336.6,90.7 L337.0,90.8 L337.8,91.1 L338.2,91.2 L339.0,91.4 L339.8,91.6 L340.2,91.6 L341.0,91.6 L341.4,91.6 L342.2,91.5 L343.0,91.4 L343.8,91.3 L344.4,91.2 L345.0,91.1 L345.8,90.9 L346.2,90.8 L347.0,90.5 L347.8,90.4Z" fill="none" stroke="#000" stroke-width="1.0"/>
<path d="M345.8,89.2 L346.2,89.1 L347.0,89.1 L347.8,89.1 L348.6,89.1 L349.4,89.1 L349.9,89.2 L350.6,89.3 L351.4,89.4 L352.2,89.4 L353.0,89.5 L353.4,89.6 L354.2,89.7 L355.0,89.9 L355.4,90.0 L356.2,90.2 L356.8,90.4 L357.4,90.6 L358.2,90.8 L358.6,90.8 L359.4,90.9 L360.2,90.9 L361.0,90.9 L361.8,90.8 L362.6,90.9 L363.4,91.1 L363.8,91.3 L364.4,91.6 L365.0,92.0 L365.4,92.2 L365.8,92.5 L366.4,92.8 L367.0,93.0 L367.8,93.0 L368.6,92.9 L369.0,92.8 L369.8,92.7 L370.6,92.7 L371.1,92.8 L371.8,93.1 L372.2,93.3 L372.7,93.6 L373.4,94.0 L373.8,94.1 L374.6,94.4 L375.0,94.5 L375.8,94.6 L376.5,94.8 L377.0,95.1 L377.4,95.4 L377.8,96.0 L377.9,96.4 L378.1,97.2 L378.1,98.0 L378.0,98.8 L377.8,99.2 L377.4,99.6 L377.0,100.0 L376.4,100.4 L375.8,100.8 L375.4,101.0 L375.0,101.2 L374.2,101.6 L373.8,101.8 L373.4,102.0 L372.7,102.4 L372.2,102.6 L371.7,102.8 L371.0,103.0 L370.4,103.2 L369.8,103.4 L369.0,103.6 L368.6,103.7 L367.8,103.8 L367.1,104.0 L366.6,104.1 L365.9,104.4 L365.4,104.6 L365.0,104.9 L364.6,105.2 L364.1,105.6 L363.6,106.0 L363.0,106.4 L362.6,106.6 L362.2,106.8 L361.4,107.0 L360.8,107.2 L360.2,107.3 L359.4,107.6 L359.0,107.7 L358.5,108.0 L357.9,108.4 L357.4,108.8 L357.0,109.1 L356.6,109.5 L356.2,109.9 L355.8,110.4 L355.4,110.8 L355.1,111.2 L354.9,111.6 L354.6,112.0 L354.2,112.8 L354.1,113.2 L353.8,114.0 L353.6,114.4 L353.4,115.0 L353.1,115.6 L352.9,116.0 L352.6,116.5 L352.2,117.0 L351.8,117.5 L351.5,118.0 L351.2,118.4 L351.0,118.8 L350.6,119.6 L350.4,120.0 L350.2,120.5 L349.8,121.2 L349.5,121.6 L349.1,122.0 L348.6,122.4 L348.2,122.5 L347.4,122.7 L346.6,122.5 L346.2,122.4 L345.4,122.2 L344.6,122.0 L343.8,122.2 L343.3,122.4 L342.6,122.7 L342.2,122.9 L341.4,123.1 L340.6,123.1 L339.8,123.2 L339.0,123.2 L338.2,123.1 L337.4,123.0 L336.7,122.8 L336.2,122.6 L335.7,122.4 L335.0,122.1 L334.6,122.0 L333.8,121.7 L333.3,121.6 L332.6,121.4 L331.9,121.2 L331.4,121.0 L330.9,120.8 L330.2,120.5 L329.8,120.3 L329.2,120.0 L328.6,119.7 L328.2,119.4 L327.8,119.0 L327.4,118.6 L327.1,118.0 L326.9,117.6 L326.7,116.8 L326.6,116.3 L326.3,115.6 L326.2,115.2 L325.8,114.5 L325.5,114.0 L325.3,113.6 L325.0,113.0 L324.7,112.4 L324.5,112.0 L324.2,111.5 L323.8,110.8 L323.5,110.4 L323.3,110.0 L323.0,109.6 L322.6,109.0 L322.3,108.4 L322.1,108.0 L321.8,107.3 L321.7,106.8 L321.5,106.0 L321.5,105.2 L321.6,104.4 L321.8,103.6 L322.0,103.2 L322.2,102.6 L322.5,102.0 L322.7,101.6 L323.0,100.9 L323.2,100.4 L323.4,99.9 L323.7,99.2 L323.8,98.8 L324.2,98.0 L324.3,97.6 L324.6,97.1 L325.0,96.5 L325.3,96.0 L325.6,95.6 L325.9,95.2 L326.2,94.8 L326.6,94.3 L327.0,93.9 L327.4,93.5 L327.8,93.2 L328.3,92.8 L329.0,92.4 L329.4,92.1 L329.8,91.8 L330.2,91.6 L330.7,91.2 L331.3,90.8 L331.8,90.5 L332.2,90.2 L332.8,90.0 L333.4,89.8 L334.2,89.7 L335.0,89.7 L335.8,89.7 L336.6,89.8 L337.4,89.9 L338.1,90.0 L338.6,90.1 L339.4,90.1 L340.2,90.1 L340.8,90.0 L341.4,89.9 L342.2,89.8 L343.0,89.7 L343.8,89.6 L344.2,89.5 L345.0,89.3 L345.8,89.2Z" fill="none" stroke="#000" stroke-width="1.0"/>
<path d="M341.8,88.0 L342.2,88.0 L343.0,87.9 L343.8,87.9 L344.6,87.8 L345.4,87.8 L346.2,87.8 L347.0,87.7 L347.8,87.7 L348.6,87.7 L349.4,87.8 L350.2,87.9 L351.0,88.0 L351.4,88.1 L352.2,88.2 L353.0,88.4 L353.4,88.5 L354.2,88.6 L355.0,88.7 L355.6,88.8 L356.2,88.9 L357.0,89.0 L357.8,89.1 L358.6,89.2 L359.0,89.2 L359.8,89.2 L360.2,89.2 L361.0,89.1 L361.8,89.1 L362.6,89.1 L363.4,89.2 L363.8,89.3 L364.6,89.5 L365.0,89.7 L365.7,90.0 L366.2,90.3 L366.6,90.4 L367.4,90.7 L368.2,90.7 L369.0,90.6 L369.8,90.6 L370.6,90.5 L371.4,90.6 L372.2,90.7 L372.9,90.8 L373.4,90.9 L374.2,91.0 L375.0,91.1 L375.7,91.2 L376.2,91.3 L377.0,91.5 L377.4,91.6 L378.2,91.9 L378.6,92.1 L379.2,92.4 L379.8,92.7 L380.2,93.0 L380.6,93.5 L381.0,94.0 L381.2,94.4 L381.4,95.2 L381.5,95.6 L381.7,96.4 L381.8,96.9 L381.9,97.6 L381.9,98.4 L381.8,98.9 L381.5,99.6 L381.2,100.0 L380.9,100.4 L380.5,100.8 L380.0,101.2 L379.4,101.6 L379.0,101.8 L378.6,102.0 L377.8,102.3 L377.4,102.4 L376.6,102.7 L376.2,102.8 L375.4,103.1 L375.0,103.4 L374.6,103.6 L374.0,104.0 L373.4,104.3 L373.0,104.5 L372.2,104.8 L371.8,104.9 L371.0,105.1 L370.6,105.2 L369.8,105.4 L369.0,105.6 L368.6,105.7 L367.8,105.8 L367.2,106.0 L366.6,106.2 L366.2,106.4 L365.5,106.8 L365.0,107.1 L364.6,107.4 L364.2,107.6 L363.4,108.0 L363.0,108.2 L362.3,108.4 L361.8,108.6 L361.1,108.8 L360.6,109.0 L360.1,109.2 L359.4,109.6 L359.0,109.9 L358.6,110.2 L358.2,110.5 L357.8,110.9 L357.4,111.4 L357.0,111.9 L356.7,112.4 L356.5,112.8 L356.2,113.4 L355.9,114.0 L355.8,114.4 L355.4,115.2 L355.2,115.6 L355.0,116.0 L354.6,116.6 L354.2,117.2 L354.0,117.6 L353.7,118.0 L353.4,118.5 L353.1,119.2 L352.9,119.6 L352.6,120.4 L352.5,120.8 L352.2,121.6 L352.0,122.0 L351.7,122.4 L351.3,122.8 L350.8,123.2 L350.3,123.6 L349.8,123.9 L349.4,124.1 L348.7,124.4 L348.2,124.5 L347.4,124.7 L346.6,124.7 L346.0,124.8 L345.4,124.9 L344.6,125.1 L344.1,125.2 L343.4,125.4 L342.6,125.5 L341.8,125.6 L341.0,125.5 L340.2,125.4 L339.4,125.4 L338.6,125.3 L337.8,125.2 L337.4,125.2 L336.6,124.9 L336.2,124.7 L335.6,124.4 L335.0,124.1 L334.6,123.9 L333.8,123.6 L333.4,123.4 L332.6,123.2 L332.2,123.1 L331.6,122.8 L331.0,122.6 L330.6,122.4 L329.8,122.0 L329.4,121.8 L329.0,121.6 L328.2,121.3 L327.8,121.1 L327.3,120.8 L326.7,120.4 L326.2,120.0 L325.9,119.6 L325.6,119.2 L325.3,118.8 L325.0,118.1 L324.8,117.6 L324.6,117.0 L324.4,116.4 L324.2,115.9 L324.0,115.2 L323.8,114.8 L323.5,114.0 L323.3,113.6 L323.0,112.9 L322.7,112.4 L322.5,112.0 L322.2,111.6 L321.8,111.0 L321.4,110.5 L321.1,110.0 L320.8,109.6 L320.6,109.2 L320.3,108.4 L320.2,108.0 L319.9,107.2 L319.8,106.6 L319.7,106.0 L319.5,105.2 L319.4,104.4 L319.5,103.6 L319.7,102.8 L319.9,102.4 L320.2,101.9 L320.6,101.2 L320.8,100.8 L321.0,100.3 L321.3,99.6 L321.4,99.2 L321.7,98.4 L321.9,98.0 L322.2,97.5 L322.6,96.9 L323.0,96.4 L323.4,96.0 L323.8,95.6 L324.1,95.2 L324.5,94.8 L324.9,94.4 L325.2,94.0 L325.5,93.6 L325.9,93.2 L326.3,92.8 L326.7,92.4 L327.3,92.0 L327.8,91.7 L328.2,91.5 L328.7,91.2 L329.4,90.8 L329.8,90.5 L330.2,90.2 L330.6,89.9 L331.1,89.6 L331.8,89.2 L332.2,89.0 L332.8,88.8 L333.4,88.6 L334.2,88.5 L335.0,88.5 L335.8,88.5 L336.6,88.6 L337.4,88.6 L338.2,88.5 L339.0,88.4 L339.4,88.4 L340.2,88.2 L341.0,88.1 L341.8,88.0Z" fill="none" stroke="#000" stroke-width="1.0"/>
<path d="M339.1,86.0 L339.8,85.9 L340.6,85.8 L341.4,85.8 L342.2,85.9 L342.9,86.0 L343.4,86.1 L344.2,86.2 L345.0,86.2 L345.8,86.3 L346.6,86.2 L347.4,86.2 L348.2,86.1 L348.6,86.0 L349.4,85.9 L350.2,85.9 L350.7,86.0 L351.4,86.1 L352.2,86.3 L352.6,86.4 L353.4,86.6 L354.2,86.8 L354.6,86.8 L355.4,86.9 L356.2,87.0 L357.0,87.0 L357.8,87.0 L358.6,87.0 L359.4,86.9 L360.2,86.9 L361.0,86.8 L361.4,86.8 L362.2,86.7 L363.0,86.7 L363.8,86.8 L364.4,86.8 L365.0,86.9 L365.8,87.0 L366.6,87.1 L367.1,87.2 L367.8,87.4 L368.6,87.6 L369.0,87.6 L369.8,87.7 L370.6,87.8 L371.4,87.9 L372.2,87.9 L373.0,88.0 L373.4,88.0 L374.2,88.1 L375.0,88.2 L375.8,88.3 L376.2,88.5 L377.0,88.7 L377.4,88.9 L378.2,89.2 L378.6,89.4 L379.3,89.6 L379.8,89.8 L380.6,90.0 L381.0,90.1 L381.8,90.2 L382.6,90.4 L383.0,90.5 L383.6,90.8 L384.2,91.2 L384.6,91.6 L384.9,92.0 L385.3,92.4 L385.7,92.8 L386.2,93.2 L386.6,93.5 L387.0,93.8 L387.4,94.2 L387.8,94.6 L388.1,95.2 L388.3,95.6 L388.4,96.4 L388.4,97.2 L388.3,98.0 L388.2,98.6 L388.1,99.2 L387.8,100.0 L387.7,100.4 L387.4,100.8 L387.0,101.3 L386.6,101.6 L386.0,102.0 L385.4,102.3 L385.0,102.4 L384.2,102.6 L383.4,102.8 L383.0,102.9 L382.3,103.2 L381.8,103.4 L381.4,103.6 L380.7,104.0 L380.2,104.2 L379.7,104.4 L379.0,104.6 L378.4,104.8 L377.8,105.0 L377.2,105.2 L376.6,105.5 L376.2,105.7 L375.6,106.0 L375.0,106.3 L374.6,106.5 L373.9,106.8 L373.4,106.9 L372.6,107.1 L372.2,107.2 L371.4,107.4 L370.8,107.6 L370.2,107.8 L369.8,108.0 L369.0,108.3 L368.6,108.5 L367.9,108.8 L367.4,109.0 L366.9,109.2 L366.2,109.4 L365.6,109.6 L365.0,109.8 L364.2,110.0 L363.8,110.0 L363.0,110.2 L362.3,110.4 L361.8,110.6 L361.3,110.8 L360.7,111.2 L360.2,111.6 L359.9,112.0 L359.6,112.4 L359.4,112.8 L359.1,113.6 L358.9,114.0 L358.6,114.8 L358.4,115.2 L358.1,115.6 L357.8,116.0 L357.4,116.5 L357.0,117.1 L356.7,117.6 L356.5,118.0 L356.2,118.7 L356.0,119.2 L355.8,119.9 L355.7,120.4 L355.4,121.2 L355.3,121.6 L355.0,122.4 L354.8,122.8 L354.5,123.2 L354.1,123.6 L353.7,124.0 L353.0,124.4 L352.6,124.6 L352.2,124.9 L351.6,125.2 L351.0,125.5 L350.6,125.7 L350.0,126.0 L349.4,126.3 L349.0,126.4 L348.2,126.7 L347.4,126.8 L347.0,126.8 L346.2,126.9 L345.4,127.0 L344.6,127.2 L344.2,127.2 L343.4,127.4 L342.6,127.5 L341.8,127.6 L341.4,127.6 L340.6,127.6 L340.2,127.6 L339.4,127.5 L338.6,127.5 L337.8,127.5 L337.0,127.4 L336.2,127.2 L335.8,127.1 L335.1,126.8 L334.6,126.6 L334.2,126.4 L333.5,126.0 L333.0,125.7 L332.6,125.5 L331.8,125.2 L331.4,125.0 L330.9,124.8 L330.2,124.5 L329.8,124.3 L329.2,124.0 L328.6,123.7 L328.2,123.5 L327.5,123.2 L327.0,123.0 L326.6,122.8 L326.0,122.4 L325.4,122.0 L325.0,121.7 L324.6,121.3 L324.2,120.9 L323.8,120.5 L323.4,120.0 L323.1,119.6 L322.8,119.2 L322.6,118.8 L322.2,118.3 L321.8,117.6 L321.6,117.2 L321.4,116.6 L321.3,116.0 L321.2,115.2 L321.1,114.4 L321.0,114.0 L320.6,113.2 L320.4,112.8 L320.1,112.4 L319.8,112.0 L319.4,111.5 L319.0,110.9 L318.7,110.4 L318.5,110.0 L318.2,109.2 L318.1,108.8 L317.9,108.0 L317.7,107.6 L317.4,106.8 L317.3,106.4 L317.0,105.6 L316.9,105.2 L316.7,104.4 L316.7,103.6 L316.9,102.8 L317.0,102.4 L317.4,101.6 L317.6,101.2 L317.8,100.8 L318.2,100.0 L318.4,99.6 L318.6,99.1 L318.9,98.4 L319.0,98.0 L319.3,97.2 L319.4,96.8 L319.8,96.0 L320.1,95.6 L320.5,95.2 L320.9,94.8 L321.4,94.4 L321.8,94.0 L322.2,93.7 L322.6,93.3 L323.0,92.8 L323.4,92.4 L323.7,92.0 L323.9,91.6 L324.3,91.2 L324.6,90.8 L325.1,90.4 L325.8,90.0 L326.2,89.9 L327.0,89.7 L327.4,89.6 L328.2,89.3 L328.6,89.1 L329.1,88.8 L329.7,88.4 L330.2,88.1 L330.6,87.8 L331.0,87.6 L331.7,87.2 L332.2,87.0 L333.0,86.9 L333.5,86.8 L334.2,86.8 L335.0,86.7 L335.8,86.7 L336.6,86.6 L337.4,86.5 L337.8,86.4 L338.6,86.1 L339.1,86.0Z" fill="none" stroke="#000" stroke-width="1.0"/>
<path d="M339.3,83.6 L339.8,83.5 L340.6,83.5 L341.4,83.6 L341.8,83.6 L342.6,83.7 L343.4,83.9 L343.8,84.0 L344.6,84.1 L345.4,84.2 L346.2,84.2 L347.0,84.0 L347.4,83.9 L348.2,83.7 L348.6,83.6 L349.4,83.5 L350.2,83.5 L350.8,83.6 L351.4,83.7 L352.2,83.7 L353.0,83.8 L353.8,83.8 L354.6,83.9 L355.4,83.9 L355.9,84.0 L356.6,84.1 L357.4,84.1 L358.2,84.0 L358.6,84.0 L359.4,83.9 L360.2,83.9 L361.0,84.0 L361.4,84.0 L362.2,84.2 L363.0,84.3 L363.8,84.4 L364.2,84.4 L365.0,84.5 L365.8,84.6 L366.6,84.6 L367.4,84.7 L367.8,84.8 L368.6,84.9 L369.4,85.0 L370.2,85.1 L370.6,85.2 L371.4,85.3 L372.2,85.4 L373.0,85.5 L373.6,85.6 L374.2,85.7 L375.0,85.7 L375.8,85.8 L376.5,86.0 L377.0,86.1 L377.8,86.4 L378.2,86.5 L379.0,86.8 L379.4,86.9 L380.2,87.1 L381.0,87.2 L381.4,87.2 L382.2,87.2 L383.0,87.3 L383.8,87.4 L384.5,87.6 L385.0,87.7 L385.6,88.0 L386.2,88.2 L386.6,88.4 L387.3,88.8 L387.8,89.2 L388.2,89.5 L388.6,89.9 L389.0,90.3 L389.4,90.7 L389.8,91.1 L390.2,91.5 L390.6,92.0 L390.9,92.4 L391.2,92.8 L391.4,93.2 L391.8,94.0 L392.0,94.4 L392.2,95.0 L392.4,95.6 L392.6,96.2 L392.8,96.8 L393.0,97.6 L393.0,98.4 L392.8,99.2 L392.6,99.9 L392.4,100.4 L392.1,100.8 L391.8,101.3 L391.4,101.9 L391.0,102.3 L390.6,102.8 L390.2,103.1 L389.8,103.5 L389.4,103.8 L389.0,104.0 L388.4,104.4 L387.8,104.7 L387.4,104.9 L386.7,105.2 L386.2,105.3 L385.4,105.5 L385.0,105.6 L384.2,105.7 L383.4,105.9 L383.0,106.0 L382.2,106.2 L381.6,106.4 L381.0,106.6 L380.4,106.8 L379.8,107.0 L379.1,107.2 L378.6,107.4 L378.1,107.6 L377.4,107.9 L377.0,108.1 L376.3,108.4 L375.8,108.6 L375.2,108.8 L374.6,109.0 L373.8,109.2 L373.4,109.3 L372.6,109.5 L372.1,109.6 L371.4,109.9 L371.0,110.0 L370.2,110.3 L369.8,110.5 L369.1,110.8 L368.6,111.0 L368.2,111.2 L367.4,111.5 L367.0,111.7 L366.2,112.0 L365.8,112.1 L365.1,112.4 L364.6,112.6 L364.2,112.8 L363.5,113.2 L363.1,113.6 L362.8,114.0 L362.5,114.4 L362.2,115.2 L362.0,115.6 L361.8,116.2 L361.5,116.8 L361.3,117.2 L361.0,117.8 L360.6,118.4 L360.3,118.8 L360.0,119.2 L359.7,119.6 L359.4,120.0 L359.0,120.7 L358.8,121.2 L358.6,121.6 L358.2,122.3 L357.9,122.8 L357.7,123.2 L357.4,123.6 L357.0,124.3 L356.6,124.8 L356.3,125.2 L355.9,125.6 L355.5,126.0 L355.0,126.3 L354.6,126.5 L353.9,126.8 L353.4,127.0 L352.8,127.2 L352.2,127.5 L351.8,127.7 L351.2,128.0 L350.6,128.4 L350.2,128.6 L349.8,128.8 L349.0,129.1 L348.6,129.3 L347.8,129.5 L347.0,129.5 L346.2,129.5 L345.4,129.5 L344.6,129.5 L343.8,129.6 L343.3,129.6 L342.6,129.7 L341.8,129.8 L341.0,129.8 L340.2,129.8 L339.4,129.8 L338.6,129.8 L337.8,129.7 L337.0,129.7 L336.3,129.6 L335.8,129.6 L335.0,129.5 L334.2,129.4 L333.4,129.3 L332.8,129.2 L332.2,129.1 L331.5,128.8 L331.0,128.6 L330.6,128.4 L330.0,128.0 L329.5,127.6 L329.0,127.2 L328.6,126.9 L328.2,126.6 L327.8,126.3 L327.3,126.0 L326.7,125.6 L326.2,125.3 L325.8,125.1 L325.3,124.8 L324.6,124.4 L324.2,124.2 L323.8,123.9 L323.3,123.6 L322.8,123.2 L322.4,122.8 L322.0,122.4 L321.6,122.0 L321.3,121.6 L321.0,121.2 L320.6,120.7 L320.2,120.1 L319.9,119.6 L319.6,119.2 L319.4,118.8 L319.0,118.1 L318.7,117.6 L318.6,117.2 L318.3,116.4 L318.2,116.0 L318.0,115.2 L317.8,114.7 L317.5,114.0 L317.3,113.6 L317.0,113.1 L316.7,112.4 L316.5,112.0 L316.2,111.3 L316.0,110.8 L315.8,110.1 L315.7,109.6 L315.4,108.8 L315.3,108.4 L315.0,107.7 L314.8,107.2 L314.6,106.7 L314.3,106.0 L314.2,105.6 L314.0,104.8 L313.9,104.0 L314.0,103.2 L314.2,102.4 L314.3,102.0 L314.6,101.2 L314.7,100.8 L315.0,100.2 L315.2,99.6 L315.4,99.1 L315.6,98.4 L315.8,97.6 L315.9,97.2 L316.0,96.4 L316.2,95.6 L316.3,95.2 L316.6,94.5 L316.9,94.0 L317.1,93.6 L317.4,93.1 L317.8,92.6 L318.2,92.1 L318.6,91.7 L319.0,91.2 L319.3,90.8 L319.7,90.4 L320.0,90.0 L320.4,89.6 L320.8,89.2 L321.3,88.8 L321.8,88.4 L322.2,88.1 L322.6,87.9 L323.0,87.6 L323.8,87.2 L324.2,87.1 L325.0,86.8 L325.4,86.7 L326.2,86.5 L326.7,86.4 L327.4,86.1 L327.8,86.0 L328.6,85.6 L329.0,85.4 L329.6,85.2 L330.2,85.0 L331.0,84.8 L331.4,84.7 L332.2,84.6 L333.0,84.5 L333.8,84.5 L334.6,84.5 L335.4,84.4 L335.8,84.4 L336.6,84.2 L337.4,84.1 L337.8,84.0 L338.6,83.7 L339.3,83.6Z" fill="none" stroke="#555" stroke-width="1.0"/>
<path d="M395.0,87.6 L395.4,87.5 L396.2,87.3 L397.0,87.3 L397.8,87.3 L398.6,87.4 L399.4,87.5 L399.8,87.7 L400.6,87.9 L401.0,88.1 L401.6,88.4 L402.2,88.8 L402.6,89.0 L403.0,89.3 L403.4,89.7 L403.8,90.0 L404.2,90.4 L404.6,90.8 L405.0,91.3 L405.4,91.8 L405.8,92.3 L406.1,92.8 L406.4,93.2 L406.6,93.6 L407.0,94.3 L407.2,94.8 L407.4,95.2 L407.8,96.0 L407.9,96.4 L408.2,97.2 L408.3,97.6 L408.5,98.4 L408.6,98.8 L408.8,99.6 L409.0,100.4 L409.0,100.8 L409.2,101.6 L409.2,102.4 L409.3,103.2 L409.3,104.0 L409.3,104.8 L409.3,105.6 L409.3,106.4 L409.2,107.2 L409.1,108.0 L409.0,108.8 L408.9,109.2 L408.8,110.0 L408.6,110.8 L408.5,111.2 L408.3,112.0 L408.2,112.4 L408.0,113.2 L407.8,113.8 L407.6,114.4 L407.4,115.0 L407.2,115.6 L407.0,116.3 L406.9,116.8 L406.6,117.6 L406.5,118.0 L406.3,118.8 L406.2,119.4 L406.1,120.0 L405.9,120.8 L405.8,121.6 L405.8,122.0 L405.7,122.8 L405.6,123.6 L405.6,124.4 L405.5,125.2 L405.5,126.0 L405.4,126.8 L405.4,127.5 L405.4,128.0 L405.3,128.8 L405.3,129.6 L405.2,130.4 L405.1,131.2 L405.0,131.9 L404.9,132.4 L404.8,133.2 L404.7,134.0 L404.6,134.4 L404.4,135.2 L404.2,136.0 L404.1,136.4 L403.9,137.2 L403.8,137.6 L403.5,138.4 L403.4,138.8 L403.1,139.6 L402.9,140.0 L402.6,140.6 L402.3,141.2 L402.1,141.6 L401.8,142.1 L401.4,142.7 L401.0,143.2 L400.7,143.6 L400.4,144.0 L399.9,144.4 L399.5,144.8 L399.0,145.1 L398.6,145.3 L398.0,145.6 L397.4,145.8 L396.6,145.8 L395.8,145.8 L395.2,145.6 L394.6,145.3 L394.2,145.1 L393.7,144.8 L393.3,144.4 L392.8,144.0 L392.5,143.6 L392.2,143.2 L391.8,142.7 L391.4,142.1 L391.1,141.6 L390.9,141.2 L390.6,140.6 L390.3,140.0 L390.1,139.6 L389.8,138.8 L389.7,138.4 L389.4,137.6 L389.3,137.2 L389.1,136.4 L389.0,136.0 L388.8,135.2 L388.6,134.4 L388.5,134.0 L388.4,133.2 L388.3,132.4 L388.2,131.8 L388.1,131.2 L388.0,130.4 L388.0,129.6 L387.9,128.8 L387.9,128.0 L387.8,127.2 L387.8,126.4 L387.8,125.9 L387.8,125.2 L387.8,124.4 L387.7,123.6 L387.7,122.8 L387.7,122.0 L387.6,121.2 L387.6,120.4 L387.5,119.6 L387.4,118.8 L387.4,118.4 L387.3,117.6 L387.1,116.8 L387.0,116.1 L386.9,115.6 L386.7,114.8 L386.6,114.2 L386.5,113.6 L386.3,112.8 L386.2,112.4 L386.0,111.6 L385.9,110.8 L385.8,110.4 L385.6,109.6 L385.5,108.8 L385.4,108.0 L385.4,107.6 L385.3,106.8 L385.3,106.0 L385.2,105.2 L385.2,104.4 L385.3,103.6 L385.3,102.8 L385.4,102.0 L385.4,101.6 L385.5,100.8 L385.7,100.0 L385.8,99.4 L385.9,98.8 L386.2,98.0 L386.3,97.6 L386.5,96.8 L386.7,96.4 L387.0,95.6 L387.2,95.2 L387.4,94.7 L387.8,94.0 L388.0,93.6 L388.2,93.2 L388.6,92.6 L389.0,92.0 L389.3,91.6 L389.7,91.2 L390.0,90.8 L390.4,90.4 L390.8,90.0 L391.3,89.6 L391.8,89.2 L392.2,88.9 L392.6,88.6 L393.0,88.4 L393.8,88.0 L394.2,87.9 L395.0,87.6Z" fill="#000" stroke="none"/>
<path d="M396.6,101.6 L397.0,101.4 L397.8,101.3 L398.6,101.6 L399.0,101.8 L399.4,102.2 L399.8,102.8 L399.9,103.2 L399.9,104.0 L399.8,104.4 L399.4,105.2 L399.2,105.6 L398.9,106.0 L398.5,106.4 L398.2,106.8 L397.8,107.3 L397.4,107.7 L396.6,107.8 L396.0,107.6 L395.5,107.2 L395.1,106.8 L394.9,106.4 L394.6,105.6 L394.6,105.2 L394.7,104.8 L395.0,104.0 L395.2,103.6 L395.4,103.2 L395.8,102.5 L396.2,102.0 L396.6,101.6Z" fill="none" stroke="#000" stroke-width="0.9"/>
<path d="M396.4,100.4 L397.0,100.2 L397.8,100.2 L398.4,100.4 L399.0,100.7 L399.4,101.0 L399.8,101.3 L400.2,101.7 L400.6,102.4 L400.7,102.8 L400.8,103.6 L400.7,104.4 L400.6,104.8 L400.3,105.6 L400.2,106.0 L399.9,106.8 L399.8,107.2 L399.5,108.0 L399.4,108.6 L399.2,109.2 L399.0,109.7 L398.6,110.3 L398.2,110.6 L397.4,110.7 L396.8,110.4 L396.4,110.0 L396.1,109.6 L395.8,109.2 L395.4,108.6 L395.0,108.1 L394.6,107.6 L394.4,107.2 L394.2,106.8 L393.9,106.0 L393.8,105.3 L393.8,105.1 L393.9,104.4 L394.2,103.6 L394.4,103.2 L394.6,102.7 L395.0,102.0 L395.2,101.6 L395.4,101.2 L395.8,100.8 L396.4,100.4Z" fill="none" stroke="#000" stroke-width="0.9"/>
<path d="M396.8,99.2 L397.4,99.1 L397.9,99.2 L398.6,99.4 L399.0,99.7 L399.5,100.0 L400.1,100.4 L400.5,100.8 L400.8,101.2 L401.1,101.6 L401.4,102.4 L401.4,102.8 L401.5,103.6 L401.4,104.4 L401.3,104.8 L401.2,105.6 L401.0,106.4 L400.9,106.8 L400.8,107.6 L400.6,108.3 L400.5,108.8 L400.2,109.6 L400.1,110.0 L399.8,110.6 L399.5,111.2 L399.1,111.6 L398.6,112.0 L398.2,112.2 L397.4,112.2 L396.6,112.0 L396.2,111.7 L395.8,111.2 L395.6,110.8 L395.4,110.4 L395.0,109.6 L394.8,109.2 L394.5,108.8 L394.2,108.3 L393.8,107.6 L393.6,107.2 L393.4,106.7 L393.2,106.0 L393.1,105.2 L393.2,104.4 L393.4,103.6 L393.5,103.2 L393.8,102.4 L394.0,102.0 L394.2,101.5 L394.6,100.8 L394.9,100.4 L395.3,100.0 L395.8,99.6 L396.2,99.4 L396.8,99.2Z" fill="none" stroke="#000" stroke-width="0.9"/>
<path d="M396.7,98.4 L397.4,98.3 L398.2,98.4 L398.6,98.5 L399.2,98.8 L399.8,99.2 L400.2,99.5 L400.6,99.8 L401.0,100.2 L401.4,100.7 L401.6,101.2 L401.8,101.6 L402.0,102.4 L402.0,103.2 L402.0,104.0 L401.9,104.8 L401.8,105.6 L401.8,106.0 L401.7,106.8 L401.5,107.6 L401.4,108.3 L401.3,108.8 L401.0,109.6 L400.9,110.0 L400.6,110.7 L400.4,111.2 L400.2,111.6 L399.8,112.2 L399.4,112.7 L399.0,113.0 L398.6,113.2 L397.8,113.5 L397.0,113.4 L396.4,113.2 L395.9,112.8 L395.5,112.4 L395.3,112.0 L395.0,111.3 L394.8,110.8 L394.6,110.3 L394.3,109.6 L394.1,109.2 L393.8,108.7 L393.4,108.0 L393.2,107.6 L393.0,107.2 L392.7,106.4 L392.6,105.8 L392.5,105.2 L392.6,104.4 L392.6,104.0 L392.8,103.2 L393.0,102.7 L393.3,102.0 L393.4,101.6 L393.8,100.8 L394.0,100.4 L394.3,100.0 L394.6,99.6 L395.1,99.2 L395.7,98.8 L396.2,98.6 L396.7,98.4ZM396.7,126.4 L397.0,126.2 L397.4,126.3 L397.5,126.4 L397.7,126.8 L397.8,126.9 L397.9,127.2 L397.9,127.6 L397.9,128.0 L397.9,128.4 L397.8,128.7 L397.8,128.8 L397.6,129.2 L397.4,129.4 L397.0,129.6 L397.0,129.6 L397.0,129.6 L396.6,129.5 L396.4,129.2 L396.2,128.9 L396.2,128.8 L396.1,128.4 L396.1,128.0 L396.1,127.6 L396.2,127.3 L396.2,127.2 L396.4,126.8 L396.6,126.5 L396.7,126.4Z" fill="none" stroke="#000" stroke-width="0.9"/>
<path d="M396.1,98.0 L396.6,97.8 L397.4,97.6 L398.2,97.6 L399.0,97.9 L399.4,98.1 L399.9,98.4 L400.5,98.8 L400.9,99.2 L401.3,99.6 L401.7,100.0 L401.9,100.4 L402.2,101.2 L402.3,101.6 L402.4,102.4 L402.4,103.2 L402.4,104.0 L402.4,104.8 L402.3,105.6 L402.2,106.4 L402.2,106.9 L402.1,107.6 L402.0,108.4 L401.8,109.0 L401.6,109.6 L401.4,110.2 L401.2,110.8 L401.0,111.2 L400.6,112.0 L400.4,112.4 L400.1,112.8 L399.8,113.2 L399.3,113.6 L398.8,114.0 L398.2,114.3 L397.8,114.4 L397.0,114.5 L396.5,114.4 L395.8,114.0 L395.5,113.6 L395.2,113.2 L395.0,112.8 L394.7,112.0 L394.5,111.6 L394.3,110.8 L394.1,110.4 L393.8,109.6 L393.6,109.2 L393.4,108.8 L393.0,108.1 L392.8,107.6 L392.6,107.2 L392.3,106.4 L392.2,105.9 L392.1,105.2 L392.1,104.4 L392.2,103.9 L392.4,103.2 L392.6,102.4 L392.7,102.0 L393.0,101.3 L393.2,100.8 L393.4,100.4 L393.8,99.7 L394.2,99.3 L394.6,98.9 L395.0,98.6 L395.4,98.4 L396.1,98.0ZM396.9,124.4 L397.2,124.4 L397.7,124.8 L398.0,125.2 L398.2,125.6 L398.5,126.4 L398.6,127.2 L398.6,127.6 L398.6,128.0 L398.5,128.8 L398.2,129.6 L398.0,130.0 L397.7,130.4 L397.0,130.7 L396.2,130.4 L395.8,130.0 L395.6,129.6 L395.4,128.8 L395.4,128.4 L395.4,127.8 L395.5,127.2 L395.7,126.4 L395.9,126.0 L396.2,125.2 L396.4,124.8 L396.9,124.4Z" fill="none" stroke="#000" stroke-width="0.9"/>
<path d="M396.8,97.2 L397.4,97.1 L398.2,97.0 L399.0,97.2 L399.4,97.3 L399.9,97.6 L400.5,98.0 L401.0,98.4 L401.4,98.8 L401.8,99.2 L402.1,99.6 L402.3,100.0 L402.5,100.8 L402.6,101.2 L402.7,102.0 L402.8,102.8 L402.8,103.6 L402.7,104.4 L402.7,105.2 L402.7,106.0 L402.6,106.8 L402.6,107.4 L402.5,108.0 L402.3,108.8 L402.2,109.3 L401.9,110.0 L401.8,110.4 L401.5,111.2 L401.3,111.6 L401.0,112.2 L400.7,112.8 L400.4,113.2 L400.1,113.6 L399.7,114.0 L399.2,114.4 L398.7,114.8 L398.2,115.2 L397.8,115.4 L397.0,115.5 L396.2,115.4 L395.8,115.1 L395.4,114.7 L395.0,114.1 L394.7,113.6 L394.6,113.2 L394.3,112.4 L394.2,112.0 L394.0,111.2 L393.8,110.7 L393.6,110.0 L393.4,109.6 L393.0,108.9 L392.8,108.4 L392.6,108.0 L392.2,107.2 L392.1,106.8 L391.9,106.0 L391.8,105.5 L391.7,104.8 L391.8,104.0 L391.9,103.6 L392.1,102.8 L392.2,102.4 L392.5,101.6 L392.6,101.2 L392.9,100.4 L393.1,100.0 L393.4,99.6 L393.8,99.1 L394.2,98.7 L394.6,98.4 L395.2,98.0 L395.8,97.6 L396.2,97.4 L396.8,97.2ZM396.5,122.0 L397.0,121.9 L397.4,122.2 L397.7,122.8 L397.9,123.2 L398.2,123.9 L398.4,124.4 L398.6,125.0 L398.8,125.6 L399.0,126.4 L399.0,126.8 L399.0,127.6 L399.0,128.3 L398.9,128.8 L398.7,129.6 L398.6,130.0 L398.2,130.7 L397.8,131.1 L397.4,131.4 L396.6,131.4 L396.2,131.2 L395.7,130.8 L395.4,130.4 L395.1,129.6 L395.0,129.2 L394.9,128.4 L395.0,127.6 L395.0,127.2 L395.2,126.4 L395.4,125.6 L395.5,125.2 L395.7,124.4 L395.8,123.8 L395.9,123.2 L396.2,122.4 L396.5,122.0Z" fill="none" stroke="#000" stroke-width="0.9"/>
<path d="M396.5,96.8 L397.0,96.6 L397.8,96.4 L398.6,96.4 L399.4,96.7 L399.8,96.8 L400.4,97.2 L401.0,97.6 L401.4,97.9 L401.8,98.3 L402.2,98.8 L402.4,99.2 L402.6,99.6 L402.9,100.4 L403.0,101.2 L403.0,101.6 L403.1,102.4 L403.1,103.2 L403.1,104.0 L403.0,104.8 L403.0,105.6 L403.0,106.4 L403.0,107.2 L403.0,107.7 L402.9,108.4 L402.7,109.2 L402.5,109.6 L402.2,110.4 L402.0,110.8 L401.8,111.4 L401.5,112.0 L401.4,112.4 L401.0,113.0 L400.6,113.6 L400.3,114.0 L399.9,114.4 L399.6,114.8 L399.2,115.2 L398.8,115.6 L398.3,116.0 L397.9,116.4 L397.4,116.7 L397.0,116.9 L396.6,116.8 L395.8,116.4 L395.4,116.0 L395.1,115.6 L394.9,115.2 L394.6,114.7 L394.3,114.0 L394.2,113.6 L394.0,112.8 L393.8,112.1 L393.7,111.6 L393.5,110.8 L393.3,110.4 L393.0,109.6 L392.8,109.2 L392.6,108.8 L392.2,108.0 L392.0,107.6 L391.8,107.0 L391.6,106.4 L391.5,105.6 L391.4,104.8 L391.5,104.0 L391.6,103.2 L391.8,102.5 L392.0,102.0 L392.2,101.3 L392.4,100.8 L392.6,100.2 L392.9,99.6 L393.2,99.2 L393.5,98.8 L394.0,98.4 L394.5,98.0 L395.0,97.6 L395.4,97.4 L395.8,97.1 L396.5,96.8ZM396.3,120.4 L397.0,120.2 L397.4,120.4 L397.8,120.8 L398.2,121.6 L398.3,122.0 L398.5,122.8 L398.6,123.2 L398.8,124.0 L399.0,124.7 L399.1,125.2 L399.3,126.0 L399.4,126.7 L399.4,127.2 L399.4,127.9 L399.3,128.4 L399.2,129.2 L399.0,129.9 L398.8,130.4 L398.6,130.8 L398.2,131.4 L397.8,131.8 L397.4,132.0 L396.6,132.1 L396.2,131.9 L395.8,131.6 L395.4,131.2 L395.0,130.7 L394.7,130.0 L394.6,129.6 L394.5,128.8 L394.5,128.0 L394.6,127.4 L394.7,126.8 L394.9,126.0 L395.0,125.3 L395.1,124.8 L395.2,124.0 L395.2,123.2 L395.2,122.4 L395.4,121.6 L395.5,121.2 L395.8,120.8 L396.3,120.4Z" fill="none" stroke="#000" stroke-width="0.9"/>
<path d="M397.3,96.0 L397.8,95.9 L398.6,95.9 L399.2,96.0 L399.8,96.2 L400.2,96.4 L400.8,96.8 L401.4,97.2 L401.8,97.6 L402.2,98.0 L402.5,98.4 L402.8,98.8 L403.0,99.3 L403.2,100.0 L403.3,100.8 L403.4,101.6 L403.4,102.4 L403.4,103.2 L403.4,104.0 L403.4,104.8 L403.4,105.6 L403.4,106.4 L403.4,106.8 L403.4,107.6 L403.4,108.0 L403.2,108.8 L403.0,109.5 L402.8,110.0 L402.6,110.4 L402.3,111.2 L402.1,111.6 L401.8,112.3 L401.6,112.8 L401.3,113.2 L401.0,113.7 L400.6,114.2 L400.2,114.7 L399.8,115.2 L399.5,115.6 L399.2,116.0 L398.9,116.4 L398.6,117.0 L398.3,117.6 L398.2,118.1 L398.2,118.8 L398.2,119.2 L398.4,120.0 L398.6,120.6 L398.7,121.2 L398.9,122.0 L399.0,122.7 L399.1,123.2 L399.3,124.0 L399.4,124.6 L399.5,125.2 L399.7,126.0 L399.7,126.8 L399.7,127.6 L399.7,128.4 L399.5,129.2 L399.4,129.7 L399.2,130.4 L399.0,130.8 L398.6,131.5 L398.3,132.0 L397.9,132.4 L397.4,132.7 L397.0,132.8 L396.6,132.7 L396.0,132.4 L395.5,132.0 L395.1,131.6 L394.8,131.2 L394.6,130.8 L394.3,130.0 L394.2,129.6 L394.1,128.8 L394.2,128.0 L394.2,127.6 L394.3,126.8 L394.5,126.0 L394.6,125.2 L394.6,124.8 L394.7,124.0 L394.7,123.2 L394.6,122.4 L394.7,121.6 L394.9,120.8 L395.1,120.4 L395.4,119.7 L395.6,119.2 L395.7,118.4 L395.4,117.6 L395.2,117.2 L395.0,116.8 L394.6,116.0 L394.4,115.6 L394.2,115.1 L394.0,114.4 L393.8,113.8 L393.7,113.2 L393.5,112.4 L393.4,111.9 L393.2,111.2 L393.0,110.5 L392.8,110.0 L392.6,109.5 L392.2,108.8 L392.0,108.4 L391.8,107.9 L391.5,107.2 L391.4,106.7 L391.2,106.0 L391.1,105.2 L391.1,104.4 L391.2,103.6 L391.4,102.8 L391.5,102.4 L391.7,101.6 L391.9,101.2 L392.2,100.4 L392.3,100.0 L392.6,99.5 L393.0,98.9 L393.4,98.4 L393.8,98.1 L394.2,97.7 L394.6,97.4 L395.0,97.1 L395.5,96.8 L396.2,96.4 L396.6,96.2 L397.3,96.0Z" fill="none" stroke="#000" stroke-width="0.9"/>
<path d="M396.7,95.6 L397.4,95.4 L398.2,95.3 L399.0,95.3 L399.8,95.6 L400.2,95.8 L400.6,96.0 L401.2,96.4 L401.7,96.8 L402.2,97.2 L402.5,97.6 L402.9,98.0 L403.1,98.4 L403.4,99.0 L403.6,99.6 L403.7,100.4 L403.7,101.2 L403.7,102.0 L403.7,102.8 L403.7,103.6 L403.7,104.4 L403.7,105.2 L403.8,106.0 L403.8,106.4 L403.8,107.2 L403.8,108.0 L403.7,108.4 L403.5,109.2 L403.4,109.6 L403.1,110.4 L402.9,110.8 L402.6,111.4 L402.4,112.0 L402.2,112.4 L401.8,113.2 L401.6,113.6 L401.3,114.0 L401.0,114.4 L400.6,114.9 L400.2,115.5 L399.8,116.0 L399.6,116.4 L399.4,116.9 L399.2,117.6 L399.1,118.4 L399.1,119.2 L399.1,120.0 L399.2,120.8 L399.3,121.6 L399.4,122.2 L399.5,122.8 L399.6,123.6 L399.8,124.4 L399.9,124.8 L400.0,125.6 L400.1,126.4 L400.1,127.2 L400.1,128.0 L399.9,128.8 L399.8,129.5 L399.7,130.0 L399.4,130.8 L399.2,131.2 L399.0,131.6 L398.6,132.3 L398.3,132.8 L397.9,133.2 L397.4,133.6 L397.0,133.7 L396.5,133.6 L395.9,133.2 L395.5,132.8 L395.1,132.4 L394.8,132.0 L394.5,131.6 L394.2,131.2 L393.9,130.4 L393.8,129.8 L393.8,129.2 L393.8,128.4 L393.8,128.0 L393.9,127.2 L394.0,126.4 L394.1,125.6 L394.2,124.8 L394.2,124.4 L394.2,124.0 L394.2,123.2 L394.1,122.4 L394.1,121.6 L394.2,120.9 L394.3,120.4 L394.5,119.6 L394.6,119.0 L394.6,118.4 L394.6,118.0 L394.4,117.2 L394.2,116.7 L394.0,116.0 L393.8,115.4 L393.6,114.8 L393.4,114.0 L393.3,113.6 L393.2,112.8 L393.0,112.0 L392.9,111.6 L392.7,110.8 L392.6,110.4 L392.2,109.6 L392.0,109.2 L391.8,108.8 L391.5,108.0 L391.3,107.6 L391.1,106.8 L391.0,106.4 L390.8,105.6 L390.8,104.8 L390.8,104.0 L390.9,103.2 L391.0,102.8 L391.2,102.0 L391.4,101.5 L391.6,100.8 L391.8,100.4 L392.1,99.6 L392.3,99.2 L392.6,98.8 L393.0,98.3 L393.4,97.9 L393.8,97.5 L394.2,97.2 L394.7,96.8 L395.3,96.4 L395.8,96.0 L396.2,95.8 L396.7,95.6Z" fill="none" stroke="#000" stroke-width="0.9"/>
<path d="M396.9,94.8 L397.4,94.6 L398.2,94.5 L399.0,94.7 L399.4,94.8 L400.2,95.1 L400.6,95.4 L401.0,95.6 L401.6,96.0 L402.1,96.4 L402.5,96.8 L402.9,97.2 L403.2,97.6 L403.5,98.0 L403.8,98.7 L403.9,99.2 L404.1,100.0 L404.1,100.8 L404.1,101.6 L404.1,102.4 L404.1,103.2 L404.1,104.0 L404.2,104.8 L404.2,105.6 L404.2,106.0 L404.3,106.8 L404.3,107.6 L404.2,108.4 L404.2,108.8 L403.9,109.6 L403.7,110.0 L403.4,110.8 L403.2,111.2 L403.0,111.6 L402.7,112.4 L402.5,112.8 L402.2,113.4 L401.8,114.0 L401.6,114.4 L401.3,114.8 L401.0,115.2 L400.6,115.8 L400.3,116.4 L400.1,116.8 L399.9,117.6 L399.8,118.0 L399.7,118.8 L399.7,119.6 L399.7,120.4 L399.8,121.2 L399.8,121.6 L399.9,122.4 L400.0,123.2 L400.2,124.0 L400.2,124.4 L400.4,125.2 L400.5,126.0 L400.5,126.8 L400.5,127.6 L400.4,128.4 L400.2,129.2 L400.2,129.6 L399.9,130.4 L399.8,130.8 L399.5,131.6 L399.3,132.0 L399.0,132.6 L398.7,133.2 L398.5,133.6 L398.2,134.1 L397.8,134.7 L397.4,135.0 L396.6,135.1 L396.2,134.8 L395.8,134.3 L395.4,133.8 L395.0,133.2 L394.6,132.8 L394.3,132.4 L394.1,132.0 L393.8,131.6 L393.5,130.8 L393.4,130.4 L393.3,129.6 L393.3,128.8 L393.4,128.0 L393.4,127.6 L393.5,126.8 L393.6,126.0 L393.7,125.2 L393.7,124.4 L393.7,123.6 L393.6,122.8 L393.6,122.0 L393.6,121.2 L393.7,120.4 L393.8,119.6 L393.8,119.2 L393.9,118.4 L393.8,117.8 L393.7,117.2 L393.5,116.4 L393.4,115.9 L393.2,115.2 L393.0,114.4 L393.0,114.0 L392.8,113.2 L392.7,112.4 L392.6,112.0 L392.4,111.2 L392.2,110.6 L391.9,110.0 L391.8,109.6 L391.4,108.9 L391.2,108.4 L391.0,108.0 L390.7,107.2 L390.6,106.6 L390.5,106.0 L390.4,105.2 L390.4,104.4 L390.4,103.6 L390.6,102.8 L390.7,102.4 L390.9,101.6 L391.1,101.2 L391.4,100.4 L391.5,100.0 L391.8,99.4 L392.1,98.8 L392.4,98.4 L392.7,98.0 L393.0,97.6 L393.4,97.2 L393.9,96.8 L394.3,96.4 L394.8,96.0 L395.4,95.6 L395.8,95.3 L396.2,95.1 L396.9,94.8Z" fill="none" stroke="#000" stroke-width="0.9"/>
<path d="M396.8,94.0 L397.4,93.8 L398.2,93.7 L399.0,93.9 L399.4,94.1 L400.1,94.4 L400.6,94.7 L401.0,94.9 L401.4,95.2 L402.0,95.6 L402.4,96.0 L402.8,96.4 L403.2,96.8 L403.5,97.2 L403.8,97.6 L404.2,98.4 L404.3,98.8 L404.5,99.6 L404.6,100.4 L404.6,101.2 L404.5,102.0 L404.5,102.8 L404.6,103.6 L404.6,104.4 L404.6,104.8 L404.7,105.6 L404.8,106.4 L404.8,107.2 L404.8,108.0 L404.7,108.8 L404.6,109.2 L404.3,110.0 L404.1,110.4 L403.8,111.1 L403.6,111.6 L403.4,112.0 L403.0,112.8 L402.8,113.2 L402.6,113.7 L402.2,114.3 L401.9,114.8 L401.6,115.2 L401.3,115.6 L401.0,116.2 L400.7,116.8 L400.6,117.2 L400.4,118.0 L400.3,118.8 L400.3,119.6 L400.3,120.4 L400.3,121.2 L400.4,122.0 L400.5,122.8 L400.6,123.6 L400.6,124.0 L400.8,124.8 L400.8,125.6 L400.9,126.4 L400.9,127.2 L400.8,128.0 L400.7,128.8 L400.6,129.4 L400.5,130.0 L400.2,130.8 L400.1,131.2 L399.8,132.0 L399.6,132.4 L399.4,133.0 L399.2,133.6 L399.0,134.0 L398.7,134.8 L398.5,135.2 L398.2,135.7 L397.8,136.1 L397.3,136.4 L396.6,136.4 L396.2,136.3 L395.8,135.9 L395.4,135.3 L395.1,134.8 L394.9,134.4 L394.6,133.9 L394.2,133.3 L393.9,132.8 L393.6,132.4 L393.4,132.0 L393.0,131.2 L392.9,130.8 L392.8,130.0 L392.8,129.2 L392.9,128.4 L393.0,127.6 L393.0,127.1 L393.1,126.4 L393.1,125.6 L393.2,124.8 L393.2,124.0 L393.1,123.2 L393.1,122.4 L393.1,121.6 L393.1,120.8 L393.2,120.0 L393.2,119.2 L393.2,118.4 L393.2,117.6 L393.1,116.8 L393.0,116.4 L392.8,115.6 L392.7,114.8 L392.6,114.4 L392.4,113.6 L392.3,112.8 L392.2,112.3 L392.0,111.6 L391.8,110.8 L391.6,110.4 L391.4,109.9 L391.0,109.2 L390.8,108.8 L390.6,108.2 L390.4,107.6 L390.2,106.8 L390.1,106.4 L390.0,105.6 L389.9,104.8 L389.9,104.0 L390.0,103.2 L390.2,102.5 L390.4,102.0 L390.6,101.3 L390.8,100.8 L391.0,100.2 L391.2,99.6 L391.4,99.2 L391.8,98.5 L392.1,98.0 L392.4,97.6 L392.7,97.2 L393.1,96.8 L393.5,96.4 L393.9,96.0 L394.3,95.6 L394.8,95.2 L395.3,94.8 L395.8,94.5 L396.2,94.3 L396.8,94.0Z" fill="none" stroke="#000" stroke-width="0.9"/>
<path d="M396.6,93.2 L397.0,93.0 L397.8,92.9 L398.6,93.0 L399.2,93.2 L399.8,93.5 L400.2,93.7 L400.6,94.0 L401.2,94.4 L401.8,94.8 L402.2,95.1 L402.6,95.4 L403.0,95.8 L403.4,96.3 L403.8,96.8 L404.1,97.2 L404.3,97.6 L404.6,98.2 L404.8,98.8 L405.0,99.6 L405.0,100.0 L405.0,100.8 L405.0,101.6 L405.0,102.4 L405.0,103.2 L405.1,104.0 L405.2,104.8 L405.2,105.6 L405.3,106.4 L405.4,107.2 L405.4,108.0 L405.3,108.8 L405.0,109.6 L404.9,110.0 L404.6,110.6 L404.3,111.2 L404.1,111.6 L403.8,112.4 L403.6,112.8 L403.4,113.3 L403.1,114.0 L402.8,114.4 L402.6,114.8 L402.2,115.4 L401.8,116.0 L401.6,116.4 L401.4,116.8 L401.1,117.6 L401.0,118.1 L400.9,118.8 L400.8,119.6 L400.8,120.4 L400.8,121.2 L400.9,122.0 L401.0,122.8 L401.0,123.2 L401.1,124.0 L401.2,124.8 L401.3,125.6 L401.3,126.4 L401.3,127.2 L401.3,128.0 L401.1,128.8 L401.0,129.5 L400.9,130.0 L400.7,130.8 L400.5,131.2 L400.3,132.0 L400.1,132.4 L399.9,133.2 L399.8,133.6 L399.5,134.4 L399.4,134.8 L399.1,135.6 L398.9,136.0 L398.6,136.4 L398.2,136.8 L397.5,137.2 L397.0,137.3 L396.2,137.2 L395.8,137.1 L395.4,136.7 L395.0,136.2 L394.7,135.6 L394.5,135.2 L394.2,134.6 L393.9,134.0 L393.7,133.6 L393.4,133.2 L393.0,132.6 L392.7,132.0 L392.6,131.6 L392.4,130.8 L392.3,130.0 L392.4,129.2 L392.4,128.4 L392.5,127.6 L392.5,126.8 L392.6,126.0 L392.6,125.6 L392.6,124.8 L392.6,124.0 L392.6,123.2 L392.6,122.8 L392.5,122.0 L392.5,121.2 L392.6,120.4 L392.6,120.0 L392.7,119.2 L392.7,118.4 L392.7,117.6 L392.6,117.1 L392.5,116.4 L392.3,115.6 L392.2,114.9 L392.1,114.4 L392.0,113.6 L391.8,112.8 L391.7,112.4 L391.5,111.6 L391.4,111.2 L391.1,110.4 L390.9,110.0 L390.6,109.5 L390.3,108.8 L390.1,108.4 L389.9,107.6 L389.8,107.2 L389.7,106.4 L389.5,105.6 L389.5,104.8 L389.5,104.0 L389.6,103.2 L389.8,102.4 L389.9,102.0 L390.2,101.2 L390.3,100.8 L390.6,100.0 L390.8,99.6 L391.0,99.0 L391.3,98.4 L391.5,98.0 L391.8,97.6 L392.2,97.0 L392.6,96.5 L393.0,96.0 L393.4,95.6 L393.8,95.2 L394.2,94.8 L394.6,94.4 L395.0,94.1 L395.4,93.9 L395.8,93.6 L396.6,93.2Z" fill="none" stroke="#000" stroke-width="0.9"/>
<path d="M397.4,92.0 L398.2,92.0 L398.6,92.1 L399.4,92.4 L399.8,92.7 L400.2,92.9 L400.6,93.2 L401.2,93.6 L401.7,94.0 L402.2,94.3 L402.6,94.7 L403.0,95.0 L403.4,95.4 L403.8,95.9 L404.2,96.4 L404.4,96.8 L404.7,97.2 L405.0,97.8 L405.2,98.4 L405.4,99.0 L405.5,99.6 L405.6,100.4 L405.6,101.2 L405.6,102.0 L405.6,102.8 L405.7,103.6 L405.7,104.4 L405.8,104.9 L405.9,105.6 L406.0,106.4 L406.0,107.2 L406.0,108.0 L405.9,108.8 L405.8,109.3 L405.6,110.0 L405.4,110.4 L405.0,111.2 L404.8,111.6 L404.6,112.1 L404.3,112.8 L404.2,113.2 L403.9,114.0 L403.7,114.4 L403.4,114.9 L403.0,115.5 L402.6,116.0 L402.4,116.4 L402.2,116.8 L401.8,117.6 L401.7,118.0 L401.5,118.8 L401.4,119.6 L401.4,120.0 L401.3,120.8 L401.4,121.6 L401.4,122.0 L401.5,122.8 L401.6,123.6 L401.7,124.4 L401.8,125.2 L401.8,126.0 L401.8,126.8 L401.8,127.6 L401.7,128.4 L401.5,129.2 L401.4,129.8 L401.3,130.4 L401.0,131.2 L400.9,131.6 L400.7,132.4 L400.6,132.8 L400.3,133.6 L400.2,134.2 L400.0,134.8 L399.8,135.5 L399.6,136.0 L399.4,136.4 L399.0,136.9 L398.6,137.3 L398.2,137.6 L397.4,138.0 L397.0,138.0 L396.2,138.0 L395.8,137.9 L395.3,137.6 L394.8,137.2 L394.5,136.8 L394.2,136.2 L393.9,135.6 L393.7,135.2 L393.4,134.5 L393.1,134.0 L392.9,133.6 L392.6,133.1 L392.2,132.4 L392.1,132.0 L391.9,131.2 L391.8,130.4 L391.8,129.6 L391.9,128.8 L391.9,128.0 L392.0,127.2 L392.0,126.4 L392.0,125.6 L392.1,124.8 L392.1,124.0 L392.1,123.2 L392.0,122.4 L392.0,121.6 L392.0,120.8 L392.1,120.0 L392.1,119.2 L392.1,118.4 L392.1,117.6 L392.0,116.8 L391.9,116.0 L391.8,115.4 L391.7,114.8 L391.5,114.0 L391.4,113.3 L391.3,112.8 L391.1,112.0 L391.0,111.6 L390.6,110.8 L390.4,110.4 L390.2,109.9 L389.9,109.2 L389.7,108.8 L389.4,108.0 L389.3,107.6 L389.2,106.8 L389.1,106.0 L389.0,105.2 L389.0,104.8 L389.0,104.0 L389.0,103.6 L389.1,102.8 L389.3,102.0 L389.5,101.6 L389.8,100.8 L389.9,100.4 L390.2,99.7 L390.4,99.2 L390.6,98.7 L390.9,98.0 L391.1,97.6 L391.4,97.2 L391.8,96.5 L392.2,96.0 L392.5,95.6 L392.8,95.2 L393.1,94.8 L393.5,94.4 L393.9,94.0 L394.4,93.6 L395.0,93.2 L395.4,92.9 L395.8,92.7 L396.3,92.4 L397.0,92.1 L397.4,92.0Z" fill="none" stroke="#000" stroke-width="0.9"/>
<path d="M397.1,91.2 L397.8,91.1 L398.6,91.2 L399.0,91.3 L399.5,91.6 L400.2,92.0 L400.6,92.3 L401.0,92.6 L401.4,92.9 L401.8,93.2 L402.3,93.6 L402.8,94.0 L403.2,94.4 L403.6,94.8 L403.9,95.2 L404.3,95.6 L404.6,96.1 L405.0,96.7 L405.3,97.2 L405.5,97.6 L405.8,98.4 L405.9,98.8 L406.1,99.6 L406.1,100.4 L406.2,101.2 L406.2,101.6 L406.2,102.4 L406.3,103.2 L406.4,104.0 L406.5,104.8 L406.6,105.5 L406.7,106.0 L406.7,106.8 L406.8,107.6 L406.7,108.4 L406.6,109.1 L406.5,109.6 L406.2,110.3 L406.0,110.8 L405.8,111.2 L405.5,112.0 L405.3,112.4 L405.0,113.2 L404.9,113.6 L404.6,114.4 L404.4,114.8 L404.2,115.2 L403.8,115.9 L403.4,116.4 L403.2,116.8 L402.9,117.2 L402.6,117.9 L402.4,118.4 L402.2,119.1 L402.1,119.6 L402.0,120.4 L402.0,121.2 L402.0,122.0 L402.1,122.8 L402.1,123.6 L402.2,124.1 L402.3,124.8 L402.3,125.6 L402.3,126.4 L402.3,127.2 L402.2,128.0 L402.2,128.4 L402.1,129.2 L401.9,130.0 L401.8,130.4 L401.6,131.2 L401.4,132.0 L401.3,132.4 L401.1,133.2 L401.0,133.6 L400.8,134.4 L400.6,135.1 L400.4,135.6 L400.2,136.2 L399.9,136.8 L399.6,137.2 L399.2,137.6 L398.7,138.0 L398.2,138.4 L397.8,138.5 L397.0,138.8 L396.6,138.8 L396.2,138.8 L395.4,138.6 L395.0,138.4 L394.6,138.0 L394.2,137.6 L393.8,137.0 L393.5,136.4 L393.3,136.0 L393.0,135.3 L392.8,134.8 L392.6,134.4 L392.2,133.7 L391.9,133.2 L391.8,132.8 L391.5,132.0 L391.4,131.6 L391.3,130.8 L391.3,130.0 L391.3,129.2 L391.3,128.4 L391.4,127.6 L391.4,127.0 L391.4,126.4 L391.4,125.6 L391.5,124.8 L391.5,124.0 L391.5,123.2 L391.4,122.4 L391.4,121.6 L391.5,120.8 L391.5,120.0 L391.5,119.2 L391.6,118.4 L391.5,117.6 L391.5,116.8 L391.4,116.3 L391.3,115.6 L391.1,114.8 L391.0,114.1 L390.9,113.6 L390.7,112.8 L390.6,112.4 L390.3,111.6 L390.2,111.2 L389.8,110.5 L389.6,110.0 L389.4,109.6 L389.1,108.8 L388.9,108.4 L388.7,107.6 L388.6,106.8 L388.6,106.4 L388.5,105.6 L388.4,104.8 L388.4,104.0 L388.5,103.2 L388.6,102.5 L388.7,102.0 L389.0,101.2 L389.2,100.8 L389.4,100.2 L389.6,99.6 L389.8,99.2 L390.1,98.4 L390.3,98.0 L390.6,97.3 L390.9,96.8 L391.1,96.4 L391.4,95.9 L391.8,95.2 L392.1,94.8 L392.4,94.4 L392.8,94.0 L393.2,93.6 L393.7,93.2 L394.2,92.8 L394.6,92.5 L395.0,92.3 L395.4,92.0 L396.1,91.6 L396.6,91.3 L397.1,91.2Z" fill="none" stroke="#000" stroke-width="0.9"/>
<path d="M396.8,90.4 L397.4,90.3 L398.2,90.3 L398.9,90.4 L399.4,90.6 L399.8,90.8 L400.4,91.2 L401.0,91.6 L401.4,91.9 L401.8,92.2 L402.2,92.5 L402.6,92.9 L403.0,93.2 L403.4,93.6 L403.8,94.0 L404.2,94.5 L404.6,95.0 L405.0,95.6 L405.3,96.0 L405.5,96.4 L405.8,96.9 L406.2,97.6 L406.3,98.0 L406.6,98.8 L406.7,99.2 L406.8,100.0 L406.9,100.8 L406.9,101.6 L407.0,102.3 L407.1,102.8 L407.2,103.6 L407.3,104.4 L407.4,105.2 L407.4,105.6 L407.6,106.4 L407.6,107.2 L407.6,108.0 L407.5,108.8 L407.4,109.4 L407.2,110.0 L407.0,110.6 L406.8,111.2 L406.6,111.6 L406.3,112.4 L406.2,112.8 L405.9,113.6 L405.8,114.0 L405.5,114.8 L405.4,115.2 L405.0,115.9 L404.7,116.4 L404.4,116.8 L404.2,117.2 L403.8,117.8 L403.4,118.4 L403.3,118.8 L403.0,119.5 L402.9,120.0 L402.7,120.8 L402.7,121.6 L402.7,122.4 L402.7,123.2 L402.8,124.0 L402.9,124.8 L402.9,125.6 L402.9,126.4 L402.9,127.2 L402.8,128.0 L402.7,128.8 L402.6,129.5 L402.5,130.0 L402.3,130.8 L402.2,131.4 L402.1,132.0 L401.9,132.8 L401.8,133.2 L401.6,134.0 L401.4,134.6 L401.2,135.2 L401.0,136.0 L400.8,136.4 L400.6,136.9 L400.2,137.5 L399.8,138.0 L399.4,138.4 L399.0,138.7 L398.6,139.0 L398.2,139.2 L397.4,139.5 L397.0,139.6 L396.2,139.7 L395.7,139.6 L395.0,139.4 L394.6,139.1 L394.2,138.8 L393.8,138.4 L393.4,137.8 L393.0,137.2 L392.8,136.8 L392.6,136.3 L392.3,135.6 L392.1,135.2 L391.8,134.5 L391.6,134.0 L391.4,133.6 L391.1,132.8 L390.9,132.4 L390.7,131.6 L390.7,130.8 L390.7,130.0 L390.7,129.2 L390.7,128.4 L390.7,127.6 L390.8,126.8 L390.8,126.0 L390.8,125.2 L390.8,124.4 L390.8,123.6 L390.8,122.8 L390.8,122.0 L390.8,121.2 L390.8,120.4 L390.9,119.6 L390.9,118.8 L390.9,118.0 L390.9,117.2 L390.8,116.4 L390.6,115.6 L390.6,115.2 L390.4,114.4 L390.2,113.6 L390.1,113.2 L389.9,112.4 L389.7,112.0 L389.4,111.3 L389.2,110.8 L389.0,110.4 L388.6,109.6 L388.5,109.2 L388.2,108.4 L388.2,108.0 L388.0,107.2 L387.9,106.4 L387.8,105.6 L387.8,104.9 L387.8,104.4 L387.8,103.6 L387.8,103.2 L388.0,102.4 L388.2,101.6 L388.3,101.2 L388.6,100.4 L388.8,100.0 L389.0,99.4 L389.2,98.8 L389.4,98.3 L389.7,97.6 L389.9,97.2 L390.2,96.4 L390.4,96.0 L390.6,95.6 L391.0,95.0 L391.4,94.4 L391.7,94.0 L392.0,93.6 L392.4,93.2 L392.9,92.8 L393.4,92.4 L393.8,92.1 L394.2,91.8 L394.6,91.5 L395.1,91.2 L395.8,90.8 L396.2,90.6 L396.8,90.4Z" fill="none" stroke="#000" stroke-width="0.9"/>
<path d="M396.4,89.6 L397.0,89.4 L397.8,89.4 L398.6,89.4 L399.3,89.6 L399.8,89.8 L400.2,90.0 L400.8,90.4 L401.4,90.8 L401.8,91.1 L402.2,91.4 L402.6,91.8 L403.0,92.1 L403.4,92.5 L403.8,92.9 L404.2,93.3 L404.6,93.8 L405.0,94.3 L405.4,94.8 L405.6,95.2 L405.9,95.6 L406.2,96.1 L406.6,96.8 L406.8,97.2 L407.0,97.7 L407.3,98.4 L407.4,99.0 L407.5,99.6 L407.7,100.4 L407.8,101.2 L407.8,101.6 L407.9,102.4 L408.0,103.2 L408.1,104.0 L408.2,104.5 L408.3,105.2 L408.4,106.0 L408.5,106.8 L408.6,107.6 L408.5,108.4 L408.4,109.2 L408.2,110.0 L408.1,110.4 L407.9,111.2 L407.7,111.6 L407.4,112.4 L407.3,112.8 L407.1,113.6 L407.0,114.0 L406.7,114.8 L406.6,115.2 L406.2,116.0 L406.0,116.4 L405.8,116.8 L405.4,117.5 L405.0,118.0 L404.8,118.4 L404.5,118.8 L404.2,119.4 L403.9,120.0 L403.8,120.4 L403.6,121.2 L403.5,122.0 L403.5,122.8 L403.5,123.6 L403.5,124.4 L403.6,125.2 L403.6,126.0 L403.6,126.8 L403.6,127.6 L403.5,128.4 L403.4,128.8 L403.3,129.6 L403.1,130.4 L403.0,131.1 L402.9,131.6 L402.7,132.4 L402.6,132.8 L402.4,133.6 L402.2,134.4 L402.1,134.8 L401.9,135.6 L401.7,136.0 L401.4,136.8 L401.2,137.2 L401.0,137.6 L400.6,138.2 L400.2,138.6 L399.8,139.1 L399.4,139.4 L399.0,139.7 L398.6,140.0 L397.8,140.4 L397.4,140.5 L396.6,140.7 L395.8,140.7 L395.0,140.5 L394.6,140.3 L394.2,140.0 L393.7,139.6 L393.3,139.2 L393.0,138.8 L392.6,138.2 L392.3,137.6 L392.1,137.2 L391.8,136.5 L391.6,136.0 L391.4,135.5 L391.1,134.8 L391.0,134.4 L390.6,133.6 L390.5,133.2 L390.2,132.4 L390.2,132.0 L390.0,131.2 L390.0,130.4 L390.0,129.6 L390.0,128.8 L390.0,128.0 L390.0,127.2 L390.1,126.4 L390.1,125.6 L390.1,124.8 L390.1,124.0 L390.1,123.2 L390.1,122.4 L390.1,121.6 L390.1,120.8 L390.1,120.0 L390.2,119.2 L390.2,118.4 L390.1,117.6 L390.1,116.8 L389.9,116.0 L389.8,115.3 L389.7,114.8 L389.5,114.0 L389.4,113.6 L389.1,112.8 L389.0,112.4 L388.6,111.6 L388.5,111.2 L388.2,110.6 L388.0,110.0 L387.8,109.6 L387.6,108.8 L387.4,108.1 L387.3,107.6 L387.2,106.8 L387.1,106.0 L387.1,105.2 L387.1,104.4 L387.1,103.6 L387.1,102.8 L387.3,102.0 L387.4,101.5 L387.6,100.8 L387.8,100.3 L388.1,99.6 L388.2,99.2 L388.5,98.4 L388.6,98.0 L388.9,97.2 L389.1,96.8 L389.4,96.0 L389.6,95.6 L389.8,95.2 L390.2,94.5 L390.5,94.0 L390.8,93.6 L391.2,93.2 L391.5,92.8 L392.0,92.4 L392.4,92.0 L392.9,91.6 L393.4,91.3 L393.8,91.0 L394.2,90.7 L394.7,90.4 L395.4,90.0 L395.8,89.8 L396.4,89.6Z" fill="none" stroke="#000" stroke-width="0.9"/>
<path d="M397.1,88.4 L397.8,88.3 L398.6,88.4 L399.0,88.4 L399.8,88.6 L400.2,88.8 L401.0,89.2 L401.4,89.4 L401.8,89.7 L402.2,90.0 L402.7,90.4 L403.1,90.8 L403.6,91.2 L404.0,91.6 L404.4,92.0 L404.8,92.4 L405.1,92.8 L405.4,93.2 L405.8,93.7 L406.2,94.3 L406.5,94.8 L406.8,95.2 L407.0,95.6 L407.4,96.2 L407.7,96.8 L407.9,97.2 L408.2,98.0 L408.3,98.4 L408.5,99.2 L408.6,99.6 L408.7,100.4 L408.9,101.2 L409.0,102.0 L409.0,102.4 L409.1,103.2 L409.2,104.0 L409.4,104.8 L409.4,105.2 L409.5,106.0 L409.6,106.8 L409.7,107.6 L409.7,108.4 L409.6,109.2 L409.4,110.0 L409.3,110.4 L409.1,111.2 L409.0,111.6 L408.8,112.4 L408.6,113.0 L408.4,113.6 L408.2,114.4 L408.1,114.8 L407.8,115.6 L407.6,116.0 L407.4,116.6 L407.1,117.2 L406.9,117.6 L406.6,118.2 L406.2,118.8 L406.0,119.2 L405.7,119.6 L405.4,120.1 L405.0,120.8 L404.8,121.2 L404.6,121.9 L404.5,122.4 L404.4,123.2 L404.4,124.0 L404.5,124.8 L404.5,125.6 L404.5,126.4 L404.5,127.2 L404.4,128.0 L404.3,128.8 L404.2,129.2 L404.1,130.0 L403.9,130.8 L403.8,131.4 L403.7,132.0 L403.5,132.8 L403.4,133.2 L403.2,134.0 L403.0,134.7 L402.9,135.2 L402.6,136.0 L402.5,136.4 L402.2,137.2 L402.0,137.6 L401.8,138.0 L401.4,138.6 L401.0,139.2 L400.7,139.6 L400.3,140.0 L399.9,140.4 L399.5,140.8 L399.0,141.2 L398.6,141.5 L398.2,141.7 L397.4,141.9 L396.9,142.0 L396.2,142.0 L395.5,142.0 L395.0,141.9 L394.3,141.6 L393.8,141.3 L393.4,141.0 L393.0,140.5 L392.6,140.1 L392.3,139.6 L392.0,139.2 L391.8,138.8 L391.4,138.1 L391.2,137.6 L391.0,137.2 L390.7,136.4 L390.6,136.0 L390.3,135.2 L390.2,134.8 L389.9,134.0 L389.8,133.6 L389.5,132.8 L389.4,132.1 L389.3,131.6 L389.2,130.8 L389.2,130.0 L389.2,129.2 L389.2,128.4 L389.2,127.6 L389.2,126.8 L389.2,126.0 L389.2,125.2 L389.2,124.4 L389.2,123.6 L389.2,122.8 L389.2,122.0 L389.2,121.2 L389.2,120.4 L389.3,119.6 L389.3,118.8 L389.2,118.0 L389.1,117.2 L389.0,116.5 L388.9,116.0 L388.7,115.2 L388.6,114.8 L388.4,114.0 L388.2,113.4 L388.0,112.8 L387.8,112.3 L387.5,111.6 L387.4,111.2 L387.1,110.4 L387.0,110.0 L386.7,109.2 L386.6,108.7 L386.4,108.0 L386.3,107.2 L386.2,106.4 L386.2,105.7 L386.2,105.2 L386.2,104.4 L386.2,103.6 L386.2,103.2 L386.3,102.4 L386.4,101.6 L386.6,100.8 L386.7,100.4 L387.0,99.6 L387.1,99.2 L387.4,98.4 L387.5,98.0 L387.8,97.2 L387.9,96.8 L388.2,96.0 L388.3,95.6 L388.6,95.0 L389.0,94.4 L389.2,94.0 L389.5,93.6 L389.8,93.2 L390.2,92.7 L390.6,92.2 L391.0,91.8 L391.4,91.5 L391.8,91.1 L392.2,90.8 L392.7,90.4 L393.3,90.0 L393.8,89.7 L394.2,89.5 L394.7,89.2 L395.4,88.9 L395.8,88.7 L396.6,88.5 L397.1,88.4Z" fill="none" stroke="#000" stroke-width="0.9"/>
<path d="M396.0,87.2 L396.6,87.1 L397.4,87.0 L398.2,86.9 L399.0,86.9 L399.8,87.1 L400.3,87.2 L401.0,87.5 L401.4,87.6 L402.0,88.0 L402.6,88.4 L403.0,88.6 L403.4,89.0 L403.8,89.3 L404.2,89.7 L404.6,90.1 L405.0,90.4 L405.4,90.9 L405.8,91.3 L406.2,91.8 L406.6,92.3 L407.0,92.8 L407.3,93.2 L407.5,93.6 L407.8,94.0 L408.2,94.6 L408.6,95.2 L408.9,95.6 L409.1,96.0 L409.4,96.6 L409.6,97.2 L409.8,97.7 L410.0,98.4 L410.1,99.2 L410.2,99.7 L410.3,100.4 L410.4,101.2 L410.5,102.0 L410.6,102.8 L410.6,103.2 L410.8,104.0 L410.9,104.8 L411.0,105.6 L411.0,106.0 L411.1,106.8 L411.1,107.6 L411.1,108.4 L411.0,109.2 L411.0,109.6 L410.8,110.4 L410.7,111.2 L410.6,111.6 L410.4,112.4 L410.2,113.2 L410.1,113.6 L409.9,114.4 L409.8,114.8 L409.6,115.6 L409.4,116.1 L409.1,116.8 L409.0,117.2 L408.6,118.0 L408.5,118.4 L408.2,118.9 L407.8,119.6 L407.6,120.0 L407.3,120.4 L407.0,120.9 L406.6,121.5 L406.3,122.0 L406.1,122.4 L405.9,123.2 L405.8,123.9 L405.8,124.4 L405.8,125.2 L405.8,126.0 L405.8,126.8 L405.7,127.6 L405.5,128.4 L405.4,129.1 L405.3,129.6 L405.1,130.4 L405.0,131.0 L404.9,131.6 L404.7,132.4 L404.6,133.0 L404.5,133.6 L404.2,134.4 L404.1,134.8 L403.9,135.6 L403.8,136.0 L403.5,136.8 L403.4,137.2 L403.1,138.0 L402.9,138.4 L402.6,139.0 L402.3,139.6 L402.0,140.0 L401.8,140.4 L401.4,140.9 L401.0,141.5 L400.6,142.0 L400.2,142.4 L399.8,142.8 L399.4,143.1 L399.0,143.3 L398.4,143.6 L397.8,143.8 L397.0,143.9 L396.2,143.9 L395.4,143.9 L394.6,143.7 L394.2,143.5 L393.7,143.2 L393.1,142.8 L392.7,142.4 L392.3,142.0 L392.0,141.6 L391.7,141.2 L391.4,140.8 L391.0,140.1 L390.7,139.6 L390.5,139.2 L390.2,138.5 L390.0,138.0 L389.8,137.5 L389.6,136.8 L389.4,136.3 L389.2,135.6 L389.0,134.8 L388.9,134.4 L388.7,133.6 L388.6,133.1 L388.4,132.4 L388.3,131.6 L388.2,130.8 L388.2,130.4 L388.1,129.6 L388.1,128.8 L388.1,128.0 L388.1,127.2 L388.1,126.4 L388.1,125.6 L388.1,124.8 L388.1,124.0 L388.1,123.2 L388.1,122.4 L388.1,121.6 L388.1,120.8 L388.1,120.0 L388.0,119.2 L388.0,118.4 L387.8,117.6 L387.8,117.2 L387.6,116.4 L387.4,115.7 L387.3,115.2 L387.0,114.4 L386.9,114.0 L386.7,113.2 L386.6,112.8 L386.3,112.0 L386.2,111.6 L385.9,110.8 L385.8,110.3 L385.6,109.6 L385.4,108.9 L385.3,108.4 L385.1,107.6 L385.0,106.8 L385.0,106.4 L385.0,105.6 L385.0,104.8 L385.0,104.3 L385.0,103.6 L385.1,102.8 L385.2,102.0 L385.3,101.2 L385.4,100.6 L385.5,100.0 L385.7,99.2 L385.9,98.8 L386.1,98.0 L386.2,97.6 L386.5,96.8 L386.6,96.3 L386.8,95.6 L387.0,95.1 L387.3,94.4 L387.5,94.0 L387.8,93.6 L388.2,93.0 L388.6,92.4 L388.9,92.0 L389.3,91.6 L389.6,91.2 L390.0,90.8 L390.4,90.4 L390.8,90.0 L391.3,89.6 L391.8,89.2 L392.2,88.9 L392.6,88.7 L393.0,88.4 L393.8,88.0 L394.2,87.8 L394.7,87.6 L395.4,87.3 L396.0,87.2Z" fill="none" stroke="#000" stroke-width="0.9"/>
<path d="M396.3,84.4 L397.0,84.3 L397.8,84.3 L398.6,84.3 L399.4,84.4 L399.8,84.4 L400.6,84.6 L401.4,84.8 L401.8,84.9 L402.4,85.2 L403.0,85.5 L403.4,85.7 L403.8,86.0 L404.4,86.4 L404.9,86.8 L405.4,87.2 L405.8,87.6 L406.2,87.9 L406.6,88.3 L407.0,88.7 L407.4,89.0 L407.8,89.4 L408.2,89.8 L408.6,90.3 L409.0,90.8 L409.3,91.2 L409.5,91.6 L409.8,92.0 L410.2,92.7 L410.5,93.2 L410.8,93.6 L411.0,94.1 L411.4,94.8 L411.6,95.2 L411.8,95.7 L412.1,96.4 L412.2,96.8 L412.5,97.6 L412.6,98.3 L412.7,98.8 L412.8,99.6 L412.8,100.4 L412.9,101.2 L413.0,101.6 L413.1,102.4 L413.3,103.2 L413.4,104.0 L413.4,104.4 L413.5,105.2 L413.5,106.0 L413.5,106.8 L413.4,107.6 L413.4,108.3 L413.4,108.8 L413.3,109.6 L413.2,110.4 L413.2,111.2 L413.1,112.0 L413.0,112.4 L412.9,113.2 L412.8,114.0 L412.6,114.8 L412.5,115.2 L412.3,116.0 L412.2,116.4 L411.9,117.2 L411.8,117.6 L411.4,118.4 L411.2,118.8 L411.0,119.3 L410.6,120.0 L410.4,120.4 L410.2,120.8 L409.8,121.5 L409.5,122.0 L409.3,122.4 L409.0,123.0 L408.8,123.6 L408.6,124.1 L408.4,124.8 L408.3,125.6 L408.2,126.1 L408.1,126.8 L407.9,127.6 L407.7,128.0 L407.5,128.8 L407.3,129.2 L407.1,130.0 L407.0,130.4 L406.8,131.2 L406.6,131.9 L406.5,132.4 L406.3,133.2 L406.2,133.6 L406.0,134.4 L405.8,135.1 L405.7,135.6 L405.4,136.4 L405.3,136.8 L405.1,137.6 L405.0,138.0 L404.7,138.8 L404.6,139.2 L404.2,140.0 L404.0,140.4 L403.8,140.9 L403.4,141.6 L403.2,142.0 L402.9,142.4 L402.6,142.9 L402.2,143.5 L401.8,144.0 L401.4,144.4 L401.0,144.8 L400.6,145.2 L400.2,145.5 L399.8,145.8 L399.4,146.1 L398.6,146.4 L398.2,146.5 L397.4,146.7 L396.9,146.8 L396.2,146.9 L395.4,146.8 L395.0,146.8 L394.2,146.5 L393.8,146.3 L393.3,146.0 L392.8,145.6 L392.4,145.2 L392.0,144.8 L391.6,144.4 L391.2,144.0 L390.9,143.6 L390.6,143.2 L390.2,142.6 L389.9,142.0 L389.7,141.6 L389.4,141.0 L389.1,140.4 L389.0,140.0 L388.7,139.2 L388.5,138.8 L388.3,138.0 L388.1,137.6 L387.9,136.8 L387.8,136.4 L387.6,135.6 L387.5,134.8 L387.4,134.4 L387.2,133.6 L387.1,132.8 L387.0,132.4 L386.9,131.6 L386.7,130.8 L386.6,130.0 L386.6,129.5 L386.5,128.8 L386.5,128.0 L386.5,127.2 L386.5,126.4 L386.5,125.6 L386.4,124.8 L386.4,124.0 L386.4,123.2 L386.3,122.4 L386.3,121.6 L386.3,120.8 L386.2,120.0 L386.2,119.6 L386.1,118.8 L385.9,118.0 L385.8,117.4 L385.7,116.8 L385.5,116.0 L385.4,115.6 L385.2,114.8 L385.0,114.2 L384.8,113.6 L384.6,112.8 L384.5,112.4 L384.3,111.6 L384.1,111.2 L383.9,110.4 L383.8,110.0 L383.6,109.2 L383.4,108.5 L383.3,108.0 L383.2,107.2 L383.1,106.4 L383.1,105.6 L383.1,104.8 L383.2,104.0 L383.3,103.2 L383.4,102.8 L383.5,102.0 L383.6,101.2 L383.7,100.4 L383.8,99.6 L383.9,99.2 L384.1,98.4 L384.2,97.9 L384.4,97.2 L384.6,96.5 L384.7,96.0 L385.0,95.2 L385.1,94.8 L385.4,94.0 L385.6,93.6 L385.8,93.1 L386.1,92.4 L386.3,92.0 L386.6,91.5 L387.0,90.9 L387.3,90.4 L387.6,90.0 L387.9,89.6 L388.3,89.2 L388.6,88.8 L389.0,88.4 L389.4,88.0 L389.8,87.6 L390.3,87.2 L390.8,86.8 L391.2,86.4 L391.8,86.0 L392.2,85.7 L392.6,85.4 L393.1,85.2 L393.8,84.9 L394.2,84.8 L395.0,84.6 L395.8,84.5 L396.3,84.4Z" fill="none" stroke="#555" stroke-width="0.9"/>
<path d="M335.8,82.0 L336.2,81.9 L337.0,81.9 L337.4,82.0 L338.2,82.2 L339.0,82.4 L339.4,82.5 L340.2,82.7 L340.6,82.8 L341.4,82.9 L342.2,83.0 L343.0,83.0 L343.8,82.9 L344.6,82.8 L345.0,82.8 L345.8,82.7 L346.6,82.5 L347.4,82.4 L348.2,82.5 L349.0,82.7 L349.8,82.8 L350.2,82.8 L350.6,82.8 L351.4,82.6 L352.2,82.4 L352.6,82.3 L353.4,82.3 L354.0,82.4 L354.6,82.5 L355.4,82.7 L356.2,82.8 L357.0,82.8 L357.8,82.7 L358.6,82.7 L359.4,82.6 L360.2,82.5 L361.0,82.4 L361.8,82.6 L362.4,82.8 L363.0,83.1 L363.4,83.3 L364.2,83.5 L365.0,83.5 L365.8,83.4 L366.6,83.4 L367.4,83.4 L368.2,83.6 L368.6,83.6 L369.4,83.8 L370.2,83.8 L371.0,83.9 L371.8,83.9 L372.6,83.9 L373.4,83.8 L374.2,83.7 L375.0,83.7 L375.8,83.8 L376.4,84.0 L377.0,84.2 L377.7,84.4 L378.2,84.5 L379.0,84.6 L379.8,84.7 L380.6,84.7 L381.4,84.7 L382.2,84.7 L382.9,84.8 L383.4,84.9 L384.2,85.0 L385.0,85.1 L385.8,85.2 L386.6,85.1 L387.4,85.0 L388.2,84.9 L388.7,84.8 L389.4,84.6 L389.9,84.4 L390.6,84.0 L391.0,83.8 L391.5,83.6 L392.2,83.4 L393.0,83.2 L393.4,83.1 L394.2,82.9 L394.6,82.7 L395.1,82.4 L395.8,82.0 L396.2,81.9 L397.0,81.7 L397.8,81.6 L398.6,81.7 L399.4,81.9 L399.8,82.0 L400.6,82.3 L401.0,82.5 L401.8,82.8 L402.2,83.0 L402.7,83.2 L403.4,83.6 L403.8,83.8 L404.2,84.2 L404.6,84.7 L405.0,85.1 L405.4,85.6 L405.7,86.0 L406.1,86.4 L406.5,86.8 L407.0,87.2 L407.4,87.5 L407.8,87.8 L408.2,88.0 L408.8,88.4 L409.2,88.8 L409.5,89.2 L409.8,89.7 L410.2,90.3 L410.5,90.8 L410.8,91.2 L411.1,91.6 L411.4,92.1 L411.8,92.6 L412.2,93.2 L412.5,93.6 L412.7,94.0 L413.0,94.4 L413.4,95.0 L413.7,95.6 L413.9,96.0 L414.2,96.8 L414.2,97.6 L414.1,98.4 L414.1,99.2 L414.2,100.0 L414.2,100.4 L414.4,101.2 L414.6,102.0 L414.7,102.4 L414.9,103.2 L415.0,103.6 L415.2,104.4 L415.4,105.2 L415.4,105.6 L415.5,106.4 L415.7,107.2 L415.8,108.0 L415.8,108.8 L415.7,109.6 L415.5,110.4 L415.4,110.8 L415.2,111.6 L415.1,112.4 L415.0,113.0 L414.9,113.6 L414.7,114.4 L414.6,114.8 L414.3,115.6 L414.2,116.0 L413.8,116.6 L413.4,117.2 L413.1,117.6 L412.8,118.0 L412.6,118.5 L412.4,119.2 L412.3,120.0 L412.2,120.8 L412.2,121.2 L412.0,122.0 L411.8,122.5 L411.4,123.2 L411.2,123.6 L411.0,124.0 L410.6,124.7 L410.4,125.2 L410.2,125.8 L410.1,126.4 L410.0,127.2 L409.8,128.0 L409.7,128.4 L409.4,128.9 L409.0,129.6 L408.8,130.0 L408.6,130.4 L408.2,131.2 L408.1,131.6 L407.9,132.4 L407.8,132.8 L407.6,133.6 L407.4,134.4 L407.3,134.8 L407.0,135.5 L406.8,136.0 L406.6,136.8 L406.5,137.2 L406.4,138.0 L406.2,138.7 L406.1,139.2 L405.8,140.0 L405.6,140.4 L405.4,141.0 L405.2,141.6 L405.0,142.0 L404.6,142.7 L404.3,143.2 L404.0,143.6 L403.7,144.0 L403.4,144.4 L403.0,144.9 L402.6,145.3 L402.2,145.7 L401.8,146.1 L401.4,146.6 L401.0,147.0 L400.6,147.5 L400.2,147.9 L399.8,148.2 L399.4,148.5 L398.9,148.8 L398.2,149.1 L397.8,149.3 L397.0,149.4 L396.2,149.4 L395.6,149.2 L395.0,149.1 L394.2,148.8 L393.8,148.7 L393.0,148.4 L392.6,148.3 L392.1,148.0 L391.6,147.6 L391.2,147.2 L390.9,146.8 L390.6,146.4 L390.2,145.6 L390.1,145.2 L389.8,144.5 L389.6,144.0 L389.4,143.4 L389.2,142.8 L389.0,142.2 L388.8,141.6 L388.6,140.9 L388.4,140.4 L388.2,139.9 L387.9,139.2 L387.7,138.8 L387.4,138.1 L387.2,137.6 L387.0,137.0 L386.8,136.4 L386.6,135.6 L386.5,135.2 L386.4,134.4 L386.3,133.6 L386.3,132.8 L386.3,132.0 L386.3,131.2 L386.4,130.4 L386.3,129.6 L386.2,128.9 L386.1,128.4 L385.9,127.6 L385.8,127.1 L385.7,126.4 L385.6,125.6 L385.6,124.8 L385.6,124.0 L385.6,123.2 L385.6,122.4 L385.5,121.6 L385.4,121.2 L385.2,120.4 L385.0,120.0 L384.6,119.2 L384.5,118.8 L384.2,118.0 L384.1,117.6 L383.9,116.8 L383.8,116.4 L383.4,115.6 L383.2,115.2 L382.9,114.8 L382.6,114.3 L382.3,113.6 L382.1,113.2 L381.8,112.6 L381.5,112.0 L381.2,111.6 L380.8,111.2 L380.2,110.8 L379.8,110.6 L379.0,110.4 L378.2,110.4 L377.4,110.6 L376.6,110.8 L376.2,110.9 L375.4,111.2 L375.0,111.3 L374.2,111.4 L373.4,111.4 L372.6,111.4 L371.8,111.3 L371.0,111.4 L370.2,111.5 L369.8,111.6 L369.0,111.9 L368.6,112.2 L368.2,112.4 L367.7,112.8 L367.2,113.2 L366.7,113.6 L366.2,113.9 L365.8,114.2 L365.4,114.4 L365.0,114.8 L364.6,115.2 L364.2,115.9 L364.0,116.4 L363.8,116.8 L363.5,117.6 L363.4,118.0 L363.0,118.8 L362.8,119.2 L362.6,119.6 L362.2,120.2 L361.8,120.7 L361.5,121.2 L361.1,121.6 L360.8,122.0 L360.5,122.4 L360.2,122.8 L359.8,123.4 L359.4,123.9 L359.0,124.3 L358.6,124.7 L358.2,124.9 L357.8,125.2 L357.2,125.6 L356.7,126.0 L356.4,126.4 L356.1,126.8 L355.8,127.2 L355.4,127.7 L355.0,128.1 L354.6,128.5 L354.2,128.8 L353.5,129.2 L353.0,129.4 L352.6,129.6 L351.8,129.9 L351.4,130.0 L350.6,130.3 L350.2,130.5 L349.5,130.8 L349.0,131.0 L348.3,131.2 L347.8,131.3 L347.0,131.4 L346.2,131.5 L345.4,131.5 L344.6,131.6 L344.2,131.6 L343.4,131.8 L342.6,131.9 L341.8,132.0 L341.0,132.0 L340.2,131.8 L339.4,131.7 L339.0,131.5 L338.2,131.3 L337.7,131.2 L337.0,131.1 L336.2,131.0 L335.4,131.1 L334.6,131.2 L334.2,131.3 L333.4,131.5 L332.6,131.5 L332.0,131.2 L331.4,130.8 L331.0,130.4 L330.6,130.0 L330.2,129.6 L329.8,129.4 L329.4,129.2 L328.6,128.9 L327.8,128.8 L327.4,128.7 L326.6,128.6 L326.2,128.4 L325.5,128.0 L325.1,127.6 L324.7,127.2 L324.3,126.8 L323.9,126.4 L323.5,126.0 L323.1,125.6 L322.7,125.2 L322.4,124.8 L322.2,124.4 L321.8,123.8 L321.4,123.2 L321.1,122.8 L320.8,122.4 L320.5,122.0 L320.1,121.6 L319.7,121.2 L319.3,120.8 L318.9,120.4 L318.6,120.0 L318.2,119.4 L317.9,118.8 L317.7,118.4 L317.4,117.8 L317.0,117.2 L316.7,116.8 L316.4,116.4 L316.0,116.0 L315.5,115.6 L315.0,115.2 L314.7,114.8 L314.4,114.4 L314.2,113.7 L314.1,113.2 L313.9,112.4 L313.8,111.9 L313.7,111.2 L313.7,110.4 L313.7,109.6 L313.5,108.8 L313.4,108.3 L313.1,107.6 L313.0,107.1 L312.8,106.4 L312.8,105.6 L312.8,104.8 L312.8,104.0 L312.9,103.2 L313.0,102.4 L313.0,102.0 L313.2,101.2 L313.4,100.6 L313.5,100.0 L313.5,99.2 L313.4,98.4 L313.4,98.0 L313.4,97.3 L313.5,96.8 L313.8,96.2 L314.1,95.6 L314.2,95.2 L314.4,94.4 L314.6,93.6 L314.7,93.2 L315.0,92.6 L315.4,92.1 L315.8,91.8 L316.2,91.5 L316.8,91.2 L317.4,90.9 L317.8,90.7 L318.3,90.4 L318.9,90.0 L319.3,89.6 L319.7,89.2 L320.1,88.8 L320.5,88.4 L320.9,88.0 L321.3,87.6 L321.7,87.2 L322.1,86.8 L322.5,86.4 L323.0,86.0 L323.4,85.7 L323.8,85.5 L324.3,85.2 L325.0,84.8 L325.4,84.5 L325.8,84.3 L326.3,84.0 L327.0,83.7 L327.4,83.5 L328.2,83.2 L328.6,83.2 L329.4,83.1 L330.2,83.1 L331.0,83.1 L331.8,83.0 L332.6,82.8 L333.0,82.7 L333.8,82.5 L334.2,82.4 L335.0,82.2 L335.8,82.0Z" fill="none" stroke="#222" stroke-width="1.0"/>
<path d="M322.5,98 C324,89.5 333,87 346,88.6 C351,89.4 351,93 346,93.4 C337,93 331,95 328.5,103 C327,108 321.6,105 322.5,98Z" fill="#000"/>
<path d="M356.1,127.3h0.95v0.95h-0.95zM360.3,127.9h0.95v0.95h-0.95zM344.0,134.7h0.95v0.95h-0.95zM358.7,124.8h0.95v0.95h-0.95zM366.8,141.8h0.95v0.95h-0.95zM384.1,126.8h0.95v0.95h-0.95zM374.0,129.6h0.95v0.95h-0.95zM353.3,138.8h0.95v0.95h-0.95zM341.1,135.9h0.95v0.95h-0.95zM319.1,127.2h0.95v0.95h-0.95zM335.0,131.5h0.95v0.95h-0.95zM351.4,132.3h0.95v0.95h-0.95zM380.5,115.8h0.95v0.95h-0.95zM375.4,131.1h0.95v0.95h-0.95zM321.4,143.1h0.95v0.95h-0.95zM355.1,129.5h0.95v0.95h-0.95zM321.0,137.0h0.95v0.95h-0.95zM330.4,141.7h0.95v0.95h-0.95zM367.2,131.3h0.95v0.95h-0.95zM352.5,133.7h0.95v0.95h-0.95zM359.7,128.3h0.95v0.95h-0.95zM319.6,129.2h0.95v0.95h-0.95zM367.5,127.7h0.95v0.95h-0.95zM379.7,131.2h0.95v0.95h-0.95zM374.1,135.7h0.95v0.95h-0.95zM353.6,130.1h0.95v0.95h-0.95zM360.8,140.4h0.95v0.95h-0.95zM348.0,137.7h0.95v0.95h-0.95zM328.7,131.6h0.95v0.95h-0.95zM331.1,131.6h0.95v0.95h-0.95zM373.9,122.5h0.95v0.95h-0.95zM369.3,138.2h0.95v0.95h-0.95zM361.8,122.0h0.95v0.95h-0.95zM384.3,134.2h0.95v0.95h-0.95zM367.1,124.6h0.95v0.95h-0.95zM367.4,115.3h0.95v0.95h-0.95zM374.4,130.3h0.95v0.95h-0.95zM349.6,136.4h0.95v0.95h-0.95zM363.2,125.0h0.95v0.95h-0.95zM328.8,138.2h0.95v0.95h-0.95zM378.7,123.8h0.95v0.95h-0.95zM380.6,125.7h0.95v0.95h-0.95zM385.9,134.8h0.95v0.95h-0.95zM327.6,133.4h0.95v0.95h-0.95zM364.3,126.8h0.95v0.95h-0.95zM372.9,138.3h0.95v0.95h-0.95zM328.4,134.7h0.95v0.95h-0.95zM377.0,128.4h0.95v0.95h-0.95zM325.6,130.0h0.95v0.95h-0.95zM317.1,135.0h0.95v0.95h-0.95zM382.8,127.8h0.95v0.95h-0.95zM385.5,141.1h0.95v0.95h-0.95zM322.7,135.4h0.95v0.95h-0.95zM319.2,123.0h0.95v0.95h-0.95zM381.4,128.8h0.95v0.95h-0.95zM333.1,132.3h0.95v0.95h-0.95zM380.1,120.4h0.95v0.95h-0.95zM343.7,136.2h0.95v0.95h-0.95zM362.3,137.1h0.95v0.95h-0.95zM365.3,122.7h0.95v0.95h-0.95zM363.7,135.1h0.95v0.95h-0.95zM368.2,140.1h0.95v0.95h-0.95zM365.8,122.9h0.95v0.95h-0.95zM355.7,140.9h0.95v0.95h-0.95zM330.6,134.1h0.95v0.95h-0.95zM375.7,128.5h0.95v0.95h-0.95zM335.5,134.1h0.95v0.95h-0.95zM365.8,126.8h0.95v0.95h-0.95zM363.4,132.9h0.95v0.95h-0.95zM379.0,127.4h0.95v0.95h-0.95zM378.4,135.8h0.95v0.95h-0.95zM347.4,134.0h0.95v0.95h-0.95zM317.6,136.8h0.95v0.95h-0.95zM359.6,131.9h0.95v0.95h-0.95zM316.3,135.4h0.95v0.95h-0.95zM355.6,135.1h0.95v0.95h-0.95zM345.5,133.2h0.95v0.95h-0.95zM365.7,117.1h0.95v0.95h-0.95zM336.3,137.3h0.95v0.95h-0.95zM362.1,127.6h0.95v0.95h-0.95zM365.5,140.8h0.95v0.95h-0.95zM319.8,127.1h0.95v0.95h-0.95zM381.4,127.3h0.95v0.95h-0.95zM367.6,116.6h0.95v0.95h-0.95zM351.6,139.4h0.95v0.95h-0.95zM327.2,137.6h0.95v0.95h-0.95zM322.6,130.9h0.95v0.95h-0.95zM385.0,130.2h0.95v0.95h-0.95zM323.1,126.7h0.95v0.95h-0.95zM353.0,146.5h0.95v0.95h-0.95zM381.0,137.4h0.95v0.95h-0.95zM377.8,127.7h0.95v0.95h-0.95zM376.0,119.2h0.95v0.95h-0.95zM370.3,126.5h0.95v0.95h-0.95zM322.0,128.9h0.95v0.95h-0.95zM316.0,135.4h0.95v0.95h-0.95zM381.0,127.2h0.95v0.95h-0.95zM363.9,136.4h0.95v0.95h-0.95zM334.4,132.7h0.95v0.95h-0.95zM322.2,127.4h0.95v0.95h-0.95zM337.5,131.7h0.95v0.95h-0.95zM384.9,141.0h0.95v0.95h-0.95zM342.0,132.1h0.95v0.95h-0.95zM383.0,131.9h0.95v0.95h-0.95zM380.8,127.5h0.95v0.95h-0.95zM382.4,128.0h0.95v0.95h-0.95zM378.8,125.6h0.95v0.95h-0.95zM382.1,119.4h0.95v0.95h-0.95zM366.2,145.8h0.95v0.95h-0.95zM340.7,132.2h0.95v0.95h-0.95zM376.1,122.7h0.95v0.95h-0.95zM382.3,123.6h0.95v0.95h-0.95zM368.8,139.5h0.95v0.95h-0.95zM319.5,128.9h0.95v0.95h-0.95zM353.1,137.8h0.95v0.95h-0.95zM374.7,127.9h0.95v0.95h-0.95zM363.2,120.8h0.95v0.95h-0.95zM327.4,131.3h0.95v0.95h-0.95zM361.3,136.1h0.95v0.95h-0.95zM368.7,120.7h0.95v0.95h-0.95zM337.9,131.5h0.95v0.95h-0.95zM379.8,114.7h0.95v0.95h-0.95zM354.9,139.8h0.95v0.95h-0.95zM376.4,126.9h0.95v0.95h-0.95zM326.9,137.0h0.95v0.95h-0.95zM356.2,127.5h0.95v0.95h-0.95zM322.9,130.2h0.95v0.95h-0.95zM355.1,141.5h0.95v0.95h-0.95zM326.0,142.0h0.95v0.95h-0.95zM357.8,131.0h0.95v0.95h-0.95zM323.2,139.5h0.95v0.95h-0.95zM328.0,137.7h0.95v0.95h-0.95zM385.4,126.6h0.95v0.95h-0.95zM365.7,130.7h0.95v0.95h-0.95zM376.9,124.3h0.95v0.95h-0.95zM348.8,144.8h0.95v0.95h-0.95zM377.3,128.3h0.95v0.95h-0.95zM351.6,141.3h0.95v0.95h-0.95zM322.0,127.9h0.95v0.95h-0.95zM371.8,132.4h0.95v0.95h-0.95zM317.1,120.4h0.95v0.95h-0.95zM370.9,137.4h0.95v0.95h-0.95zM360.6,139.6h0.95v0.95h-0.95zM379.4,137.6h0.95v0.95h-0.95zM324.6,136.5h0.95v0.95h-0.95zM323.8,130.9h0.95v0.95h-0.95zM318.1,129.0h0.95v0.95h-0.95zM356.9,126.6h0.95v0.95h-0.95zM361.8,127.4h0.95v0.95h-0.95zM371.6,138.9h0.95v0.95h-0.95zM321.9,131.9h0.95v0.95h-0.95zM375.9,128.6h0.95v0.95h-0.95zM374.7,131.1h0.95v0.95h-0.95zM344.1,132.9h0.95v0.95h-0.95zM384.6,126.1h0.95v0.95h-0.95zM359.3,126.5h0.95v0.95h-0.95zM343.5,134.7h0.95v0.95h-0.95zM377.5,122.7h0.95v0.95h-0.95zM372.0,139.7h0.95v0.95h-0.95zM322.3,138.3h0.95v0.95h-0.95zM345.6,132.7h0.95v0.95h-0.95zM349.4,138.0h0.95v0.95h-0.95zM356.7,128.3h0.95v0.95h-0.95zM319.9,129.1h0.95v0.95h-0.95zM361.6,142.3h0.95v0.95h-0.95zM379.7,135.6h0.95v0.95h-0.95zM360.2,128.3h0.95v0.95h-0.95zM377.4,131.2h0.95v0.95h-0.95zM371.2,118.4h0.95v0.95h-0.95zM321.5,134.5h0.95v0.95h-0.95zM340.9,133.7h0.95v0.95h-0.95zM383.8,124.7h0.95v0.95h-0.95zM372.3,119.1h0.95v0.95h-0.95zM355.9,136.2h0.95v0.95h-0.95zM324.2,132.5h0.95v0.95h-0.95zM327.8,135.0h0.95v0.95h-0.95zM378.5,141.1h0.95v0.95h-0.95zM318.9,139.5h0.95v0.95h-0.95zM378.3,124.1h0.95v0.95h-0.95zM351.3,142.9h0.95v0.95h-0.95zM381.1,118.3h0.95v0.95h-0.95zM319.2,132.8h0.95v0.95h-0.95zM380.0,126.7h0.95v0.95h-0.95zM316.5,129.1h0.95v0.95h-0.95zM362.8,138.3h0.95v0.95h-0.95zM338.9,136.1h0.95v0.95h-0.95zM371.7,132.9h0.95v0.95h-0.95zM378.2,132.5h0.95v0.95h-0.95zM355.4,132.1h0.95v0.95h-0.95zM373.7,122.3h0.95v0.95h-0.95zM381.3,131.0h0.95v0.95h-0.95zM385.0,134.2h0.95v0.95h-0.95zM352.1,138.4h0.95v0.95h-0.95zM317.9,132.6h0.95v0.95h-0.95zM329.9,131.3h0.95v0.95h-0.95zM358.3,130.2h0.95v0.95h-0.95zM378.7,139.3h0.95v0.95h-0.95zM359.4,125.2h0.95v0.95h-0.95zM364.8,129.8h0.95v0.95h-0.95zM355.4,128.0h0.95v0.95h-0.95zM379.2,125.9h0.95v0.95h-0.95zM354.9,129.2h0.95v0.95h-0.95zM336.2,136.5h0.95v0.95h-0.95zM383.0,123.6h0.95v0.95h-0.95zM334.1,135.1h0.95v0.95h-0.95zM382.0,126.4h0.95v0.95h-0.95zM374.3,126.4h0.95v0.95h-0.95zM344.2,137.9h0.95v0.95h-0.95zM366.3,126.2h0.95v0.95h-0.95zM365.5,126.4h0.95v0.95h-0.95zM356.5,132.2h0.95v0.95h-0.95zM362.9,124.9h0.95v0.95h-0.95zM367.9,130.0h0.95v0.95h-0.95zM383.4,128.3h0.95v0.95h-0.95zM322.1,140.9h0.95v0.95h-0.95zM364.9,132.0h0.95v0.95h-0.95zM371.4,122.1h0.95v0.95h-0.95zM368.4,136.1h0.95v0.95h-0.95zM377.7,137.0h0.95v0.95h-0.95zM370.3,123.1h0.95v0.95h-0.95zM333.6,140.7h0.95v0.95h-0.95zM369.8,134.5h0.95v0.95h-0.95zM363.9,131.7h0.95v0.95h-0.95zM361.8,129.6h0.95v0.95h-0.95zM341.9,138.0h0.95v0.95h-0.95zM361.7,126.3h0.95v0.95h-0.95zM327.3,132.3h0.95v0.95h-0.95zM380.2,117.8h0.95v0.95h-0.95zM383.3,131.9h0.95v0.95h-0.95zM350.5,132.8h0.95v0.95h-0.95zM376.4,136.5h0.95v0.95h-0.95zM321.2,143.6h0.95v0.95h-0.95zM393.6,82.1h0.95v0.95h-0.95zM386.5,82.4h0.95v0.95h-0.95zM386.2,82.3h0.95v0.95h-0.95zM385.9,83.5h0.95v0.95h-0.95zM356.0,82.6h0.95v0.95h-0.95zM380.3,81.6h0.95v0.95h-0.95zM359.1,81.9h0.95v0.95h-0.95zM350.8,82.3h0.95v0.95h-0.95zM358.4,81.7h0.95v0.95h-0.95zM342.6,82.4h0.95v0.95h-0.95zM358.0,82.3h0.95v0.95h-0.95zM392.8,81.5h0.95v0.95h-0.95zM330.1,82.2h0.95v0.95h-0.95zM338.6,81.6h0.95v0.95h-0.95zM368.4,83.4h0.95v0.95h-0.95zM403.7,82.0h0.95v0.95h-0.95zM383.8,83.4h0.95v0.95h-0.95zM381.6,81.8h0.95v0.95h-0.95zM391.0,83.5h0.95v0.95h-0.95zM355.6,81.9h0.95v0.95h-0.95zM387.9,83.1h0.95v0.95h-0.95zM383.3,81.9h0.95v0.95h-0.95zM328.5,82.8h0.95v0.95h-0.95zM392.2,81.9h0.95v0.95h-0.95zM363.5,81.6h0.95v0.95h-0.95zM343.7,81.5h0.95v0.95h-0.95zM347.8,82.2h0.95v0.95h-0.95zM359.0,81.5h0.95v0.95h-0.95zM400.9,81.7h0.95v0.95h-0.95zM404.0,83.5h0.95v0.95h-0.95zM391.3,81.8h0.95v0.95h-0.95zM306.7,97.3h0.95v0.95h-0.95zM303.6,99.6h0.95v0.95h-0.95zM304.5,120.3h0.95v0.95h-0.95zM316.6,89.1h0.95v0.95h-0.95zM313.5,94.5h0.95v0.95h-0.95zM316.2,117.4h0.95v0.95h-0.95zM309.7,96.1h0.95v0.95h-0.95zM302.6,98.7h0.95v0.95h-0.95zM302.5,105.9h0.95v0.95h-0.95zM312.9,101.4h0.95v0.95h-0.95zM305.1,90.2h0.95v0.95h-0.95zM307.2,98.2h0.95v0.95h-0.95zM352.7,76.3h0.95v0.95h-0.95zM360.3,79.8h0.95v0.95h-0.95zM343.8,74.0h0.95v0.95h-0.95zM384.2,77.1h0.95v0.95h-0.95zM397.4,72.8h0.95v0.95h-0.95zM382.2,73.8h0.95v0.95h-0.95zM369.8,80.2h0.95v0.95h-0.95zM397.2,72.9h0.95v0.95h-0.95zM367.2,80.4h0.95v0.95h-0.95zM335.9,77.2h0.95v0.95h-0.95zM370.9,72.8h0.95v0.95h-0.95zM384.6,76.4h0.95v0.95h-0.95zM355.3,73.9h0.95v0.95h-0.95zM351.9,72.5h0.95v0.95h-0.95zM337.8,72.1h0.95v0.95h-0.95zM360.3,79.0h0.95v0.95h-0.95zM423.5,102.1h0.95v0.95h-0.95zM414.1,137.0h0.95v0.95h-0.95zM415.5,128.5h0.95v0.95h-0.95zM418.5,139.8h0.95v0.95h-0.95zM420.2,109.3h0.95v0.95h-0.95zM419.1,92.9h0.95v0.95h-0.95zM420.9,103.3h0.95v0.95h-0.95zM411.4,82.9h0.95v0.95h-0.95zM416.9,93.3h0.95v0.95h-0.95zM413.3,125.7h0.95v0.95h-0.95zM415.9,118.6h0.95v0.95h-0.95zM414.7,133.7h0.95v0.95h-0.95zM412.1,142.8h0.95v0.95h-0.95zM421.4,145.5h0.95v0.95h-0.95zM411.3,78.9h0.95v0.95h-0.95zM420.7,95.8h0.95v0.95h-0.95zM420.0,143.2h0.95v0.95h-0.95zM417.6,97.3h0.95v0.95h-0.95zM414.3,139.2h0.95v0.95h-0.95zM413.5,91.6h0.95v0.95h-0.95zM412.7,124.0h0.95v0.95h-0.95zM420.1,146.0h0.95v0.95h-0.95zM415.7,84.3h0.95v0.95h-0.95zM413.6,90.5h0.95v0.95h-0.95zM415.1,135.2h0.95v0.95h-0.95zM416.2,141.0h0.95v0.95h-0.95zM416.4,126.0h0.95v0.95h-0.95zM418.4,115.1h0.95v0.95h-0.95zM419.1,130.4h0.95v0.95h-0.95zM411.0,146.4h0.95v0.95h-0.95zM418.8,107.2h0.95v0.95h-0.95zM420.8,107.4h0.95v0.95h-0.95zM413.0,135.3h0.95v0.95h-0.95zM412.2,78.8h0.95v0.95h-0.95zM412.8,143.7h0.95v0.95h-0.95zM413.7,131.0h0.95v0.95h-0.95zM413.9,141.0h0.95v0.95h-0.95zM411.2,91.2h0.95v0.95h-0.95zM414.6,95.4h0.95v0.95h-0.95zM415.3,129.0h0.95v0.95h-0.95zM414.0,120.6h0.95v0.95h-0.95zM417.7,144.1h0.95v0.95h-0.95zM413.8,128.4h0.95v0.95h-0.95zM414.0,142.4h0.95v0.95h-0.95zM416.2,132.8h0.95v0.95h-0.95zM414.6,121.8h0.95v0.95h-0.95zM412.8,142.6h0.95v0.95h-0.95zM414.1,119.0h0.95v0.95h-0.95zM416.3,128.2h0.95v0.95h-0.95zM417.2,134.1h0.95v0.95h-0.95zM416.8,109.3h0.95v0.95h-0.95zM423.9,140.7h0.95v0.95h-0.95zM415.2,116.2h0.95v0.95h-0.95zM411.6,125.2h0.95v0.95h-0.95zM417.6,87.7h0.95v0.95h-0.95zM412.7,78.2h0.95v0.95h-0.95zM416.0,144.4h0.95v0.95h-0.95zM419.0,86.2h0.95v0.95h-0.95zM412.0,134.2h0.95v0.95h-0.95zM414.9,117.0h0.95v0.95h-0.95zM421.4,143.2h0.95v0.95h-0.95zM414.9,102.7h0.95v0.95h-0.95zM414.6,90.9h0.95v0.95h-0.95zM422.5,101.7h0.95v0.95h-0.95zM411.2,85.6h0.95v0.95h-0.95zM411.0,126.0h0.95v0.95h-0.95zM421.3,79.2h0.95v0.95h-0.95zM413.2,88.1h0.95v0.95h-0.95zM416.5,137.0h0.95v0.95h-0.95zM411.2,125.4h0.95v0.95h-0.95zM412.9,128.8h0.95v0.95h-0.95zM421.2,134.8h0.95v0.95h-0.95zM421.6,108.7h0.95v0.95h-0.95zM417.7,142.8h0.95v0.95h-0.95zM413.9,116.8h0.95v0.95h-0.95zM416.3,92.2h0.95v0.95h-0.95zM416.5,137.0h0.95v0.95h-0.95zM415.2,83.9h0.95v0.95h-0.95zM415.8,120.0h0.95v0.95h-0.95zM413.9,131.5h0.95v0.95h-0.95zM420.5,133.0h0.95v0.95h-0.95zM416.9,78.9h0.95v0.95h-0.95zM415.9,126.1h0.95v0.95h-0.95zM418.7,99.2h0.95v0.95h-0.95zM414.0,137.8h0.95v0.95h-0.95zM426.3,128.2h0.95v0.95h-0.95zM414.9,134.7h0.95v0.95h-0.95zM415.5,115.6h0.95v0.95h-0.95zM419.0,118.4h0.95v0.95h-0.95zM418.6,82.5h0.95v0.95h-0.95zM411.9,79.5h0.95v0.95h-0.95zM412.5,86.9h0.95v0.95h-0.95zM411.4,146.3h0.95v0.95h-0.95zM419.8,124.2h0.95v0.95h-0.95zM417.8,105.7h0.95v0.95h-0.95zM415.1,138.5h0.95v0.95h-0.95zM412.9,128.1h0.95v0.95h-0.95zM416.7,78.2h0.95v0.95h-0.95zM414.2,144.4h0.95v0.95h-0.95z" fill="#111"/>
<path d="M337.9,403.4 L338.6,403.3 L339.4,403.3 L339.8,403.4 L340.2,403.8 L340.6,404.3 L340.9,405.0 L341.0,405.8 L341.0,406.2 L341.0,406.6 L340.9,407.4 L340.8,408.2 L340.7,409.0 L340.7,409.8 L340.7,410.6 L340.8,411.4 L340.8,412.2 L340.4,412.6 L339.8,412.8 L339.0,413.0 L338.6,413.0 L337.8,413.1 L337.0,413.0 L336.6,413.0 L335.8,412.8 L335.4,412.6 L334.9,412.2 L334.5,411.8 L334.2,411.4 L333.8,411.0 L333.4,410.5 L333.0,410.0 L332.6,409.4 L332.4,409.0 L332.2,408.5 L331.9,407.8 L331.8,407.4 L331.6,406.6 L331.6,405.8 L331.8,405.0 L332.0,404.6 L332.5,404.2 L333.0,404.0 L333.8,403.8 L334.2,403.8 L335.0,403.8 L335.8,403.7 L336.6,403.6 L337.4,403.5 L337.9,403.4Z" fill="none" stroke="#000" stroke-width="1.0"/>
<path d="M338.4,400.2 L339.0,400.1 L339.8,400.0 L340.4,400.2 L341.0,400.5 L341.4,400.9 L341.8,401.4 L342.0,401.8 L342.1,402.6 L342.2,403.4 L342.2,404.2 L342.2,404.6 L342.3,405.4 L342.3,406.2 L342.4,407.0 L342.5,407.8 L342.6,408.2 L343.0,408.6 L343.4,408.6 L343.9,408.2 L344.4,407.8 L344.9,407.4 L345.4,407.2 L346.2,407.0 L347.0,407.2 L347.4,407.6 L347.8,408.2 L348.0,408.6 L348.1,409.4 L347.9,410.2 L347.6,410.6 L347.1,411.0 L346.6,411.3 L346.2,411.6 L345.8,411.8 L345.2,412.2 L344.8,412.6 L344.4,413.0 L343.9,413.4 L343.4,413.8 L343.0,414.0 L342.3,414.2 L341.8,414.3 L341.0,414.3 L340.2,414.2 L339.8,414.2 L339.0,414.1 L338.2,414.1 L337.4,414.0 L336.6,414.0 L335.8,414.0 L335.1,413.8 L334.6,413.6 L334.2,413.4 L333.6,413.0 L333.0,412.7 L332.6,412.5 L331.8,412.3 L331.4,412.2 L330.6,411.9 L330.2,411.5 L330.0,411.0 L329.9,410.2 L330.0,409.4 L330.2,408.6 L330.3,408.2 L330.3,407.4 L330.4,406.6 L330.4,405.8 L330.5,405.0 L330.6,404.6 L331.0,403.9 L331.4,403.4 L331.8,403.2 L332.3,403.0 L333.0,402.8 L333.8,402.7 L334.6,402.7 L335.0,402.6 L335.8,402.4 L336.2,402.2 L336.7,401.8 L337.0,401.4 L337.4,400.9 L337.8,400.6 L338.4,400.2Z" fill="none" stroke="#000" stroke-width="1.0"/>
<path d="M337.1,399.0 L337.8,398.8 L338.6,398.7 L339.4,398.7 L340.2,398.8 L341.0,398.9 L341.4,399.1 L342.1,399.4 L342.6,399.7 L343.0,399.9 L343.6,400.2 L344.2,400.3 L345.0,400.4 L345.8,400.3 L346.6,400.2 L347.4,400.2 L348.2,400.4 L348.7,400.6 L349.0,401.0 L349.2,401.8 L349.0,402.6 L348.8,403.0 L348.4,403.4 L348.1,403.8 L347.8,404.2 L347.6,405.0 L347.8,405.4 L348.2,406.0 L348.5,406.6 L348.7,407.0 L349.0,407.8 L349.1,408.2 L349.3,409.0 L349.2,409.8 L349.0,410.5 L348.7,411.0 L348.4,411.4 L347.9,411.8 L347.4,412.1 L347.0,412.3 L346.6,412.6 L346.0,413.0 L345.5,413.4 L345.0,413.8 L344.6,414.1 L344.2,414.4 L343.8,414.6 L343.0,415.0 L342.6,415.1 L341.8,415.3 L341.2,415.4 L340.6,415.4 L340.2,415.4 L339.4,415.2 L338.6,415.1 L337.8,415.0 L337.4,415.0 L336.6,415.0 L335.8,415.0 L335.0,414.9 L334.2,414.7 L333.8,414.5 L333.2,414.2 L332.6,413.9 L332.2,413.8 L331.4,413.6 L330.6,413.4 L330.2,413.3 L329.6,413.0 L329.1,412.6 L328.9,412.2 L328.6,411.4 L328.6,411.0 L328.6,410.2 L328.6,409.8 L328.8,409.0 L328.9,408.2 L329.0,407.8 L329.2,407.0 L329.3,406.2 L329.4,405.5 L329.4,405.0 L329.5,404.2 L329.7,403.4 L329.9,403.0 L330.2,402.6 L330.7,402.2 L331.4,401.9 L332.0,401.8 L332.6,401.7 L333.4,401.6 L334.0,401.4 L334.6,401.1 L335.0,400.8 L335.4,400.4 L335.8,399.9 L336.2,399.5 L336.6,399.2 L337.1,399.0Z" fill="none" stroke="#000" stroke-width="1.0"/>
<path d="M336.1,397.4 L336.6,397.3 L337.4,397.3 L338.2,397.3 L339.0,397.4 L339.8,397.4 L340.6,397.4 L341.0,397.4 L341.8,397.5 L342.5,397.8 L343.0,398.1 L343.4,398.3 L344.1,398.6 L344.6,398.8 L345.4,398.9 L346.2,398.9 L347.0,398.8 L347.8,398.7 L348.6,398.6 L349.4,398.7 L350.2,398.9 L350.6,399.2 L351.0,399.5 L351.4,399.9 L351.8,400.4 L352.2,400.9 L352.5,401.4 L352.7,401.8 L353.0,402.3 L353.3,403.0 L353.4,403.4 L353.4,404.2 L353.3,404.6 L353.0,405.1 L352.6,405.5 L352.0,405.8 L351.4,406.2 L351.1,406.6 L351.0,407.0 L351.0,407.8 L351.0,408.2 L351.1,409.0 L351.0,409.8 L350.9,410.2 L350.6,410.8 L350.2,411.3 L349.8,411.7 L349.4,412.1 L349.0,412.4 L348.6,412.7 L348.0,413.0 L347.4,413.4 L347.0,413.6 L346.6,413.9 L346.1,414.2 L345.6,414.6 L345.0,415.0 L344.6,415.3 L344.2,415.5 L343.7,415.8 L343.0,416.1 L342.6,416.3 L342.0,416.6 L341.4,416.9 L341.0,417.0 L340.2,417.2 L339.4,417.0 L339.0,416.9 L338.4,416.6 L337.8,416.4 L337.0,416.3 L336.2,416.2 L335.8,416.2 L335.0,416.1 L334.2,416.0 L333.4,415.8 L333.0,415.7 L332.2,415.5 L331.8,415.3 L331.0,415.1 L330.6,415.0 L329.8,414.7 L329.4,414.6 L328.7,414.2 L328.2,413.8 L327.9,413.4 L327.7,413.0 L327.4,412.2 L327.4,411.8 L327.3,411.0 L327.3,410.2 L327.3,409.4 L327.4,409.0 L327.6,408.2 L327.8,407.6 L328.0,407.0 L328.1,406.2 L328.2,405.4 L328.1,404.6 L328.1,403.8 L328.0,403.0 L328.1,402.2 L328.3,401.8 L328.6,401.3 L329.0,400.9 L329.5,400.6 L330.2,400.4 L331.0,400.2 L331.4,400.2 L332.2,400.1 L333.0,399.8 L333.4,399.6 L333.8,399.3 L334.2,398.8 L334.6,398.4 L335.0,398.0 L335.4,397.7 L336.1,397.4Z" fill="none" stroke="#000" stroke-width="1.0"/>
<path d="M341.1,395.4 L341.8,395.3 L342.3,395.4 L343.0,395.7 L343.4,396.1 L343.8,396.4 L344.2,396.8 L344.6,397.1 L345.2,397.4 L345.8,397.5 L346.6,397.6 L347.4,397.5 L348.0,397.4 L348.6,397.3 L349.4,397.2 L350.2,397.3 L350.7,397.4 L351.4,397.7 L351.8,398.0 L352.2,398.3 L352.6,398.7 L353.0,399.0 L353.5,399.4 L354.2,399.8 L354.6,400.1 L355.0,400.3 L355.5,400.6 L355.9,401.0 L356.1,401.8 L356.0,402.6 L355.8,403.2 L355.7,403.8 L355.6,404.6 L355.5,405.4 L355.4,406.2 L355.4,407.0 L355.6,407.8 L355.8,408.5 L355.9,409.0 L355.9,409.8 L355.7,410.2 L355.3,410.6 L354.6,411.0 L354.2,411.2 L353.6,411.4 L353.0,411.6 L352.6,411.8 L351.9,412.2 L351.4,412.4 L351.0,412.7 L350.3,413.0 L349.8,413.3 L349.4,413.5 L348.8,413.8 L348.2,414.1 L347.8,414.4 L347.4,414.6 L346.8,415.0 L346.2,415.4 L345.8,415.7 L345.4,415.9 L345.0,416.2 L344.3,416.6 L343.8,417.0 L343.4,417.2 L343.0,417.5 L342.6,417.8 L342.1,418.2 L341.5,418.6 L341.0,418.9 L340.6,419.0 L339.8,419.1 L339.0,419.1 L338.6,418.9 L338.0,418.6 L337.4,418.2 L337.0,418.0 L336.5,417.8 L335.8,417.6 L335.0,417.5 L334.2,417.4 L333.5,417.4 L333.0,417.4 L332.2,417.3 L331.4,417.2 L331.0,417.0 L330.2,416.6 L329.8,416.4 L329.4,416.1 L328.9,415.8 L328.2,415.4 L327.8,415.1 L327.4,414.8 L327.0,414.3 L326.7,413.8 L326.5,413.4 L326.3,412.6 L326.2,412.2 L326.0,411.4 L325.9,410.6 L325.9,409.8 L326.0,409.0 L326.2,408.4 L326.4,407.8 L326.6,407.2 L326.7,406.6 L326.8,405.8 L326.7,405.0 L326.6,404.5 L326.4,403.8 L326.3,403.0 L326.4,402.2 L326.6,401.7 L327.0,401.0 L327.3,400.6 L327.6,400.2 L328.0,399.8 L328.5,399.4 L329.0,399.2 L329.5,399.0 L330.2,398.8 L330.9,398.6 L331.4,398.4 L331.8,398.2 L332.4,397.8 L332.8,397.4 L333.2,397.0 L333.6,396.6 L334.1,396.2 L334.6,395.9 L335.0,395.7 L335.8,395.5 L336.6,395.5 L337.4,395.6 L338.2,395.7 L339.0,395.8 L339.8,395.7 L340.6,395.5 L341.1,395.4Z" fill="none" stroke="#000" stroke-width="1.0"/>
<path d="M339.0,379.4 L339.0,379.4 L339.4,379.2 L339.8,379.3 L339.9,379.4 L340.2,379.8 L340.0,380.2 L339.8,380.3 L339.4,380.3 L339.1,380.2 L339.0,380.1 L338.8,379.8 L339.0,379.4ZM334.1,393.4 L334.6,393.2 L335.4,393.2 L336.2,393.3 L336.9,393.4 L337.4,393.5 L338.2,393.5 L339.0,393.5 L339.7,393.4 L340.2,393.3 L341.0,393.2 L341.8,393.2 L342.6,393.4 L343.0,393.5 L343.4,393.8 L344.0,394.2 L344.4,394.6 L344.9,395.0 L345.3,395.4 L345.8,395.7 L346.2,395.9 L347.0,396.0 L347.8,396.0 L348.6,395.9 L349.4,395.9 L350.2,395.9 L351.0,396.0 L351.5,396.2 L352.2,396.5 L352.6,396.8 L353.0,397.1 L353.4,397.5 L353.8,397.8 L354.5,398.2 L355.0,398.5 L355.4,398.6 L356.2,398.9 L356.6,399.0 L357.4,399.3 L357.8,399.4 L358.6,399.8 L359.0,400.1 L359.4,400.4 L359.8,400.8 L360.2,401.4 L360.5,401.8 L360.7,402.2 L361.0,403.0 L361.1,403.4 L361.1,404.2 L360.9,404.6 L360.2,404.9 L359.4,404.8 L358.6,404.7 L358.1,405.0 L357.8,405.7 L357.8,406.2 L357.8,406.6 L358.0,407.4 L358.2,408.2 L358.2,408.6 L358.3,409.4 L358.2,409.9 L358.0,410.6 L357.8,411.1 L357.4,411.7 L357.0,412.1 L356.6,412.4 L356.2,412.6 L355.4,413.0 L355.0,413.1 L354.3,413.4 L353.8,413.6 L353.1,413.8 L352.6,413.9 L351.8,414.1 L351.4,414.2 L350.6,414.4 L350.0,414.6 L349.4,414.9 L349.0,415.1 L348.4,415.4 L347.8,415.8 L347.4,416.0 L347.0,416.3 L346.5,416.6 L345.9,417.0 L345.4,417.3 L345.0,417.6 L344.6,417.9 L344.2,418.3 L343.8,418.7 L343.4,419.0 L342.9,419.4 L342.2,419.8 L341.8,420.0 L341.1,420.2 L340.6,420.3 L339.8,420.5 L339.4,420.6 L338.6,420.7 L337.8,420.7 L337.4,420.6 L336.6,420.3 L336.2,420.2 L335.4,419.8 L335.0,419.7 L334.2,419.5 L333.4,419.5 L332.6,419.5 L331.8,419.5 L331.2,419.4 L330.6,419.2 L330.2,419.0 L329.7,418.6 L329.3,418.2 L328.9,417.8 L328.5,417.4 L328.0,417.0 L327.5,416.6 L327.0,416.2 L326.6,415.8 L326.2,415.4 L325.9,415.0 L325.7,414.6 L325.4,413.9 L325.2,413.4 L325.0,412.8 L324.8,412.2 L324.6,411.7 L324.4,411.0 L324.2,410.2 L324.2,409.8 L324.2,409.4 L324.4,408.6 L324.6,408.2 L324.9,407.4 L325.0,406.9 L325.1,406.2 L325.1,405.4 L325.0,405.0 L324.8,404.2 L324.7,403.4 L324.8,402.6 L325.0,402.0 L325.3,401.4 L325.5,401.0 L325.8,400.6 L326.2,400.0 L326.6,399.4 L326.9,399.0 L327.3,398.6 L327.7,398.2 L328.2,397.8 L328.6,397.6 L329.0,397.4 L329.8,397.0 L330.2,396.8 L330.6,396.6 L331.1,396.2 L331.5,395.8 L331.9,395.4 L332.3,395.0 L332.7,394.6 L333.1,394.2 L333.5,393.8 L334.1,393.4ZM373.6,405.8 L373.8,405.7 L374.2,405.7 L374.3,405.8 L374.5,406.2 L374.2,406.6 L374.2,406.6 L373.8,406.6 L373.8,406.6 L373.4,406.2 L373.6,405.8Z" fill="none" stroke="#000" stroke-width="1.0"/>
<path d="M339.0,377.4 L339.4,377.4 L340.0,377.4 L340.6,377.6 L341.1,377.8 L341.6,378.2 L342.1,378.6 L342.5,379.0 L343.0,379.3 L343.4,379.5 L344.2,379.7 L345.0,379.7 L345.8,379.8 L346.2,379.9 L346.7,380.2 L347.0,380.7 L347.0,381.4 L346.9,381.8 L346.6,382.4 L346.2,382.9 L345.8,383.2 L345.4,383.4 L344.7,383.8 L344.2,384.1 L343.8,384.4 L343.4,385.0 L343.2,385.4 L343.0,385.8 L342.6,386.4 L342.2,386.8 L341.8,387.0 L341.2,387.0 L340.9,386.6 L340.7,385.8 L340.8,385.0 L340.8,384.2 L340.6,383.5 L340.2,383.1 L339.8,382.9 L339.1,382.6 L338.6,382.4 L338.0,382.2 L337.4,381.8 L337.1,381.4 L336.8,381.0 L336.6,380.2 L336.7,379.4 L337.0,378.6 L337.3,378.2 L337.8,377.8 L338.2,377.6 L339.0,377.4ZM332.6,390.6 L333.0,390.3 L333.8,390.3 L334.4,390.6 L335.0,391.0 L335.4,391.2 L335.9,391.4 L336.6,391.6 L337.4,391.8 L338.2,391.8 L339.0,391.7 L339.8,391.6 L340.6,391.6 L341.4,391.7 L341.8,391.9 L342.6,392.2 L343.0,392.4 L343.4,392.6 L344.0,393.0 L344.5,393.4 L344.9,393.8 L345.4,394.2 L345.8,394.5 L346.2,394.7 L346.9,395.0 L347.4,395.1 L348.2,395.1 L349.0,395.1 L349.8,395.1 L350.6,395.2 L351.4,395.3 L351.8,395.4 L352.5,395.8 L353.0,396.2 L353.4,396.5 L353.8,396.8 L354.2,397.1 L354.7,397.4 L355.4,397.7 L355.8,397.9 L356.6,398.1 L357.0,398.2 L357.8,398.4 L358.5,398.6 L359.0,398.8 L359.6,399.0 L360.2,399.3 L360.6,399.7 L361.0,400.0 L361.4,400.5 L361.8,400.9 L362.1,401.4 L362.4,401.8 L362.6,402.2 L362.9,403.0 L363.0,403.4 L363.2,404.2 L363.3,405.0 L363.4,405.4 L363.4,406.1 L363.2,406.6 L362.8,407.0 L362.3,407.4 L361.8,407.7 L361.4,407.9 L360.8,408.2 L360.3,408.6 L360.0,409.0 L359.8,409.4 L359.5,410.2 L359.3,410.6 L359.0,411.2 L358.6,411.8 L358.3,412.2 L357.9,412.6 L357.4,413.0 L357.0,413.2 L356.6,413.4 L355.8,413.8 L355.4,413.9 L354.8,414.2 L354.2,414.5 L353.8,414.6 L353.0,414.9 L352.3,415.0 L351.8,415.1 L351.0,415.2 L350.3,415.4 L349.8,415.6 L349.3,415.8 L348.6,416.2 L348.2,416.4 L347.8,416.7 L347.3,417.0 L346.6,417.4 L346.2,417.7 L345.8,418.0 L345.4,418.3 L345.0,418.7 L344.6,419.1 L344.2,419.5 L343.8,419.8 L343.2,420.2 L342.6,420.5 L342.2,420.6 L341.4,420.9 L340.9,421.0 L340.2,421.2 L339.4,421.4 L339.0,421.4 L338.2,421.6 L337.4,421.7 L336.6,421.6 L335.8,421.5 L335.3,421.4 L334.6,421.2 L333.8,421.0 L333.4,421.0 L332.6,420.9 L331.8,420.8 L331.0,420.7 L330.6,420.5 L329.9,420.2 L329.4,419.8 L329.0,419.5 L328.6,419.0 L328.2,418.6 L327.8,418.2 L327.4,417.8 L327.0,417.5 L326.6,417.1 L326.2,416.8 L325.8,416.3 L325.4,415.8 L325.2,415.4 L324.9,415.0 L324.6,414.2 L324.4,413.8 L324.2,413.2 L324.0,412.6 L323.8,412.2 L323.5,411.4 L323.4,411.0 L323.2,410.2 L323.2,409.4 L323.4,408.6 L323.5,408.2 L323.8,407.4 L323.9,407.0 L324.0,406.2 L324.0,405.4 L323.9,404.6 L323.9,403.8 L323.9,403.0 L324.0,402.2 L324.2,401.8 L324.6,401.0 L324.9,400.6 L325.1,400.2 L325.4,399.8 L325.8,399.2 L326.2,398.6 L326.5,398.2 L326.8,397.8 L327.1,397.4 L327.5,397.0 L327.9,396.6 L328.4,396.2 L329.0,395.8 L329.4,395.5 L329.8,395.2 L330.2,394.9 L330.6,394.6 L331.0,394.2 L331.4,393.7 L331.8,393.0 L331.9,392.6 L332.1,391.8 L332.2,391.4 L332.6,390.6ZM371.8,404.2 L372.6,404.0 L373.4,403.8 L374.2,403.8 L375.0,404.0 L375.5,404.2 L376.1,404.6 L376.4,405.0 L376.6,405.4 L376.7,406.2 L376.6,406.8 L376.3,407.4 L376.0,407.8 L375.6,408.2 L375.0,408.5 L374.3,408.6 L374.1,408.6 L373.4,408.5 L372.7,408.2 L372.2,407.9 L371.8,407.6 L371.4,407.4 L370.8,407.0 L370.2,406.8 L369.4,406.8 L368.6,406.9 L368.2,407.1 L367.4,407.2 L366.6,407.1 L366.2,406.9 L365.8,406.2 L365.8,406.2 L366.2,405.6 L366.6,405.3 L367.1,405.0 L367.8,404.8 L368.6,404.7 L369.4,404.7 L370.2,404.7 L370.6,404.6 L371.4,404.4 L371.8,404.2Z" fill="none" stroke="#000" stroke-width="1.0"/>
<path d="M339.5,376.2 L340.2,376.2 L340.6,376.2 L341.4,376.5 L341.8,376.7 L342.2,377.0 L342.7,377.4 L343.2,377.8 L343.8,378.1 L344.2,378.3 L345.0,378.4 L345.8,378.5 L346.6,378.5 L347.3,378.6 L347.8,378.7 L348.4,379.0 L348.8,379.4 L349.0,380.0 L349.0,380.3 L348.8,381.0 L348.6,381.5 L348.3,382.2 L348.2,382.6 L347.9,383.4 L347.7,383.8 L347.4,384.3 L347.0,384.8 L346.6,385.1 L346.2,385.4 L345.6,385.8 L345.2,386.2 L344.9,386.6 L344.6,387.0 L344.2,387.5 L343.8,387.9 L343.4,388.4 L343.0,388.8 L342.6,389.3 L342.4,389.8 L342.6,390.4 L343.0,390.9 L343.4,391.3 L343.8,391.6 L344.2,392.0 L344.6,392.3 L345.0,392.7 L345.4,393.1 L345.8,393.4 L346.4,393.8 L347.0,394.1 L347.4,394.2 L348.2,394.3 L349.0,394.4 L349.8,394.4 L350.6,394.4 L351.4,394.6 L351.8,394.7 L352.5,395.0 L353.0,395.3 L353.4,395.6 L353.8,395.9 L354.2,396.2 L354.7,396.6 L355.4,397.0 L355.8,397.1 L356.6,397.4 L357.0,397.5 L357.8,397.6 L358.6,397.7 L359.0,397.8 L359.8,398.0 L360.2,398.2 L361.0,398.6 L361.4,398.9 L361.8,399.2 L362.2,399.5 L362.6,399.8 L363.1,400.2 L363.8,400.6 L364.2,400.8 L365.0,401.0 L365.4,401.1 L366.1,401.4 L366.6,401.8 L367.0,402.1 L367.4,402.4 L367.9,402.6 L368.6,402.8 L369.4,403.0 L370.2,403.0 L371.0,402.9 L371.8,402.8 L372.6,402.8 L373.4,402.8 L374.2,402.8 L375.0,403.0 L375.4,403.1 L376.1,403.4 L376.6,403.7 L377.0,404.0 L377.4,404.4 L377.8,405.0 L377.9,405.4 L377.9,406.2 L377.8,406.9 L377.6,407.4 L377.4,407.9 L377.0,408.5 L376.6,409.0 L376.2,409.3 L375.8,409.5 L375.0,409.7 L374.2,409.7 L373.4,409.6 L372.7,409.4 L372.2,409.2 L371.8,409.0 L371.0,408.6 L370.6,408.5 L369.8,408.4 L369.0,408.4 L368.2,408.6 L367.8,408.7 L367.0,408.9 L366.2,408.9 L365.4,408.9 L364.6,408.9 L363.8,408.9 L363.4,409.1 L362.6,409.4 L362.2,409.6 L361.8,409.8 L361.2,410.2 L360.8,410.6 L360.4,411.0 L360.1,411.4 L359.8,411.8 L359.4,412.3 L359.0,412.7 L358.6,413.1 L358.2,413.4 L357.5,413.8 L357.0,414.0 L356.6,414.2 L355.8,414.6 L355.4,414.7 L354.8,415.0 L354.2,415.3 L353.8,415.4 L353.0,415.7 L352.5,415.8 L351.8,415.9 L351.0,416.1 L350.5,416.2 L349.8,416.5 L349.4,416.7 L348.8,417.0 L348.2,417.3 L347.8,417.6 L347.4,417.8 L346.7,418.2 L346.2,418.6 L345.8,418.9 L345.4,419.3 L345.0,419.8 L344.6,420.2 L344.2,420.5 L343.8,420.8 L343.3,421.0 L342.6,421.2 L342.0,421.4 L341.4,421.5 L340.6,421.7 L340.2,421.8 L339.4,422.0 L338.6,422.2 L338.2,422.3 L337.4,422.5 L336.6,422.5 L335.8,422.5 L335.0,422.4 L334.2,422.3 L333.8,422.2 L333.0,422.0 L332.2,421.9 L331.7,421.8 L331.0,421.7 L330.2,421.4 L329.8,421.2 L329.4,421.0 L328.9,420.6 L328.4,420.2 L328.0,419.8 L327.6,419.4 L327.2,419.0 L326.8,418.6 L326.4,418.2 L325.9,417.8 L325.6,417.4 L325.2,417.0 L324.9,416.6 L324.6,416.1 L324.2,415.4 L324.0,415.0 L323.8,414.5 L323.5,413.8 L323.3,413.4 L323.0,412.6 L322.9,412.2 L322.6,411.4 L322.5,411.0 L322.4,410.2 L322.4,409.4 L322.6,408.6 L322.6,408.2 L322.8,407.4 L323.0,406.6 L323.0,406.2 L323.1,405.4 L323.0,404.6 L323.0,403.8 L323.0,403.0 L323.2,402.2 L323.4,401.6 L323.7,401.0 L323.9,400.6 L324.2,400.2 L324.6,399.6 L325.0,399.0 L325.2,398.6 L325.5,398.2 L325.8,397.7 L326.2,397.1 L326.6,396.6 L326.9,396.2 L327.2,395.8 L327.5,395.4 L327.9,395.0 L328.3,394.6 L328.9,394.2 L329.4,393.8 L329.8,393.4 L330.2,393.0 L330.5,392.6 L330.6,392.2 L330.9,391.4 L331.0,391.0 L331.3,390.2 L331.5,389.8 L331.8,389.4 L332.2,389.0 L332.7,388.6 L333.4,388.3 L334.2,388.2 L335.0,388.5 L335.4,388.7 L336.2,388.9 L337.0,388.6 L337.4,388.2 L337.8,387.8 L338.0,387.4 L338.2,386.9 L338.3,386.2 L338.2,385.4 L337.8,385.0 L337.4,385.0 L336.9,385.0 L336.2,385.1 L335.5,385.0 L335.2,384.6 L335.0,383.8 L335.1,383.0 L335.2,382.2 L335.2,381.4 L335.2,380.6 L335.2,379.8 L335.4,379.0 L335.5,378.6 L335.8,378.1 L336.2,377.6 L336.6,377.2 L337.0,377.0 L337.8,376.6 L338.2,376.5 L339.0,376.3 L339.5,376.2Z" fill="none" stroke="#000" stroke-width="1.0"/>
<path d="M339.3,374.6 L339.8,374.5 L340.6,374.4 L341.4,374.5 L342.2,374.6 L342.6,374.7 L343.4,375.0 L343.8,375.3 L344.2,375.6 L344.6,375.9 L345.1,376.2 L345.8,376.4 L346.6,376.5 L347.4,376.6 L347.8,376.7 L348.6,376.9 L349.0,377.1 L349.8,377.4 L350.2,377.6 L350.6,377.8 L351.2,378.2 L351.6,378.6 L351.9,379.0 L352.1,379.8 L352.0,380.6 L351.8,381.2 L351.4,381.8 L351.1,382.2 L350.7,382.6 L350.5,383.0 L350.2,383.6 L350.0,384.2 L349.8,384.8 L349.6,385.4 L349.4,386.1 L349.2,386.6 L349.0,387.0 L348.6,387.6 L348.2,388.2 L347.9,388.6 L347.5,389.0 L347.2,389.4 L346.8,389.8 L346.4,390.2 L346.2,390.7 L346.2,391.4 L346.4,391.8 L346.7,392.2 L347.2,392.6 L347.8,392.9 L348.2,393.1 L349.0,393.2 L349.8,393.3 L350.6,393.3 L351.1,393.4 L351.8,393.6 L352.4,393.8 L353.0,394.2 L353.4,394.4 L353.8,394.7 L354.2,395.1 L354.7,395.4 L355.3,395.8 L355.8,396.0 L356.2,396.2 L357.0,396.4 L357.8,396.5 L358.5,396.6 L359.0,396.7 L359.8,396.9 L360.3,397.0 L361.0,397.3 L361.4,397.5 L362.0,397.8 L362.6,398.1 L363.0,398.4 L363.5,398.6 L364.2,398.8 L365.0,398.9 L365.8,398.9 L366.6,398.9 L367.4,398.9 L368.1,399.0 L368.6,399.1 L369.3,399.4 L369.8,399.7 L370.2,400.0 L370.6,400.3 L371.0,400.6 L371.8,401.0 L372.2,401.1 L373.0,401.4 L373.4,401.5 L374.2,401.7 L374.7,401.8 L375.4,402.0 L376.1,402.2 L376.6,402.4 L377.0,402.6 L377.8,403.0 L378.2,403.3 L378.6,403.7 L379.0,404.2 L379.2,404.6 L379.4,405.4 L379.4,406.2 L379.2,407.0 L379.0,407.6 L378.8,408.2 L378.6,408.7 L378.2,409.4 L378.0,409.8 L377.7,410.2 L377.2,410.6 L376.6,410.9 L376.2,411.0 L375.4,411.1 L374.6,411.1 L373.8,411.0 L373.4,411.0 L372.6,410.8 L371.8,410.6 L371.4,410.5 L370.6,410.3 L369.8,410.2 L369.0,410.3 L368.2,410.6 L367.8,410.7 L367.1,411.0 L366.6,411.2 L366.0,411.4 L365.4,411.5 L364.6,411.6 L363.8,411.7 L363.1,411.8 L362.6,411.9 L361.8,412.2 L361.4,412.4 L361.0,412.6 L360.5,413.0 L359.9,413.4 L359.4,413.8 L359.0,414.0 L358.6,414.3 L357.9,414.6 L357.4,414.8 L357.0,415.0 L356.2,415.4 L355.8,415.5 L355.2,415.8 L354.6,416.1 L354.2,416.3 L353.4,416.6 L353.0,416.7 L352.2,416.9 L351.8,417.0 L351.0,417.3 L350.6,417.4 L349.8,417.8 L349.4,418.0 L348.9,418.2 L348.2,418.5 L347.8,418.7 L347.3,419.0 L346.7,419.4 L346.3,419.8 L345.9,420.2 L345.5,420.6 L345.1,421.0 L344.6,421.4 L344.2,421.7 L343.8,421.9 L343.0,422.2 L342.6,422.2 L341.8,422.4 L341.0,422.5 L340.5,422.6 L339.8,422.8 L339.0,423.0 L338.6,423.1 L337.8,423.3 L337.4,423.4 L336.6,423.6 L335.8,423.6 L335.0,423.6 L334.2,423.4 L333.8,423.4 L333.0,423.2 L332.2,423.0 L331.8,423.0 L331.0,422.8 L330.5,422.6 L329.8,422.4 L329.4,422.2 L328.7,421.8 L328.2,421.4 L327.8,421.1 L327.4,420.7 L327.0,420.4 L326.6,420.0 L326.2,419.7 L325.8,419.3 L325.4,419.0 L325.0,418.6 L324.6,418.1 L324.2,417.6 L323.8,417.0 L323.6,416.6 L323.4,416.2 L323.0,415.6 L322.7,415.0 L322.5,414.6 L322.2,414.0 L322.0,413.4 L321.8,412.8 L321.7,412.2 L321.5,411.4 L321.5,410.6 L321.5,409.8 L321.5,409.0 L321.5,408.2 L321.6,407.4 L321.6,406.6 L321.6,405.8 L321.6,405.0 L321.6,404.2 L321.6,403.4 L321.7,402.6 L321.8,402.2 L322.1,401.4 L322.3,401.0 L322.6,400.4 L323.0,399.8 L323.2,399.4 L323.5,399.0 L323.8,398.6 L324.2,398.0 L324.6,397.4 L324.9,397.0 L325.2,396.6 L325.4,396.2 L325.8,395.7 L326.2,395.1 L326.5,394.6 L326.8,394.2 L327.2,393.8 L327.6,393.4 L328.0,393.0 L328.5,392.6 L328.8,392.2 L329.2,391.8 L329.4,391.4 L329.8,390.6 L329.9,390.2 L330.2,389.6 L330.5,389.0 L330.8,388.6 L331.1,388.2 L331.5,387.8 L331.8,387.4 L332.2,387.0 L332.6,386.3 L332.8,385.8 L333.0,385.0 L333.1,384.6 L333.2,383.8 L333.4,383.0 L333.5,382.6 L333.6,381.8 L333.7,381.0 L333.8,380.2 L333.8,379.4 L333.8,379.0 L334.0,378.2 L334.2,377.7 L334.6,377.0 L334.9,376.6 L335.4,376.2 L335.8,375.9 L336.2,375.6 L336.6,375.4 L337.4,375.1 L337.8,375.0 L338.6,374.8 L339.3,374.6Z" fill="none" stroke="#000" stroke-width="1.0"/>
<path d="M344.7,371.4 L345.4,371.3 L345.8,371.4 L346.5,371.8 L347.0,372.2 L347.4,372.5 L347.8,372.8 L348.2,373.1 L348.6,373.4 L349.2,373.8 L349.8,374.2 L350.2,374.5 L350.6,374.8 L351.0,375.0 L351.8,375.4 L352.2,375.5 L352.8,375.8 L353.3,376.2 L353.5,376.6 L353.8,377.2 L353.9,377.8 L354.1,378.6 L354.2,379.4 L354.3,379.8 L354.4,380.6 L354.5,381.4 L354.6,382.2 L354.4,383.0 L354.2,383.5 L353.8,384.1 L353.4,384.6 L353.1,385.0 L352.8,385.4 L352.6,385.9 L352.3,386.6 L352.2,387.1 L352.0,387.8 L351.8,388.6 L351.7,389.0 L351.4,389.8 L351.6,390.6 L351.9,391.0 L352.4,391.4 L352.8,391.8 L353.3,392.2 L353.7,392.6 L354.2,393.0 L354.6,393.4 L355.0,393.7 L355.4,394.0 L355.8,394.2 L356.6,394.5 L357.0,394.7 L357.8,394.8 L358.6,394.9 L359.0,395.0 L359.8,395.2 L360.2,395.4 L361.0,395.7 L361.4,395.9 L362.0,396.2 L362.6,396.5 L363.0,396.6 L363.8,396.9 L364.6,397.0 L365.4,397.0 L366.2,396.9 L367.0,396.9 L367.8,396.9 L368.4,397.0 L369.0,397.1 L369.8,397.2 L370.6,397.4 L371.0,397.5 L371.8,397.8 L372.2,398.0 L372.6,398.3 L373.0,398.6 L373.5,399.0 L374.0,399.4 L374.6,399.8 L375.0,400.0 L375.4,400.2 L376.2,400.6 L376.6,400.7 L377.3,401.0 L377.8,401.2 L378.4,401.4 L379.0,401.6 L379.4,401.8 L380.1,402.2 L380.5,402.6 L380.9,403.0 L381.1,403.4 L381.4,404.2 L381.4,404.6 L381.4,405.4 L381.4,405.8 L381.2,406.6 L381.0,407.4 L380.9,407.8 L380.7,408.6 L380.5,409.0 L380.3,409.8 L380.1,410.2 L379.8,410.9 L379.5,411.4 L379.1,411.8 L378.7,412.2 L378.2,412.5 L377.8,412.7 L377.0,412.8 L376.2,412.9 L375.4,412.8 L374.6,412.8 L373.8,412.8 L373.0,412.8 L372.2,412.8 L371.4,412.8 L370.6,412.8 L369.8,412.9 L369.4,413.0 L368.6,413.2 L367.9,413.4 L367.4,413.6 L366.7,413.8 L366.2,413.9 L365.4,414.1 L364.6,414.2 L364.2,414.2 L363.4,414.3 L362.6,414.4 L361.8,414.5 L361.4,414.6 L360.6,414.9 L360.2,415.0 L359.4,415.3 L359.0,415.5 L358.2,415.8 L357.8,416.0 L357.2,416.2 L356.6,416.5 L356.2,416.7 L355.5,417.0 L355.0,417.3 L354.6,417.4 L353.8,417.8 L353.4,418.0 L352.9,418.2 L352.2,418.5 L351.8,418.7 L351.1,419.0 L350.6,419.2 L350.2,419.4 L349.4,419.7 L349.0,419.8 L348.2,420.1 L347.8,420.3 L347.3,420.6 L346.9,421.0 L346.4,421.4 L346.0,421.8 L345.6,422.2 L345.2,422.6 L344.6,423.0 L344.2,423.3 L343.8,423.4 L343.0,423.7 L342.6,423.8 L341.8,423.9 L341.0,424.0 L340.2,424.1 L339.7,424.2 L339.0,424.4 L338.2,424.6 L337.8,424.6 L337.0,424.8 L336.2,424.8 L335.4,424.8 L334.6,424.8 L333.8,424.7 L333.2,424.6 L332.6,424.5 L331.8,424.3 L331.4,424.2 L330.6,423.9 L330.2,423.8 L329.4,423.5 L329.0,423.4 L328.3,423.0 L327.8,422.7 L327.4,422.4 L327.0,422.1 L326.6,421.8 L326.1,421.4 L325.6,421.0 L325.1,420.6 L324.6,420.2 L324.2,419.8 L323.8,419.4 L323.4,419.0 L323.1,418.6 L322.8,418.2 L322.6,417.8 L322.2,417.3 L321.8,416.6 L321.5,416.2 L321.3,415.8 L321.0,415.2 L320.7,414.6 L320.6,414.2 L320.4,413.4 L320.2,412.6 L320.2,412.2 L320.2,411.4 L320.2,410.6 L320.2,409.8 L320.1,409.0 L320.0,408.2 L319.9,407.4 L319.8,407.0 L319.6,406.2 L319.5,405.4 L319.4,404.8 L319.4,404.4 L319.5,403.8 L319.6,403.0 L319.8,402.4 L320.0,401.8 L320.2,401.3 L320.5,400.6 L320.7,400.2 L321.0,399.4 L321.2,399.0 L321.4,398.6 L321.8,397.8 L322.1,397.4 L322.4,397.0 L322.8,396.6 L323.2,396.2 L323.6,395.8 L324.0,395.4 L324.3,395.0 L324.6,394.6 L325.0,394.1 L325.4,393.5 L325.8,393.0 L326.1,392.6 L326.4,392.2 L326.7,391.8 L327.0,391.4 L327.4,390.8 L327.7,390.2 L327.9,389.8 L328.2,389.2 L328.5,388.6 L328.8,388.2 L329.1,387.8 L329.4,387.3 L329.8,386.8 L330.2,386.2 L330.4,385.8 L330.7,385.4 L331.0,384.6 L331.1,384.2 L331.3,383.4 L331.5,383.0 L331.7,382.2 L331.8,381.7 L331.9,381.0 L331.9,380.2 L331.9,379.4 L331.9,378.6 L331.9,377.8 L332.1,377.0 L332.2,376.6 L332.6,375.8 L332.9,375.4 L333.2,375.0 L333.6,374.6 L334.0,374.2 L334.5,373.8 L335.0,373.5 L335.4,373.3 L336.0,373.0 L336.6,372.8 L337.2,372.6 L337.8,372.5 L338.6,372.4 L339.4,372.3 L340.2,372.3 L341.0,372.4 L341.8,372.3 L342.6,372.2 L343.0,372.1 L343.7,371.8 L344.2,371.6 L344.7,371.4Z" fill="none" stroke="#000" stroke-width="1.0"/>
<path d="M343.9,368.2 L344.6,367.9 L345.4,367.8 L346.2,367.9 L346.8,368.2 L347.3,368.6 L347.8,369.0 L348.2,369.4 L348.6,369.7 L349.0,370.0 L349.4,370.2 L350.2,370.5 L350.6,370.6 L351.4,370.9 L351.8,371.0 L352.6,371.3 L353.0,371.5 L353.5,371.8 L354.1,372.2 L354.6,372.6 L355.0,372.9 L355.4,373.3 L355.8,373.7 L356.2,374.2 L356.6,374.6 L356.9,375.0 L357.1,375.4 L357.4,375.9 L357.7,376.6 L357.8,377.2 L357.9,377.8 L358.1,378.6 L358.2,379.0 L358.5,379.8 L358.7,380.2 L358.9,381.0 L358.8,381.8 L358.6,382.6 L358.4,383.0 L358.2,383.4 L357.8,384.0 L357.4,384.6 L357.1,385.0 L356.8,385.4 L356.5,385.8 L356.2,386.2 L355.8,387.0 L355.7,387.4 L355.7,388.2 L355.8,388.6 L356.1,389.4 L356.4,389.8 L356.7,390.2 L357.1,390.6 L357.7,391.0 L358.2,391.3 L358.6,391.5 L359.1,391.8 L359.8,392.1 L360.2,392.3 L360.6,392.6 L361.2,393.0 L361.7,393.4 L362.2,393.7 L362.6,393.9 L363.3,394.2 L363.8,394.3 L364.6,394.4 L365.4,394.4 L366.2,394.5 L366.6,394.6 L367.4,394.8 L368.0,395.0 L368.6,395.1 L369.4,395.3 L369.8,395.4 L370.6,395.6 L371.4,395.7 L372.0,395.8 L372.6,395.9 L373.4,396.2 L373.8,396.3 L374.6,396.6 L375.0,396.7 L375.7,397.0 L376.2,397.2 L376.8,397.4 L377.4,397.7 L377.8,397.8 L378.6,398.1 L379.0,398.3 L379.8,398.6 L380.2,398.7 L380.8,399.0 L381.4,399.4 L381.8,399.7 L382.2,400.1 L382.6,400.5 L383.0,401.0 L383.2,401.4 L383.5,401.8 L383.8,402.4 L384.1,403.0 L384.2,403.4 L384.3,404.2 L384.3,405.0 L384.2,405.8 L384.1,406.2 L384.0,407.0 L383.8,407.7 L383.7,408.2 L383.5,409.0 L383.4,409.5 L383.2,410.2 L383.0,410.8 L382.7,411.4 L382.5,411.8 L382.1,412.2 L381.7,412.6 L381.3,413.0 L380.8,413.4 L380.2,413.8 L379.8,414.1 L379.4,414.3 L378.6,414.6 L378.2,414.6 L377.4,414.7 L376.6,414.8 L375.8,414.8 L375.0,414.9 L374.2,414.9 L373.6,415.0 L373.0,415.1 L372.2,415.2 L371.4,415.3 L370.6,415.4 L370.2,415.4 L369.4,415.5 L368.6,415.6 L367.8,415.8 L367.4,415.9 L366.6,416.1 L366.1,416.2 L365.4,416.4 L364.6,416.5 L364.0,416.6 L363.4,416.7 L362.6,416.7 L361.8,416.7 L361.0,416.8 L360.2,416.9 L359.8,417.0 L359.0,417.3 L358.6,417.5 L358.0,417.8 L357.4,418.1 L357.0,418.4 L356.5,418.6 L355.8,418.9 L355.4,419.1 L354.8,419.4 L354.2,419.7 L353.8,419.9 L353.2,420.2 L352.6,420.6 L352.2,420.8 L351.8,421.0 L351.0,421.4 L350.6,421.5 L349.8,421.7 L349.4,421.9 L348.6,422.2 L348.2,422.4 L347.8,422.6 L347.4,423.0 L346.9,423.4 L346.5,423.8 L346.0,424.2 L345.6,424.6 L345.0,425.0 L344.6,425.3 L344.2,425.5 L343.7,425.8 L343.0,426.1 L342.5,426.2 L341.8,426.3 L341.0,426.4 L340.2,426.5 L339.4,426.5 L338.6,426.6 L337.8,426.6 L337.0,426.5 L336.2,426.5 L335.4,426.4 L334.6,426.4 L333.8,426.3 L333.1,426.2 L332.6,426.1 L331.8,425.9 L331.4,425.8 L330.6,425.6 L329.9,425.4 L329.4,425.3 L328.6,425.1 L328.2,424.9 L327.5,424.6 L327.0,424.3 L326.6,424.1 L326.1,423.8 L325.6,423.4 L325.0,423.0 L324.6,422.7 L324.2,422.4 L323.8,422.1 L323.4,421.8 L322.9,421.4 L322.5,421.0 L322.2,420.6 L321.8,420.2 L321.4,419.7 L321.0,419.2 L320.6,418.6 L320.3,418.2 L320.1,417.8 L319.8,417.2 L319.5,416.6 L319.3,416.2 L319.0,415.4 L318.8,415.0 L318.6,414.5 L318.4,413.8 L318.2,413.2 L318.1,412.6 L318.0,411.8 L318.0,411.0 L317.9,410.2 L317.8,409.4 L317.7,409.0 L317.5,408.2 L317.3,407.8 L317.1,407.0 L317.0,406.6 L316.9,405.8 L316.9,405.0 L317.0,404.2 L317.1,403.8 L317.3,403.0 L317.5,402.6 L317.8,401.8 L318.0,401.4 L318.2,400.9 L318.5,400.2 L318.6,399.8 L318.9,399.0 L319.0,398.6 L319.2,397.8 L319.4,397.3 L319.7,396.6 L319.9,396.2 L320.2,395.7 L320.6,395.2 L321.0,394.8 L321.4,394.5 L321.8,394.1 L322.2,393.8 L322.6,393.4 L323.0,393.0 L323.4,392.5 L323.8,392.0 L324.2,391.4 L324.5,391.0 L324.7,390.6 L325.0,390.0 L325.2,389.4 L325.4,388.6 L325.5,388.2 L325.7,387.4 L325.9,387.0 L326.2,386.2 L326.4,385.8 L326.6,385.4 L326.9,384.6 L327.0,384.2 L327.2,383.4 L327.3,382.6 L327.4,381.9 L327.5,381.4 L327.6,380.6 L327.8,379.9 L327.9,379.4 L328.1,378.6 L328.2,378.0 L328.3,377.4 L328.3,376.6 L328.3,375.8 L328.4,375.0 L328.6,374.3 L328.9,373.8 L329.3,373.4 L329.8,373.0 L330.2,372.8 L330.6,372.6 L331.4,372.2 L331.8,372.1 L332.4,371.8 L333.0,371.5 L333.4,371.3 L334.0,371.0 L334.6,370.7 L335.0,370.4 L335.4,370.2 L336.2,369.8 L336.6,369.6 L337.2,369.4 L337.8,369.3 L338.6,369.2 L339.4,369.1 L340.2,369.1 L341.0,369.1 L341.8,369.0 L342.2,368.9 L343.0,368.6 L343.4,368.4 L343.9,368.2Z" fill="none" stroke="#000" stroke-width="1.0"/>
<path d="M342.2,365.0 L343.0,364.8 L343.8,364.8 L344.6,364.8 L345.4,364.9 L346.2,365.0 L346.6,365.0 L347.4,365.2 L348.2,365.4 L348.6,365.5 L349.4,365.7 L350.0,365.8 L350.6,365.9 L351.4,366.1 L351.8,366.2 L352.6,366.6 L353.0,366.8 L353.4,367.0 L354.1,367.4 L354.6,367.7 L355.0,367.9 L355.5,368.2 L356.2,368.6 L356.6,368.9 L357.0,369.2 L357.4,369.6 L357.8,370.1 L358.1,370.6 L358.3,371.0 L358.6,371.4 L359.0,372.0 L359.4,372.5 L359.7,373.0 L360.1,373.4 L360.4,373.8 L360.6,374.2 L361.0,374.7 L361.4,375.4 L361.7,375.8 L361.9,376.2 L362.2,376.7 L362.5,377.4 L362.7,377.8 L362.8,378.6 L362.9,379.4 L362.8,380.2 L362.6,381.0 L362.5,381.4 L362.3,382.2 L362.1,382.6 L361.8,383.4 L361.7,383.8 L361.4,384.6 L361.3,385.0 L361.1,385.8 L361.1,386.6 L361.2,387.4 L361.4,387.8 L361.8,388.4 L362.2,388.8 L362.6,389.1 L363.0,389.4 L363.5,389.8 L364.1,390.2 L364.6,390.5 L365.0,390.7 L365.5,391.0 L366.2,391.3 L366.6,391.5 L367.4,391.8 L367.8,391.9 L368.6,392.1 L369.0,392.2 L369.8,392.5 L370.2,392.6 L371.0,392.9 L371.4,393.0 L372.2,393.2 L372.9,393.4 L373.4,393.5 L374.2,393.7 L374.6,393.8 L375.4,394.1 L375.8,394.2 L376.6,394.5 L377.0,394.7 L377.8,395.0 L378.2,395.1 L379.0,395.3 L379.4,395.5 L380.2,395.8 L380.6,395.9 L381.1,396.2 L381.8,396.6 L382.2,396.8 L382.6,397.0 L383.3,397.4 L383.8,397.7 L384.2,398.0 L384.6,398.3 L385.0,398.7 L385.4,399.0 L385.8,399.4 L386.2,399.8 L386.6,400.2 L387.0,400.6 L387.4,401.0 L387.8,401.5 L388.2,402.2 L388.4,402.6 L388.6,403.1 L388.8,403.8 L388.9,404.6 L388.8,405.4 L388.7,406.2 L388.6,406.7 L388.4,407.4 L388.2,407.8 L387.8,408.6 L387.5,409.0 L387.2,409.4 L386.9,409.8 L386.6,410.2 L386.2,410.8 L385.8,411.4 L385.6,411.8 L385.3,412.2 L385.0,412.7 L384.6,413.2 L384.2,413.6 L383.8,414.0 L383.4,414.4 L383.0,414.7 L382.6,415.0 L382.1,415.4 L381.5,415.8 L381.0,416.2 L380.6,416.4 L380.2,416.6 L379.4,416.9 L378.6,417.0 L378.2,417.0 L377.4,417.0 L376.6,417.1 L375.8,417.2 L375.0,417.4 L374.6,417.5 L373.8,417.7 L373.4,417.8 L372.6,418.0 L371.8,418.0 L371.0,418.0 L370.2,418.0 L369.4,418.0 L368.6,418.0 L367.8,418.1 L367.4,418.2 L366.6,418.4 L365.9,418.6 L365.4,418.8 L364.6,418.9 L364.2,419.0 L363.4,419.2 L362.6,419.2 L361.8,419.3 L361.0,419.3 L360.6,419.4 L359.8,419.8 L359.4,420.0 L359.0,420.3 L358.5,420.6 L357.8,421.0 L357.4,421.2 L357.0,421.4 L356.2,421.8 L355.8,422.0 L355.3,422.2 L354.6,422.5 L354.2,422.8 L353.7,423.0 L353.0,423.4 L352.6,423.6 L352.2,423.8 L351.4,424.2 L351.0,424.4 L350.6,424.6 L349.9,425.0 L349.4,425.3 L349.0,425.5 L348.5,425.8 L347.8,426.2 L347.4,426.4 L347.0,426.6 L346.4,427.0 L345.8,427.4 L345.4,427.6 L345.0,427.8 L344.2,428.2 L343.8,428.3 L343.0,428.5 L342.6,428.6 L341.8,428.8 L341.0,428.9 L340.2,429.0 L339.8,429.0 L339.0,429.1 L338.2,429.0 L337.8,429.0 L337.0,428.8 L336.2,428.7 L335.4,428.6 L335.0,428.6 L334.2,428.6 L333.4,428.5 L332.6,428.5 L331.8,428.4 L331.0,428.3 L330.5,428.2 L329.8,428.1 L329.0,427.9 L328.6,427.7 L327.8,427.5 L327.4,427.3 L326.7,427.0 L326.2,426.7 L325.8,426.5 L325.3,426.2 L324.6,425.8 L324.2,425.6 L323.8,425.3 L323.2,425.0 L322.6,424.6 L322.2,424.3 L321.8,424.1 L321.4,423.7 L321.0,423.4 L320.6,423.0 L320.2,422.6 L319.8,422.2 L319.4,421.7 L319.0,421.2 L318.6,420.7 L318.2,420.2 L318.0,419.8 L317.8,419.4 L317.4,418.6 L317.3,418.2 L317.0,417.5 L316.8,417.0 L316.6,416.4 L316.3,415.8 L316.1,415.4 L315.8,414.9 L315.5,414.2 L315.3,413.8 L315.0,413.1 L314.8,412.6 L314.7,411.8 L314.6,411.3 L314.5,410.6 L314.4,409.8 L314.4,409.0 L314.3,408.2 L314.3,407.4 L314.3,406.6 L314.3,405.8 L314.3,405.0 L314.4,404.2 L314.5,403.4 L314.6,403.0 L314.9,402.2 L315.1,401.8 L315.4,401.2 L315.7,400.6 L315.8,400.2 L316.2,399.4 L316.3,399.0 L316.5,398.2 L316.7,397.8 L316.9,397.0 L317.0,396.6 L317.3,395.8 L317.4,395.4 L317.8,394.7 L318.1,394.2 L318.4,393.8 L318.7,393.4 L319.1,393.0 L319.5,392.6 L319.9,392.2 L320.3,391.8 L320.7,391.4 L321.1,391.0 L321.5,390.6 L321.8,390.2 L322.2,389.6 L322.5,389.0 L322.7,388.6 L322.9,387.8 L323.0,387.4 L323.2,386.6 L323.4,385.8 L323.5,385.4 L323.7,384.6 L323.8,384.0 L323.9,383.4 L324.1,382.6 L324.2,381.8 L324.2,381.4 L324.3,380.6 L324.4,379.8 L324.5,379.0 L324.6,378.2 L324.6,377.4 L324.6,377.0 L324.6,376.2 L324.7,375.4 L324.8,374.6 L325.0,374.1 L325.3,373.4 L325.6,373.0 L325.8,372.6 L326.2,372.1 L326.6,371.7 L327.0,371.3 L327.4,371.0 L327.9,370.6 L328.4,370.2 L329.0,369.8 L329.4,369.6 L329.8,369.3 L330.3,369.0 L331.0,368.6 L331.4,368.4 L331.9,368.2 L332.6,367.9 L333.0,367.7 L333.6,367.4 L334.2,367.1 L334.6,366.8 L335.0,366.6 L335.8,366.2 L336.2,366.1 L337.0,365.9 L337.8,365.8 L338.2,365.8 L339.0,365.7 L339.8,365.7 L340.6,365.5 L341.0,365.4 L341.8,365.1 L342.2,365.0Z" fill="none" stroke="#555" stroke-width="1.0"/>
<path d="M394.2,391.2 L394.8,391.0 L395.6,390.9 L396.4,390.9 L397.2,391.0 L398.0,391.1 L398.4,391.3 L399.2,391.6 L399.6,391.8 L400.0,392.0 L400.6,392.4 L401.1,392.8 L401.5,393.2 L401.9,393.6 L402.3,394.0 L402.7,394.4 L403.0,394.8 L403.3,395.2 L403.6,395.7 L404.0,396.3 L404.3,396.8 L404.5,397.2 L404.8,397.8 L405.1,398.4 L405.2,398.8 L405.5,399.6 L405.7,400.0 L405.9,400.8 L406.1,401.2 L406.3,402.0 L406.4,402.6 L406.5,403.2 L406.7,404.0 L406.8,404.7 L406.9,405.2 L407.0,406.0 L407.0,406.8 L407.1,407.6 L407.1,408.4 L407.1,409.2 L407.1,410.0 L407.1,410.8 L407.0,411.6 L406.9,412.4 L406.8,413.2 L406.8,413.6 L406.6,414.4 L406.5,415.2 L406.4,415.6 L406.2,416.4 L406.0,417.1 L405.9,417.6 L405.6,418.4 L405.5,418.8 L405.2,419.5 L405.0,420.0 L404.8,420.6 L404.6,421.2 L404.4,421.6 L404.1,422.4 L403.9,422.8 L403.7,423.6 L403.5,424.0 L403.3,424.8 L403.2,425.2 L402.9,426.0 L402.8,426.6 L402.7,427.2 L402.5,428.0 L402.4,428.5 L402.3,429.2 L402.1,430.0 L402.0,430.7 L401.9,431.2 L401.7,432.0 L401.6,432.6 L401.5,433.2 L401.3,434.0 L401.2,434.4 L400.9,435.2 L400.8,435.6 L400.5,436.4 L400.3,436.8 L400.0,437.5 L399.7,438.0 L399.5,438.4 L399.2,438.9 L398.8,439.4 L398.4,439.9 L398.0,440.3 L397.6,440.6 L397.2,440.9 L396.5,441.2 L396.0,441.3 L395.2,441.4 L394.4,441.2 L394.0,441.1 L393.5,440.8 L393.0,440.4 L392.5,440.0 L392.2,439.6 L391.8,439.2 L391.6,438.8 L391.2,438.2 L390.9,437.6 L390.7,437.2 L390.4,436.5 L390.2,436.0 L390.0,435.4 L389.8,434.8 L389.6,434.0 L389.5,433.6 L389.3,432.8 L389.2,432.2 L389.1,431.6 L389.0,430.8 L388.8,430.0 L388.8,429.6 L388.7,428.8 L388.6,428.0 L388.5,427.2 L388.4,426.4 L388.3,426.0 L388.2,425.2 L388.1,424.4 L388.0,423.8 L387.9,423.2 L387.7,422.4 L387.6,421.9 L387.4,421.2 L387.2,420.4 L387.1,420.0 L386.9,419.2 L386.8,418.8 L386.6,418.0 L386.4,417.4 L386.2,416.8 L386.1,416.0 L386.0,415.6 L385.8,414.8 L385.7,414.0 L385.6,413.4 L385.5,412.8 L385.4,412.0 L385.4,411.2 L385.3,410.4 L385.3,409.6 L385.3,408.8 L385.3,408.0 L385.3,407.2 L385.4,406.4 L385.5,405.6 L385.6,404.8 L385.6,404.4 L385.8,403.6 L385.9,402.8 L386.0,402.4 L386.2,401.6 L386.4,401.0 L386.6,400.4 L386.8,399.8 L387.0,399.2 L387.2,398.8 L387.5,398.0 L387.7,397.6 L388.0,397.0 L388.4,396.4 L388.6,396.0 L388.9,395.6 L389.2,395.1 L389.6,394.6 L390.0,394.1 L390.4,393.7 L390.8,393.3 L391.2,392.9 L391.6,392.6 L392.0,392.3 L392.4,392.0 L393.2,391.6 L393.6,391.4 L394.2,391.2Z" fill="#000" stroke="none"/>
<path d="M396.3,405.6 L396.8,405.4 L397.6,405.4 L398.2,405.6 L398.6,406.0 L398.9,406.4 L399.2,407.2 L399.1,408.0 L398.9,408.8 L398.7,409.2 L398.4,409.7 L398.0,410.1 L397.6,410.5 L396.8,410.8 L396.4,410.8 L396.0,410.7 L395.5,410.4 L395.2,410.0 L394.9,409.2 L394.8,408.8 L394.7,408.0 L394.8,407.6 L395.1,406.8 L395.4,406.4 L395.7,406.0 L396.3,405.6Z" fill="none" stroke="#000" stroke-width="0.9"/>
<path d="M396.0,404.4 L396.8,404.2 L397.6,404.2 L398.0,404.4 L398.7,404.8 L399.1,405.2 L399.4,405.6 L399.7,406.0 L399.9,406.8 L400.0,407.3 L400.0,407.7 L399.9,408.4 L399.7,409.2 L399.5,409.6 L399.2,410.4 L399.0,410.8 L398.7,411.2 L398.4,411.6 L397.9,412.0 L397.2,412.3 L396.8,412.5 L396.0,412.5 L395.6,412.4 L395.1,412.0 L394.7,411.6 L394.4,411.1 L394.1,410.4 L394.0,410.0 L393.8,409.2 L393.7,408.4 L393.8,407.6 L394.0,406.8 L394.2,406.4 L394.4,406.0 L394.8,405.5 L395.2,405.0 L395.6,404.7 L396.0,404.4Z" fill="none" stroke="#000" stroke-width="0.9"/>
<path d="M396.4,403.2 L396.8,403.2 L397.2,403.2 L398.0,403.5 L398.4,403.7 L398.8,404.0 L399.2,404.4 L399.6,404.8 L400.0,405.4 L400.3,406.0 L400.4,406.4 L400.6,407.2 L400.5,408.0 L400.4,408.8 L400.3,409.2 L400.1,410.0 L400.0,410.4 L399.7,411.2 L399.5,411.6 L399.2,412.1 L398.8,412.6 L398.4,412.9 L398.0,413.2 L397.4,413.6 L396.8,413.9 L396.4,414.0 L395.6,414.1 L395.2,414.0 L394.7,413.6 L394.4,413.2 L394.0,412.4 L393.8,412.0 L393.6,411.3 L393.4,410.8 L393.2,410.0 L393.2,409.6 L393.0,408.8 L393.0,408.0 L393.0,407.2 L393.2,406.7 L393.5,406.0 L393.7,405.6 L394.0,405.2 L394.4,404.6 L394.8,404.2 L395.2,403.8 L395.6,403.5 L396.4,403.2Z" fill="none" stroke="#000" stroke-width="0.9"/>
<path d="M395.6,402.4 L396.4,402.2 L397.2,402.3 L397.6,402.4 L398.3,402.8 L398.8,403.2 L399.2,403.5 L399.6,403.9 L400.0,404.4 L400.3,404.8 L400.5,405.2 L400.8,405.9 L401.0,406.4 L401.1,407.2 L401.0,408.0 L400.9,408.8 L400.8,409.3 L400.7,410.0 L400.5,410.8 L400.4,411.2 L400.1,412.0 L399.9,412.4 L399.6,412.8 L399.2,413.3 L398.8,413.8 L398.4,414.1 L398.0,414.5 L397.6,414.8 L397.2,415.2 L396.6,415.6 L396.0,415.9 L395.2,415.9 L394.6,415.6 L394.2,415.2 L393.9,414.8 L393.6,414.0 L393.5,413.6 L393.2,412.8 L393.1,412.4 L393.0,411.6 L392.8,410.8 L392.7,410.4 L392.5,409.6 L392.4,408.8 L392.3,408.4 L392.3,407.6 L392.4,407.0 L392.6,406.4 L392.8,405.9 L393.2,405.2 L393.4,404.8 L393.7,404.4 L394.0,403.9 L394.4,403.4 L394.8,403.0 L395.2,402.6 L395.6,402.4Z" fill="none" stroke="#000" stroke-width="0.9"/>
<path d="M396.0,401.2 L396.4,401.1 L396.9,401.2 L397.6,401.4 L398.0,401.6 L398.5,402.0 L399.0,402.4 L399.4,402.8 L399.8,403.2 L400.1,403.6 L400.4,404.0 L400.8,404.7 L401.1,405.2 L401.3,405.6 L401.5,406.4 L401.6,407.2 L401.5,408.0 L401.4,408.8 L401.3,409.6 L401.2,410.0 L401.0,410.8 L400.9,411.6 L400.7,412.0 L400.4,412.8 L400.2,413.2 L400.0,413.6 L399.6,414.1 L399.2,414.6 L398.8,415.0 L398.4,415.5 L398.0,416.0 L397.6,416.4 L397.2,416.7 L396.8,417.0 L396.4,417.2 L395.6,417.4 L394.8,417.2 L394.4,417.0 L394.0,416.6 L393.6,416.1 L393.3,415.6 L393.1,415.2 L392.8,414.4 L392.7,414.0 L392.6,413.2 L392.4,412.4 L392.4,412.0 L392.2,411.2 L392.1,410.4 L392.0,409.9 L391.9,409.2 L391.7,408.4 L391.7,407.6 L391.8,406.8 L392.0,406.0 L392.2,405.6 L392.4,405.2 L392.8,404.4 L393.0,404.0 L393.3,403.6 L393.6,403.1 L394.0,402.6 L394.4,402.1 L394.8,401.7 L395.2,401.5 L396.0,401.2Z" fill="none" stroke="#000" stroke-width="0.9"/>
<path d="M395.5,400.4 L396.0,400.2 L396.8,400.2 L397.6,400.4 L398.0,400.5 L398.4,400.8 L398.8,401.2 L399.2,401.6 L399.6,402.0 L400.0,402.6 L400.4,403.1 L400.7,403.6 L401.0,404.0 L401.2,404.4 L401.6,405.1 L401.8,405.6 L402.0,406.4 L402.0,406.8 L402.0,407.6 L402.0,408.0 L401.9,408.8 L401.7,409.6 L401.6,410.3 L401.5,410.8 L401.4,411.6 L401.2,412.3 L401.0,412.8 L400.8,413.4 L400.4,414.0 L400.2,414.4 L399.9,414.8 L399.6,415.3 L399.2,415.9 L398.8,416.4 L398.5,416.8 L398.2,417.2 L397.8,417.6 L397.3,418.0 L396.8,418.4 L396.4,418.6 L395.6,418.8 L395.6,418.8 L394.8,418.5 L394.4,418.2 L394.0,417.8 L393.6,417.4 L393.2,416.8 L392.9,416.4 L392.7,416.0 L392.4,415.3 L392.2,414.8 L392.1,414.0 L392.0,413.6 L391.9,412.8 L391.8,412.0 L391.7,411.2 L391.6,410.7 L391.5,410.0 L391.3,409.2 L391.2,408.5 L391.1,408.0 L391.1,407.2 L391.2,406.7 L391.4,406.0 L391.6,405.4 L391.9,404.8 L392.1,404.4 L392.4,403.8 L392.7,403.2 L392.9,402.8 L393.2,402.4 L393.6,401.8 L394.0,401.4 L394.4,401.0 L394.8,400.7 L395.5,400.4Z" fill="none" stroke="#000" stroke-width="0.9"/>
<path d="M395.6,399.6 L396.0,399.5 L396.8,399.3 L397.6,399.4 L398.1,399.6 L398.7,400.0 L399.1,400.4 L399.4,400.8 L399.7,401.2 L400.0,401.6 L400.4,402.2 L400.8,402.8 L401.0,403.2 L401.3,403.6 L401.6,404.2 L401.9,404.8 L402.1,405.2 L402.3,406.0 L402.4,406.8 L402.4,407.2 L402.4,407.6 L402.3,408.4 L402.1,409.2 L402.0,410.0 L402.0,410.4 L401.8,411.2 L401.7,412.0 L401.6,412.5 L401.4,413.2 L401.2,413.6 L400.8,414.4 L400.6,414.8 L400.3,415.2 L400.0,415.8 L399.6,416.4 L399.4,416.8 L399.2,417.2 L398.8,417.7 L398.4,418.2 L398.0,418.7 L397.6,419.2 L397.3,419.6 L397.0,420.0 L396.8,420.4 L396.6,421.2 L396.6,422.0 L396.6,422.8 L396.5,423.6 L396.3,424.0 L396.0,424.4 L395.4,424.4 L395.1,424.0 L395.0,423.2 L395.0,422.4 L395.1,421.6 L395.1,420.8 L394.8,420.2 L394.4,419.6 L394.2,419.2 L393.9,418.8 L393.6,418.4 L393.2,417.8 L392.8,417.2 L392.6,416.8 L392.4,416.4 L392.0,415.6 L391.9,415.2 L391.6,414.4 L391.6,414.0 L391.4,413.2 L391.4,412.4 L391.3,411.6 L391.2,411.0 L391.1,410.4 L391.0,409.6 L390.8,408.8 L390.7,408.4 L390.7,407.6 L390.7,406.8 L390.8,406.4 L391.0,405.6 L391.2,405.1 L391.5,404.4 L391.7,404.0 L392.0,403.3 L392.3,402.8 L392.5,402.4 L392.8,401.9 L393.2,401.4 L393.6,400.9 L394.0,400.5 L394.4,400.2 L394.8,399.9 L395.6,399.6Z" fill="none" stroke="#000" stroke-width="0.9"/>
<path d="M396.2,398.8 L396.8,398.7 L397.6,398.6 L398.3,398.8 L398.8,399.1 L399.2,399.4 L399.6,400.0 L399.9,400.4 L400.1,400.8 L400.4,401.4 L400.8,402.0 L401.0,402.4 L401.2,402.8 L401.6,403.5 L401.9,404.0 L402.1,404.4 L402.4,405.1 L402.6,405.6 L402.7,406.4 L402.7,407.2 L402.6,408.0 L402.5,408.8 L402.4,409.4 L402.3,410.0 L402.2,410.8 L402.1,411.6 L402.0,412.1 L401.8,412.8 L401.6,413.6 L401.4,414.0 L401.2,414.5 L400.8,415.2 L400.6,415.6 L400.4,416.0 L400.0,416.8 L399.8,417.2 L399.6,417.6 L399.2,418.2 L398.8,418.8 L398.5,419.2 L398.3,419.6 L398.0,420.2 L397.8,420.8 L397.7,421.6 L397.6,422.4 L397.6,422.8 L397.5,423.6 L397.3,424.4 L397.1,424.8 L396.8,425.6 L396.6,426.0 L396.4,426.4 L396.0,426.8 L395.4,426.8 L394.9,426.4 L394.6,426.0 L394.4,425.6 L394.1,424.8 L394.0,424.4 L393.9,423.6 L393.9,422.8 L394.0,422.0 L394.0,421.6 L394.0,420.8 L393.9,420.4 L393.7,419.6 L393.5,419.2 L393.2,418.6 L392.9,418.0 L392.6,417.6 L392.4,417.2 L392.0,416.5 L391.8,416.0 L391.6,415.5 L391.4,414.8 L391.2,414.0 L391.1,413.6 L391.0,412.8 L391.0,412.0 L390.9,411.2 L390.8,410.6 L390.7,410.0 L390.5,409.2 L390.4,408.4 L390.4,408.0 L390.3,407.2 L390.4,406.7 L390.5,406.0 L390.8,405.2 L390.9,404.8 L391.2,404.1 L391.4,403.6 L391.6,403.2 L392.0,402.4 L392.2,402.0 L392.4,401.6 L392.8,401.1 L393.2,400.6 L393.6,400.2 L394.0,399.9 L394.4,399.6 L395.1,399.2 L395.6,399.0 L396.2,398.8Z" fill="none" stroke="#000" stroke-width="0.9"/>
<path d="M396.5,398.0 L397.2,397.8 L398.0,397.8 L398.8,398.0 L399.2,398.3 L399.6,398.7 L400.0,399.2 L400.2,399.6 L400.4,400.1 L400.7,400.8 L400.9,401.2 L401.2,401.8 L401.5,402.4 L401.7,402.8 L402.0,403.3 L402.3,404.0 L402.5,404.4 L402.8,405.1 L402.9,405.6 L403.0,406.4 L403.0,407.2 L403.0,408.0 L402.8,408.8 L402.8,409.2 L402.6,410.0 L402.5,410.8 L402.4,411.6 L402.4,412.0 L402.2,412.8 L402.0,413.6 L401.8,414.0 L401.6,414.6 L401.3,415.2 L401.1,415.6 L400.8,416.3 L400.6,416.8 L400.4,417.3 L400.1,418.0 L399.8,418.4 L399.6,418.8 L399.2,419.6 L399.0,420.0 L398.8,420.4 L398.6,421.2 L398.4,422.0 L398.3,422.4 L398.2,423.2 L398.0,424.0 L398.0,424.4 L397.7,425.2 L397.6,425.7 L397.4,426.4 L397.2,427.0 L397.0,427.6 L396.8,428.2 L396.5,428.8 L396.3,429.2 L395.8,429.6 L395.5,429.6 L395.0,429.2 L394.8,428.8 L394.4,428.0 L394.3,427.6 L394.0,427.0 L393.7,426.4 L393.6,426.0 L393.3,425.2 L393.2,424.7 L393.1,424.0 L393.1,423.2 L393.2,422.4 L393.2,422.0 L393.3,421.2 L393.3,420.4 L393.2,420.0 L392.9,419.2 L392.8,418.8 L392.4,418.1 L392.2,417.6 L391.9,417.2 L391.6,416.5 L391.4,416.0 L391.2,415.5 L391.0,414.8 L390.8,414.0 L390.8,413.6 L390.7,412.8 L390.6,412.0 L390.5,411.2 L390.4,410.4 L390.3,410.0 L390.2,409.2 L390.0,408.4 L390.0,408.0 L390.0,407.2 L390.0,406.8 L390.2,406.0 L390.4,405.2 L390.5,404.8 L390.8,404.0 L390.9,403.6 L391.2,402.9 L391.4,402.4 L391.6,402.0 L392.0,401.3 L392.4,400.8 L392.7,400.4 L393.1,400.0 L393.5,399.6 L394.0,399.2 L394.4,398.9 L394.8,398.7 L395.4,398.4 L396.0,398.2 L396.5,398.0Z" fill="none" stroke="#000" stroke-width="0.9"/>
<path d="M396.4,397.2 L397.2,396.9 L398.0,396.8 L398.8,397.0 L399.2,397.3 L399.6,397.6 L400.0,398.0 L400.4,398.5 L400.8,399.2 L400.9,399.6 L401.2,400.3 L401.4,400.8 L401.6,401.4 L401.9,402.0 L402.1,402.4 L402.4,403.1 L402.6,403.6 L402.8,404.0 L403.1,404.8 L403.3,405.2 L403.4,406.0 L403.4,406.8 L403.4,407.6 L403.3,408.4 L403.2,408.8 L403.0,409.6 L402.9,410.4 L402.8,411.2 L402.8,411.6 L402.7,412.4 L402.5,413.2 L402.4,413.7 L402.2,414.4 L402.0,414.8 L401.7,415.6 L401.5,416.0 L401.2,416.8 L401.0,417.2 L400.8,417.8 L400.6,418.4 L400.4,418.8 L400.0,419.5 L399.8,420.0 L399.6,420.4 L399.3,421.2 L399.2,421.6 L399.0,422.4 L398.8,423.2 L398.7,423.6 L398.6,424.4 L398.4,425.0 L398.3,425.6 L398.0,426.4 L397.9,426.8 L397.7,427.6 L397.6,428.2 L397.5,428.8 L397.3,429.6 L397.1,430.0 L396.8,430.6 L396.4,431.2 L396.0,431.5 L395.2,431.5 L394.8,431.2 L394.4,430.7 L394.1,430.0 L393.9,429.6 L393.7,428.8 L393.6,428.4 L393.4,427.6 L393.2,427.1 L393.0,426.4 L392.8,425.9 L392.6,425.2 L392.5,424.4 L392.5,423.6 L392.5,422.8 L392.6,422.0 L392.7,421.2 L392.6,420.4 L392.5,419.6 L392.4,419.2 L392.1,418.4 L391.9,418.0 L391.6,417.4 L391.3,416.8 L391.1,416.4 L390.8,415.6 L390.7,415.2 L390.5,414.4 L390.4,414.0 L390.3,413.2 L390.2,412.4 L390.1,411.6 L390.1,410.8 L390.0,410.4 L389.8,409.6 L389.7,408.8 L389.6,408.0 L389.6,407.6 L389.6,407.0 L389.7,406.4 L389.8,405.6 L390.0,405.0 L390.2,404.4 L390.4,403.7 L390.5,403.2 L390.8,402.5 L391.0,402.0 L391.2,401.6 L391.6,400.9 L392.0,400.4 L392.3,400.0 L392.7,399.6 L393.1,399.2 L393.5,398.8 L394.0,398.5 L394.4,398.2 L394.8,398.0 L395.5,397.6 L396.0,397.4 L396.4,397.2Z" fill="none" stroke="#000" stroke-width="0.9"/>
<path d="M397.4,396.0 L398.0,395.9 L398.4,396.0 L399.2,396.3 L399.6,396.6 L400.0,396.9 L400.4,397.3 L400.8,397.8 L401.2,398.4 L401.4,398.8 L401.6,399.4 L401.8,400.0 L402.0,400.7 L402.2,401.2 L402.4,401.8 L402.6,402.4 L402.8,402.8 L403.2,403.6 L403.3,404.0 L403.6,404.7 L403.7,405.2 L403.8,406.0 L403.9,406.8 L403.8,407.6 L403.7,408.4 L403.6,408.8 L403.4,409.6 L403.3,410.4 L403.2,411.2 L403.2,411.6 L403.1,412.4 L403.0,413.2 L402.8,414.0 L402.7,414.4 L402.4,415.2 L402.2,415.6 L402.0,416.3 L401.8,416.8 L401.6,417.4 L401.4,418.0 L401.2,418.5 L400.9,419.2 L400.7,419.6 L400.4,420.2 L400.1,420.8 L400.0,421.2 L399.7,422.0 L399.6,422.5 L399.4,423.2 L399.2,424.0 L399.1,424.4 L398.9,425.2 L398.8,425.7 L398.6,426.4 L398.4,427.2 L398.3,427.6 L398.2,428.4 L398.0,429.2 L397.9,429.6 L397.7,430.4 L397.6,430.8 L397.2,431.5 L396.9,432.0 L396.5,432.4 L396.0,432.8 L395.6,432.9 L395.1,432.8 L394.5,432.4 L394.2,432.0 L393.9,431.6 L393.6,431.0 L393.4,430.4 L393.2,429.7 L393.1,429.2 L392.9,428.4 L392.8,428.0 L392.6,427.2 L392.4,426.6 L392.2,426.0 L392.0,425.2 L392.0,424.8 L391.9,424.0 L391.9,423.2 L392.0,422.4 L392.0,421.9 L392.1,421.2 L392.1,420.4 L392.0,420.0 L391.8,419.2 L391.6,418.6 L391.4,418.0 L391.2,417.6 L390.8,416.8 L390.7,416.4 L390.4,415.7 L390.2,415.2 L390.0,414.4 L390.0,414.0 L389.9,413.2 L389.8,412.4 L389.7,411.6 L389.6,410.8 L389.6,410.4 L389.4,409.6 L389.3,408.8 L389.2,408.1 L389.2,407.6 L389.2,406.8 L389.2,406.4 L389.4,405.6 L389.6,404.8 L389.7,404.4 L389.9,403.6 L390.0,403.2 L390.3,402.4 L390.4,402.0 L390.8,401.2 L391.0,400.8 L391.3,400.4 L391.6,400.0 L392.0,399.5 L392.4,399.0 L392.8,398.6 L393.2,398.3 L393.6,397.9 L394.1,397.6 L394.8,397.2 L395.2,397.0 L395.6,396.8 L396.3,396.4 L396.8,396.2 L397.4,396.0Z" fill="none" stroke="#000" stroke-width="0.9"/>
<path d="M396.8,395.2 L397.2,395.0 L398.0,394.9 L398.8,395.1 L399.2,395.3 L399.7,395.6 L400.1,396.0 L400.5,396.4 L400.9,396.8 L401.2,397.2 L401.6,397.7 L402.0,398.4 L402.1,398.8 L402.4,399.5 L402.5,400.0 L402.8,400.8 L402.9,401.2 L403.2,402.0 L403.3,402.4 L403.6,403.1 L403.8,403.6 L404.0,404.2 L404.2,404.8 L404.3,405.6 L404.4,406.4 L404.3,407.2 L404.2,408.0 L404.1,408.8 L404.0,409.2 L403.9,410.0 L403.8,410.8 L403.7,411.6 L403.6,412.4 L403.6,412.8 L403.4,413.6 L403.3,414.4 L403.2,414.8 L402.9,415.6 L402.8,416.0 L402.5,416.8 L402.4,417.2 L402.1,418.0 L401.9,418.4 L401.6,419.2 L401.4,419.6 L401.2,420.0 L400.9,420.8 L400.7,421.2 L400.4,422.0 L400.3,422.4 L400.1,423.2 L399.9,423.6 L399.7,424.4 L399.6,424.9 L399.4,425.6 L399.2,426.4 L399.1,426.8 L398.9,427.6 L398.8,428.2 L398.7,428.8 L398.6,429.6 L398.4,430.3 L398.2,430.8 L398.0,431.4 L397.7,432.0 L397.5,432.4 L397.2,432.9 L396.8,433.4 L396.4,433.8 L396.0,434.0 L395.2,434.1 L394.8,434.0 L394.4,433.6 L394.0,433.2 L393.6,432.6 L393.3,432.0 L393.1,431.6 L392.8,430.9 L392.7,430.4 L392.5,429.6 L392.4,429.1 L392.3,428.4 L392.1,427.6 L392.0,427.2 L391.8,426.4 L391.6,425.8 L391.5,425.2 L391.4,424.4 L391.3,423.6 L391.3,422.8 L391.4,422.0 L391.4,421.2 L391.4,420.4 L391.3,419.6 L391.2,419.1 L391.0,418.4 L390.8,418.0 L390.5,417.2 L390.3,416.8 L390.0,416.0 L389.9,415.6 L389.6,414.8 L389.6,414.4 L389.4,413.6 L389.3,412.8 L389.2,412.0 L389.2,411.6 L389.1,410.8 L389.0,410.0 L388.9,409.2 L388.8,408.8 L388.7,408.0 L388.7,407.2 L388.8,406.4 L388.8,406.0 L389.0,405.2 L389.2,404.4 L389.3,404.0 L389.5,403.2 L389.6,402.7 L389.8,402.0 L390.0,401.5 L390.3,400.8 L390.5,400.4 L390.8,400.0 L391.2,399.4 L391.6,398.9 L392.0,398.4 L392.4,398.0 L392.8,397.6 L393.2,397.3 L393.6,397.0 L394.0,396.7 L394.6,396.4 L395.2,396.0 L395.6,395.8 L396.0,395.6 L396.8,395.2Z" fill="none" stroke="#000" stroke-width="0.9"/>
<path d="M397.0,394.0 L397.6,393.8 L398.4,393.8 L399.1,394.0 L399.6,394.3 L400.0,394.6 L400.4,395.0 L400.8,395.4 L401.2,395.9 L401.6,396.4 L401.9,396.8 L402.1,397.2 L402.4,397.6 L402.8,398.4 L402.9,398.8 L403.2,399.6 L403.3,400.0 L403.5,400.8 L403.7,401.2 L403.9,402.0 L404.0,402.4 L404.3,403.2 L404.4,403.6 L404.7,404.4 L404.8,405.0 L404.9,405.6 L404.9,406.4 L404.9,407.2 L404.8,408.0 L404.7,408.4 L404.6,409.2 L404.5,410.0 L404.4,410.4 L404.3,411.2 L404.2,412.0 L404.2,412.8 L404.1,413.6 L404.0,414.2 L403.9,414.8 L403.7,415.6 L403.5,416.0 L403.3,416.8 L403.2,417.2 L402.9,418.0 L402.7,418.4 L402.4,419.1 L402.2,419.6 L402.0,420.0 L401.6,420.8 L401.4,421.2 L401.2,421.7 L401.0,422.4 L400.8,422.9 L400.6,423.6 L400.4,424.3 L400.3,424.8 L400.0,425.6 L399.9,426.0 L399.7,426.8 L399.6,427.2 L399.4,428.0 L399.3,428.8 L399.2,429.3 L399.1,430.0 L398.9,430.8 L398.7,431.2 L398.4,432.0 L398.2,432.4 L398.0,432.9 L397.6,433.6 L397.3,434.0 L397.0,434.4 L396.6,434.8 L396.0,435.2 L395.6,435.3 L394.8,435.2 L394.4,434.9 L394.0,434.6 L393.6,434.0 L393.3,433.6 L393.1,433.2 L392.8,432.6 L392.5,432.0 L392.3,431.6 L392.1,430.8 L392.0,430.4 L391.8,429.6 L391.7,428.8 L391.6,428.2 L391.5,427.6 L391.3,426.8 L391.2,426.4 L391.0,425.6 L390.9,424.8 L390.8,424.3 L390.8,423.6 L390.8,422.8 L390.8,422.2 L390.8,421.6 L390.8,420.8 L390.8,420.4 L390.7,419.6 L390.5,418.8 L390.3,418.4 L390.0,417.6 L389.8,417.2 L389.6,416.5 L389.4,416.0 L389.2,415.3 L389.1,414.8 L388.9,414.0 L388.8,413.2 L388.8,412.8 L388.7,412.0 L388.6,411.2 L388.5,410.4 L388.4,409.7 L388.3,409.2 L388.2,408.4 L388.2,407.6 L388.2,406.8 L388.3,406.0 L388.4,405.4 L388.5,404.8 L388.7,404.0 L388.8,403.6 L389.0,402.8 L389.2,402.0 L389.3,401.6 L389.6,400.8 L389.8,400.4 L390.0,400.0 L390.4,399.4 L390.8,398.8 L391.1,398.4 L391.4,398.0 L391.7,397.6 L392.1,397.2 L392.5,396.8 L393.0,396.4 L393.5,396.0 L394.0,395.7 L394.4,395.4 L394.8,395.2 L395.5,394.8 L396.0,394.5 L396.4,394.3 L397.0,394.0Z" fill="none" stroke="#000" stroke-width="0.9"/>
<path d="M397.4,392.4 L398.0,392.3 L398.8,392.3 L399.2,392.4 L400.0,392.8 L400.4,393.1 L400.8,393.6 L401.1,394.0 L401.3,394.4 L401.6,394.8 L402.0,395.5 L402.3,396.0 L402.6,396.4 L402.8,396.8 L403.2,397.5 L403.5,398.0 L403.6,398.4 L403.9,399.2 L404.0,399.6 L404.3,400.4 L404.4,400.9 L404.6,401.6 L404.8,402.4 L404.9,402.8 L405.1,403.6 L405.2,404.0 L405.4,404.8 L405.5,405.6 L405.6,406.4 L405.6,407.2 L405.5,408.0 L405.4,408.8 L405.3,409.6 L405.2,410.1 L405.1,410.8 L405.0,411.6 L405.0,412.4 L404.9,413.2 L404.9,414.0 L404.8,414.4 L404.7,415.2 L404.4,416.0 L404.3,416.4 L404.0,417.2 L403.9,417.6 L403.6,418.3 L403.4,418.8 L403.2,419.2 L402.8,419.9 L402.6,420.4 L402.4,420.8 L402.0,421.6 L401.9,422.0 L401.6,422.7 L401.4,423.2 L401.2,424.0 L401.1,424.4 L400.8,425.2 L400.7,425.6 L400.5,426.4 L400.3,426.8 L400.1,427.6 L400.0,428.3 L399.9,428.8 L399.8,429.6 L399.6,430.3 L399.5,430.8 L399.2,431.6 L399.1,432.0 L398.8,432.7 L398.6,433.2 L398.4,433.6 L398.0,434.4 L397.7,434.8 L397.4,435.2 L397.1,435.6 L396.6,436.0 L396.0,436.3 L395.6,436.4 L395.0,436.4 L394.4,436.2 L394.0,435.9 L393.6,435.5 L393.2,434.9 L392.9,434.4 L392.7,434.0 L392.4,433.4 L392.1,432.8 L391.9,432.4 L391.6,431.6 L391.5,431.2 L391.3,430.4 L391.2,429.6 L391.1,429.2 L391.0,428.4 L390.9,427.6 L390.8,427.2 L390.6,426.4 L390.4,425.6 L390.3,425.2 L390.2,424.4 L390.2,423.6 L390.2,422.8 L390.2,422.0 L390.2,421.2 L390.1,420.4 L390.0,419.8 L389.9,419.2 L389.6,418.4 L389.5,418.0 L389.2,417.3 L389.0,416.8 L388.8,416.1 L388.7,415.6 L388.5,414.8 L388.4,414.4 L388.2,413.6 L388.1,412.8 L388.1,412.0 L388.0,411.4 L387.9,410.8 L387.8,410.0 L387.7,409.2 L387.6,408.4 L387.6,408.0 L387.6,407.2 L387.6,406.7 L387.7,406.0 L387.8,405.2 L388.0,404.4 L388.1,404.0 L388.3,403.2 L388.4,402.6 L388.5,402.0 L388.8,401.2 L388.9,400.8 L389.2,400.1 L389.4,399.6 L389.7,399.2 L390.0,398.6 L390.4,398.0 L390.7,397.6 L391.0,397.2 L391.3,396.8 L391.6,396.4 L392.0,396.0 L392.4,395.5 L392.8,395.1 L393.2,394.8 L393.8,394.4 L394.4,394.0 L394.8,393.8 L395.2,393.6 L395.8,393.2 L396.4,392.8 L396.8,392.6 L397.4,392.4Z" fill="none" stroke="#000" stroke-width="0.9"/>
<path d="M396.9,390.4 L397.6,390.1 L398.4,390.1 L399.2,390.3 L399.6,390.5 L400.2,390.8 L400.7,391.2 L401.1,391.6 L401.4,392.0 L401.6,392.4 L402.0,393.2 L402.1,393.6 L402.4,394.2 L402.7,394.8 L402.9,395.2 L403.2,395.8 L403.6,396.4 L403.8,396.8 L404.0,397.3 L404.3,398.0 L404.5,398.4 L404.8,399.2 L404.9,399.6 L405.1,400.4 L405.2,400.8 L405.4,401.6 L405.6,402.4 L405.7,402.8 L405.9,403.6 L406.0,404.1 L406.1,404.8 L406.2,405.6 L406.3,406.4 L406.3,407.2 L406.3,408.0 L406.3,408.8 L406.2,409.6 L406.1,410.4 L406.0,411.0 L406.0,411.6 L405.9,412.4 L405.9,413.2 L405.8,414.0 L405.7,414.8 L405.6,415.3 L405.4,416.0 L405.2,416.7 L405.0,417.2 L404.8,417.7 L404.5,418.4 L404.3,418.8 L404.0,419.3 L403.6,420.0 L403.4,420.4 L403.2,420.8 L402.8,421.6 L402.7,422.0 L402.4,422.7 L402.2,423.2 L402.0,423.8 L401.8,424.4 L401.6,425.0 L401.4,425.6 L401.2,426.2 L401.0,426.8 L400.8,427.6 L400.7,428.0 L400.5,428.8 L400.4,429.5 L400.3,430.0 L400.1,430.8 L400.0,431.2 L399.8,432.0 L399.6,432.4 L399.3,433.2 L399.1,433.6 L398.8,434.4 L398.6,434.8 L398.4,435.2 L398.0,435.8 L397.6,436.3 L397.2,436.7 L396.8,437.0 L396.4,437.2 L395.6,437.5 L394.8,437.4 L394.2,437.2 L393.6,436.8 L393.2,436.4 L392.9,436.0 L392.7,435.6 L392.4,435.1 L392.1,434.4 L391.9,434.0 L391.6,433.4 L391.4,432.8 L391.2,432.4 L390.9,431.6 L390.8,431.1 L390.7,430.4 L390.5,429.6 L390.4,428.8 L390.4,428.4 L390.2,427.6 L390.1,426.8 L390.0,426.4 L389.8,425.6 L389.7,424.8 L389.6,424.0 L389.6,423.2 L389.6,422.7 L389.6,422.0 L389.5,421.2 L389.4,420.4 L389.2,419.6 L389.1,419.2 L388.8,418.4 L388.7,418.0 L388.4,417.2 L388.3,416.8 L388.1,416.0 L388.0,415.6 L387.8,414.8 L387.7,414.0 L387.6,413.6 L387.5,412.8 L387.4,412.0 L387.3,411.2 L387.2,410.4 L387.2,410.0 L387.1,409.2 L387.0,408.4 L386.9,407.6 L387.0,406.8 L387.0,406.0 L387.2,405.2 L387.2,404.8 L387.4,404.0 L387.6,403.2 L387.7,402.8 L387.9,402.0 L388.0,401.5 L388.2,400.8 L388.4,400.2 L388.7,399.6 L388.8,399.2 L389.2,398.5 L389.5,398.0 L389.7,397.6 L390.0,397.2 L390.4,396.5 L390.8,396.0 L391.0,395.6 L391.3,395.2 L391.6,394.7 L392.0,394.2 L392.4,393.6 L392.8,393.2 L393.2,392.9 L393.6,392.6 L394.0,392.3 L394.6,392.0 L395.2,391.6 L395.6,391.3 L396.0,391.0 L396.4,390.7 L396.9,390.4Z" fill="none" stroke="#000" stroke-width="0.9"/>
<path d="M396.3,384.4 L396.5,384.4 L397.1,384.8 L397.4,385.2 L397.7,385.6 L398.0,386.0 L398.4,386.5 L398.8,386.9 L399.2,387.3 L399.6,387.6 L400.0,388.0 L400.5,388.4 L400.9,388.8 L401.2,389.2 L401.6,389.7 L402.0,390.4 L402.2,390.8 L402.4,391.3 L402.6,392.0 L402.8,392.5 L403.0,393.2 L403.2,393.7 L403.5,394.4 L403.7,394.8 L404.0,395.5 L404.3,396.0 L404.5,396.4 L404.8,397.0 L405.1,397.6 L405.2,398.0 L405.5,398.8 L405.6,399.2 L405.9,400.0 L406.0,400.6 L406.1,401.2 L406.3,402.0 L406.4,402.4 L406.6,403.2 L406.7,404.0 L406.8,404.4 L406.9,405.2 L407.0,406.0 L407.1,406.8 L407.2,407.6 L407.2,408.0 L407.2,408.8 L407.2,409.2 L407.1,410.0 L407.1,410.8 L407.0,411.6 L406.9,412.4 L406.9,413.2 L406.8,414.0 L406.8,414.4 L406.6,415.2 L406.4,416.0 L406.3,416.4 L406.0,417.2 L405.9,417.6 L405.6,418.2 L405.3,418.8 L405.0,419.2 L404.8,419.6 L404.4,420.2 L404.1,420.8 L403.9,421.2 L403.6,421.7 L403.3,422.4 L403.2,422.8 L402.8,423.6 L402.7,424.0 L402.4,424.8 L402.3,425.2 L402.0,426.0 L401.9,426.4 L401.6,427.2 L401.5,427.6 L401.3,428.4 L401.2,428.8 L401.0,429.6 L400.9,430.4 L400.8,430.8 L400.5,431.6 L400.4,432.0 L400.1,432.8 L400.0,433.2 L399.7,434.0 L399.6,434.4 L399.2,435.2 L399.0,435.6 L398.8,436.0 L398.4,436.6 L398.0,437.1 L397.6,437.5 L397.2,437.8 L396.8,438.0 L396.0,438.4 L395.6,438.5 L394.8,438.5 L394.4,438.3 L393.7,438.0 L393.2,437.6 L392.9,437.2 L392.5,436.8 L392.3,436.4 L392.0,435.9 L391.7,435.2 L391.5,434.8 L391.2,434.2 L391.0,433.6 L390.8,433.2 L390.5,432.4 L390.4,432.0 L390.2,431.2 L390.0,430.4 L390.0,430.0 L389.9,429.2 L389.8,428.4 L389.7,427.6 L389.6,427.2 L389.4,426.4 L389.3,425.6 L389.2,425.2 L389.1,424.4 L389.1,423.6 L389.0,422.8 L389.0,422.0 L388.9,421.2 L388.8,420.7 L388.6,420.0 L388.4,419.2 L388.2,418.8 L388.0,418.1 L387.8,417.6 L387.6,416.8 L387.5,416.4 L387.3,415.6 L387.2,415.1 L387.1,414.4 L386.9,413.6 L386.8,412.8 L386.8,412.4 L386.7,411.6 L386.6,410.8 L386.5,410.0 L386.4,409.2 L386.4,408.8 L386.3,408.0 L386.3,407.2 L386.3,406.4 L386.4,405.9 L386.5,405.2 L386.7,404.4 L386.8,403.8 L386.9,403.2 L387.1,402.4 L387.2,402.0 L387.4,401.2 L387.6,400.6 L387.8,400.0 L388.0,399.4 L388.2,398.8 L388.4,398.4 L388.8,397.7 L389.1,397.2 L389.3,396.8 L389.6,396.3 L390.0,395.6 L390.2,395.2 L390.4,394.8 L390.8,394.1 L391.0,393.6 L391.2,393.2 L391.6,392.4 L391.9,392.0 L392.2,391.6 L392.5,391.2 L393.0,390.8 L393.6,390.4 L394.0,390.0 L394.4,389.6 L394.7,389.2 L394.9,388.8 L395.1,388.0 L395.2,387.6 L395.3,386.8 L395.4,386.0 L395.6,385.2 L395.7,384.8 L396.3,384.4Z" fill="none" stroke="#000" stroke-width="0.9"/>
<path d="M394.8,381.2 L395.6,381.0 L396.4,380.9 L397.2,381.0 L397.9,381.2 L398.4,381.4 L398.8,381.6 L399.3,382.0 L399.6,382.4 L400.0,383.1 L400.2,383.6 L400.4,384.0 L400.8,384.8 L401.0,385.2 L401.3,385.6 L401.7,386.0 L402.0,386.5 L402.4,387.1 L402.7,387.6 L402.8,388.0 L403.0,388.8 L403.2,389.6 L403.3,390.0 L403.4,390.8 L403.6,391.6 L403.7,392.0 L403.9,392.8 L404.0,393.2 L404.3,394.0 L404.5,394.4 L404.8,395.1 L405.1,395.6 L405.3,396.0 L405.6,396.6 L405.9,397.2 L406.0,397.6 L406.3,398.4 L406.4,398.8 L406.7,399.6 L406.8,400.2 L407.0,400.8 L407.1,401.6 L407.2,402.0 L407.4,402.8 L407.5,403.6 L407.6,404.1 L407.7,404.8 L407.9,405.6 L408.0,406.4 L408.0,406.8 L408.1,407.6 L408.2,408.4 L408.2,409.2 L408.2,410.0 L408.2,410.8 L408.1,411.6 L408.0,412.4 L408.0,412.8 L407.9,413.6 L407.8,414.4 L407.6,415.2 L407.5,415.6 L407.3,416.4 L407.2,416.8 L406.9,417.6 L406.7,418.0 L406.4,418.7 L406.1,419.2 L405.9,419.6 L405.6,420.0 L405.2,420.7 L404.9,421.2 L404.7,421.6 L404.4,422.1 L404.1,422.8 L403.9,423.2 L403.6,423.9 L403.4,424.4 L403.2,424.9 L402.9,425.6 L402.8,426.0 L402.5,426.8 L402.4,427.2 L402.1,428.0 L402.0,428.4 L401.8,429.2 L401.6,430.0 L401.5,430.4 L401.3,431.2 L401.2,431.7 L401.0,432.4 L400.8,433.0 L400.6,433.6 L400.4,434.2 L400.2,434.8 L400.0,435.3 L399.7,436.0 L399.5,436.4 L399.2,436.9 L398.8,437.4 L398.4,437.9 L398.0,438.3 L397.6,438.7 L397.2,439.0 L396.8,439.2 L396.0,439.5 L395.2,439.6 L394.4,439.4 L393.9,439.2 L393.2,438.8 L392.8,438.4 L392.4,438.0 L392.1,437.6 L391.8,437.2 L391.6,436.8 L391.2,436.0 L391.0,435.6 L390.8,435.1 L390.5,434.4 L390.4,434.0 L390.1,433.2 L389.9,432.8 L389.7,432.0 L389.6,431.6 L389.4,430.8 L389.3,430.0 L389.3,429.2 L389.2,428.7 L389.1,428.0 L388.9,427.2 L388.8,426.5 L388.7,426.0 L388.6,425.2 L388.5,424.4 L388.5,423.6 L388.4,422.8 L388.4,422.4 L388.3,421.6 L388.1,420.8 L388.0,420.3 L387.8,419.6 L387.6,419.1 L387.3,418.4 L387.2,417.9 L387.0,417.2 L386.8,416.5 L386.7,416.0 L386.5,415.2 L386.4,414.5 L386.3,414.0 L386.2,413.2 L386.1,412.4 L386.0,411.6 L386.0,411.2 L385.9,410.4 L385.8,409.6 L385.7,408.8 L385.7,408.0 L385.6,407.2 L385.7,406.4 L385.8,405.6 L385.9,404.8 L386.0,404.2 L386.1,403.6 L386.3,402.8 L386.4,402.4 L386.6,401.6 L386.8,400.9 L386.9,400.4 L387.2,399.6 L387.3,399.2 L387.6,398.4 L387.8,398.0 L388.0,397.6 L388.4,396.8 L388.6,396.4 L388.8,396.0 L389.2,395.2 L389.4,394.8 L389.6,394.3 L389.9,393.6 L390.1,393.2 L390.3,392.4 L390.5,392.0 L390.8,391.2 L391.0,390.8 L391.2,390.4 L391.6,389.8 L392.0,389.3 L392.3,388.8 L392.5,388.4 L392.8,387.6 L392.8,387.2 L392.9,386.4 L392.9,385.6 L392.9,384.8 L393.0,384.0 L393.2,383.2 L393.4,382.8 L393.6,382.3 L394.0,381.8 L394.4,381.5 L394.8,381.2Z" fill="none" stroke="#000" stroke-width="0.9"/>
<path d="M394.4,378.8 L395.2,378.6 L396.0,378.5 L396.8,378.5 L397.6,378.5 L398.4,378.6 L399.2,378.8 L399.6,378.9 L400.3,379.2 L400.8,379.5 L401.2,379.8 L401.6,380.3 L402.0,380.8 L402.2,381.2 L402.5,381.6 L402.8,382.3 L403.0,382.8 L403.2,383.2 L403.5,384.0 L403.7,384.4 L404.0,385.0 L404.3,385.6 L404.4,386.0 L404.7,386.8 L404.8,387.5 L404.9,388.0 L404.9,388.8 L404.9,389.6 L404.9,390.4 L404.9,391.2 L405.1,392.0 L405.2,392.6 L405.4,393.2 L405.6,393.6 L406.0,394.4 L406.2,394.8 L406.4,395.2 L406.8,396.0 L407.0,396.4 L407.2,397.0 L407.4,397.6 L407.6,398.2 L407.8,398.8 L408.0,399.6 L408.1,400.0 L408.2,400.8 L408.4,401.6 L408.5,402.0 L408.6,402.8 L408.8,403.6 L408.9,404.0 L409.0,404.8 L409.2,405.6 L409.2,406.0 L409.4,406.8 L409.5,407.6 L409.6,408.3 L409.6,408.8 L409.6,409.6 L409.6,410.1 L409.6,410.8 L409.5,411.6 L409.4,412.4 L409.3,413.2 L409.2,413.9 L409.1,414.4 L408.9,415.2 L408.8,415.8 L408.7,416.4 L408.4,417.2 L408.3,417.6 L408.0,418.4 L407.8,418.8 L407.6,419.3 L407.2,420.0 L407.0,420.4 L406.7,420.8 L406.4,421.3 L406.0,422.0 L405.8,422.4 L405.5,422.8 L405.2,423.4 L404.9,424.0 L404.7,424.4 L404.4,425.1 L404.2,425.6 L404.0,426.1 L403.7,426.8 L403.6,427.2 L403.3,428.0 L403.1,428.4 L402.9,429.2 L402.8,429.6 L402.5,430.4 L402.4,430.9 L402.2,431.6 L402.0,432.3 L401.9,432.8 L401.6,433.6 L401.5,434.0 L401.3,434.8 L401.1,435.2 L400.8,436.0 L400.7,436.4 L400.4,437.0 L400.1,437.6 L399.8,438.0 L399.5,438.4 L399.2,438.9 L398.8,439.4 L398.4,439.8 L398.0,440.1 L397.6,440.4 L396.9,440.8 L396.4,441.0 L395.6,441.1 L394.8,441.1 L394.0,440.9 L393.6,440.7 L393.2,440.4 L392.7,440.0 L392.3,439.6 L391.9,439.2 L391.6,438.8 L391.2,438.2 L390.9,437.6 L390.7,437.2 L390.4,436.6 L390.2,436.0 L390.0,435.6 L389.7,434.8 L389.6,434.4 L389.3,433.6 L389.1,433.2 L388.9,432.4 L388.8,432.0 L388.6,431.2 L388.5,430.4 L388.4,429.6 L388.4,429.2 L388.3,428.4 L388.1,427.6 L388.0,426.8 L387.9,426.4 L387.8,425.6 L387.7,424.8 L387.7,424.0 L387.6,423.2 L387.6,422.8 L387.4,422.0 L387.3,421.2 L387.2,420.8 L386.9,420.0 L386.7,419.6 L386.5,418.8 L386.3,418.4 L386.1,417.6 L386.0,417.2 L385.8,416.4 L385.6,415.6 L385.6,415.2 L385.4,414.4 L385.3,413.6 L385.2,413.2 L385.1,412.4 L385.0,411.6 L384.9,410.8 L384.9,410.0 L384.8,409.2 L384.8,408.8 L384.7,408.0 L384.7,407.2 L384.8,406.4 L384.8,406.0 L384.9,405.2 L385.0,404.4 L385.2,403.6 L385.2,403.2 L385.4,402.4 L385.6,401.8 L385.7,401.2 L385.9,400.4 L386.0,400.0 L386.2,399.2 L386.4,398.7 L386.7,398.0 L386.8,397.6 L387.2,396.8 L387.3,396.4 L387.6,395.8 L387.9,395.2 L388.0,394.8 L388.4,394.0 L388.5,393.6 L388.8,392.8 L388.9,392.4 L389.1,391.6 L389.2,391.1 L389.4,390.4 L389.6,389.7 L389.8,389.2 L390.0,388.7 L390.2,388.0 L390.4,387.3 L390.5,386.8 L390.6,386.0 L390.6,385.2 L390.7,384.4 L390.8,384.0 L391.0,383.2 L391.2,382.6 L391.4,382.0 L391.6,381.6 L392.0,380.8 L392.3,380.4 L392.6,380.0 L393.1,379.6 L393.6,379.2 L394.0,379.0 L394.4,378.8Z" fill="none" stroke="#000" stroke-width="0.9"/>
<path d="M394.1,375.2 L394.8,375.0 L395.6,375.0 L396.4,375.0 L397.2,375.1 L398.0,375.2 L398.4,375.3 L399.2,375.5 L399.7,375.6 L400.4,375.8 L400.9,376.0 L401.6,376.4 L402.0,376.6 L402.4,376.9 L402.8,377.2 L403.2,377.6 L403.6,378.0 L404.0,378.4 L404.4,379.0 L404.8,379.6 L405.0,380.0 L405.2,380.4 L405.5,381.2 L405.7,381.6 L405.9,382.4 L406.1,382.8 L406.3,383.6 L406.5,384.0 L406.8,384.8 L406.9,385.2 L407.1,386.0 L407.2,386.8 L407.2,387.2 L407.3,388.0 L407.4,388.8 L407.5,389.6 L407.6,390.4 L407.6,390.8 L407.8,391.6 L408.0,392.1 L408.3,392.8 L408.4,393.2 L408.8,394.0 L408.9,394.4 L409.2,395.0 L409.4,395.6 L409.6,396.2 L409.8,396.8 L409.9,397.6 L410.0,398.0 L410.1,398.8 L410.3,399.6 L410.4,400.1 L410.6,400.8 L410.8,401.6 L410.8,402.0 L411.0,402.8 L411.1,403.6 L411.2,404.2 L411.3,404.8 L411.4,405.6 L411.6,406.4 L411.6,406.8 L411.8,407.6 L411.9,408.4 L411.9,409.2 L411.8,410.0 L411.8,410.8 L411.7,411.6 L411.6,412.4 L411.6,412.8 L411.5,413.6 L411.3,414.4 L411.2,414.8 L411.0,415.6 L410.8,416.4 L410.7,416.8 L410.5,417.6 L410.4,418.1 L410.2,418.8 L410.0,419.4 L409.8,420.0 L409.6,420.5 L409.4,421.2 L409.2,421.6 L408.9,422.4 L408.7,422.8 L408.4,423.3 L408.0,424.0 L407.7,424.4 L407.4,424.8 L407.2,425.2 L406.8,425.8 L406.5,426.4 L406.4,426.8 L406.0,427.6 L405.8,428.0 L405.6,428.4 L405.2,429.1 L404.9,429.6 L404.7,430.0 L404.4,430.6 L404.2,431.2 L404.0,431.6 L403.7,432.4 L403.6,432.8 L403.4,433.6 L403.2,434.1 L403.0,434.8 L402.8,435.5 L402.6,436.0 L402.4,436.6 L402.1,437.2 L401.9,437.6 L401.6,438.2 L401.3,438.8 L401.1,439.2 L400.8,439.7 L400.4,440.4 L400.2,440.8 L399.9,441.2 L399.5,441.6 L399.1,442.0 L398.7,442.4 L398.1,442.8 L397.6,443.0 L397.2,443.2 L396.4,443.5 L395.7,443.6 L395.2,443.6 L394.7,443.6 L394.0,443.4 L393.4,443.2 L392.8,442.8 L392.4,442.5 L392.0,442.1 L391.6,441.7 L391.2,441.2 L390.9,440.8 L390.6,440.4 L390.4,440.0 L390.0,439.3 L389.7,438.8 L389.6,438.4 L389.2,437.6 L389.1,437.2 L388.8,436.4 L388.7,436.0 L388.4,435.2 L388.3,434.8 L388.0,434.0 L387.9,433.6 L387.6,432.8 L387.5,432.4 L387.4,431.6 L387.3,430.8 L387.2,430.3 L387.1,429.6 L387.0,428.8 L386.8,428.0 L386.7,427.6 L386.6,426.8 L386.4,426.0 L386.4,425.6 L386.3,424.8 L386.2,424.0 L386.1,423.2 L386.0,422.6 L385.9,422.0 L385.6,421.2 L385.5,420.8 L385.2,420.0 L385.1,419.6 L384.8,418.8 L384.7,418.4 L384.5,417.6 L384.4,417.2 L384.2,416.4 L384.1,415.6 L384.0,415.2 L383.8,414.4 L383.6,413.6 L383.6,413.2 L383.5,412.4 L383.4,411.6 L383.3,410.8 L383.3,410.0 L383.3,409.2 L383.3,408.4 L383.3,407.6 L383.3,406.8 L383.3,406.0 L383.4,405.2 L383.4,404.4 L383.6,403.6 L383.6,403.2 L383.8,402.4 L384.0,401.6 L384.1,401.2 L384.3,400.4 L384.4,399.9 L384.6,399.2 L384.8,398.4 L384.9,398.0 L385.2,397.2 L385.3,396.8 L385.6,396.0 L385.7,395.6 L386.0,394.8 L386.1,394.4 L386.3,393.6 L386.4,393.2 L386.7,392.4 L386.8,391.8 L386.9,391.2 L387.1,390.4 L387.2,390.0 L387.4,389.2 L387.6,388.4 L387.6,388.0 L387.8,387.2 L387.9,386.4 L387.9,385.6 L388.0,385.0 L388.1,384.4 L388.2,383.6 L388.4,382.8 L388.5,382.4 L388.7,381.6 L388.9,381.2 L389.2,380.4 L389.3,380.0 L389.6,379.4 L390.0,378.8 L390.2,378.4 L390.5,378.0 L390.8,377.6 L391.2,377.2 L391.6,376.8 L392.0,376.4 L392.5,376.0 L393.2,375.6 L393.6,375.4 L394.1,375.2Z" fill="none" stroke="#555" stroke-width="0.9"/>
<path d="M346.2,363.0 L347.0,362.9 L347.8,362.9 L348.2,363.0 L349.0,363.3 L349.4,363.5 L350.0,363.8 L350.6,364.1 L351.0,364.3 L351.5,364.6 L352.2,364.9 L352.6,365.0 L353.4,365.2 L354.1,365.4 L354.6,365.6 L355.0,365.9 L355.4,366.2 L356.0,366.6 L356.6,367.0 L357.0,367.2 L357.4,367.5 L357.8,367.9 L358.2,368.3 L358.6,368.7 L359.0,369.1 L359.4,369.4 L360.0,369.8 L360.6,370.1 L361.0,370.2 L361.7,370.6 L362.2,370.9 L362.6,371.1 L363.0,371.5 L363.4,372.0 L363.7,372.6 L364.0,373.0 L364.3,373.4 L364.6,373.8 L365.0,374.2 L365.4,374.7 L365.6,375.4 L365.5,376.2 L365.4,376.6 L365.1,377.4 L365.0,377.8 L364.9,378.6 L364.8,379.4 L364.8,380.2 L364.7,381.0 L364.6,381.6 L364.4,382.2 L364.3,383.0 L364.3,383.8 L364.4,384.6 L364.6,385.3 L364.8,385.8 L365.0,386.6 L365.0,387.0 L365.2,387.8 L365.4,388.6 L365.5,389.0 L365.8,389.5 L366.2,389.8 L366.9,390.2 L367.4,390.4 L368.2,390.6 L368.6,390.7 L369.4,390.8 L370.2,390.8 L371.0,390.9 L371.4,391.0 L372.2,391.3 L372.6,391.6 L373.0,391.8 L373.6,392.2 L374.2,392.5 L374.6,392.6 L375.4,392.7 L376.2,392.8 L377.0,393.0 L377.4,393.0 L378.2,393.2 L378.7,393.4 L379.4,393.6 L380.1,393.8 L380.6,393.9 L381.4,393.9 L382.2,393.9 L382.6,393.7 L383.1,393.4 L383.6,393.0 L383.9,392.6 L384.2,392.2 L384.6,391.6 L384.9,391.0 L385.1,390.6 L385.3,389.8 L385.4,389.0 L385.4,388.2 L385.4,387.8 L385.6,387.0 L385.8,386.4 L386.1,385.8 L386.3,385.4 L386.6,384.6 L386.8,384.2 L387.0,383.6 L387.2,383.0 L387.4,382.5 L387.7,381.8 L387.8,381.4 L388.1,380.6 L388.2,380.2 L388.5,379.4 L388.6,379.0 L388.9,378.2 L389.1,377.8 L389.3,377.0 L389.5,376.6 L389.8,376.1 L390.2,375.4 L390.6,375.0 L390.9,374.6 L391.4,374.2 L391.8,373.9 L392.2,373.7 L392.9,373.4 L393.4,373.3 L394.2,373.1 L394.7,373.0 L395.4,372.8 L396.2,372.6 L396.6,372.6 L397.4,372.6 L397.8,372.6 L398.6,372.8 L399.4,373.0 L399.8,373.2 L400.2,373.4 L400.9,373.8 L401.4,374.1 L401.8,374.4 L402.2,374.7 L402.6,375.0 L403.0,375.4 L403.4,375.8 L403.8,376.2 L404.2,376.6 L404.6,377.1 L405.0,377.5 L405.4,377.9 L405.8,378.4 L406.2,378.9 L406.5,379.4 L406.8,379.8 L407.0,380.2 L407.4,380.9 L407.6,381.4 L407.8,382.1 L407.9,382.6 L408.0,383.4 L408.1,384.2 L408.2,384.8 L408.5,385.4 L408.7,385.8 L409.0,386.3 L409.3,387.0 L409.4,387.4 L409.6,388.2 L409.6,389.0 L409.8,389.8 L409.9,390.2 L410.2,391.0 L410.3,391.4 L410.5,392.2 L410.6,392.6 L410.9,393.4 L411.1,393.8 L411.4,394.3 L411.7,395.0 L411.9,395.4 L412.2,396.2 L412.2,396.6 L412.2,397.4 L412.2,397.8 L412.1,398.6 L412.1,399.4 L412.2,399.9 L412.4,400.6 L412.6,401.1 L412.9,401.8 L413.0,402.3 L413.1,403.0 L413.2,403.8 L413.0,404.6 L412.9,405.0 L412.7,405.8 L412.6,406.2 L412.5,407.0 L412.5,407.8 L412.6,408.6 L412.7,409.0 L412.8,409.8 L413.0,410.6 L413.0,411.0 L413.1,411.8 L413.2,412.6 L413.2,413.4 L413.1,414.2 L413.0,414.7 L412.9,415.4 L412.8,416.2 L412.7,417.0 L412.6,417.7 L412.5,418.2 L412.2,418.8 L411.9,419.4 L411.7,419.8 L411.4,420.5 L411.2,421.0 L411.0,421.4 L410.6,422.2 L410.4,422.6 L410.2,423.0 L409.8,423.7 L409.6,424.2 L409.4,424.6 L409.0,425.2 L408.6,425.7 L408.2,426.2 L407.8,426.6 L407.5,427.0 L407.3,427.4 L407.0,428.1 L406.8,428.6 L406.6,429.2 L406.3,429.8 L406.0,430.2 L405.7,430.6 L405.4,431.1 L405.0,431.8 L404.9,432.2 L404.6,432.9 L404.5,433.4 L404.2,434.2 L404.1,434.6 L403.8,435.4 L403.7,435.8 L403.4,436.6 L403.3,437.0 L403.0,437.8 L402.9,438.2 L402.6,439.0 L402.4,439.4 L402.2,439.8 L401.8,440.5 L401.4,441.0 L401.1,441.4 L400.8,441.8 L400.5,442.2 L400.2,442.6 L399.8,443.1 L399.4,443.5 L399.0,443.8 L398.5,444.2 L397.8,444.6 L397.4,444.7 L396.6,444.9 L395.8,445.0 L395.0,444.8 L394.4,444.6 L393.8,444.4 L393.4,444.2 L392.6,443.8 L392.2,443.5 L391.8,443.2 L391.4,442.9 L391.0,442.5 L390.6,442.0 L390.2,441.4 L390.0,441.0 L389.8,440.6 L389.4,440.0 L389.1,439.4 L388.9,439.0 L388.6,438.4 L388.4,437.8 L388.2,437.4 L387.9,436.6 L387.8,436.2 L387.5,435.4 L387.4,434.8 L387.2,434.2 L387.1,433.4 L387.0,433.0 L386.8,432.2 L386.7,431.4 L386.6,430.9 L386.5,430.2 L386.5,429.4 L386.4,428.6 L386.3,427.8 L386.2,427.3 L386.0,426.6 L385.8,426.0 L385.6,425.4 L385.4,425.0 L385.1,424.2 L384.9,423.8 L384.6,423.0 L384.4,422.6 L384.2,422.0 L383.9,421.4 L383.7,421.0 L383.4,420.5 L383.0,420.0 L382.6,419.7 L382.1,419.4 L381.4,419.2 L380.6,419.1 L379.8,419.1 L379.0,419.2 L378.2,419.3 L377.4,419.3 L376.6,419.4 L375.8,419.4 L375.0,419.3 L374.2,419.3 L373.4,419.3 L373.0,419.4 L372.2,419.8 L371.8,420.0 L371.4,420.3 L370.8,420.6 L370.2,420.9 L369.7,421.0 L369.0,421.1 L368.2,421.1 L367.4,421.0 L367.0,421.0 L366.2,420.8 L365.4,420.8 L364.6,420.7 L363.8,420.7 L363.0,420.9 L362.6,421.0 L361.8,421.4 L361.4,421.5 L360.6,421.8 L360.2,421.9 L359.4,422.1 L358.7,422.2 L358.2,422.3 L357.5,422.6 L357.0,422.9 L356.6,423.1 L356.2,423.4 L355.6,423.8 L355.1,424.2 L354.6,424.6 L354.2,424.8 L353.8,425.1 L353.1,425.4 L352.6,425.6 L352.2,425.8 L351.4,426.2 L351.0,426.4 L350.6,426.7 L350.2,427.0 L349.7,427.4 L349.2,427.8 L348.6,428.2 L348.2,428.4 L347.6,428.6 L347.0,428.9 L346.6,429.1 L346.0,429.4 L345.4,429.7 L345.0,429.8 L344.2,430.2 L343.8,430.3 L343.0,430.6 L342.6,430.7 L341.8,431.0 L341.4,431.0 L340.6,431.2 L339.8,431.2 L339.0,431.2 L338.2,431.1 L337.7,431.0 L337.0,430.9 L336.2,430.9 L335.6,431.0 L335.0,431.2 L334.2,431.4 L333.8,431.5 L333.0,431.5 L332.5,431.4 L331.8,431.1 L331.4,430.8 L330.9,430.6 L330.2,430.3 L329.8,430.2 L329.0,429.9 L328.6,429.8 L327.8,429.5 L327.4,429.4 L326.6,429.0 L326.2,428.8 L325.7,428.6 L325.0,428.2 L324.6,428.1 L324.1,427.8 L323.4,427.5 L323.0,427.3 L322.6,427.0 L322.0,426.6 L321.5,426.2 L321.1,425.8 L320.8,425.4 L320.5,425.0 L320.2,424.6 L319.8,424.0 L319.4,423.5 L319.0,423.1 L318.6,422.7 L318.2,422.3 L317.8,422.0 L317.4,421.5 L317.0,421.0 L316.7,420.6 L316.5,420.2 L316.2,419.5 L316.1,419.0 L315.9,418.2 L315.7,417.8 L315.4,417.2 L315.0,416.7 L314.6,416.2 L314.3,415.8 L314.1,415.4 L313.8,414.6 L313.7,414.2 L313.5,413.4 L313.4,413.0 L313.2,412.2 L313.1,411.4 L313.1,410.6 L313.1,409.8 L313.0,409.4 L312.8,408.6 L312.6,408.0 L312.4,407.4 L312.3,406.6 L312.5,405.8 L312.6,405.4 L313.0,404.7 L313.3,404.2 L313.5,403.8 L313.8,403.0 L313.8,402.6 L313.8,402.1 L313.7,401.4 L313.7,400.6 L313.8,400.2 L314.2,399.5 L314.5,399.0 L314.7,398.6 L315.0,398.0 L315.2,397.4 L315.4,396.7 L315.5,396.2 L315.8,395.4 L315.9,395.0 L316.2,394.4 L316.5,393.8 L316.7,393.4 L317.0,393.0 L317.4,392.4 L317.8,391.9 L318.2,391.4 L318.4,391.0 L318.5,390.2 L318.6,389.8 L318.8,389.0 L319.0,388.6 L319.4,388.0 L319.8,387.6 L320.2,387.2 L320.6,386.8 L321.0,386.3 L321.2,385.8 L321.4,385.0 L321.4,384.4 L321.4,383.8 L321.4,383.0 L321.4,382.5 L321.3,381.8 L321.3,381.0 L321.2,380.2 L321.2,379.4 L321.3,378.6 L321.4,377.8 L321.5,377.4 L321.7,376.6 L321.8,376.2 L322.1,375.4 L322.3,375.0 L322.6,374.4 L322.9,373.8 L323.1,373.4 L323.4,372.6 L323.5,372.2 L323.8,371.4 L323.9,371.0 L324.2,370.3 L324.5,369.8 L324.8,369.4 L325.2,369.0 L325.8,368.6 L326.2,368.3 L326.6,368.1 L327.2,367.8 L327.8,367.4 L328.2,367.1 L328.6,366.7 L329.0,366.4 L329.4,366.1 L329.9,365.8 L330.6,365.4 L331.0,365.2 L331.4,365.0 L332.1,364.6 L332.6,364.4 L333.0,364.2 L333.8,363.9 L334.2,363.7 L335.0,363.4 L335.4,363.3 L336.2,363.2 L337.0,363.3 L337.7,363.4 L338.2,363.5 L339.0,363.6 L339.8,363.7 L340.6,363.6 L341.4,363.6 L342.2,363.6 L343.0,363.6 L343.8,363.6 L344.6,363.4 L345.0,363.3 L345.8,363.1 L346.2,363.0Z" fill="none" stroke="#222" stroke-width="1.0"/>
<path d="M316.2,406 C316.2,397 320,392.5 324.5,391 C326.5,391 325,393.5 323,395.5 C320,399 319.3,405 320,412 C320.8,418 316.8,416 316.2,406Z" fill="#000"/>
<path d="M411.9,373.3h0.95v0.95h-0.95zM320.2,378.2h0.95v0.95h-0.95zM359.6,364.2h0.95v0.95h-0.95zM412.2,354.9h0.95v0.95h-0.95zM390.1,364.4h0.95v0.95h-0.95zM368.0,359.9h0.95v0.95h-0.95zM389.1,369.3h0.95v0.95h-0.95zM339.5,355.8h0.95v0.95h-0.95zM386.1,341.2h0.95v0.95h-0.95zM416.7,382.6h0.95v0.95h-0.95zM370.3,348.0h0.95v0.95h-0.95zM327.5,359.9h0.95v0.95h-0.95zM352.0,357.3h0.95v0.95h-0.95zM416.0,379.3h0.95v0.95h-0.95zM395.2,365.6h0.95v0.95h-0.95zM407.8,358.6h0.95v0.95h-0.95zM371.2,377.6h0.95v0.95h-0.95zM333.7,355.0h0.95v0.95h-0.95zM411.7,370.0h0.95v0.95h-0.95zM421.2,375.5h0.95v0.95h-0.95zM403.2,365.0h0.95v0.95h-0.95zM424.4,361.6h0.95v0.95h-0.95zM431.4,374.8h0.95v0.95h-0.95zM360.0,358.1h0.95v0.95h-0.95zM350.9,345.0h0.95v0.95h-0.95zM367.4,363.2h0.95v0.95h-0.95zM417.0,348.1h0.95v0.95h-0.95zM332.1,363.4h0.95v0.95h-0.95zM431.8,372.3h0.95v0.95h-0.95zM384.0,379.9h0.95v0.95h-0.95zM324.4,362.0h0.95v0.95h-0.95zM420.8,359.3h0.95v0.95h-0.95zM387.4,366.7h0.95v0.95h-0.95zM416.4,364.9h0.95v0.95h-0.95zM388.5,365.8h0.95v0.95h-0.95zM427.5,383.4h0.95v0.95h-0.95zM393.5,362.4h0.95v0.95h-0.95zM425.6,358.7h0.95v0.95h-0.95zM426.2,378.7h0.95v0.95h-0.95zM383.5,358.8h0.95v0.95h-0.95zM317.0,365.4h0.95v0.95h-0.95zM326.7,357.3h0.95v0.95h-0.95zM426.7,363.8h0.95v0.95h-0.95zM426.1,375.5h0.95v0.95h-0.95zM382.8,368.5h0.95v0.95h-0.95zM416.1,379.7h0.95v0.95h-0.95zM318.0,367.3h0.95v0.95h-0.95zM366.6,375.2h0.95v0.95h-0.95zM415.9,369.8h0.95v0.95h-0.95zM366.7,359.0h0.95v0.95h-0.95zM405.3,377.7h0.95v0.95h-0.95zM323.8,368.1h0.95v0.95h-0.95zM409.4,378.7h0.95v0.95h-0.95zM411.7,377.8h0.95v0.95h-0.95zM380.5,368.3h0.95v0.95h-0.95zM381.6,366.4h0.95v0.95h-0.95zM363.0,370.9h0.95v0.95h-0.95zM362.7,366.2h0.95v0.95h-0.95zM329.8,353.4h0.95v0.95h-0.95zM386.5,358.5h0.95v0.95h-0.95zM395.6,356.7h0.95v0.95h-0.95zM377.1,381.7h0.95v0.95h-0.95zM377.5,376.2h0.95v0.95h-0.95zM367.7,379.3h0.95v0.95h-0.95zM394.2,363.2h0.95v0.95h-0.95zM320.1,373.9h0.95v0.95h-0.95zM409.0,372.5h0.95v0.95h-0.95zM380.4,383.3h0.95v0.95h-0.95zM423.6,362.7h0.95v0.95h-0.95zM320.2,346.0h0.95v0.95h-0.95zM419.3,354.1h0.95v0.95h-0.95zM411.3,373.9h0.95v0.95h-0.95zM389.2,367.8h0.95v0.95h-0.95zM394.5,346.4h0.95v0.95h-0.95zM393.3,362.0h0.95v0.95h-0.95zM320.2,338.2h0.95v0.95h-0.95zM373.6,380.4h0.95v0.95h-0.95zM405.8,375.5h0.95v0.95h-0.95zM366.1,359.1h0.95v0.95h-0.95zM369.9,360.8h0.95v0.95h-0.95zM373.0,372.6h0.95v0.95h-0.95zM381.8,343.0h0.95v0.95h-0.95zM328.0,349.4h0.95v0.95h-0.95zM344.3,361.3h0.95v0.95h-0.95zM370.3,351.4h0.95v0.95h-0.95zM418.8,382.5h0.95v0.95h-0.95zM325.7,358.6h0.95v0.95h-0.95zM361.7,365.2h0.95v0.95h-0.95zM385.3,352.7h0.95v0.95h-0.95zM420.9,372.9h0.95v0.95h-0.95zM410.8,379.4h0.95v0.95h-0.95zM343.5,349.4h0.95v0.95h-0.95zM378.6,364.7h0.95v0.95h-0.95zM413.6,370.3h0.95v0.95h-0.95zM407.3,366.5h0.95v0.95h-0.95zM367.2,344.5h0.95v0.95h-0.95zM429.4,370.7h0.95v0.95h-0.95zM385.4,348.8h0.95v0.95h-0.95zM387.0,343.9h0.95v0.95h-0.95zM412.4,376.7h0.95v0.95h-0.95zM352.5,347.4h0.95v0.95h-0.95zM343.1,351.8h0.95v0.95h-0.95zM426.9,365.4h0.95v0.95h-0.95zM333.2,362.1h0.95v0.95h-0.95zM415.6,369.9h0.95v0.95h-0.95zM334.1,358.4h0.95v0.95h-0.95zM380.3,369.7h0.95v0.95h-0.95zM379.5,364.9h0.95v0.95h-0.95zM370.8,364.2h0.95v0.95h-0.95zM389.1,377.1h0.95v0.95h-0.95zM391.4,362.1h0.95v0.95h-0.95zM420.5,355.7h0.95v0.95h-0.95zM322.4,361.1h0.95v0.95h-0.95zM370.5,341.7h0.95v0.95h-0.95zM388.1,347.2h0.95v0.95h-0.95zM378.2,356.7h0.95v0.95h-0.95zM403.2,366.8h0.95v0.95h-0.95zM413.4,347.9h0.95v0.95h-0.95zM387.1,354.1h0.95v0.95h-0.95zM320.4,378.6h0.95v0.95h-0.95zM402.6,354.4h0.95v0.95h-0.95zM338.7,359.3h0.95v0.95h-0.95zM368.2,371.9h0.95v0.95h-0.95zM369.6,363.7h0.95v0.95h-0.95zM397.1,360.3h0.95v0.95h-0.95zM423.9,362.1h0.95v0.95h-0.95zM427.5,371.2h0.95v0.95h-0.95zM389.5,365.0h0.95v0.95h-0.95zM424.2,372.9h0.95v0.95h-0.95zM429.9,370.7h0.95v0.95h-0.95zM342.6,354.2h0.95v0.95h-0.95zM336.4,358.8h0.95v0.95h-0.95zM401.1,364.9h0.95v0.95h-0.95zM388.0,344.4h0.95v0.95h-0.95zM411.6,352.8h0.95v0.95h-0.95zM333.3,350.5h0.95v0.95h-0.95zM326.1,365.6h0.95v0.95h-0.95zM411.9,381.4h0.95v0.95h-0.95zM409.1,382.0h0.95v0.95h-0.95zM374.5,346.9h0.95v0.95h-0.95zM408.3,361.1h0.95v0.95h-0.95zM430.4,380.8h0.95v0.95h-0.95zM416.1,370.4h0.95v0.95h-0.95zM320.7,364.6h0.95v0.95h-0.95zM366.5,338.4h0.95v0.95h-0.95zM389.8,356.9h0.95v0.95h-0.95zM403.7,372.2h0.95v0.95h-0.95zM376.5,366.3h0.95v0.95h-0.95zM391.8,369.0h0.95v0.95h-0.95zM335.2,362.2h0.95v0.95h-0.95zM398.7,366.0h0.95v0.95h-0.95zM403.9,373.4h0.95v0.95h-0.95zM322.4,359.1h0.95v0.95h-0.95zM388.5,360.1h0.95v0.95h-0.95zM390.5,370.3h0.95v0.95h-0.95zM317.7,381.9h0.95v0.95h-0.95zM371.9,348.5h0.95v0.95h-0.95zM421.5,363.4h0.95v0.95h-0.95zM341.0,350.3h0.95v0.95h-0.95zM416.4,360.7h0.95v0.95h-0.95zM422.9,382.7h0.95v0.95h-0.95zM412.2,357.8h0.95v0.95h-0.95zM365.3,366.4h0.95v0.95h-0.95zM430.8,377.1h0.95v0.95h-0.95zM389.7,351.7h0.95v0.95h-0.95zM371.5,366.6h0.95v0.95h-0.95zM401.4,373.7h0.95v0.95h-0.95zM372.5,361.6h0.95v0.95h-0.95zM416.0,346.6h0.95v0.95h-0.95zM385.7,364.3h0.95v0.95h-0.95zM419.9,367.1h0.95v0.95h-0.95zM431.4,376.2h0.95v0.95h-0.95zM414.1,382.5h0.95v0.95h-0.95zM316.8,377.6h0.95v0.95h-0.95zM428.9,373.2h0.95v0.95h-0.95zM316.1,379.4h0.95v0.95h-0.95zM363.0,360.7h0.95v0.95h-0.95zM394.5,349.0h0.95v0.95h-0.95zM366.7,380.1h0.95v0.95h-0.95zM424.0,366.1h0.95v0.95h-0.95zM375.0,377.3h0.95v0.95h-0.95zM425.9,356.6h0.95v0.95h-0.95zM319.9,378.6h0.95v0.95h-0.95zM336.1,359.3h0.95v0.95h-0.95zM394.0,353.6h0.95v0.95h-0.95zM369.4,366.2h0.95v0.95h-0.95zM427.1,354.6h0.95v0.95h-0.95zM328.2,365.1h0.95v0.95h-0.95zM348.3,350.2h0.95v0.95h-0.95zM331.8,343.7h0.95v0.95h-0.95zM358.1,364.4h0.95v0.95h-0.95zM431.8,381.7h0.95v0.95h-0.95zM393.2,352.1h0.95v0.95h-0.95zM364.4,371.8h0.95v0.95h-0.95zM395.1,363.2h0.95v0.95h-0.95zM369.6,348.4h0.95v0.95h-0.95zM401.8,371.9h0.95v0.95h-0.95zM358.0,366.6h0.95v0.95h-0.95zM316.7,366.2h0.95v0.95h-0.95zM331.8,464.2h0.95v0.95h-0.95zM342.4,450.7h0.95v0.95h-0.95zM390.2,454.8h0.95v0.95h-0.95zM354.2,442.7h0.95v0.95h-0.95zM331.2,446.3h0.95v0.95h-0.95zM347.3,452.5h0.95v0.95h-0.95zM315.5,443.0h0.95v0.95h-0.95zM356.7,432.7h0.95v0.95h-0.95zM330.2,437.5h0.95v0.95h-0.95zM361.2,444.2h0.95v0.95h-0.95zM326.3,447.7h0.95v0.95h-0.95zM380.4,451.2h0.95v0.95h-0.95zM315.4,450.8h0.95v0.95h-0.95zM334.5,463.0h0.95v0.95h-0.95zM402.8,449.5h0.95v0.95h-0.95zM336.2,432.6h0.95v0.95h-0.95zM377.2,430.9h0.95v0.95h-0.95zM315.9,444.1h0.95v0.95h-0.95zM411.1,445.5h0.95v0.95h-0.95zM396.6,458.1h0.95v0.95h-0.95zM317.2,438.2h0.95v0.95h-0.95zM368.2,442.9h0.95v0.95h-0.95zM356.7,459.8h0.95v0.95h-0.95zM399.7,446.5h0.95v0.95h-0.95zM314.2,463.0h0.95v0.95h-0.95zM410.3,457.6h0.95v0.95h-0.95zM345.4,434.8h0.95v0.95h-0.95zM378.3,464.2h0.95v0.95h-0.95zM322.8,439.1h0.95v0.95h-0.95zM338.0,442.2h0.95v0.95h-0.95zM377.4,436.3h0.95v0.95h-0.95zM363.3,466.0h0.95v0.95h-0.95zM374.7,437.9h0.95v0.95h-0.95zM375.7,453.1h0.95v0.95h-0.95zM331.2,440.9h0.95v0.95h-0.95zM327.1,433.5h0.95v0.95h-0.95zM352.4,435.5h0.95v0.95h-0.95zM353.5,432.4h0.95v0.95h-0.95zM406.0,453.2h0.95v0.95h-0.95zM317.4,464.9h0.95v0.95h-0.95zM360.2,446.9h0.95v0.95h-0.95zM405.0,447.8h0.95v0.95h-0.95zM407.8,436.4h0.95v0.95h-0.95zM359.7,443.5h0.95v0.95h-0.95zM370.1,435.8h0.95v0.95h-0.95zM323.7,432.6h0.95v0.95h-0.95zM380.5,449.6h0.95v0.95h-0.95zM358.4,434.1h0.95v0.95h-0.95zM312.4,432.4h0.95v0.95h-0.95zM348.4,454.2h0.95v0.95h-0.95zM312.1,440.6h0.95v0.95h-0.95zM335.7,432.9h0.95v0.95h-0.95zM321.3,454.9h0.95v0.95h-0.95zM345.5,434.9h0.95v0.95h-0.95zM379.3,453.7h0.95v0.95h-0.95zM341.9,448.1h0.95v0.95h-0.95zM326.2,452.5h0.95v0.95h-0.95zM362.5,439.9h0.95v0.95h-0.95zM324.4,449.9h0.95v0.95h-0.95zM382.3,428.5h0.95v0.95h-0.95zM385.5,431.6h0.95v0.95h-0.95zM326.5,436.5h0.95v0.95h-0.95zM325.7,430.2h0.95v0.95h-0.95zM338.4,432.9h0.95v0.95h-0.95zM411.6,431.0h0.95v0.95h-0.95zM378.5,429.6h0.95v0.95h-0.95zM354.3,442.7h0.95v0.95h-0.95zM336.6,452.9h0.95v0.95h-0.95zM314.2,436.8h0.95v0.95h-0.95zM411.3,439.8h0.95v0.95h-0.95zM316.7,436.9h0.95v0.95h-0.95zM374.1,444.0h0.95v0.95h-0.95zM353.2,449.4h0.95v0.95h-0.95zM359.8,439.8h0.95v0.95h-0.95zM410.7,441.4h0.95v0.95h-0.95zM411.0,452.1h0.95v0.95h-0.95zM387.2,435.5h0.95v0.95h-0.95zM407.0,446.9h0.95v0.95h-0.95zM354.9,439.6h0.95v0.95h-0.95zM389.3,454.0h0.95v0.95h-0.95zM355.6,433.7h0.95v0.95h-0.95zM323.5,434.9h0.95v0.95h-0.95zM358.6,442.4h0.95v0.95h-0.95zM341.5,465.3h0.95v0.95h-0.95zM323.3,436.4h0.95v0.95h-0.95zM348.2,432.1h0.95v0.95h-0.95zM374.2,437.7h0.95v0.95h-0.95zM409.0,444.8h0.95v0.95h-0.95zM373.9,433.6h0.95v0.95h-0.95zM408.4,434.6h0.95v0.95h-0.95zM361.0,432.1h0.95v0.95h-0.95zM330.0,452.1h0.95v0.95h-0.95zM339.1,439.7h0.95v0.95h-0.95zM350.4,436.1h0.95v0.95h-0.95zM321.8,434.6h0.95v0.95h-0.95zM355.1,456.2h0.95v0.95h-0.95zM327.6,455.1h0.95v0.95h-0.95zM384.4,429.2h0.95v0.95h-0.95zM335.3,463.9h0.95v0.95h-0.95zM356.1,433.7h0.95v0.95h-0.95zM370.6,435.3h0.95v0.95h-0.95zM411.6,457.3h0.95v0.95h-0.95zM344.8,440.0h0.95v0.95h-0.95zM400.2,453.1h0.95v0.95h-0.95zM361.3,438.0h0.95v0.95h-0.95zM327.7,431.3h0.95v0.95h-0.95zM355.6,440.1h0.95v0.95h-0.95zM322.9,452.6h0.95v0.95h-0.95zM323.1,449.6h0.95v0.95h-0.95zM345.6,450.3h0.95v0.95h-0.95zM390.6,445.3h0.95v0.95h-0.95zM378.3,436.8h0.95v0.95h-0.95zM365.0,444.6h0.95v0.95h-0.95zM332.7,452.2h0.95v0.95h-0.95zM389.4,444.6h0.95v0.95h-0.95zM411.1,439.9h0.95v0.95h-0.95zM355.4,446.5h0.95v0.95h-0.95zM380.3,450.3h0.95v0.95h-0.95zM328.0,433.5h0.95v0.95h-0.95zM353.5,435.8h0.95v0.95h-0.95zM313.0,452.6h0.95v0.95h-0.95zM380.0,452.4h0.95v0.95h-0.95zM338.0,431.5h0.95v0.95h-0.95zM321.6,433.9h0.95v0.95h-0.95zM410.6,430.9h0.95v0.95h-0.95zM367.9,439.4h0.95v0.95h-0.95zM320.1,448.2h0.95v0.95h-0.95zM376.7,454.4h0.95v0.95h-0.95zM383.0,445.2h0.95v0.95h-0.95zM337.7,449.2h0.95v0.95h-0.95zM389.4,456.8h0.95v0.95h-0.95zM328.9,462.5h0.95v0.95h-0.95zM343.3,433.8h0.95v0.95h-0.95zM341.9,438.9h0.95v0.95h-0.95zM410.6,442.1h0.95v0.95h-0.95zM339.7,468.1h0.95v0.95h-0.95zM373.3,428.2h0.95v0.95h-0.95zM330.1,432.0h0.95v0.95h-0.95zM391.7,453.4h0.95v0.95h-0.95zM345.3,433.9h0.95v0.95h-0.95zM317.6,444.2h0.95v0.95h-0.95zM357.4,448.0h0.95v0.95h-0.95zM375.1,431.6h0.95v0.95h-0.95zM340.9,468.1h0.95v0.95h-0.95zM333.5,463.5h0.95v0.95h-0.95zM340.1,441.7h0.95v0.95h-0.95zM342.0,435.3h0.95v0.95h-0.95zM362.5,437.3h0.95v0.95h-0.95zM365.3,452.3h0.95v0.95h-0.95zM394.3,449.5h0.95v0.95h-0.95zM370.0,440.7h0.95v0.95h-0.95zM366.5,446.7h0.95v0.95h-0.95zM322.9,434.3h0.95v0.95h-0.95zM340.1,441.6h0.95v0.95h-0.95zM332.1,452.7h0.95v0.95h-0.95zM378.8,433.5h0.95v0.95h-0.95zM399.8,448.1h0.95v0.95h-0.95zM377.8,442.0h0.95v0.95h-0.95zM338.0,438.0h0.95v0.95h-0.95zM356.8,428.4h0.95v0.95h-0.95zM391.1,445.0h0.95v0.95h-0.95zM349.3,434.6h0.95v0.95h-0.95zM392.6,457.1h0.95v0.95h-0.95zM377.8,451.9h0.95v0.95h-0.95zM373.3,440.6h0.95v0.95h-0.95zM367.6,435.5h0.95v0.95h-0.95zM321.8,432.5h0.95v0.95h-0.95zM362.9,441.5h0.95v0.95h-0.95zM355.6,441.5h0.95v0.95h-0.95zM404.5,449.4h0.95v0.95h-0.95zM314.1,430.7h0.95v0.95h-0.95zM377.7,439.0h0.95v0.95h-0.95zM328.2,439.7h0.95v0.95h-0.95zM335.5,461.7h0.95v0.95h-0.95zM396.6,462.9h0.95v0.95h-0.95zM378.2,448.7h0.95v0.95h-0.95zM395.8,459.0h0.95v0.95h-0.95zM349.2,434.1h0.95v0.95h-0.95zM343.9,461.0h0.95v0.95h-0.95zM362.8,436.9h0.95v0.95h-0.95zM339.2,434.0h0.95v0.95h-0.95zM397.3,457.2h0.95v0.95h-0.95zM365.4,434.7h0.95v0.95h-0.95zM336.8,438.7h0.95v0.95h-0.95zM356.9,438.2h0.95v0.95h-0.95zM411.5,436.5h0.95v0.95h-0.95zM409.8,436.2h0.95v0.95h-0.95zM403.0,448.9h0.95v0.95h-0.95zM411.1,459.5h0.95v0.95h-0.95zM330.6,441.0h0.95v0.95h-0.95zM380.7,445.5h0.95v0.95h-0.95zM359.0,454.6h0.95v0.95h-0.95zM340.3,446.5h0.95v0.95h-0.95zM377.4,442.3h0.95v0.95h-0.95zM322.3,455.3h0.95v0.95h-0.95zM390.7,451.4h0.95v0.95h-0.95zM368.6,441.2h0.95v0.95h-0.95zM366.7,438.2h0.95v0.95h-0.95zM375.1,448.9h0.95v0.95h-0.95zM348.8,451.7h0.95v0.95h-0.95zM402.3,456.5h0.95v0.95h-0.95zM404.8,441.0h0.95v0.95h-0.95zM316.3,443.9h0.95v0.95h-0.95zM329.9,453.5h0.95v0.95h-0.95zM341.6,434.1h0.95v0.95h-0.95zM344.2,450.4h0.95v0.95h-0.95zM401.8,450.9h0.95v0.95h-0.95zM376.1,431.9h0.95v0.95h-0.95zM331.1,441.6h0.95v0.95h-0.95zM392.2,446.2h0.95v0.95h-0.95zM374.7,450.8h0.95v0.95h-0.95zM407.9,442.0h0.95v0.95h-0.95zM381.9,442.6h0.95v0.95h-0.95zM347.5,445.1h0.95v0.95h-0.95zM339.7,434.8h0.95v0.95h-0.95zM364.7,440.2h0.95v0.95h-0.95zM347.2,438.0h0.95v0.95h-0.95zM362.5,433.0h0.95v0.95h-0.95zM319.4,434.3h0.95v0.95h-0.95zM324.1,442.5h0.95v0.95h-0.95zM387.8,463.4h0.95v0.95h-0.95zM326.7,454.9h0.95v0.95h-0.95zM406.4,432.2h0.95v0.95h-0.95zM405.8,433.5h0.95v0.95h-0.95zM377.6,448.9h0.95v0.95h-0.95zM320.7,435.2h0.95v0.95h-0.95zM368.4,436.2h0.95v0.95h-0.95zM335.5,438.3h0.95v0.95h-0.95zM315.8,436.7h0.95v0.95h-0.95zM341.5,448.9h0.95v0.95h-0.95zM334.4,437.4h0.95v0.95h-0.95zM391.7,447.2h0.95v0.95h-0.95zM402.6,447.6h0.95v0.95h-0.95zM391.3,452.6h0.95v0.95h-0.95zM390.8,455.0h0.95v0.95h-0.95zM393.6,469.5h0.95v0.95h-0.95zM391.0,452.9h0.95v0.95h-0.95zM402.5,441.7h0.95v0.95h-0.95zM398.2,458.1h0.95v0.95h-0.95zM395.5,470.8h0.95v0.95h-0.95zM390.3,459.9h0.95v0.95h-0.95zM394.4,445.2h0.95v0.95h-0.95zM395.8,456.4h0.95v0.95h-0.95zM389.8,457.2h0.95v0.95h-0.95zM403.1,455.0h0.95v0.95h-0.95zM390.6,444.4h0.95v0.95h-0.95zM397.5,454.1h0.95v0.95h-0.95zM392.8,466.3h0.95v0.95h-0.95zM402.9,461.9h0.95v0.95h-0.95zM399.0,470.4h0.95v0.95h-0.95zM389.2,456.2h0.95v0.95h-0.95zM392.0,468.3h0.95v0.95h-0.95zM397.0,457.6h0.95v0.95h-0.95zM402.6,457.6h0.95v0.95h-0.95zM395.3,450.7h0.95v0.95h-0.95zM394.5,462.3h0.95v0.95h-0.95zM395.1,468.8h0.95v0.95h-0.95zM393.5,461.4h0.95v0.95h-0.95zM387.5,468.6h0.95v0.95h-0.95zM391.0,464.3h0.95v0.95h-0.95zM391.0,468.1h0.95v0.95h-0.95zM393.3,449.0h0.95v0.95h-0.95zM393.5,466.8h0.95v0.95h-0.95zM395.7,447.8h0.95v0.95h-0.95zM397.9,456.9h0.95v0.95h-0.95zM391.3,457.6h0.95v0.95h-0.95zM392.8,460.3h0.95v0.95h-0.95zM393.9,466.7h0.95v0.95h-0.95zM400.0,470.6h0.95v0.95h-0.95zM396.3,458.5h0.95v0.95h-0.95zM389.9,470.6h0.95v0.95h-0.95zM400.5,469.0h0.95v0.95h-0.95zM403.5,455.7h0.95v0.95h-0.95zM392.3,460.7h0.95v0.95h-0.95zM397.8,453.9h0.95v0.95h-0.95zM390.7,451.0h0.95v0.95h-0.95zM397.4,448.8h0.95v0.95h-0.95zM390.6,443.2h0.95v0.95h-0.95zM399.0,471.8h0.95v0.95h-0.95zM391.9,447.2h0.95v0.95h-0.95zM386.8,473.1h0.95v0.95h-0.95zM384.9,454.8h0.95v0.95h-0.95zM387.9,442.3h0.95v0.95h-0.95zM400.7,465.5h0.95v0.95h-0.95zM390.4,459.0h0.95v0.95h-0.95zM400.7,450.6h0.95v0.95h-0.95zM399.3,473.6h0.95v0.95h-0.95zM397.9,470.0h0.95v0.95h-0.95zM397.4,472.2h0.95v0.95h-0.95zM391.3,454.7h0.95v0.95h-0.95zM389.3,455.5h0.95v0.95h-0.95zM395.4,448.1h0.95v0.95h-0.95zM396.0,462.1h0.95v0.95h-0.95zM397.3,450.9h0.95v0.95h-0.95zM389.5,473.7h0.95v0.95h-0.95zM394.5,451.6h0.95v0.95h-0.95zM407.4,472.6h0.95v0.95h-0.95zM394.3,449.7h0.95v0.95h-0.95zM416.3,374.8h0.95v0.95h-0.95zM413.3,366.7h0.95v0.95h-0.95zM417.1,420.3h0.95v0.95h-0.95zM421.4,361.9h0.95v0.95h-0.95zM421.2,382.7h0.95v0.95h-0.95zM410.5,367.7h0.95v0.95h-0.95zM422.9,393.6h0.95v0.95h-0.95zM413.4,435.1h0.95v0.95h-0.95zM417.3,435.5h0.95v0.95h-0.95zM413.9,431.9h0.95v0.95h-0.95zM414.2,425.1h0.95v0.95h-0.95zM421.5,437.1h0.95v0.95h-0.95zM414.9,425.3h0.95v0.95h-0.95zM420.4,434.7h0.95v0.95h-0.95zM413.1,414.1h0.95v0.95h-0.95zM411.9,438.6h0.95v0.95h-0.95zM411.7,361.9h0.95v0.95h-0.95zM411.7,387.4h0.95v0.95h-0.95zM416.5,382.4h0.95v0.95h-0.95zM418.9,377.4h0.95v0.95h-0.95zM421.4,431.6h0.95v0.95h-0.95zM415.9,408.0h0.95v0.95h-0.95zM418.6,373.1h0.95v0.95h-0.95zM410.9,370.2h0.95v0.95h-0.95zM414.3,410.2h0.95v0.95h-0.95zM411.6,381.4h0.95v0.95h-0.95zM420.4,360.0h0.95v0.95h-0.95zM418.1,421.7h0.95v0.95h-0.95zM416.4,391.1h0.95v0.95h-0.95zM415.4,369.0h0.95v0.95h-0.95zM414.5,407.1h0.95v0.95h-0.95zM411.4,385.0h0.95v0.95h-0.95zM423.1,366.0h0.95v0.95h-0.95zM415.6,404.0h0.95v0.95h-0.95zM415.3,389.0h0.95v0.95h-0.95zM414.1,433.3h0.95v0.95h-0.95zM412.6,439.9h0.95v0.95h-0.95zM425.4,392.0h0.95v0.95h-0.95zM416.7,407.5h0.95v0.95h-0.95zM419.1,430.5h0.95v0.95h-0.95zM420.8,376.4h0.95v0.95h-0.95zM411.3,421.2h0.95v0.95h-0.95zM412.0,438.9h0.95v0.95h-0.95zM414.5,437.7h0.95v0.95h-0.95zM412.2,371.5h0.95v0.95h-0.95zM412.4,436.7h0.95v0.95h-0.95zM410.8,426.6h0.95v0.95h-0.95zM412.8,397.3h0.95v0.95h-0.95zM416.1,382.2h0.95v0.95h-0.95zM418.3,369.6h0.95v0.95h-0.95zM416.9,404.7h0.95v0.95h-0.95zM410.6,389.8h0.95v0.95h-0.95zM415.1,418.1h0.95v0.95h-0.95zM417.4,417.7h0.95v0.95h-0.95zM415.6,408.9h0.95v0.95h-0.95zM413.5,433.7h0.95v0.95h-0.95zM410.6,379.4h0.95v0.95h-0.95zM414.3,426.1h0.95v0.95h-0.95zM410.4,375.4h0.95v0.95h-0.95zM413.8,373.8h0.95v0.95h-0.95zM427.8,360.0h0.95v0.95h-0.95zM413.8,426.0h0.95v0.95h-0.95zM417.2,368.2h0.95v0.95h-0.95zM412.7,429.4h0.95v0.95h-0.95zM413.2,426.1h0.95v0.95h-0.95zM413.3,425.2h0.95v0.95h-0.95zM414.4,380.5h0.95v0.95h-0.95zM411.0,365.8h0.95v0.95h-0.95zM418.0,419.2h0.95v0.95h-0.95zM415.2,412.0h0.95v0.95h-0.95zM412.2,390.1h0.95v0.95h-0.95zM416.0,395.3h0.95v0.95h-0.95zM412.9,371.8h0.95v0.95h-0.95zM423.6,408.9h0.95v0.95h-0.95zM311.8,423.3h0.95v0.95h-0.95zM305.3,418.5h0.95v0.95h-0.95zM305.9,416.6h0.95v0.95h-0.95zM305.2,401.4h0.95v0.95h-0.95zM306.2,400.8h0.95v0.95h-0.95zM314.1,426.4h0.95v0.95h-0.95zM307.5,421.4h0.95v0.95h-0.95zM305.3,387.0h0.95v0.95h-0.95zM305.4,429.7h0.95v0.95h-0.95zM312.1,416.6h0.95v0.95h-0.95zM308.2,421.9h0.95v0.95h-0.95zM307.8,404.8h0.95v0.95h-0.95zM310.6,389.7h0.95v0.95h-0.95zM310.0,394.3h0.95v0.95h-0.95zM314.2,416.1h0.95v0.95h-0.95zM314.4,387.9h0.95v0.95h-0.95zM306.1,402.3h0.95v0.95h-0.95zM315.0,419.6h0.95v0.95h-0.95z" fill="#111"/>
<rect x="71.7" y="61.4" width="100.7" height="93.4" fill="none" stroke="#3b55b0" stroke-width="1.1"/>
<rect x="283.4" y="62.8" width="101.4" height="94.4" fill="none" stroke="#3b55b0" stroke-width="1.1"/>
<rect x="495.3" y="61.8" width="100.7" height="94.3" fill="none" stroke="#3b55b0" stroke-width="1.1"/>
<rect x="68.2" y="292.9" width="100.7" height="90.6" fill="none" stroke="#3b55b0" stroke-width="1.1"/>
<rect x="280.5" y="295.2" width="103.2" height="90.1" fill="none" stroke="#3b55b0" stroke-width="1.1"/>
<rect x="493.5" y="295.3" width="102.6" height="89.7" fill="none" stroke="#3b55b0" stroke-width="1.1"/>
<text transform="translate(0.3,23) scale(0.93,1.02)" font-size="42" font-weight="bold">a</text>
<text transform="translate(0,603.7) scale(1,0.975)" font-size="42" font-weight="bold">b</text>
<text x="50.7" y="33.6" font-size="29.4">-DCs</text>
<text x="268.0" y="38.6" font-size="29.4">OVA</text>
<text x="465.1" y="38.7" font-size="29.4" style="font-kerning:none">OVA</text>
<text x="529.5" y="38.9" font-size="32">+</text>
<text transform="translate(552.3,38.7) scale(1.22,1)" font-size="29.4">α</text>
<text x="570.3" y="38.7" font-size="29.4" textLength="82.8" lengthAdjust="spacingAndGlyphs">MHCII</text>
<text x="41.3" y="277.2" font-size="29.4">CFSE</text>
<text x="43" y="526.3" font-size="29.4">CFSE</text>
<text transform="translate(22.7,240.6) rotate(-90)" font-size="29.4">DO11.10TCR</text>
<text transform="translate(22.4,484.3) rotate(-90)" font-size="29.4">LAP</text>
<path d="M423.7,969.2H460.5" stroke="#000" stroke-width="2.2"/>
<rect x="174.9" y="832.4" width="33.6" height="139.0" fill="#fff" stroke="#000" stroke-width="4.3"/>
<rect x="224.9" y="959.3" width="33.6" height="12.1" fill="#fff" stroke="#000" stroke-width="4.3"/>
<rect x="274.9" y="798.6" width="33.6" height="172.8" fill="#fff" stroke="#000" stroke-width="4.3"/>
<rect x="325.0" y="850.4" width="33.6" height="121.0" fill="#fff" stroke="#000" stroke-width="4.3"/>
<rect x="375.0" y="964.4" width="33.6" height="7.0" fill="#fff" stroke="#000" stroke-width="4.3"/>
<path d="M108.5,608.3V971.4" stroke="#000" stroke-width="4.6" fill="none"/>
<path d="M97.2,971.4H477" stroke="#000" stroke-width="4.6" fill="none"/>
<path d="M97.2,882.0H108.5M97.2,791.6H108.5M97.2,701.0H108.5M97.2,610.6H108.5M141.7,971.4v11.3M191.7,971.4v11.3M241.7,971.4v11.3M291.7,971.4v11.3M341.8,971.4v11.3M391.8,971.4v11.3M441.9,971.4v11.3" stroke="#000" stroke-width="4.3" fill="none"/>
<text x="86.5" y="981.3" font-size="30.5" text-anchor="end">0</text>
<text x="86.5" y="891.9" font-size="30.5" text-anchor="end">20</text>
<text x="86.5" y="801.5" font-size="30.5" text-anchor="end">40</text>
<text x="86.5" y="710.9" font-size="30.5" text-anchor="end">60</text>
<text x="86.5" y="620.5" font-size="30.5" text-anchor="end">80</text>
<circle cx="128.1" cy="971.0" r="7.7"/><circle cx="135.4" cy="972.2" r="7.7"/><circle cx="143.9" cy="972.6" r="7.7"/><circle cx="153.0" cy="969.2" r="7.7"/><circle cx="191.6" cy="759.2" r="7.7"/><circle cx="191.6" cy="797.4" r="7.7"/><circle cx="184.9" cy="824.9" r="7.7"/><circle cx="197.4" cy="822.4" r="7.7"/><circle cx="191.1" cy="830.6" r="7.7"/><circle cx="191.6" cy="947.7" r="7.7"/><circle cx="241.8" cy="930.2" r="7.7"/><circle cx="235.6" cy="957.2" r="7.7"/><circle cx="248.1" cy="959.2" r="7.7"/><circle cx="241.8" cy="969.5" r="7.7"/><circle cx="239.0" cy="963.0" r="7.7"/><circle cx="245.0" cy="964.0" r="7.7"/><circle cx="291.5" cy="649.6" r="7.7"/><circle cx="291.5" cy="718.8" r="7.7"/><circle cx="291.5" cy="752.9" r="7.7"/><circle cx="291.5" cy="913.1" r="7.7"/><circle cx="291.5" cy="949.8" r="7.7"/><circle cx="342.0" cy="683.7" r="7.7"/><circle cx="333.1" cy="841.2" r="7.7"/><circle cx="350.3" cy="834.9" r="7.7"/><circle cx="342.0" cy="863.7" r="7.7"/><circle cx="333.1" cy="939.3" r="7.7"/><circle cx="350.3" cy="933.7" r="7.7"/><circle cx="386.5" cy="951.7" r="7.7"/><circle cx="397.6" cy="964.6" r="7.7"/><circle cx="392.1" cy="972.2" r="7.7"/><circle cx="441.9" cy="969.1" r="7.7"/>
<text x="192.4" y="722.6" font-size="32" text-anchor="middle" letter-spacing="1.5" stroke="#000" stroke-width="0.35">**</text>
<text x="293.4" y="615.2" font-size="32" text-anchor="middle" letter-spacing="1.5" stroke="#000" stroke-width="0.35">**</text>
<text x="343.2" y="615.2" font-size="32" text-anchor="middle" letter-spacing="1.5" stroke="#000" stroke-width="0.35">*</text>
<text transform="translate(150.9,1003.9) rotate(-45)" font-size="30" text-anchor="end" style="font-kerning:none">No DCs</text>
<text transform="translate(204.9,1002.4) rotate(-45)" font-size="30" text-anchor="end" style="font-kerning:none">Total CD11c+</text>
<text transform="translate(254.9,1002.4) rotate(-45)" font-size="30" text-anchor="end" style="font-kerning:none">CD103+</text>
<text transform="translate(304.9,1002.4) rotate(-45)" font-size="30" text-anchor="end" style="font-kerning:none">EpCAM+</text>
<text transform="translate(355.0,1002.4) rotate(-45)" font-size="30" text-anchor="end" style="font-kerning:none">CD11b+</text>
<text transform="translate(403.9,1004.3) rotate(-45)" font-size="30" text-anchor="end" style="font-kerning:none">Neg</text>
<text transform="translate(456.8,1002.6) rotate(-45)" font-size="30" text-anchor="end" style="font-kerning:none">CD8a+</text>
<text transform="translate(26,927) rotate(-90)" font-size="29.5" textLength="288" lengthAdjust="spacingAndGlyphs">% CFSE<tspan font-size="21" dy="7.5">low</tspan><tspan dy="-7.5"> CD4+T cells</tspan></text>
<rect x="933.3" y="965" width="37.2" height="6" fill="#000"/>
<rect x="634.2" y="967.2" width="33.6" height="4" fill="#000"/>
<rect x="732.4" y="964.6" width="37.6" height="6.4" fill="#000"/>
<rect x="684.2" y="747.2" width="33.6" height="224.3" fill="#fff" stroke="#000" stroke-width="4.3"/>
<rect x="784.5" y="906.6" width="33.6" height="64.9" fill="#fff" stroke="#000" stroke-width="4.3"/>
<rect x="834.7" y="871.2" width="33.6" height="100.3" fill="#fff" stroke="#000" stroke-width="4.3"/>
<path d="M617,607.6V971.5" stroke="#000" stroke-width="4.6" fill="none"/>
<path d="M605.7,971.5H987" stroke="#000" stroke-width="4.6" fill="none"/>
<path d="M605.7,898.6H617M605.7,826.5H617M605.7,754.3H617M605.7,682.0H617M605.7,609.9H617M651.0,971.5v11.3M701.0,971.5v11.3M751.3,971.5v11.3M801.3,971.5v11.3M851.5,971.5v11.3M901.8,971.5v11.3M951.8,971.5v11.3" stroke="#000" stroke-width="4.3" fill="none"/>
<text x="595.0" y="980.9" font-size="30.5" text-anchor="end">0</text>
<text x="595.0" y="908.5" font-size="30.5" text-anchor="end">2</text>
<text x="595.0" y="836.4" font-size="30.5" text-anchor="end">4</text>
<text x="595.0" y="764.2" font-size="30.5" text-anchor="end">6</text>
<text x="595.0" y="691.9" font-size="30.5" text-anchor="end">8</text>
<text x="595.0" y="619.8" font-size="30.5" text-anchor="end">10</text>
<circle cx="639.3" cy="968.7" r="7.6"/><circle cx="646.0" cy="971.5" r="7.6"/><circle cx="652.0" cy="971.7" r="7.6"/><circle cx="659.6" cy="969.5" r="7.6"/><circle cx="662.1" cy="954.8" r="7.6"/><circle cx="700.9" cy="692.7" r="7.6"/><circle cx="709.7" cy="761.9" r="7.6"/><circle cx="692.5" cy="781.4" r="7.6"/><circle cx="751.4" cy="946.4" r="7.6"/><circle cx="762.3" cy="962.4" r="7.6"/><circle cx="739.5" cy="971.0" r="7.6"/><circle cx="745.0" cy="971.3" r="7.6"/><circle cx="751.0" cy="971.5" r="7.6"/><circle cx="757.0" cy="971.0" r="7.6"/><circle cx="801.3" cy="860.5" r="7.6"/><circle cx="790.2" cy="910.4" r="7.6"/><circle cx="812.5" cy="909.2" r="7.6"/><circle cx="797.0" cy="925.1" r="7.6"/><circle cx="805.9" cy="921.8" r="7.6"/><circle cx="851.5" cy="715.3" r="7.6"/><circle cx="851.5" cy="851.4" r="7.6"/><circle cx="851.5" cy="876.3" r="7.6"/><circle cx="845.9" cy="918.5" r="7.6"/><circle cx="857.3" cy="926.4" r="7.6"/><circle cx="851.0" cy="930.0" r="7.6"/><circle cx="893.3" cy="971.2" r="7.6"/><circle cx="910.5" cy="971.2" r="7.6"/><circle cx="951.8" cy="964.9" r="7.6"/>
<text x="701.5" y="667.3" font-size="32" text-anchor="middle" letter-spacing="1.5" stroke="#000" stroke-width="0.35">**</text>
<text x="853" y="667.0" font-size="32" text-anchor="middle" letter-spacing="1.5" stroke="#000" stroke-width="0.35">*</text>
<text transform="translate(660.2,1004.0) rotate(-45)" font-size="30" text-anchor="end" style="font-kerning:none">No DCs</text>
<text transform="translate(714.2,1002.5) rotate(-45)" font-size="30" text-anchor="end" style="font-kerning:none">Total CD11c+</text>
<text transform="translate(764.5,1002.5) rotate(-45)" font-size="30" text-anchor="end" style="font-kerning:none">CD103+</text>
<text transform="translate(814.5,1002.5) rotate(-45)" font-size="30" text-anchor="end" style="font-kerning:none">EpCAM+</text>
<text transform="translate(864.7,1002.5) rotate(-45)" font-size="30" text-anchor="end" style="font-kerning:none">CD11b+</text>
<text transform="translate(913.9,1004.4) rotate(-45)" font-size="30" text-anchor="end" style="font-kerning:none">Neg</text>
<text transform="translate(966.7,1002.7) rotate(-45)" font-size="30" text-anchor="end" style="font-kerning:none">CD8a+</text>
<text transform="translate(537.6,901.5) rotate(-90)" font-size="29.5" textLength="219" lengthAdjust="spacingAndGlyphs">% CFSE<tspan font-size="21" dy="7.5">low</tspan><tspan dy="-7.5"> LAP+</tspan></text>
</svg>
</body></html>
